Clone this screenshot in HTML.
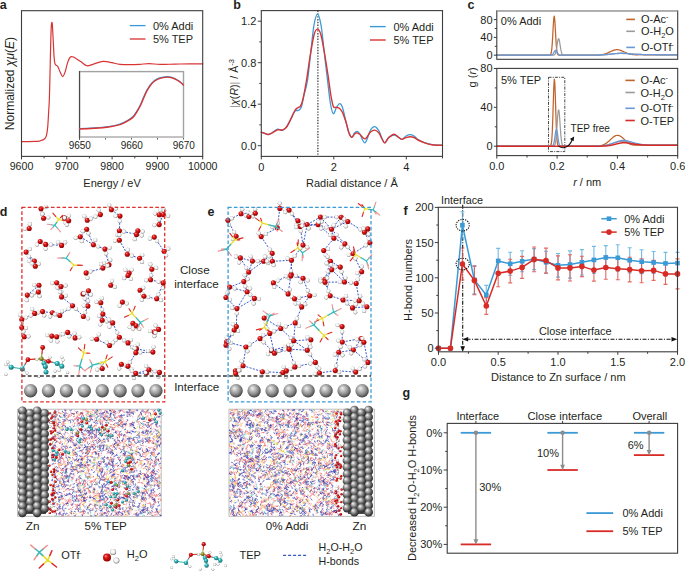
<!DOCTYPE html>
<html><head><meta charset="utf-8"><style>
html,body{margin:0;padding:0;background:#fff;width:685px;height:572px;overflow:hidden}
svg{display:block;font-family:"Liberation Sans",sans-serif}
.gO{fill:url(#gO)}.gH{fill:url(#gH)}.gZ{fill:url(#gZ)}.gC{fill:url(#gC)}.gP{fill:url(#gP)}.gS{fill:url(#gS)}
</style></head><body>
<svg width="685" height="572" viewBox="0 0 685 572">
<defs>
<radialGradient id="gO" cx="0.42" cy="0.38" r="0.62" fx="0.34" fy="0.3"><stop offset="0" stop-color="#ff9a9a"/><stop offset="0.35" stop-color="#e41a1a"/><stop offset="1" stop-color="#8a0000"/></radialGradient>
<radialGradient id="gH" cx="0.47" cy="0.45" r="0.55" fx="0.4" fy="0.36"><stop offset="0" stop-color="#ffffff"/><stop offset="0.55" stop-color="#f3f3f3"/><stop offset="0.8" stop-color="#bdbdbd"/><stop offset="1" stop-color="#6a6a6a"/></radialGradient>
<radialGradient id="gZ" cx="0.45" cy="0.42" r="0.6" fx="0.36" fy="0.3"><stop offset="0" stop-color="#f2f2f2"/><stop offset="0.28" stop-color="#c6c6c6"/><stop offset="0.65" stop-color="#8c8c8c"/><stop offset="0.88" stop-color="#565656"/><stop offset="1" stop-color="#383838"/></radialGradient>
<radialGradient id="gC" cx="0.42" cy="0.38" r="0.62" fx="0.34" fy="0.3"><stop offset="0" stop-color="#b8ffff"/><stop offset="0.4" stop-color="#35b5b8"/><stop offset="1" stop-color="#156a6c"/></radialGradient>
<radialGradient id="gP" cx="0.42" cy="0.38" r="0.62" fx="0.34" fy="0.3"><stop offset="0" stop-color="#e0e09a"/><stop offset="0.4" stop-color="#9a9a3a"/><stop offset="1" stop-color="#55551a"/></radialGradient>
<radialGradient id="gS" cx="0.45" cy="0.42" r="0.6" fx="0.33" fy="0.28"><stop offset="0" stop-color="#fafafa"/><stop offset="0.14" stop-color="#dadada"/><stop offset="0.45" stop-color="#8c8c8c"/><stop offset="0.75" stop-color="#4a4a4a"/><stop offset="1" stop-color="#202020"/></radialGradient>
</defs>
<g>
<path d="M119.4 337.3L109.6 345.5M154.3 237.1L164.1 251.3M83 293.9L87.9 306.1M21.8 319.6L24.3 336.7M150.6 279.8L163.2 282.9M102.2 320.2L112.7 322.9M39 285.3L38.4 292M42.6 311.6L34.7 313.4M87.9 306.1L83.4 316.5M34.4 261L35.3 266.2M39 285.3L27.3 295.1M109 264.8L102.9 268.1M40.2 241.5L45.7 244.4M119.4 230.7L119.4 240.3M100.8 302.8L102.2 320.2M121.4 364.2L135.8 373.4M159.2 214.8L159.2 224.6M127.3 254.2L139.6 258.3M135.8 373.4L149 369.8M104.9 249.1L109 264.8M56.7 336.7L67.7 332.4M67.7 332.4L75.1 337.9M86.7 229.2L93.4 244.8M83 293.9L88.5 290.8M21.8 319.6L21.8 327.5M163.2 282.9L156.7 298.8M86.1 272.9L102.9 268.1M120 216L119.4 230.7M21.8 327.5L24.3 336.7M61 286.5L61.6 296.9M52.4 312.8L59.8 315.5M135.8 352.7L152.9 352.1M41 208.7L43.6 218.2M45.7 244.4L61.6 245.4M102.9 314.1L112.7 322.9M100.8 302.8L102.9 314.1M96.7 339.2L109.6 345.5M93.4 244.8L104.9 249.1M135.8 373.4L146.4 373.1M38.4 292L27.3 295.1M26.1 252.1L35.3 266.2M56.7 282.8L61 286.5M128 342.9L135.8 352.7M86.7 229.2L80.3 236.8M59.8 315.5L72.6 305.7M111.4 209.7L120 216M88.5 290.8L87.9 306.1M119.4 337.3L128 342.9M119.4 240.3L127.3 254.2M128 366.3L135.8 373.4M163.2 214.6L159.2 224.6M42.6 311.6L52.4 312.8M140 290.2L143.9 296.3M136.5 348.8L152.9 352.1M135.8 352.7L128 366.3M119.4 230.7L136.5 234.4M72.6 305.7L83.4 316.5M151.8 269.3L150.6 279.8M87.3 220.3L100.4 214.6M121.4 364.2L128 366.3M64.3 217.8L68.7 220.7M26.1 252.1L34.4 261M61.6 296.9L72.6 305.7M102.9 314.1L102.2 320.2M149 369.8L159.5 372.4M56.7 282.8L61.6 296.9M112.7 322.9L119.4 337.3M143.9 296.3L156.7 298.8M34.7 313.4L21.8 319.6M80.3 236.8L93.4 244.8" stroke="#3858cc" stroke-width="1" stroke-dasharray="2,1.4" fill="none"/>
<path d="M41 208.7l2.4-.8M41 208.7l.7 2.5M43.6 218.2l-.6-2M43.6 218.2l2.4-.4M64.3 217.8l2.4-1M64.3 217.8l.4 2.4M68.7 220.7l-.9 2.1M68.7 220.7l-2.1-1.4M29.2 228.5l.3-2.1M29.2 228.5l-2.1 .2M87.3 220.3l-1.5-2M87.3 220.3l1.9-.8M86.7 229.2l.9 2M86.7 229.2l-2 1M80.3 236.8l-2.3 .6M80.3 236.8l.8 2.2M40.2 241.5l1.9 1M40.2 241.5l-1.6 1.6M45.7 244.4l2.6 .2M45.7 244.4l-.1 2.2M61.6 245.4l1.8-1.5M61.6 245.4l-1.8-1.5M26.1 252.1l1.4 2.2M26.1 252.1l1.9-1.5M34.4 261l-2.6-0M34.4 261l.4 2.4M35.3 266.2l1.7-1.1M35.3 266.2l-1.7-1.4M93.4 244.8l2.3 .9M93.4 244.8l.9-2.4M86.1 272.9l2.2-.6M86.1 272.9l.7 2.5M111.4 209.7l2.2-.6M111.4 209.7l-1-2.4M100.4 214.6l-2.5 1.1M100.4 214.6l-.8-2.1M120 216l-.1 2.5M120 216l-2.3-0M159.2 214.8l-2.1-.6M159.2 214.8l.5-2.4M163.2 214.6l.4-2.2M163.2 214.6l2.5 .6M159.2 224.6l-2.3 .3M159.2 224.6l0-2.5M119.4 230.7l2.3 .5M119.4 230.7l-1 2.1M137.8 230.7l2.4 .4M137.8 230.7l-.7 2.2M136.5 234.4l-.8 2.4M136.5 234.4l2.6 .6M154.3 237.1l-2.2 .8M154.3 237.1l1.4 2M119.4 240.3l0-2.7M119.4 240.3l-2.2 .3M104.9 249.1l.6 2.2M104.9 249.1l2.4-.6M127.3 254.2l.2-2.2M127.3 254.2l2.3 .8M164.1 251.3l2.1-1.3M164.1 251.3l1 2.1M139.6 258.3l1.4-1.6M139.6 258.3l1.2 1.8M109 264.8l-2.4-.9M109 264.8l.7-2.5M102.9 268.1l-.9-1.9M102.9 268.1l2.3-1.2M151.8 269.3l2.2-.7M151.8 269.3l-.7-2.5M129.2 273l-1.9-1.6M129.2 273l1.3-1.6M39 285.3l-2.3-.1M39 285.3l-.2 2.2M38.4 292l.5 2.1M38.4 292l-2.3 .6M56.7 282.8l-2.2 .1M56.7 282.8l.3 2.4M61 286.5l2.3-.4M61 286.5l.2 2.6M27.3 295.1l-.2 2.6M27.3 295.1l2.3 .1M61.6 296.9l2-.5M61.6 296.9l-.8-2.4M83 293.9l.9 2.3M83 293.9l1.9-.7M88.5 290.8l-2.3 1.3M88.5 290.8l1.2 2M87.9 306.1l.1-2.5M87.9 306.1l-2-.2M42.6 311.6l.9 1.9M42.6 311.6l-2.2 .5M34.7 313.4l-1.3-2.1M34.7 313.4l-1.9 1.1M52.4 312.8l2.2 .8M52.4 312.8l-1.1 1.9M59.8 315.5l-2.4-.6M59.8 315.5l1.2-2.1M72.6 305.7l-2 1.6M72.6 305.7l1.6 1.5M83.4 316.5l.9-2M83.4 316.5l2.3 1M21.8 319.6l-.9-2.4M21.8 319.6l2.2-1M21.8 327.5l0-2.2M21.8 327.5l2.1 .2M24.3 336.7l-.4-2.6M24.3 336.7l2.1-.1M51.8 336.1l-.4 2.2M51.8 336.1l-2.2-.5M56.7 336.7l2.2-1.2M56.7 336.7l.4 2.4M67.7 332.4l.7 2.1M67.7 332.4l-2.3 .9M75.1 337.9l-.3-2.1M75.1 337.9l2.1-.3M128 275.5l-1.9 1.4M128 275.5l1.5 1.8M150.6 279.8l-2.1 .2M150.6 279.8l.3-2.2M163.2 282.9l-2.3-.6M163.2 282.9l-.1 2.6M110.8 285.3l.7-2.2M110.8 285.3l2 .8M140 290.2l1.6-1.2M140 290.2l1.2 1.9M143.9 296.3l2.1 .4M143.9 296.3l-1.1 1.9M156.7 298.8l.9-2.1M156.7 298.8l2.1 .7M122.4 302.1l2.1 .7M122.4 302.1l-1.4 1.8M100.8 302.8l.6-2.3M100.8 302.8l-2.2-.4M102.9 314.1l-1.8 .9M102.9 314.1l-.4-2.2M102.2 320.2l-1 2.2M102.2 320.2l2.3 .6M112.7 322.9l-1.8-1.6M112.7 322.9l-1.6 1.9M132.9 323.3l1.9 1.7M132.9 323.3l-1.6 1.9M136.3 325.7l-1.7 1.5M136.3 325.7l1.5 1.6M154.3 331.8l.1 2.2M154.3 331.8l-2.1-.4M158.6 329.4l-1.6-1.9M158.6 329.4l-1.6 1.7M119.4 337.3l-1.1-2.3M119.4 337.3l-1.9 1.4M96.7 339.2l1-2.3M96.7 339.2l-2.4-.2M109.6 345.5l1.7-1.4M109.6 345.5l-1.4-1.5M128 342.9l1.4-1.4M128 342.9l-1.9-1.3M136.5 348.8l.6-2.1M136.5 348.8l-2.1-.8M135.8 352.7l2.3-.1M135.8 352.7l-.5-2.2M152.9 352.1l.3-2.5M152.9 352.1l-2.4-.5M121.4 364.2l2.1 .7M121.4 364.2l-1.1 2.2M128 366.3l1-1.9M128 366.3l1.6 1.5M102.3 368.5l-.4-2.5M102.3 368.5l-2.5 .6M135.8 373.4l-1.9-1.2M135.8 373.4l-1 2.3M146.4 373.1l.9-2.1M146.4 373.1l2.3 .8M149 369.8l-1.8 1.4M149 369.8l-1.4-1.9M159.5 372.4l-.5 2.1M159.5 372.4l-2.3-.6" stroke="#d83030" stroke-width="1.1" stroke-linecap="round" fill="none"/>
<path d="M43.4 207.9l2.4-.8M41.7 211.2l.7 2.5M43 216.2l-.6-2M46 217.8l2.4-.4M66.7 216.8l2.4-1M64.7 220.2l.4 2.4M67.8 222.8l-.9 2.1M66.6 219.3l-2.1-1.4M29.5 226.4l.3-2.1M27.1 228.7l-2.1 .2M85.8 218.3l-1.5-2M89.2 219.5l1.9-.8M87.6 231.2l.9 2M84.7 230.2l-2 1M78 237.4l-2.3 .6M81.1 239l.8 2.2M42.1 242.5l1.9 1M38.6 243.1l-1.6 1.6M48.3 244.6l2.6 .2M45.6 246.6l-.1 2.2M63.4 243.9l1.8-1.5M59.8 243.9l-1.8-1.5M27.5 254.3l1.4 2.2M28 250.6l1.9-1.5M31.8 261l-2.6-0M34.8 263.4l.4 2.4M37 265.1l1.7-1.1M33.6 264.8l-1.7-1.4M95.7 245.7l2.3 .9M94.3 242.4l.9-2.4M88.3 272.3l2.2-.6M86.8 275.4l.7 2.5M113.6 209.1l2.2-.6M110.4 207.3l-1-2.4M97.9 215.7l-2.5 1.1M99.6 212.5l-.8-2.1M119.9 218.5l-.1 2.5M117.7 216l-2.3-0M157.1 214.2l-2.1-.6M159.7 212.4l.5-2.4M163.6 212.4l.4-2.2M165.7 215.2l2.5 .6M156.9 224.9l-2.3 .3M159.2 222.1l0-2.5M121.7 231.2l2.3 .5M118.4 232.8l-1 2.1M140.2 231.1l2.4 .4M137.1 232.9l-.7 2.2M135.7 236.8l-.8 2.4M139.1 235l2.6 .6M152.1 237.9l-2.2 .8M155.7 239.1l1.4 2M119.4 237.6l0-2.7M117.2 240.6l-2.2 .3M105.5 251.3l.6 2.2M107.3 248.5l2.4-.6M127.5 252l.2-2.2M129.6 255l2.3 .8M166.2 250l2.1-1.3M165.1 253.4l1 2.1M141 256.7l1.4-1.6M140.8 260.1l1.2 1.8M106.6 263.9l-2.4-.9M109.7 262.3l.7-2.5M102 266.2l-.9-1.9M105.2 266.9l2.3-1.2M154 268.6l2.2-.7M151.1 266.8l-.7-2.5M127.3 271.4l-1.9-1.6M130.5 271.4l1.3-1.6M36.7 285.2l-2.3-.1M38.8 287.5l-.2 2.2M38.9 294.1l.5 2.1M36.1 292.6l-2.3 .6M54.5 282.9l-2.2 .1M57 285.2l.3 2.4M63.3 286.1l2.3-.4M61.2 289.1l.2 2.6M27.1 297.7l-.2 2.6M29.6 295.2l2.3 .1M63.6 296.4l2-.5M60.8 294.5l-.8-2.4M83.9 296.2l.9 2.3M84.9 293.2l1.9-.7M86.2 292.1l-2.3 1.3M89.7 292.8l1.2 2M88 303.6l.1-2.5M85.9 305.9l-2-.2M43.5 313.5l.9 1.9M40.4 312.1l-2.2 .5M33.4 311.3l-1.3-2.1M32.8 314.5l-1.9 1.1M54.6 313.6l2.2 .8M51.3 314.7l-1.1 1.9M57.4 314.9l-2.4-.6M61 313.4l1.2-2.1M70.6 307.3l-2 1.6M74.2 307.2l1.6 1.5M84.3 314.5l.9-2M85.7 317.5l2.3 1M20.9 317.2l-.9-2.4M24 318.6l2.2-1M21.8 325.3l0-2.2M23.9 327.7l2.1 .2M23.9 334.1l-.4-2.6M26.4 336.6l2.1-.1M51.4 338.3l-.4 2.2M49.6 335.6l-2.2-.5M58.9 335.5l2.2-1.2M57.1 339.1l.4 2.4M68.4 334.5l.7 2.1M65.4 333.3l-2.3 .9M74.8 335.8l-.3-2.1M77.2 337.6l2.1-.3M126.1 276.9l-1.9 1.4M129.5 277.3l1.5 1.8M148.5 280l-2.1 .2M150.9 277.6l.3-2.2M160.9 282.3l-2.3-.6M163.1 285.5l-.1 2.6M111.5 283.1l.7-2.2M112.8 286.1l2 .8M141.6 289l1.6-1.2M141.2 292.1l1.2 1.9M146 296.7l2.1 .4M142.8 298.2l-1.1 1.9M157.6 296.7l.9-2.1M158.8 299.5l2.1 .7M124.5 302.8l2.1 .7M121 303.9l-1.4 1.8M101.4 300.5l.6-2.3M98.6 302.4l-2.2-.4M101.1 315l-1.8 .9M102.5 311.9l-.4-2.2M101.2 322.4l-1 2.2M104.5 320.8l2.3 .6M110.9 321.3l-1.8-1.6M111.1 324.8l-1.6 1.9M134.8 325l1.9 1.7M131.3 325.2l-1.6 1.9M134.6 327.2l-1.7 1.5M137.8 327.3l1.5 1.6M154.4 334l.1 2.2M152.2 331.4l-2.1-.4M157 327.5l-1.6-1.9M157 331.1l-1.6 1.7M118.3 335l-1.1-2.3M117.5 338.7l-1.9 1.4M97.7 336.9l1-2.3M94.3 339l-2.4-.2M111.3 344.1l1.7-1.4M108.2 344l-1.4-1.5M129.4 341.5l1.4-1.4M126.1 341.6l-1.9-1.3M137.1 346.7l.6-2.1M134.4 348l-2.1-.8M138.1 352.6l2.3-.1M135.3 350.5l-.5-2.2M153.2 349.6l.3-2.5M150.5 351.6l-2.4-.5M123.5 364.9l2.1 .7M120.3 366.4l-1.1 2.2M129 364.4l1-1.9M129.6 367.8l1.6 1.5M101.9 366l-.4-2.5M99.8 369.1l-2.5 .6M133.9 372.2l-1.9-1.2M134.8 375.7l-1 2.3M147.3 371l.9-2.1M148.7 373.9l2.3 .8M147.2 371.2l-1.8 1.4M147.6 367.9l-1.4-1.9M159 374.5l-.5 2.1M157.2 371.8l-2.3-.6" stroke="#e8e8e8" stroke-width="1.1" stroke-linecap="round" fill="none"/>
<circle cx="45.8" cy="207.1" r="2.1" class="gH"/>
<circle cx="41" cy="208.7" r="2.55" class="gO"/>
<circle cx="42.4" cy="213.7" r="2.1" class="gH"/>
<circle cx="42.4" cy="214.2" r="2.1" class="gH"/>
<circle cx="43.6" cy="218.2" r="2.55" class="gO"/>
<circle cx="48.4" cy="217.5" r="2.1" class="gH"/>
<circle cx="69" cy="215.8" r="2.1" class="gH"/>
<circle cx="64.3" cy="217.8" r="2.55" class="gO"/>
<circle cx="65.2" cy="222.6" r="2.1" class="gH"/>
<circle cx="66.9" cy="224.8" r="2.1" class="gH"/>
<circle cx="68.7" cy="220.7" r="2.55" class="gO"/>
<circle cx="64.5" cy="217.9" r="2.1" class="gH"/>
<circle cx="29.9" cy="224.2" r="2.1" class="gH"/>
<circle cx="29.2" cy="228.5" r="2.55" class="gO"/>
<circle cx="25" cy="228.8" r="2.1" class="gH"/>
<circle cx="84.4" cy="216.3" r="2.1" class="gH"/>
<circle cx="87.3" cy="220.3" r="2.55" class="gO"/>
<circle cx="91" cy="218.7" r="2.1" class="gH"/>
<circle cx="88.5" cy="233.3" r="2.1" class="gH"/>
<circle cx="86.7" cy="229.2" r="2.55" class="gO"/>
<circle cx="82.8" cy="231.2" r="2.1" class="gH"/>
<circle cx="75.7" cy="237.9" r="2.1" class="gH"/>
<circle cx="80.3" cy="236.8" r="2.55" class="gO"/>
<circle cx="81.9" cy="241.2" r="2.1" class="gH"/>
<circle cx="44" cy="243.5" r="2.1" class="gH"/>
<circle cx="40.2" cy="241.5" r="2.55" class="gO"/>
<circle cx="37" cy="244.7" r="2.1" class="gH"/>
<circle cx="50.9" cy="244.7" r="2.1" class="gH"/>
<circle cx="45.7" cy="244.4" r="2.55" class="gO"/>
<circle cx="45.6" cy="248.8" r="2.1" class="gH"/>
<circle cx="65.2" cy="242.4" r="2.1" class="gH"/>
<circle cx="61.6" cy="245.4" r="2.55" class="gO"/>
<circle cx="58.1" cy="242.3" r="2.1" class="gH"/>
<circle cx="28.9" cy="256.5" r="2.1" class="gH"/>
<circle cx="26.1" cy="252.1" r="2.55" class="gO"/>
<circle cx="29.8" cy="249.1" r="2.1" class="gH"/>
<circle cx="29.3" cy="261" r="2.1" class="gH"/>
<circle cx="34.4" cy="261" r="2.55" class="gO"/>
<circle cx="35.2" cy="265.8" r="2.1" class="gH"/>
<circle cx="38.7" cy="263.9" r="2.1" class="gH"/>
<circle cx="35.3" cy="266.2" r="2.55" class="gO"/>
<circle cx="32" cy="263.5" r="2.1" class="gH"/>
<circle cx="98.1" cy="246.5" r="2.1" class="gH"/>
<circle cx="93.4" cy="244.8" r="2.55" class="gO"/>
<circle cx="95.3" cy="240.1" r="2.1" class="gH"/>
<circle cx="90.5" cy="271.6" r="2.1" class="gH"/>
<circle cx="86.1" cy="272.9" r="2.55" class="gO"/>
<circle cx="87.5" cy="277.9" r="2.1" class="gH"/>
<circle cx="115.8" cy="208.6" r="2.1" class="gH"/>
<circle cx="111.4" cy="209.7" r="2.55" class="gO"/>
<circle cx="109.3" cy="205" r="2.1" class="gH"/>
<circle cx="95.5" cy="216.7" r="2.1" class="gH"/>
<circle cx="100.4" cy="214.6" r="2.55" class="gO"/>
<circle cx="98.8" cy="210.3" r="2.1" class="gH"/>
<circle cx="119.8" cy="221" r="2.1" class="gH"/>
<circle cx="120" cy="216" r="2.55" class="gO"/>
<circle cx="115.5" cy="216" r="2.1" class="gH"/>
<circle cx="155" cy="213.6" r="2.1" class="gH"/>
<circle cx="159.2" cy="214.8" r="2.55" class="gO"/>
<circle cx="160.2" cy="210" r="2.1" class="gH"/>
<circle cx="164.1" cy="210.2" r="2.1" class="gH"/>
<circle cx="163.2" cy="214.6" r="2.55" class="gO"/>
<circle cx="168.2" cy="215.8" r="2.1" class="gH"/>
<circle cx="154.5" cy="225.2" r="2.1" class="gH"/>
<circle cx="159.2" cy="224.6" r="2.55" class="gO"/>
<circle cx="159.2" cy="219.6" r="2.1" class="gH"/>
<circle cx="123.9" cy="231.7" r="2.1" class="gH"/>
<circle cx="119.4" cy="230.7" r="2.55" class="gO"/>
<circle cx="117.3" cy="234.9" r="2.1" class="gH"/>
<circle cx="142.6" cy="231.6" r="2.1" class="gH"/>
<circle cx="137.8" cy="230.7" r="2.55" class="gO"/>
<circle cx="136.4" cy="235.2" r="2.1" class="gH"/>
<circle cx="134.8" cy="239.2" r="2.1" class="gH"/>
<circle cx="136.5" cy="234.4" r="2.55" class="gO"/>
<circle cx="141.7" cy="235.6" r="2.1" class="gH"/>
<circle cx="149.9" cy="238.7" r="2.1" class="gH"/>
<circle cx="154.3" cy="237.1" r="2.55" class="gO"/>
<circle cx="157" cy="241" r="2.1" class="gH"/>
<circle cx="119.4" cy="235" r="2.1" class="gH"/>
<circle cx="119.4" cy="240.3" r="2.55" class="gO"/>
<circle cx="115" cy="240.8" r="2.1" class="gH"/>
<circle cx="106.1" cy="253.6" r="2.1" class="gH"/>
<circle cx="104.9" cy="249.1" r="2.55" class="gO"/>
<circle cx="109.7" cy="247.8" r="2.1" class="gH"/>
<circle cx="127.8" cy="249.9" r="2.1" class="gH"/>
<circle cx="127.3" cy="254.2" r="2.55" class="gO"/>
<circle cx="131.8" cy="255.7" r="2.1" class="gH"/>
<circle cx="168.3" cy="248.7" r="2.1" class="gH"/>
<circle cx="164.1" cy="251.3" r="2.55" class="gO"/>
<circle cx="166.1" cy="255.5" r="2.1" class="gH"/>
<circle cx="142.3" cy="255" r="2.1" class="gH"/>
<circle cx="139.6" cy="258.3" r="2.55" class="gO"/>
<circle cx="142.1" cy="261.9" r="2.1" class="gH"/>
<circle cx="104.1" cy="263.1" r="2.1" class="gH"/>
<circle cx="109" cy="264.8" r="2.55" class="gO"/>
<circle cx="110.3" cy="259.9" r="2.1" class="gH"/>
<circle cx="101.1" cy="264.2" r="2.1" class="gH"/>
<circle cx="102.9" cy="268.1" r="2.55" class="gO"/>
<circle cx="107.5" cy="265.6" r="2.1" class="gH"/>
<circle cx="156.2" cy="267.9" r="2.1" class="gH"/>
<circle cx="151.8" cy="269.3" r="2.55" class="gO"/>
<circle cx="150.4" cy="264.4" r="2.1" class="gH"/>
<circle cx="125.4" cy="269.8" r="2.1" class="gH"/>
<circle cx="129.2" cy="273" r="2.55" class="gO"/>
<circle cx="131.7" cy="269.8" r="2.1" class="gH"/>
<circle cx="34.3" cy="285.1" r="2.1" class="gH"/>
<circle cx="39" cy="285.3" r="2.55" class="gO"/>
<circle cx="38.6" cy="289.6" r="2.1" class="gH"/>
<circle cx="39.5" cy="296.2" r="2.1" class="gH"/>
<circle cx="38.4" cy="292" r="2.55" class="gO"/>
<circle cx="33.8" cy="293.3" r="2.1" class="gH"/>
<circle cx="52.3" cy="283.1" r="2.1" class="gH"/>
<circle cx="56.7" cy="282.8" r="2.55" class="gO"/>
<circle cx="57.4" cy="287.6" r="2.1" class="gH"/>
<circle cx="65.6" cy="285.6" r="2.1" class="gH"/>
<circle cx="61" cy="286.5" r="2.55" class="gO"/>
<circle cx="61.3" cy="291.8" r="2.1" class="gH"/>
<circle cx="26.9" cy="300.2" r="2.1" class="gH"/>
<circle cx="27.3" cy="295.1" r="2.55" class="gO"/>
<circle cx="31.9" cy="295.4" r="2.1" class="gH"/>
<circle cx="65.7" cy="295.8" r="2.1" class="gH"/>
<circle cx="61.6" cy="296.9" r="2.55" class="gO"/>
<circle cx="59.9" cy="292.1" r="2.1" class="gH"/>
<circle cx="84.9" cy="298.6" r="2.1" class="gH"/>
<circle cx="83" cy="293.9" r="2.55" class="gO"/>
<circle cx="86.9" cy="292.6" r="2.1" class="gH"/>
<circle cx="83.9" cy="293.4" r="2.1" class="gH"/>
<circle cx="88.5" cy="290.8" r="2.55" class="gO"/>
<circle cx="90.8" cy="294.7" r="2.1" class="gH"/>
<circle cx="88.1" cy="301" r="2.1" class="gH"/>
<circle cx="87.9" cy="306.1" r="2.55" class="gO"/>
<circle cx="83.9" cy="305.6" r="2.1" class="gH"/>
<circle cx="44.3" cy="315.4" r="2.1" class="gH"/>
<circle cx="42.6" cy="311.6" r="2.55" class="gO"/>
<circle cx="38.2" cy="312.6" r="2.1" class="gH"/>
<circle cx="32.2" cy="309.1" r="2.1" class="gH"/>
<circle cx="34.7" cy="313.4" r="2.55" class="gO"/>
<circle cx="30.8" cy="315.6" r="2.1" class="gH"/>
<circle cx="56.8" cy="314.4" r="2.1" class="gH"/>
<circle cx="52.4" cy="312.8" r="2.55" class="gO"/>
<circle cx="50.1" cy="316.6" r="2.1" class="gH"/>
<circle cx="54.9" cy="314.3" r="2.1" class="gH"/>
<circle cx="59.8" cy="315.5" r="2.55" class="gO"/>
<circle cx="62.1" cy="311.3" r="2.1" class="gH"/>
<circle cx="68.5" cy="308.8" r="2.1" class="gH"/>
<circle cx="72.6" cy="305.7" r="2.55" class="gO"/>
<circle cx="75.9" cy="308.8" r="2.1" class="gH"/>
<circle cx="85.1" cy="312.5" r="2.1" class="gH"/>
<circle cx="83.4" cy="316.5" r="2.55" class="gO"/>
<circle cx="88" cy="318.5" r="2.1" class="gH"/>
<circle cx="20" cy="314.9" r="2.1" class="gH"/>
<circle cx="21.8" cy="319.6" r="2.55" class="gO"/>
<circle cx="26.1" cy="317.5" r="2.1" class="gH"/>
<circle cx="21.8" cy="323.1" r="2.1" class="gH"/>
<circle cx="21.8" cy="327.5" r="2.55" class="gO"/>
<circle cx="26" cy="328" r="2.1" class="gH"/>
<circle cx="23.5" cy="331.5" r="2.1" class="gH"/>
<circle cx="24.3" cy="336.7" r="2.55" class="gO"/>
<circle cx="28.5" cy="336.4" r="2.1" class="gH"/>
<circle cx="51" cy="340.6" r="2.1" class="gH"/>
<circle cx="51.8" cy="336.1" r="2.55" class="gO"/>
<circle cx="47.3" cy="335.1" r="2.1" class="gH"/>
<circle cx="61.2" cy="334.4" r="2.1" class="gH"/>
<circle cx="56.7" cy="336.7" r="2.55" class="gO"/>
<circle cx="57.4" cy="341.5" r="2.1" class="gH"/>
<circle cx="69.1" cy="336.5" r="2.1" class="gH"/>
<circle cx="67.7" cy="332.4" r="2.55" class="gO"/>
<circle cx="63" cy="334.2" r="2.1" class="gH"/>
<circle cx="74.5" cy="333.6" r="2.1" class="gH"/>
<circle cx="75.1" cy="337.9" r="2.55" class="gO"/>
<circle cx="79.3" cy="337.3" r="2.1" class="gH"/>
<circle cx="124.2" cy="278.2" r="2.1" class="gH"/>
<circle cx="128" cy="275.5" r="2.55" class="gO"/>
<circle cx="130.9" cy="279" r="2.1" class="gH"/>
<circle cx="146.3" cy="280.3" r="2.1" class="gH"/>
<circle cx="150.6" cy="279.8" r="2.55" class="gO"/>
<circle cx="151.1" cy="275.3" r="2.1" class="gH"/>
<circle cx="158.6" cy="281.8" r="2.1" class="gH"/>
<circle cx="163.2" cy="282.9" r="2.55" class="gO"/>
<circle cx="163" cy="288.1" r="2.1" class="gH"/>
<circle cx="112.1" cy="280.8" r="2.1" class="gH"/>
<circle cx="110.8" cy="285.3" r="2.55" class="gO"/>
<circle cx="114.8" cy="286.9" r="2.1" class="gH"/>
<circle cx="143.3" cy="287.8" r="2.1" class="gH"/>
<circle cx="140" cy="290.2" r="2.55" class="gO"/>
<circle cx="142.4" cy="293.9" r="2.1" class="gH"/>
<circle cx="148.2" cy="297.1" r="2.1" class="gH"/>
<circle cx="143.9" cy="296.3" r="2.55" class="gO"/>
<circle cx="141.8" cy="300" r="2.1" class="gH"/>
<circle cx="158.4" cy="294.6" r="2.1" class="gH"/>
<circle cx="156.7" cy="298.8" r="2.55" class="gO"/>
<circle cx="161" cy="300.2" r="2.1" class="gH"/>
<circle cx="126.7" cy="303.5" r="2.1" class="gH"/>
<circle cx="122.4" cy="302.1" r="2.55" class="gO"/>
<circle cx="119.6" cy="305.7" r="2.1" class="gH"/>
<circle cx="101.9" cy="298.3" r="2.1" class="gH"/>
<circle cx="100.8" cy="302.8" r="2.55" class="gO"/>
<circle cx="96.5" cy="301.9" r="2.1" class="gH"/>
<circle cx="99.3" cy="315.9" r="2.1" class="gH"/>
<circle cx="102.9" cy="314.1" r="2.55" class="gO"/>
<circle cx="102.1" cy="309.6" r="2.1" class="gH"/>
<circle cx="100.3" cy="324.5" r="2.1" class="gH"/>
<circle cx="102.2" cy="320.2" r="2.55" class="gO"/>
<circle cx="106.8" cy="321.4" r="2.1" class="gH"/>
<circle cx="109.1" cy="319.7" r="2.1" class="gH"/>
<circle cx="112.7" cy="322.9" r="2.55" class="gO"/>
<circle cx="109.5" cy="326.8" r="2.1" class="gH"/>
<circle cx="136.7" cy="326.7" r="2.1" class="gH"/>
<circle cx="132.9" cy="323.3" r="2.55" class="gO"/>
<circle cx="129.8" cy="327.2" r="2.1" class="gH"/>
<circle cx="133" cy="328.7" r="2.1" class="gH"/>
<circle cx="136.3" cy="325.7" r="2.55" class="gO"/>
<circle cx="139.3" cy="328.9" r="2.1" class="gH"/>
<circle cx="154.4" cy="336.2" r="2.1" class="gH"/>
<circle cx="154.3" cy="331.8" r="2.55" class="gO"/>
<circle cx="150.1" cy="331" r="2.1" class="gH"/>
<circle cx="155.5" cy="325.6" r="2.1" class="gH"/>
<circle cx="158.6" cy="329.4" r="2.55" class="gO"/>
<circle cx="155.3" cy="332.7" r="2.1" class="gH"/>
<circle cx="117.2" cy="332.6" r="2.1" class="gH"/>
<circle cx="119.4" cy="337.3" r="2.55" class="gO"/>
<circle cx="115.6" cy="340.1" r="2.1" class="gH"/>
<circle cx="98.8" cy="334.5" r="2.1" class="gH"/>
<circle cx="96.7" cy="339.2" r="2.55" class="gO"/>
<circle cx="91.9" cy="338.8" r="2.1" class="gH"/>
<circle cx="113" cy="342.6" r="2.1" class="gH"/>
<circle cx="109.6" cy="345.5" r="2.55" class="gO"/>
<circle cx="106.7" cy="342.6" r="2.1" class="gH"/>
<circle cx="130.9" cy="340" r="2.1" class="gH"/>
<circle cx="128" cy="342.9" r="2.55" class="gO"/>
<circle cx="124.1" cy="340.4" r="2.1" class="gH"/>
<circle cx="137.8" cy="344.6" r="2.1" class="gH"/>
<circle cx="136.5" cy="348.8" r="2.55" class="gO"/>
<circle cx="132.3" cy="347.2" r="2.1" class="gH"/>
<circle cx="140.4" cy="352.5" r="2.1" class="gH"/>
<circle cx="135.8" cy="352.7" r="2.55" class="gO"/>
<circle cx="134.8" cy="348.3" r="2.1" class="gH"/>
<circle cx="153.5" cy="347.1" r="2.1" class="gH"/>
<circle cx="152.9" cy="352.1" r="2.55" class="gO"/>
<circle cx="148.1" cy="351.1" r="2.1" class="gH"/>
<circle cx="125.7" cy="365.6" r="2.1" class="gH"/>
<circle cx="121.4" cy="364.2" r="2.55" class="gO"/>
<circle cx="119.3" cy="368.6" r="2.1" class="gH"/>
<circle cx="130" cy="362.4" r="2.1" class="gH"/>
<circle cx="128" cy="366.3" r="2.55" class="gO"/>
<circle cx="131.3" cy="369.3" r="2.1" class="gH"/>
<circle cx="101.6" cy="363.4" r="2.1" class="gH"/>
<circle cx="102.3" cy="368.5" r="2.55" class="gO"/>
<circle cx="97.3" cy="369.7" r="2.1" class="gH"/>
<circle cx="132.1" cy="371" r="2.1" class="gH"/>
<circle cx="135.8" cy="373.4" r="2.55" class="gO"/>
<circle cx="133.9" cy="378" r="2.1" class="gH"/>
<circle cx="148.2" cy="368.9" r="2.1" class="gH"/>
<circle cx="146.4" cy="373.1" r="2.55" class="gO"/>
<circle cx="151.1" cy="374.7" r="2.1" class="gH"/>
<circle cx="145.5" cy="372.6" r="2.1" class="gH"/>
<circle cx="149" cy="369.8" r="2.55" class="gO"/>
<circle cx="146.2" cy="366.1" r="2.1" class="gH"/>
<circle cx="158.5" cy="376.6" r="2.1" class="gH"/>
<circle cx="159.5" cy="372.4" r="2.55" class="gO"/>
<circle cx="155" cy="371.3" r="2.1" class="gH"/>
<path d="M58.5 219.7l-1.8 2.8" stroke="#e8dc28" stroke-width="1.3" stroke-linecap="round" fill="none"/>
<path d="M56.7 222.4l-1.8 2.8" stroke="#38b8b8" stroke-width="1.3" stroke-linecap="round" fill="none"/>
<path d="M58.5 219.7l3.8 .5M58.5 219.7l2-2.1M58.5 219.7l-2.8-3.3" stroke="#e8dc28" stroke-width="1.1" stroke-linecap="round" fill="none"/>
<path d="M62.3 220.2l3.8 .5M60.5 217.6l2-2.1M55.7 216.4l-2.8-3.3" stroke="#e02424" stroke-width="1.1" stroke-linecap="round" fill="none"/>
<path d="M54.9 225.2l-3.8-.5M54.9 225.2l-2 2.1M54.9 225.2l2.8 3.3" stroke="#38b8b8" stroke-width="1.1" stroke-linecap="round" fill="none"/>
<path d="M51.1 224.7l-3.8-.5M52.9 227.3l-2 2.1M57.7 228.5l2.8 3.3" stroke="#f09090" stroke-width="1.1" stroke-linecap="round" fill="none"/>
<path d="M73.8 265l-3.8-3.4" stroke="#e8dc28" stroke-width="1.3" stroke-linecap="round" fill="none"/>
<path d="M70 261.6l-3.8-3.4" stroke="#38b8b8" stroke-width="1.3" stroke-linecap="round" fill="none"/>
<path d="M73.8 265l3.5 .2M73.8 265l4.4 .1M73.8 265l-1.8 2.8" stroke="#e8dc28" stroke-width="1.1" stroke-linecap="round" fill="none"/>
<path d="M77.3 265.2l3.5 .2M78.2 265.1l4.4 .1M72 267.8l-1.8 2.8" stroke="#e02424" stroke-width="1.1" stroke-linecap="round" fill="none"/>
<path d="M66.2 258.2l-3.5-.2M66.2 258.2l-4.4-.1M66.2 258.2l1.8-2.8" stroke="#38b8b8" stroke-width="1.1" stroke-linecap="round" fill="none"/>
<path d="M62.7 258l-3.5-.2M61.8 258.1l-4.4-.1M68 255.4l1.8-2.8" stroke="#f09090" stroke-width="1.1" stroke-linecap="round" fill="none"/>
<path d="M132.2 313.5l4 4.4" stroke="#e8dc28" stroke-width="1.3" stroke-linecap="round" fill="none"/>
<path d="M136.2 317.9l4 4.4" stroke="#38b8b8" stroke-width="1.3" stroke-linecap="round" fill="none"/>
<path d="M132.2 313.5l1.5-3.6M132.2 313.5l-1.6-2.4M132.2 313.5l-3.9 1.9" stroke="#e8dc28" stroke-width="1.1" stroke-linecap="round" fill="none"/>
<path d="M133.7 309.9l1.5-3.6M130.6 311.1l-1.6-2.4M128.3 315.4l-3.9 1.9" stroke="#e02424" stroke-width="1.1" stroke-linecap="round" fill="none"/>
<path d="M140.2 322.4l-1.5 3.6M140.2 322.4l1.6 2.4M140.2 322.4l3.9-1.9" stroke="#38b8b8" stroke-width="1.1" stroke-linecap="round" fill="none"/>
<path d="M138.7 326l-1.5 3.6M141.8 324.8l1.6 2.4M144.1 320.5l3.9-1.9" stroke="#f09090" stroke-width="1.1" stroke-linecap="round" fill="none"/>
<path d="M83.8 353l-2 6.5" stroke="#e8dc28" stroke-width="1.3" stroke-linecap="round" fill="none"/>
<path d="M81.8 359.5l-2 6.5" stroke="#38b8b8" stroke-width="1.3" stroke-linecap="round" fill="none"/>
<path d="M83.8 353l.5-4.3M83.8 353l3 .1M83.8 353l-2.7-2.6" stroke="#e8dc28" stroke-width="1.1" stroke-linecap="round" fill="none"/>
<path d="M84.3 348.7l.5-4.3M86.8 353.1l3 .1M81.1 350.4l-2.7-2.6" stroke="#e02424" stroke-width="1.1" stroke-linecap="round" fill="none"/>
<path d="M79.8 366l-.5 4.3M79.8 366l-3-.1M79.8 366l2.7 2.6" stroke="#38b8b8" stroke-width="1.1" stroke-linecap="round" fill="none"/>
<path d="M79.3 370.3l-.5 4.3M76.8 365.9l-3-.1M82.5 368.6l2.7 2.6" stroke="#f09090" stroke-width="1.1" stroke-linecap="round" fill="none"/>
<path d="M105 361.9l-6.2 1.6" stroke="#e8dc28" stroke-width="1.3" stroke-linecap="round" fill="none"/>
<path d="M98.8 363.5l-6.2 1.7" stroke="#38b8b8" stroke-width="1.3" stroke-linecap="round" fill="none"/>
<path d="M105 361.9l3.6-2.5M105 361.9l1.4 2.7M105 361.9l1.1-3.5" stroke="#e8dc28" stroke-width="1.1" stroke-linecap="round" fill="none"/>
<path d="M108.6 359.4l3.6-2.5M106.4 364.6l1.4 2.7M106.1 358.4l1.1-3.5" stroke="#e02424" stroke-width="1.1" stroke-linecap="round" fill="none"/>
<path d="M92.5 365.2l-3.6 2.5M92.5 365.2l-1.4-2.7M92.5 365.2l-1.1 3.5" stroke="#38b8b8" stroke-width="1.1" stroke-linecap="round" fill="none"/>
<path d="M88.9 367.7l-3.6 2.5M91.1 362.5l-1.4-2.7M91.4 368.7l-1.1 3.5" stroke="#f09090" stroke-width="1.1" stroke-linecap="round" fill="none"/>
<path d="M291.5 260.3L303 245.1M294.5 298.8L301.7 306.9M288.1 293.9L294.5 298.8M335.3 370.6L338.8 352.3M344.9 243.9L353.1 253.7M236.9 308.6L236.4 326.6M277.3 227.7L261.2 236.6M297.9 220.7L307.2 224.6M294.9 366.9L315.4 362.4M310.9 339.7L307.3 350.2M271.5 350.4L289.2 349.2M300.1 226.4L307.2 224.6M260 338.6L245.9 347M274.4 353.2L289.2 345.8M272.4 261.3L291.5 260.3M261.2 236.6L272.2 253.4M240.4 257.9L248.7 272.1M289.2 349.2L294.9 366.9M325 282.2L330.2 295.7M353.4 350L368 362.4M300.1 226.4L303 245.1M279.8 208.4L277.3 227.7M318 224.6L331.5 229.2M229.6 287.1L247.1 291.8M323.7 250.5L330.5 261.3M247.1 291.8L236.9 308.6M262.4 371.7L282.9 372.6M289.2 349.2L293.7 340.7M315.4 362.4L319.5 373M264.2 318L269.8 333.4M333.9 238.3L344.9 243.9M252.4 261.1L263.6 261.3M341.2 217.2L347.8 221.5M243.1 365.7L235.4 370.9M241 213.8L255.3 213.3M323.7 250.5L331.7 269.8M289.1 210.1L300.1 226.4M295.2 322.9L293.7 340.7M263.6 261.3L272.4 261.3M330.5 261.3L331.7 269.8M269.8 333.4L280.8 328.5M342.3 342L353.4 350M333.9 238.3L323.7 250.5M286.3 370.9L294.9 366.9M280.8 328.5L295.2 322.9M243.1 365.7L262.4 371.7M247.1 291.8L254.4 298.4M347.8 221.5L331.5 229.2M297.9 220.7L300.1 226.4M361.1 338.5L342.3 342M307.2 224.6L318 224.6M234.2 330L226 345.2M263.6 261.3L248.7 272.1M369.9 242.7L353.1 253.7M359.2 300.8L352.5 307.9M331.5 229.2L333.9 238.3M271.5 350.4L289.2 345.8M340.3 267.1L344.5 282M325 282.2L344.5 282M318 224.6L320.4 217M291.5 260.3L290.8 275.9M347.8 221.5L364.5 232.2M344.5 282L356.2 283.5M331.7 269.8L325 279.2M361.1 338.5L353.4 350M335.3 370.6L355.7 372.1M338.8 352.3L353.4 350M325 279.2L330.2 295.7M294.5 298.8L309.7 295.7M274.4 353.2L289.2 349.2M260 338.6L271.5 350.4M353.4 350L363.9 342.2M254.4 298.4L236.9 308.6M356.2 283.5L359.2 300.8M320.4 217L341.2 217.2M226.6 341.8L245.9 347M319.5 373L335.3 370.6M331.7 269.8L344.5 282M367.8 228.9L369.9 242.7M243.8 281.6L247.1 291.8M236.4 326.6L226.6 341.8M361.7 271.7L356.2 283.5M291.2 274.2L303 278.3M353.1 253.7L361.7 271.7M318 224.6L333.9 238.3M330.2 295.7L343 300M320.4 217L331.5 229.2M229.6 287.1L225.9 297.5M290.8 275.9L303 278.3M248.7 272.1L243.8 281.6M248.9 216.6L255.3 213.3M272.2 253.4L272.4 261.3M264.2 318L280.8 328.5M342.3 342L338.8 352.3M269.8 333.4L260 338.6M307.3 350.2L315.4 362.4M309.7 295.7L301.7 306.9M343 300L359.2 300.8M243.1 365.7L235.7 373.7M330.5 261.3L325 279.2M241 213.8L227.9 220.3M359.2 300.8L366.9 306.7M303 278.3L309.7 295.7M310.9 339.7L293.7 340.7M342.1 326.5L342.3 342M279.8 208.4L289.1 210.1M300.1 226.4L318 224.6M252.4 261.1L248.7 272.1M343 300L352.5 307.9M269.8 333.4L274.4 353.2M307.2 224.6L320.4 217M289.2 345.8L293.7 340.7M363.9 342.2L368 362.4M307.2 224.6L303 245.1M289.2 349.2L307.3 350.2M366.9 306.7L352.5 307.9M291.2 274.2L273.4 282.9M245.9 347L243.1 365.7M291.5 260.3L291.2 274.2M331.5 229.2L344.9 243.9M273.4 282.9L288.1 293.9M289.1 210.1L297.9 220.7M331.7 269.8L325 282.2M241 213.8L248.9 216.6M225.9 297.5L236.9 308.6M280.8 328.5L293.7 340.7M243.8 281.6L229.6 287.1M368 362.4L355.7 372.1M293.7 340.7L307.3 350.2M227.9 220.3L236.1 236.2M330.5 261.3L340.3 267.1M364.5 232.2L369.9 242.7M290.8 275.9L288.1 293.9M282.9 372.6L294.9 366.9M295.2 322.9L301.7 306.9M341.2 217.2L331.5 229.2M340.3 267.1L331.7 269.8M272.2 253.4L263.6 261.3M240.4 257.9L252.4 261.1M234.2 330L226.6 341.8" stroke="#3858cc" stroke-width="1" stroke-dasharray="2,1.4" fill="none"/>
<path d="M241 213.8l2.5 .9M241 213.8l.7-2.2M248.9 216.6l2-.1M248.9 216.6l-.5-2.1M255.3 213.3l-.1-2.1M255.3 213.3l-2.2 .1M279.8 208.4l-0-2.5M279.8 208.4l2.3 .4M289.1 210.1l1.5 1.8M289.1 210.1l-1.9 1M297.9 220.7l-1 2.3M297.9 220.7l2.3 1M227.9 220.3l.6 2.2M227.9 220.3l1.9-1M236.1 236.2l-1-2.1M236.1 236.2l-1.6 1.3M277.3 227.7l.3-2.3M277.3 227.7l-2.4-.3M261.2 236.6l2.3-1.3M261.2 236.6l-1.2-1.6M272.2 253.4l-1.2-1.8M272.2 253.4l-1.5 1.5M240.4 257.9l-2.2-.6M240.4 257.9l-.6 2.3M252.4 261.1l2.7 0M252.4 261.1l-.8-2.3M263.6 261.3l.7-2.3M263.6 261.3l2.2 .9M272.4 261.3l-2.7 0M272.4 261.3l.6 2M291.5 260.3l-1.9-.8M291.5 260.3l1.6-2.1M248.7 272.1l-1.3-2.2M248.7 272.1l-2 1.6M291.2 274.2l-1.2 1.7M291.2 274.2l2.3 .8M300.1 226.4l.4 2.3M300.1 226.4l-2 .4M307.2 224.6l-2.6 .7M307.2 224.6l.7 1.9M318 224.6l1.8-1.4M318 224.6l1.6 2M320.4 217l-.8 2.5M320.4 217l2.1 .1M341.2 217.2l-2.3-0M341.2 217.2l.2 2.3M347.8 221.5l-1 2.4M347.8 221.5l-1.8-1.2M331.5 229.2l-2.5-.9M331.5 229.2l1.1-1.9M333.9 238.3l1.3-1.7M333.9 238.3l-1.8-1.6M364.5 232.2l-2-1.3M364.5 232.2l1-1.8M367.8 228.9l-2.2-.1M367.8 228.9l.4 2.6M369.9 242.7l-.5-1.9M369.9 242.7l-2.1 1.3M344.9 243.9l-1.8 1.7M344.9 243.9l1.4 1.7M303 245.1l2.2 1.1M303 245.1l-1.4 1.7M323.7 250.5l2.2-.8M323.7 250.5l.9 2.3M353.1 253.7l-2.1 .5M353.1 253.7l1.1 2.4M330.5 261.3l-1.4-2.3M330.5 261.3l-1.9 1M340.3 267.1l.7 2.4M340.3 267.1l-2.4 0M331.7 269.8l-.4-2.5M331.7 269.8l-2 .9M361.7 271.7l-2.3 .7M361.7 271.7l.1-2.6M243.8 281.6l.8 2.4M243.8 281.6l1.9-1.2M229.6 287.1l-.9 2.4M229.6 287.1l2.6 .7M247.1 291.8l1.6 1.5M247.1 291.8l1.5-1.6M225.9 297.5l.8-2.1M225.9 297.5l2.1 1.1M254.4 298.4l2.3 .4M254.4 298.4l-.4 2.6M273.4 282.9l2.4-1.2M273.4 282.9l.5 2.1M290.8 275.9l.1-2.6M290.8 275.9l-2.4 .2M288.1 293.9l.9-2.2M288.1 293.9l1.9 1.5M294.5 298.8l.6 2.4M294.5 298.8l2.3-.5M236.9 308.6l-.1 2.5M236.9 308.6l-2.3-.3M264.2 318l2.2-1.4M264.2 318l.8 2.3M236.4 326.6l-1.7-1.2M236.4 326.6l-1.4 2.1M234.2 330l1.9 .5M234.2 330l-1.1 2M269.8 333.4l2.2-1M269.8 333.4l-1.2-2.1M280.8 328.5l2.5-1M280.8 328.5l-.8-2.3M295.2 322.9l1.9 1.5M295.2 322.9l.9-2.2M260 338.6l1.7-1.7M260 338.6l1.8 1.9M303 278.3l2.4 1.1M303 278.3l-1.2 1.9M325 279.2l.8 2.5M325 279.2l-2.3 .1M325 282.2l1.1-2M325 282.2l-2.2-.5M344.5 282l.5-2M344.5 282l-2.2 0M356.2 283.5l-2.6-.3M356.2 283.5l.8-2M309.7 295.7l-1-2.5M309.7 295.7l2.4-.4M330.2 295.7l-.9-2.4M330.2 295.7l-1.9 1M343 300l2.1 1.7M343 300l1.5-1.9M359.2 300.8l.5-2.2M359.2 300.8l-2.2-.1M366.9 306.7l-1.9-1.5M366.9 306.7l-1.3 2.1M352.5 307.9l1.6-1.7M352.5 307.9l1.3 2.2M301.7 306.9l-1.6-1.8M301.7 306.9l1.8-1.4M342.1 326.5l0 2.7M342.1 326.5l-2.3-.7M361.1 338.5l-2.1 .4M361.1 338.5l.4 2.4M310.9 339.7l-.7 2.1M310.9 339.7l-1.8-1.2M226.6 341.8l.1-2M226.6 341.8l2.2 .6M226 345.2l1.7 1.8M226 345.2l1.3-1.9M245.9 347l1.9-1.1M245.9 347l.8 2.2M271.5 350.4l-1.7 1.9M271.5 350.4l2 1.3M274.4 353.2l-1.6-1.7M274.4 353.2l2.3-1.1M289.2 345.8l-2.2 .6M289.2 345.8l.6 2.1M289.2 349.2l-2.1 .1M289.2 349.2l-.3-2.2M293.7 340.7l-1.5-1.4M293.7 340.7l-1.2 2.2M243.1 365.7l-2.1 1.4M243.1 365.7l-.8-2.2M235.4 370.9l2.2-.3M235.4 370.9l-.4 2M235.7 373.7l1.5-1.7M235.7 373.7l1.2 2M262.4 371.7l-.6 2.1M262.4 371.7l2.4 .1M282.9 372.6l-2.2 1.1M282.9 372.6l1.6 2.1M286.3 370.9l2-.9M286.3 370.9l-1.3-1.9M294.9 366.9l2.1-.5M294.9 366.9l-.6-2M307.3 350.2l1.5-1.6M307.3 350.2l1.4 2M315.4 362.4l.8 2.1M315.4 362.4l-2.5 .6M319.5 373l-.2-2.2M319.5 373l-2.4 .4M335.3 370.6l1.9 .8M335.3 370.6l.5-2.5M342.3 342l-.8 2.5M342.3 342l-1.9-.7M338.8 352.3l1.8 1.5M338.8 352.3l-1.9 1.2M353.4 350l-1.8-1.3M353.4 350l-1.1 1.7M363.9 342.2l-.8-1.9M363.9 342.2l-2 1.5M368 362.4l-1.4 2.1M368 362.4l-1.8-1.5M355.7 372.1l2-1.6M355.7 372.1l-1.4-1.8" stroke="#d83030" stroke-width="1.1" stroke-linecap="round" fill="none"/>
<path d="M243.5 214.7l2.5 .9M241.7 211.6l.7-2.2M250.9 216.5l2-.1M248.4 214.5l-.5-2.1M255.2 211.2l-.1-2.1M253.1 213.4l-2.2 .1M279.8 205.9l-0-2.5M282.1 208.8l2.3 .4M290.6 211.9l1.5 1.8M287.2 211.1l-1.9 1M296.9 223l-1 2.3M300.2 221.7l2.3 1M228.5 222.5l.6 2.2M229.8 219.3l1.9-1M235.1 234.1l-1-2.1M234.5 237.5l-1.6 1.3M277.6 225.4l.3-2.3M274.9 227.4l-2.4-.3M263.5 235.3l2.3-1.3M260 235l-1.2-1.6M271 251.6l-1.2-1.8M270.7 254.9l-1.5 1.5M238.2 257.3l-2.2-.6M239.8 260.2l-.6 2.3M255.1 261.1l2.7 0M251.6 258.8l-.8-2.3M264.3 259l.7-2.3M265.8 262.2l2.2 .9M269.7 261.3l-2.7 0M273 263.3l.6 2M289.6 259.5l-1.9-.8M293.1 258.2l1.6-2.1M247.4 269.9l-1.3-2.2M246.7 273.7l-2 1.6M290 275.9l-1.2 1.7M293.5 275l2.3 .8M300.5 228.7l.4 2.3M298.1 226.8l-2 .4M304.6 225.3l-2.6 .7M307.9 226.5l.7 1.9M319.8 223.2l1.8-1.4M319.6 226.6l1.6 2M319.6 219.5l-.8 2.5M322.5 217.1l2.1 .1M338.9 217.2l-2.3-0M341.4 219.5l.2 2.3M346.8 223.9l-1 2.4M346 220.3l-1.8-1.2M329 228.3l-2.5-.9M332.6 227.3l1.1-1.9M335.2 236.6l1.3-1.7M332.1 236.7l-1.8-1.6M362.5 230.9l-2-1.3M365.5 230.4l1-1.8M365.6 228.8l-2.2-.1M368.2 231.5l.4 2.6M369.4 240.8l-.5-1.9M367.8 244l-2.1 1.3M343.1 245.6l-1.8 1.7M346.3 245.6l1.4 1.7M305.2 246.2l2.2 1.1M301.6 246.8l-1.4 1.7M325.9 249.7l2.2-.8M324.6 252.8l.9 2.3M351 254.2l-2.1 .5M354.2 256.1l1.1 2.4M329.1 259l-1.4-2.3M328.6 262.3l-1.9 1M341 269.5l.7 2.4M337.9 267.1l-2.4 0M331.3 267.3l-.4-2.5M329.7 270.7l-2 .9M359.4 272.4l-2.3 .7M361.8 269.1l.1-2.6M244.6 284l.8 2.4M245.7 280.4l1.9-1.2M228.7 289.5l-.9 2.4M232.2 287.8l2.6 .7M248.7 293.3l1.6 1.5M248.6 290.2l1.5-1.6M226.7 295.4l.8-2.1M228 298.6l2.1 1.1M256.7 298.8l2.3 .4M254 301l-.4 2.6M275.8 281.7l2.4-1.2M273.9 285l.5 2.1M290.9 273.3l.1-2.6M288.4 276.1l-2.4 .2M289 291.7l.9-2.2M290 295.4l1.9 1.5M295.1 301.2l.6 2.4M296.8 298.3l2.3-.5M236.8 311.1l-.1 2.5M234.6 308.3l-2.3-.3M266.4 316.6l2.2-1.4M265 320.3l.8 2.3M234.7 325.4l-1.7-1.2M235 328.7l-1.4 2.1M236.1 330.5l1.9 .5M233.1 332l-1.1 2M272 332.4l2.2-1M268.6 331.3l-1.2-2.1M283.3 327.5l2.5-1M280 326.2l-.8-2.3M297.1 324.4l1.9 1.5M296.1 320.7l.9-2.2M261.7 336.9l1.7-1.7M261.8 340.5l1.8 1.9M305.4 279.4l2.4 1.1M301.8 280.2l-1.2 1.9M325.8 281.7l.8 2.5M322.7 279.3l-2.3 .1M326.1 280.2l1.1-2M322.8 281.7l-2.2-.5M345 280l.5-2M342.3 282l-2.2 0M353.6 283.2l-2.6-.3M357 281.5l.8-2M308.7 293.2l-1-2.5M312.1 295.3l2.4-.4M329.3 293.3l-.9-2.4M328.3 296.7l-1.9 1M345.1 301.7l2.1 1.7M344.5 298.1l1.5-1.9M359.7 298.6l.5-2.2M357 300.7l-2.2-.1M365 305.2l-1.9-1.5M365.6 308.8l-1.3 2.1M354.1 306.2l1.6-1.7M353.8 310.1l1.3 2.2M300.1 305.1l-1.6-1.8M303.5 305.5l1.8-1.4M342.1 329.2l0 2.7M339.8 325.8l-2.3-.7M359 338.9l-2.1 .4M361.5 340.9l.4 2.4M310.2 341.8l-.7 2.1M309.1 338.5l-1.8-1.2M226.7 339.8l.1-2M228.8 342.4l2.2 .6M227.7 347l1.7 1.8M227.3 343.3l1.3-1.9M247.8 345.9l1.9-1.1M246.7 349.2l.8 2.2M269.8 352.3l-1.7 1.9M273.5 351.7l2 1.3M272.8 351.5l-1.6-1.7M276.7 352.1l2.3-1.1M287 346.4l-2.2 .6M289.8 347.9l.6 2.1M287.1 349.3l-2.1 .1M288.9 347l-.3-2.2M292.2 339.3l-1.5-1.4M292.5 342.9l-1.2 2.2M241 367.1l-2.1 1.4M242.3 363.5l-.8-2.2M237.6 370.6l2.2-.3M235 372.9l-.4 2M237.2 372l1.5-1.7M236.9 375.7l1.2 2M261.8 373.8l-.6 2.1M264.8 371.8l2.4 .1M280.7 373.7l-2.2 1.1M284.5 374.7l1.6 2.1M288.3 370l2-.9M285 369l-1.3-1.9M297 366.4l2.1-.5M294.3 364.9l-.6-2M308.8 348.6l1.5-1.6M308.7 352.2l1.4 2M316.2 364.5l.8 2.1M312.9 363l-2.5 .6M319.3 370.8l-.2-2.2M317.1 373.4l-2.4 .4M337.2 371.4l1.9 .8M335.8 368.1l.5-2.5M341.5 344.5l-.8 2.5M340.4 341.3l-1.9-.7M340.6 353.8l1.8 1.5M336.9 353.5l-1.9 1.2M351.6 348.7l-1.8-1.3M352.3 351.7l-1.1 1.7M363.1 340.3l-.8-1.9M361.9 343.7l-2 1.5M366.6 364.5l-1.4 2.1M366.2 360.9l-1.8-1.5M357.7 370.5l2-1.6M354.3 370.3l-1.4-1.8" stroke="#e8e8e8" stroke-width="1.1" stroke-linecap="round" fill="none"/>
<circle cx="245.9" cy="215.5" r="2.1" class="gH"/>
<circle cx="241" cy="213.8" r="2.55" class="gO"/>
<circle cx="242.3" cy="209.4" r="2.1" class="gH"/>
<circle cx="252.9" cy="216.3" r="2.1" class="gH"/>
<circle cx="248.9" cy="216.6" r="2.55" class="gO"/>
<circle cx="248" cy="212.3" r="2.1" class="gH"/>
<circle cx="255.1" cy="209.2" r="2.1" class="gH"/>
<circle cx="255.3" cy="213.3" r="2.55" class="gO"/>
<circle cx="250.8" cy="213.5" r="2.1" class="gH"/>
<circle cx="279.7" cy="203.3" r="2.1" class="gH"/>
<circle cx="279.8" cy="208.4" r="2.55" class="gO"/>
<circle cx="284.5" cy="209.3" r="2.1" class="gH"/>
<circle cx="292.1" cy="213.7" r="2.1" class="gH"/>
<circle cx="289.1" cy="210.1" r="2.55" class="gO"/>
<circle cx="285.3" cy="212.1" r="2.1" class="gH"/>
<circle cx="296" cy="225.4" r="2.1" class="gH"/>
<circle cx="297.9" cy="220.7" r="2.55" class="gO"/>
<circle cx="302.5" cy="222.6" r="2.1" class="gH"/>
<circle cx="229" cy="224.7" r="2.1" class="gH"/>
<circle cx="227.9" cy="220.3" r="2.55" class="gO"/>
<circle cx="231.8" cy="218.4" r="2.1" class="gH"/>
<circle cx="234.1" cy="232.1" r="2.1" class="gH"/>
<circle cx="236.1" cy="236.2" r="2.55" class="gO"/>
<circle cx="232.9" cy="238.9" r="2.1" class="gH"/>
<circle cx="277.9" cy="223.1" r="2.1" class="gH"/>
<circle cx="277.3" cy="227.7" r="2.55" class="gO"/>
<circle cx="272.4" cy="227.1" r="2.1" class="gH"/>
<circle cx="265.9" cy="234" r="2.1" class="gH"/>
<circle cx="261.2" cy="236.6" r="2.55" class="gO"/>
<circle cx="258.7" cy="233.4" r="2.1" class="gH"/>
<circle cx="269.8" cy="249.7" r="2.1" class="gH"/>
<circle cx="272.2" cy="253.4" r="2.55" class="gO"/>
<circle cx="269.3" cy="256.3" r="2.1" class="gH"/>
<circle cx="236" cy="256.7" r="2.1" class="gH"/>
<circle cx="240.4" cy="257.9" r="2.55" class="gO"/>
<circle cx="239.1" cy="262.6" r="2.1" class="gH"/>
<circle cx="257.7" cy="261.2" r="2.1" class="gH"/>
<circle cx="252.4" cy="261.1" r="2.55" class="gO"/>
<circle cx="250.8" cy="256.5" r="2.1" class="gH"/>
<circle cx="265" cy="256.7" r="2.1" class="gH"/>
<circle cx="263.6" cy="261.3" r="2.55" class="gO"/>
<circle cx="268.1" cy="263.1" r="2.1" class="gH"/>
<circle cx="267" cy="261.3" r="2.1" class="gH"/>
<circle cx="272.4" cy="261.3" r="2.55" class="gO"/>
<circle cx="273.7" cy="265.2" r="2.1" class="gH"/>
<circle cx="287.6" cy="258.7" r="2.1" class="gH"/>
<circle cx="291.5" cy="260.3" r="2.55" class="gO"/>
<circle cx="294.7" cy="256" r="2.1" class="gH"/>
<circle cx="246.2" cy="267.8" r="2.1" class="gH"/>
<circle cx="248.7" cy="272.1" r="2.55" class="gO"/>
<circle cx="244.7" cy="275.3" r="2.1" class="gH"/>
<circle cx="288.7" cy="277.7" r="2.1" class="gH"/>
<circle cx="291.2" cy="274.2" r="2.55" class="gO"/>
<circle cx="295.9" cy="275.8" r="2.1" class="gH"/>
<circle cx="300.8" cy="231" r="2.1" class="gH"/>
<circle cx="300.1" cy="226.4" r="2.55" class="gO"/>
<circle cx="296.1" cy="227.1" r="2.1" class="gH"/>
<circle cx="302" cy="225.9" r="2.1" class="gH"/>
<circle cx="307.2" cy="224.6" r="2.55" class="gO"/>
<circle cx="308.6" cy="228.4" r="2.1" class="gH"/>
<circle cx="321.6" cy="221.7" r="2.1" class="gH"/>
<circle cx="318" cy="224.6" r="2.55" class="gO"/>
<circle cx="321.1" cy="228.6" r="2.1" class="gH"/>
<circle cx="318.8" cy="222.1" r="2.1" class="gH"/>
<circle cx="320.4" cy="217" r="2.55" class="gO"/>
<circle cx="324.6" cy="217.2" r="2.1" class="gH"/>
<circle cx="336.6" cy="217.2" r="2.1" class="gH"/>
<circle cx="341.2" cy="217.2" r="2.55" class="gO"/>
<circle cx="341.5" cy="221.8" r="2.1" class="gH"/>
<circle cx="345.9" cy="226.3" r="2.1" class="gH"/>
<circle cx="347.8" cy="221.5" r="2.55" class="gO"/>
<circle cx="344.1" cy="219.1" r="2.1" class="gH"/>
<circle cx="326.4" cy="227.5" r="2.1" class="gH"/>
<circle cx="331.5" cy="229.2" r="2.55" class="gO"/>
<circle cx="333.6" cy="225.3" r="2.1" class="gH"/>
<circle cx="336.5" cy="234.8" r="2.1" class="gH"/>
<circle cx="333.9" cy="238.3" r="2.55" class="gO"/>
<circle cx="330.2" cy="235.1" r="2.1" class="gH"/>
<circle cx="360.4" cy="229.6" r="2.1" class="gH"/>
<circle cx="364.5" cy="232.2" r="2.55" class="gO"/>
<circle cx="366.4" cy="228.5" r="2.1" class="gH"/>
<circle cx="363.4" cy="228.7" r="2.1" class="gH"/>
<circle cx="367.8" cy="228.9" r="2.55" class="gO"/>
<circle cx="368.6" cy="234.2" r="2.1" class="gH"/>
<circle cx="368.8" cy="238.8" r="2.1" class="gH"/>
<circle cx="369.9" cy="242.7" r="2.55" class="gO"/>
<circle cx="365.8" cy="245.4" r="2.1" class="gH"/>
<circle cx="341.3" cy="247.4" r="2.1" class="gH"/>
<circle cx="344.9" cy="243.9" r="2.55" class="gO"/>
<circle cx="347.7" cy="247.2" r="2.1" class="gH"/>
<circle cx="307.3" cy="247.2" r="2.1" class="gH"/>
<circle cx="303" cy="245.1" r="2.55" class="gO"/>
<circle cx="300.2" cy="248.5" r="2.1" class="gH"/>
<circle cx="328.1" cy="249" r="2.1" class="gH"/>
<circle cx="323.7" cy="250.5" r="2.55" class="gO"/>
<circle cx="325.6" cy="255.1" r="2.1" class="gH"/>
<circle cx="348.8" cy="254.8" r="2.1" class="gH"/>
<circle cx="353.1" cy="253.7" r="2.55" class="gO"/>
<circle cx="355.4" cy="258.5" r="2.1" class="gH"/>
<circle cx="327.6" cy="256.8" r="2.1" class="gH"/>
<circle cx="330.5" cy="261.3" r="2.55" class="gO"/>
<circle cx="326.6" cy="263.4" r="2.1" class="gH"/>
<circle cx="341.6" cy="271.8" r="2.1" class="gH"/>
<circle cx="340.3" cy="267.1" r="2.55" class="gO"/>
<circle cx="335.4" cy="267.2" r="2.1" class="gH"/>
<circle cx="331" cy="264.8" r="2.1" class="gH"/>
<circle cx="331.7" cy="269.8" r="2.55" class="gO"/>
<circle cx="327.8" cy="271.5" r="2.1" class="gH"/>
<circle cx="357.2" cy="273.1" r="2.1" class="gH"/>
<circle cx="361.7" cy="271.7" r="2.55" class="gO"/>
<circle cx="361.8" cy="266.6" r="2.1" class="gH"/>
<circle cx="245.3" cy="286.4" r="2.1" class="gH"/>
<circle cx="243.8" cy="281.6" r="2.55" class="gO"/>
<circle cx="247.6" cy="279.2" r="2.1" class="gH"/>
<circle cx="227.9" cy="292" r="2.1" class="gH"/>
<circle cx="229.6" cy="287.1" r="2.55" class="gO"/>
<circle cx="234.8" cy="288.5" r="2.1" class="gH"/>
<circle cx="250.3" cy="294.7" r="2.1" class="gH"/>
<circle cx="247.1" cy="291.8" r="2.55" class="gO"/>
<circle cx="250.1" cy="288.6" r="2.1" class="gH"/>
<circle cx="227.4" cy="293.2" r="2.1" class="gH"/>
<circle cx="225.9" cy="297.5" r="2.55" class="gO"/>
<circle cx="230" cy="299.8" r="2.1" class="gH"/>
<circle cx="259" cy="299.1" r="2.1" class="gH"/>
<circle cx="254.4" cy="298.4" r="2.55" class="gO"/>
<circle cx="253.6" cy="303.6" r="2.1" class="gH"/>
<circle cx="278.1" cy="280.6" r="2.1" class="gH"/>
<circle cx="273.4" cy="282.9" r="2.55" class="gO"/>
<circle cx="274.3" cy="287" r="2.1" class="gH"/>
<circle cx="291" cy="270.8" r="2.1" class="gH"/>
<circle cx="290.8" cy="275.9" r="2.55" class="gO"/>
<circle cx="286" cy="276.3" r="2.1" class="gH"/>
<circle cx="289.9" cy="289.6" r="2.1" class="gH"/>
<circle cx="288.1" cy="293.9" r="2.55" class="gO"/>
<circle cx="291.9" cy="296.8" r="2.1" class="gH"/>
<circle cx="295.7" cy="303.6" r="2.1" class="gH"/>
<circle cx="294.5" cy="298.8" r="2.55" class="gO"/>
<circle cx="299.2" cy="297.9" r="2.1" class="gH"/>
<circle cx="236.8" cy="313.5" r="2.1" class="gH"/>
<circle cx="236.9" cy="308.6" r="2.55" class="gO"/>
<circle cx="232.3" cy="307.9" r="2.1" class="gH"/>
<circle cx="268.5" cy="315.3" r="2.1" class="gH"/>
<circle cx="264.2" cy="318" r="2.55" class="gO"/>
<circle cx="265.9" cy="322.6" r="2.1" class="gH"/>
<circle cx="233" cy="324.3" r="2.1" class="gH"/>
<circle cx="236.4" cy="326.6" r="2.55" class="gO"/>
<circle cx="233.7" cy="330.9" r="2.1" class="gH"/>
<circle cx="238.1" cy="331" r="2.1" class="gH"/>
<circle cx="234.2" cy="330" r="2.55" class="gO"/>
<circle cx="232.1" cy="333.9" r="2.1" class="gH"/>
<circle cx="274.2" cy="331.4" r="2.1" class="gH"/>
<circle cx="269.8" cy="333.4" r="2.55" class="gO"/>
<circle cx="267.3" cy="329.1" r="2.1" class="gH"/>
<circle cx="285.8" cy="326.6" r="2.1" class="gH"/>
<circle cx="280.8" cy="328.5" r="2.55" class="gO"/>
<circle cx="279.1" cy="324" r="2.1" class="gH"/>
<circle cx="299" cy="326" r="2.1" class="gH"/>
<circle cx="295.2" cy="322.9" r="2.55" class="gO"/>
<circle cx="297" cy="318.6" r="2.1" class="gH"/>
<circle cx="263.3" cy="335.2" r="2.1" class="gH"/>
<circle cx="260" cy="338.6" r="2.55" class="gO"/>
<circle cx="263.6" cy="342.3" r="2.1" class="gH"/>
<circle cx="307.7" cy="280.5" r="2.1" class="gH"/>
<circle cx="303" cy="278.3" r="2.55" class="gO"/>
<circle cx="300.6" cy="282.2" r="2.1" class="gH"/>
<circle cx="326.6" cy="284.2" r="2.1" class="gH"/>
<circle cx="325" cy="279.2" r="2.55" class="gO"/>
<circle cx="320.3" cy="279.3" r="2.1" class="gH"/>
<circle cx="327.2" cy="278.1" r="2.1" class="gH"/>
<circle cx="325" cy="282.2" r="2.55" class="gO"/>
<circle cx="320.5" cy="281.3" r="2.1" class="gH"/>
<circle cx="345.4" cy="278" r="2.1" class="gH"/>
<circle cx="344.5" cy="282" r="2.55" class="gO"/>
<circle cx="340" cy="282" r="2.1" class="gH"/>
<circle cx="351" cy="282.8" r="2.1" class="gH"/>
<circle cx="356.2" cy="283.5" r="2.55" class="gO"/>
<circle cx="357.8" cy="279.5" r="2.1" class="gH"/>
<circle cx="307.8" cy="290.7" r="2.1" class="gH"/>
<circle cx="309.7" cy="295.7" r="2.55" class="gO"/>
<circle cx="314.5" cy="295" r="2.1" class="gH"/>
<circle cx="328.4" cy="291" r="2.1" class="gH"/>
<circle cx="330.2" cy="295.7" r="2.55" class="gO"/>
<circle cx="326.3" cy="297.6" r="2.1" class="gH"/>
<circle cx="347.1" cy="303.4" r="2.1" class="gH"/>
<circle cx="343" cy="300" r="2.55" class="gO"/>
<circle cx="346" cy="296.2" r="2.1" class="gH"/>
<circle cx="360.2" cy="296.3" r="2.1" class="gH"/>
<circle cx="359.2" cy="300.8" r="2.55" class="gO"/>
<circle cx="354.8" cy="300.6" r="2.1" class="gH"/>
<circle cx="363" cy="303.7" r="2.1" class="gH"/>
<circle cx="366.9" cy="306.7" r="2.55" class="gO"/>
<circle cx="364.2" cy="310.9" r="2.1" class="gH"/>
<circle cx="355.7" cy="304.5" r="2.1" class="gH"/>
<circle cx="352.5" cy="307.9" r="2.55" class="gO"/>
<circle cx="355.2" cy="312.3" r="2.1" class="gH"/>
<circle cx="298.5" cy="303.3" r="2.1" class="gH"/>
<circle cx="301.7" cy="306.9" r="2.55" class="gO"/>
<circle cx="305.2" cy="304.2" r="2.1" class="gH"/>
<circle cx="342.2" cy="331.8" r="2.1" class="gH"/>
<circle cx="342.1" cy="326.5" r="2.55" class="gO"/>
<circle cx="337.5" cy="325.1" r="2.1" class="gH"/>
<circle cx="356.8" cy="339.3" r="2.1" class="gH"/>
<circle cx="361.1" cy="338.5" r="2.55" class="gO"/>
<circle cx="361.9" cy="343.4" r="2.1" class="gH"/>
<circle cx="309.5" cy="343.9" r="2.1" class="gH"/>
<circle cx="310.9" cy="339.7" r="2.55" class="gO"/>
<circle cx="307.4" cy="337.3" r="2.1" class="gH"/>
<circle cx="226.8" cy="337.7" r="2.1" class="gH"/>
<circle cx="226.6" cy="341.8" r="2.55" class="gO"/>
<circle cx="230.9" cy="343" r="2.1" class="gH"/>
<circle cx="229.4" cy="348.8" r="2.1" class="gH"/>
<circle cx="226" cy="345.2" r="2.55" class="gO"/>
<circle cx="228.6" cy="341.4" r="2.1" class="gH"/>
<circle cx="249.7" cy="344.7" r="2.1" class="gH"/>
<circle cx="245.9" cy="347" r="2.55" class="gO"/>
<circle cx="247.4" cy="351.3" r="2.1" class="gH"/>
<circle cx="268.1" cy="354.1" r="2.1" class="gH"/>
<circle cx="271.5" cy="350.4" r="2.55" class="gO"/>
<circle cx="275.5" cy="353" r="2.1" class="gH"/>
<circle cx="271.2" cy="349.8" r="2.1" class="gH"/>
<circle cx="274.4" cy="353.2" r="2.55" class="gO"/>
<circle cx="279" cy="350.9" r="2.1" class="gH"/>
<circle cx="284.9" cy="346.9" r="2.1" class="gH"/>
<circle cx="289.2" cy="345.8" r="2.55" class="gO"/>
<circle cx="290.5" cy="350" r="2.1" class="gH"/>
<circle cx="284.9" cy="349.5" r="2.1" class="gH"/>
<circle cx="289.2" cy="349.2" r="2.55" class="gO"/>
<circle cx="288.7" cy="344.8" r="2.1" class="gH"/>
<circle cx="290.8" cy="337.9" r="2.1" class="gH"/>
<circle cx="293.7" cy="340.7" r="2.55" class="gO"/>
<circle cx="291.3" cy="345.2" r="2.1" class="gH"/>
<circle cx="238.9" cy="368.5" r="2.1" class="gH"/>
<circle cx="243.1" cy="365.7" r="2.55" class="gO"/>
<circle cx="241.6" cy="361.3" r="2.1" class="gH"/>
<circle cx="239.9" cy="370.3" r="2.1" class="gH"/>
<circle cx="235.4" cy="370.9" r="2.55" class="gO"/>
<circle cx="234.7" cy="374.9" r="2.1" class="gH"/>
<circle cx="238.8" cy="370.4" r="2.1" class="gH"/>
<circle cx="235.7" cy="373.7" r="2.55" class="gO"/>
<circle cx="238.1" cy="377.7" r="2.1" class="gH"/>
<circle cx="261.1" cy="375.8" r="2.1" class="gH"/>
<circle cx="262.4" cy="371.7" r="2.55" class="gO"/>
<circle cx="267.3" cy="371.9" r="2.1" class="gH"/>
<circle cx="278.5" cy="374.8" r="2.1" class="gH"/>
<circle cx="282.9" cy="372.6" r="2.55" class="gO"/>
<circle cx="286.1" cy="376.7" r="2.1" class="gH"/>
<circle cx="290.4" cy="369" r="2.1" class="gH"/>
<circle cx="286.3" cy="370.9" r="2.55" class="gO"/>
<circle cx="283.7" cy="367" r="2.1" class="gH"/>
<circle cx="299.2" cy="366" r="2.1" class="gH"/>
<circle cx="294.9" cy="366.9" r="2.55" class="gO"/>
<circle cx="293.7" cy="362.8" r="2.1" class="gH"/>
<circle cx="310.4" cy="347.1" r="2.1" class="gH"/>
<circle cx="307.3" cy="350.2" r="2.55" class="gO"/>
<circle cx="310" cy="354.3" r="2.1" class="gH"/>
<circle cx="317" cy="366.6" r="2.1" class="gH"/>
<circle cx="315.4" cy="362.4" r="2.55" class="gO"/>
<circle cx="310.4" cy="363.6" r="2.1" class="gH"/>
<circle cx="319.2" cy="368.5" r="2.1" class="gH"/>
<circle cx="319.5" cy="373" r="2.55" class="gO"/>
<circle cx="314.8" cy="373.9" r="2.1" class="gH"/>
<circle cx="339.2" cy="372.1" r="2.1" class="gH"/>
<circle cx="335.3" cy="370.6" r="2.55" class="gO"/>
<circle cx="336.2" cy="365.7" r="2.1" class="gH"/>
<circle cx="340.6" cy="346.9" r="2.1" class="gH"/>
<circle cx="342.3" cy="342" r="2.55" class="gO"/>
<circle cx="338.4" cy="340.6" r="2.1" class="gH"/>
<circle cx="342.5" cy="355.3" r="2.1" class="gH"/>
<circle cx="338.8" cy="352.3" r="2.55" class="gO"/>
<circle cx="334.9" cy="354.7" r="2.1" class="gH"/>
<circle cx="349.8" cy="347.4" r="2.1" class="gH"/>
<circle cx="353.4" cy="350" r="2.55" class="gO"/>
<circle cx="351.2" cy="353.4" r="2.1" class="gH"/>
<circle cx="362.3" cy="338.5" r="2.1" class="gH"/>
<circle cx="363.9" cy="342.2" r="2.55" class="gO"/>
<circle cx="359.9" cy="345.2" r="2.1" class="gH"/>
<circle cx="365.1" cy="366.5" r="2.1" class="gH"/>
<circle cx="368" cy="362.4" r="2.55" class="gO"/>
<circle cx="364.4" cy="359.4" r="2.1" class="gH"/>
<circle cx="359.7" cy="368.9" r="2.1" class="gH"/>
<circle cx="355.7" cy="372.1" r="2.55" class="gO"/>
<circle cx="352.9" cy="368.5" r="2.1" class="gH"/>
<path d="M262.4 223.1l6.6 1.7" stroke="#e8dc28" stroke-width="1.3" stroke-linecap="round" fill="none"/>
<path d="M268.9 224.8l6.6 1.7" stroke="#38b8b8" stroke-width="1.3" stroke-linecap="round" fill="none"/>
<path d="M262.4 223.1l-3.4-2.5M262.4 223.1l-.9-2.4M262.4 223.1l-1.8 3.6" stroke="#e8dc28" stroke-width="1.1" stroke-linecap="round" fill="none"/>
<path d="M259 220.6l-3.4-2.5M261.5 220.7l-.9-2.4M260.6 226.7l-1.8 3.6" stroke="#e02424" stroke-width="1.1" stroke-linecap="round" fill="none"/>
<path d="M275.5 226.5l3.4 2.5M275.5 226.5l.9 2.4M275.5 226.5l1.8-3.6" stroke="#38b8b8" stroke-width="1.1" stroke-linecap="round" fill="none"/>
<path d="M278.9 229l3.4 2.5M276.4 228.9l.9 2.4M277.3 222.9l1.8-3.6" stroke="#f09090" stroke-width="1.1" stroke-linecap="round" fill="none"/>
<path d="M234.9 239.9l-4.3 4.6" stroke="#e8dc28" stroke-width="1.3" stroke-linecap="round" fill="none"/>
<path d="M230.6 244.5l-4.3 4.6" stroke="#38b8b8" stroke-width="1.3" stroke-linecap="round" fill="none"/>
<path d="M234.9 239.9l4-1M234.9 239.9l2.4 0M234.9 239.9l-2.5-3.3" stroke="#e8dc28" stroke-width="1.1" stroke-linecap="round" fill="none"/>
<path d="M238.9 238.9l4-1M237.3 239.9l2.4 0M232.4 236.6l-2.5-3.3" stroke="#e02424" stroke-width="1.1" stroke-linecap="round" fill="none"/>
<path d="M226.3 249.1l-4 1M226.3 249.1l-2.4-0M226.3 249.1l2.5 3.3" stroke="#38b8b8" stroke-width="1.1" stroke-linecap="round" fill="none"/>
<path d="M222.3 250.1l-4 1M223.9 249.1l-2.4-0M228.8 252.4l2.5 3.3" stroke="#f09090" stroke-width="1.1" stroke-linecap="round" fill="none"/>
<path d="M297.9 247.9l2.3 2.5" stroke="#e8dc28" stroke-width="1.3" stroke-linecap="round" fill="none"/>
<path d="M300.2 250.4l2.3 2.4" stroke="#38b8b8" stroke-width="1.3" stroke-linecap="round" fill="none"/>
<path d="M297.9 247.9l-3.5 2.3M297.9 247.9l.2-4M297.9 247.9l-.4-2.5" stroke="#e8dc28" stroke-width="1.1" stroke-linecap="round" fill="none"/>
<path d="M294.4 250.2l-3.5 2.3M298.1 243.9l.2-4M297.5 245.4l-.4-2.5" stroke="#e02424" stroke-width="1.1" stroke-linecap="round" fill="none"/>
<path d="M302.5 252.8l3.5-2.3M302.5 252.8l-.2 4M302.5 252.8l.4 2.5" stroke="#38b8b8" stroke-width="1.1" stroke-linecap="round" fill="none"/>
<path d="M306 250.5l3.5-2.3M302.3 256.8l-.2 4M302.9 255.3l.4 2.5" stroke="#f09090" stroke-width="1.1" stroke-linecap="round" fill="none"/>
<path d="M355.6 254.5l5.4 3.2" stroke="#e8dc28" stroke-width="1.3" stroke-linecap="round" fill="none"/>
<path d="M361.1 257.8l5.4 3.2" stroke="#38b8b8" stroke-width="1.3" stroke-linecap="round" fill="none"/>
<path d="M355.6 254.5l-1.1-3.9M355.6 254.5l-1-2.4M355.6 254.5l-2.7 3.2" stroke="#e8dc28" stroke-width="1.1" stroke-linecap="round" fill="none"/>
<path d="M354.5 250.6l-1.1-3.9M354.6 252.1l-1-2.4M352.9 257.7l-2.7 3.2" stroke="#e02424" stroke-width="1.1" stroke-linecap="round" fill="none"/>
<path d="M366.5 261l1.1 3.9M366.5 261l1 2.4M366.5 261l2.7-3.2" stroke="#38b8b8" stroke-width="1.1" stroke-linecap="round" fill="none"/>
<path d="M367.6 264.9l1.1 3.9M367.5 263.4l1 2.4M369.2 257.8l2.7-3.2" stroke="#f09090" stroke-width="1.1" stroke-linecap="round" fill="none"/>
<path d="M364.7 208.7l4.3 .6" stroke="#e8dc28" stroke-width="1.3" stroke-linecap="round" fill="none"/>
<path d="M369 209.3l4.3 .6" stroke="#38b8b8" stroke-width="1.3" stroke-linecap="round" fill="none"/>
<path d="M364.7 208.7l-1.4-2.1M364.7 208.7l-1.3 3.9M364.7 208.7l-3.2-2.6" stroke="#e8dc28" stroke-width="1.1" stroke-linecap="round" fill="none"/>
<path d="M363.3 206.6l-1.4-2.1M363.4 212.6l-1.3 3.9M361.5 206.1l-3.2-2.6" stroke="#e02424" stroke-width="1.1" stroke-linecap="round" fill="none"/>
<path d="M373.3 209.9l1.4 2.1M373.3 209.9l1.3-3.9M373.3 209.9l3.2 2.6" stroke="#38b8b8" stroke-width="1.1" stroke-linecap="round" fill="none"/>
<path d="M374.7 212l1.4 2.1M374.6 206l1.3-3.9M376.5 212.5l3.2 2.6" stroke="#f09090" stroke-width="1.1" stroke-linecap="round" fill="none"/>
<path d="M264.2 327.5l2.8-5.8" stroke="#e8dc28" stroke-width="1.3" stroke-linecap="round" fill="none"/>
<path d="M267 321.7l2.8-5.8" stroke="#38b8b8" stroke-width="1.3" stroke-linecap="round" fill="none"/>
<path d="M264.2 327.5l-2.2 1.4M264.2 327.5l3.4 2.5M264.2 327.5l-3.9 1.2" stroke="#e8dc28" stroke-width="1.1" stroke-linecap="round" fill="none"/>
<path d="M262 328.9l-2.2 1.4M267.6 330l3.4 2.5M260.3 328.7l-3.9 1.2" stroke="#e02424" stroke-width="1.1" stroke-linecap="round" fill="none"/>
<path d="M269.8 315.9l2.2-1.4M269.8 315.9l-3.4-2.5M269.8 315.9l3.9-1.2" stroke="#38b8b8" stroke-width="1.1" stroke-linecap="round" fill="none"/>
<path d="M272 314.5l2.2-1.4M266.4 313.4l-3.4-2.5M273.7 314.7l3.9-1.2" stroke="#f09090" stroke-width="1.1" stroke-linecap="round" fill="none"/>
<path d="M322.5 318.3l5.5-3.1" stroke="#e8dc28" stroke-width="1.3" stroke-linecap="round" fill="none"/>
<path d="M328 315.2l5.5-3.1" stroke="#38b8b8" stroke-width="1.3" stroke-linecap="round" fill="none"/>
<path d="M322.5 318.3l-3.9 1.8M322.5 318.3l-2.2-1.7M322.5 318.3l.7 3.8" stroke="#e8dc28" stroke-width="1.1" stroke-linecap="round" fill="none"/>
<path d="M318.6 320.1l-3.9 1.8M320.3 316.6l-2.2-1.7M323.2 322.1l.7 3.8" stroke="#e02424" stroke-width="1.1" stroke-linecap="round" fill="none"/>
<path d="M333.5 312.2l3.9-1.8M333.5 312.2l2.2 1.7M333.5 312.2l-.7-3.8" stroke="#38b8b8" stroke-width="1.1" stroke-linecap="round" fill="none"/>
<path d="M337.4 310.4l3.9-1.8M335.7 313.9l2.2 1.7M332.8 308.4l-.7-3.8" stroke="#f09090" stroke-width="1.1" stroke-linecap="round" fill="none"/>
<path d="M323.7 335.4l-4.8-5.2" stroke="#e8dc28" stroke-width="1.3" stroke-linecap="round" fill="none"/>
<path d="M318.9 330.2l-4.9-5.2" stroke="#38b8b8" stroke-width="1.3" stroke-linecap="round" fill="none"/>
<path d="M323.7 335.4l2.2 2.1M323.7 335.4l4.1-1.6M323.7 335.4l-1.8 3.3" stroke="#e8dc28" stroke-width="1.1" stroke-linecap="round" fill="none"/>
<path d="M325.9 337.5l2.2 2.1M327.8 333.8l4.1-1.6M321.9 338.7l-1.8 3.3" stroke="#e02424" stroke-width="1.1" stroke-linecap="round" fill="none"/>
<path d="M314 325l-2.2-2.1M314 325l-4.1 1.6M314 325l1.8-3.3" stroke="#38b8b8" stroke-width="1.1" stroke-linecap="round" fill="none"/>
<path d="M311.8 322.9l-2.2-2.1M309.9 326.6l-4.1 1.6M315.8 321.7l1.8-3.3" stroke="#f09090" stroke-width="1.1" stroke-linecap="round" fill="none"/>
</g>
<path d="M41.4 358.7l.6-5.6M41.4 358.7l-6.8 .5M41.4 358.7l3.5 1.3M41.4 358.7l1.3 2.2" stroke="#a0a040" stroke-width="1.2" stroke-linecap="round" fill="none"/>
<path d="M42 353.1l.6-5.6M34.6 359.2l-6.8 .5M44.9 360l3.5 1.3M27.9 359.7l-2.8 4.6M48.4 361.3l4.4 1.1" stroke="#e02424" stroke-width="1.2" stroke-linecap="round" fill="none"/>
<path d="M25.1 364.3l-2.8 4.6M22.3 368.9l-5.5-.9M16.8 368l-5.6-.8M42.7 360.9l1.3 2.2M44 363.2l.6 1.7M44.6 364.9l.6 1.6M45.3 366.5l.4 2.8M45.6 369.2l.4 2.8M52.8 362.4l4.4 1.1M57.2 363.6l2.3 1.4M59.5 364.9l2.3 1.4" stroke="#38b8b8" stroke-width="1.2" stroke-linecap="round" fill="none"/>
<path d="M11.2 367.2l-1.7-2.7M11.2 367.2l-2.7-1.3M22.3 368.9l2.3 2.1M61.8 366.3l.6-3.2M61.8 366.3l-1.4 2.1M45.3 366.5l.4 .4" stroke="#38b8b8" stroke-width="0.9" stroke-linecap="round" fill="none"/>
<path d="M9.5 364.5l-1.7-2.6M8.5 365.9l-2.7-1.3M24.6 371l2.3 2.1M62.4 363.1l.6-3.1M60.4 368.4l-1.4 2.1M45.6 366.9l.4 .3" stroke="#ccc" stroke-width="0.9" stroke-linecap="round" fill="none"/>
<circle cx="7.9" cy="361.9" r="1.55" class="gH"/>
<circle cx="5.9" cy="364.6" r="1.55" class="gH"/>
<circle cx="5.9" cy="374.4" r="1.55" class="gH"/>
<circle cx="26.9" cy="373.1" r="1.55" class="gH"/>
<circle cx="36.8" cy="359.3" r="1.55" class="gH"/>
<circle cx="49.9" cy="357.3" r="1.55" class="gH"/>
<circle cx="61.8" cy="357.3" r="1.55" class="gH"/>
<circle cx="63.1" cy="360" r="1.55" class="gH"/>
<circle cx="55.2" cy="371.1" r="1.55" class="gH"/>
<circle cx="59.1" cy="370.5" r="1.55" class="gH"/>
<circle cx="67.7" cy="372.4" r="1.55" class="gH"/>
<circle cx="46" cy="367.2" r="1.55" class="gH"/>
<circle cx="38.8" cy="376.4" r="1.55" class="gH"/>
<circle cx="53.2" cy="376.4" r="1.55" class="gH"/>
<circle cx="22.3" cy="368.9" r="2.5" class="gC"/>
<circle cx="11.2" cy="367.2" r="2.5" class="gC"/>
<circle cx="44" cy="363.2" r="2.5" class="gC"/>
<circle cx="45.3" cy="366.5" r="2.5" class="gC"/>
<circle cx="46" cy="372" r="2.5" class="gC"/>
<circle cx="57.2" cy="363.6" r="2.5" class="gC"/>
<circle cx="61.8" cy="366.3" r="2.5" class="gC"/>
<circle cx="42.7" cy="347.5" r="2.4" class="gO"/>
<circle cx="27.9" cy="359.7" r="2.4" class="gO"/>
<circle cx="48.4" cy="361.3" r="2.4" class="gO"/>
<circle cx="41.4" cy="358.7" r="2.3" class="gP"/>
<circle cx="30.6" cy="390.8" r="6.7" class="gZ"/>
<circle cx="48.5" cy="390.8" r="6.7" class="gZ"/>
<circle cx="66.4" cy="390.8" r="6.7" class="gZ"/>
<circle cx="84.3" cy="390.8" r="6.7" class="gZ"/>
<circle cx="102.2" cy="390.8" r="6.7" class="gZ"/>
<circle cx="120.1" cy="390.8" r="6.7" class="gZ"/>
<circle cx="138" cy="390.8" r="6.7" class="gZ"/>
<circle cx="155.9" cy="390.8" r="6.7" class="gZ"/>
<circle cx="236.1" cy="390.8" r="6.7" class="gZ"/>
<circle cx="254.1" cy="390.8" r="6.7" class="gZ"/>
<circle cx="272.1" cy="390.8" r="6.7" class="gZ"/>
<circle cx="290.1" cy="390.8" r="6.7" class="gZ"/>
<circle cx="308.1" cy="390.8" r="6.7" class="gZ"/>
<circle cx="326.1" cy="390.8" r="6.7" class="gZ"/>
<circle cx="344.1" cy="390.8" r="6.7" class="gZ"/>
<circle cx="362.1" cy="390.8" r="6.7" class="gZ"/>
<rect x="21.9" y="207.3" width="142.8" height="194.5" fill="none" stroke="#e0302c" stroke-width="1.3" stroke-dasharray="3.6,2.2"/>
<rect x="228.1" y="207.3" width="142.9" height="194.5" fill="none" stroke="#3a9ad6" stroke-width="1.3" stroke-dasharray="3.6,2.2"/>
<line x1="21.7" y1="376" x2="371" y2="376" stroke="#3b3431" stroke-width="1.5" stroke-dasharray="3.8,2.3"/>
<rect x="17.6" y="409.2" width="143.6" height="107.1" fill="#fff" stroke="#b5b5b5" stroke-width="0.9"/>
<path d="M127 477.1l-.1-1.1 .8-.2M140 411.9l.6 .5 .4 1-.5 .6M125.3 494.9l-1.1 .2-.6-.6M108.5 479.5l-1.2 .2-.5-1M93.1 485.1l-.9-.7-.1-.7M90.1 476.5l-.8-.8-.9 .7-.9 0M111.2 419.8l0 .7 1 .5-.2 1M59.4 464l-.8-.6-1.1 .5M124.3 471.4l-.8 .4-1.3-.3-.7-.2M66.1 489.5l.9 .2 .6-.6M53.5 438.5l-.7-.2-.6 .5-.1 .4M64.2 466.5l.7-.4 .9 .1 .2-1.3M113.8 435.7l-1.1 1-1.2-.3M105.8 442.1l-.7 .1-.8 .2M70 512l.5 1.4 .9 .4M74.9 449.8l-1.1 .5-1 .8M87.7 428.5l.1-.9 1.2-.8 .8-.4M96.5 493.7l.9-.3 1.3 .4 .6-.8M84.5 433.9l.7 .3-.5 1.3M98.8 454.3l-1.2-.5-.7-.1-.9 .5M125 515l1-.5 .5 .5 .9 .4M115.2 443.2l-.2 .7-1 .9M157.1 494.7l-1.1 .1-.2 1.3 .2 1.3M120.4 466l1.4-.3 .7 .4 0 1M88.3 451.9l-.2-1.4-.6-.5M102.1 462.1l-.9-.6-1.1-.4M147 464.6l.7-.9 .6-.8 .3-.7M129.4 456.1l-1.2-.4-.9 .7-.1 1.2M148.9 461.8l-.8-.6-.5-.7M82.9 499.3l.6 .8 .2 .9M68.3 441.5l.7-1.2 .3-.6M59.8 433.5l-.7-.5-.8-.6M117.6 425.5l1.3-0 .9-.1 .1-1.2M119.1 447.4l.3 1.4 1.1 0 0 1.5M159.4 440l.8-.2 .7-.4 0-1M126.6 422.3l-.3-.7 .9-.6 1.2-.7M81.1 413.1l1.3-.4 0-.8M130.3 473.1l.6-.9 .8-1.3M127.5 501.3l-1.2 .5-1.1-.5M61.3 458.3l1.3-.3 .5 .9 .2 .9M53.1 435.6l.3 .9 1.3 .2-.2 1.2M127.6 494.5l-1.3-.4-.7 .7-.9-.2M160.2 444.1l.6-.6 0-.9M101 429.6l.2 1.1-.9 1.1 .6 .8M64.1 453.6l-1.3-.1-.2-.9M102.5 413.2l1.1 .1 .2 1.1M105.7 428l.7 .6-.5 .9M125 472.5l.7-.8 1.2 .6M63 491.5l.7 .1 1-.3M85.6 439.5l.5 .6-.9 .8M89.3 450.5l-.3 .9 1.2 .4M59.5 460l.5-1.4 .5-.6 1.2-.3M66.4 481.1l1.2 .5 .8-1.1 .4-1M53.5 464.7l.8-.6 .8-.8 .8 .1M74.5 513.6l-.8 .2-.3-1.1M112.2 458.5l-.8-.4-1.4-.5M53.1 501.3l.1-1.2-1.1-.5-.1-.3M89.6 449.3l.6-1.1 0-1.3-1.2-.3M110.8 493.5l-.3 1.1 .3 1.3M73.1 460l.1-1.5-.6-.4-.2-1M114 459.5l-.3-1-.2-.7M83.5 513.4l.8 0 1.3-.6M129.4 444.9l.4 .7 1.1 .2M113.2 465.1l.7 .3 .3 .9-.7 .2M149 464.1l1.1-0 .5 .8M74.8 418.1l.6 1.3-1.2 .6M74.9 422.4l.3 .8-1.1 .7M104 421.2l.1-1.5-.4-.9M125.1 485.4l1.2 .2 .3-1.4-1.1-.4M111.6 506.6l-.9-.7-1-.9M121.2 478.3l.1-1.3-1.3-.5M94 476.5l-.9-0-0 1.3M64.9 421.4l.9-.9 .1-.8 .4-.8M130.8 410.1l-1 .1-.7-.4M121.1 421.1l-.4-1.3 .9-1M160.7 500.9l.1-1.3 0-.8M84.3 438.4l-1.2 .1-0 .8M73.5 417.2l.1-.8 1.4-.3M81.2 431l-.4-1.3 .3-1.3M96.9 428.3l.3 1.2-.6 .5-.9 .7M73.8 515.4l.4 .4 1.2 0M132.6 503.6l-.1-.9 .3-1.1M77.1 495.6l.2 1-1 .6M81 438.9l-.3 .7 .4 1.3 1.1 .8M124.1 424.2l-1.5 .2-1.2-0-.9-.5M78.9 465.7l-1-.9-.6 .5 .4 1.1M154.2 412.6l-.5-1-.5-.9M159.5 512.5l-1.3-.5-.9-0-.7-1M150 420.3l.8-.6 .2-1.5M73.6 468.4l-1-.1-.3-1.4-.8 .1M147.7 412.4l-1.3-.2-.6 1M142.5 453.3l.5 .6-.4 1M148 429.7l.1 1.1-.6 .5-1.1-.4M122.8 411.8l1.4 .2 1.2 .1M55.7 411.8l-0 1.3-.2 1M116.4 474l1.2 .5 .7 .5 .7-.9M131 423.7l-1.2 .1-.4-.7M125.5 477l0-1.1-1.5-.1M100.8 472.3l-.1-1.5-.5-1.1 .3-1.1M77 419.5l1.2-.4-.4-1.4-.6-.5M80.8 451.3l.6-.4 .6 1-.2 .8M74.8 432.8l1.2 0 1.4 .1M104.7 500.1l.4 1.2 .5 .8 .7 1.3M56.9 422.3l-.6-.6-.9-.6M88.2 488l-.4 .6-.9 .3M79.6 415.3l.5-1.3 .6-.5 .3-.9M116.8 500.2l1.3 .3 .2-.9M59.8 472.3l1.2 .6 .5 .8 1-.6M102.5 416.5l-1 .3-.5 .9M102.8 491.8l1-.4 1.1-.6-.1-1.4M142 426.3l1 .2 .7 .7 .8 1M62.1 484l-.9-.6-.6-.5-1.4-.4M64.2 485.7l1-.5 1.2 0M87.5 496.2l.1 1-1.3 .6M127.9 486.2l-.9-.9-.6-.6M115.2 509.7l.2 1.1 1 .6M120.4 491.6l-.6 1.2-.3 1.4 1.1 .3M76.3 482.8l-.2-1.4 .4-1 1-.7M67.4 468.8l-1.1 .6-.4 1.3M109.1 439.3l-.9 .7 .2 .9 .2 .7M73.2 466.9l.7-0 1-.2 .7-1M103.6 419.1l-.2-1-1.1-.3M55.9 437.7l-1.4 .5-.8 1.2-1.2 .6M105.3 474.3l-.8 1-1.4 .3M119.6 434.5l-.7 1.2 .8 1.2M87.5 449.2l1.1 .6 .1 1.3 1 .9M90.3 494.9l-.5 1.4 .8 .7 .1 1M122.9 421.5l-1.2 .1-.8 1.2M104.3 435.7l1.5-0 .1-1.1M115.2 469.5l1.1 .4 .7 .2 .6-.8M158.4 429.9l-.9 .2-.6 1.1M56 429.2l-1.3-.4-.1-1 .9-1.1M154.5 512.3l.9 .2 .5-1.1 .9-.9M119.7 479.4l.1 .7-.8 .2 .3 1M82.1 461l.4-1.1 .2-1.2-1.2-.2M120 507.8l-1 .7-.8 .3M64.1 498.9l-.9-.4-.8-.1M122.9 511.9l-.1-.9 .7-.3M148.8 476.1l-.7 .3-1-.3-1.3 0M83.6 459.2l-.9-.2-1.4-0-1.1 1M114.4 411.8l-.7-0-1.1 .4M68.2 509.4l1.2-.1 .6-.5 .7-.4M158.5 476.8l-.8 1.1 .7 1.2M91.5 508.8l1.2 .1 1.1-.1M84.5 484.6l-.5 1 .3 .9M153 455.2l-.3-.7-.4-.6-1.3-.1M140.8 499.3l.7 .9-.1 .8 .6 1.2M91.8 481.2l-.2 .9-.8 .6-1.1-.2M125.2 452.7l1.1-.8 .7-1M104.4 480.5l-.6-.4-.8-1.1-.8 .4M79.4 422.3l-0 1.4-1.2 .2M142.2 492l-.9 .6-1.3-.7-.5-1.1M91 431.3l-1-.7-.8 .9-.8 1.2M152.9 471.7l.1 .8 .7 .9M149 513.3l-1.1 .4-.5 1.3M144.5 484.8l-.2 1.5 .6 .6M139.2 490.1l-.7-.3-1.4 .1M145 509.1l-1.1 .5-.7 .7-.5 .8M154.9 496.3l-.6-.9 .4-1.1M117.2 504l.9-1 .3-.7 1.2 .3M127.4 446.7l.4-.6 .9 .6M80.5 499.4l.9 .9 .2 .7-.9 .9M86.8 482.5l.4-.6 .5-.5M83.3 514.1l.8-.6-.4-.8-.7-.6M95.7 465.3l1 .9 .9 .1 .6-.4M107 479.2l-1.4-.2-.7 .8-1.2 .6M155.8 476.9l-.5 .9 .8 .5M147 411l-1.3 .7-.2 1 .7 .7M129.9 456.7l.5 1.3 1.2 .9-.3 .9M60.7 424.7l1-.9 1.1 .5 .5-1.1M63 471.1l.6-.7 .2-1M97 447.5l1.1-.8-.4-1.2M67.1 417.1l.8 .1 1 0 .3-1.3M129.9 511l-1.2 .2-.8 .7-.8 1M117.4 434.5l1-.5 .6 .7-.4 .9M84.9 464.8l.5 1.1 .7 .4 0 1.4M86.1 418l.5 .5 1.4 .2M87.3 439.1l-1.3 .2-.8 .4M75.2 468.6l-.9 1-1.1-.2-0-1.2M121.6 433.8l-1.1 .7-1.2 .1M126.5 505.1l-.6-.6 .9-1.1M120.6 410.7l-.3 .8-.7 .4-.3 1M98.5 440.9l1.1 .8 1.1-.7 1 .1M59.4 433.3l.9 0 .7-.4M102 509.5l.7-1.3 .8-.3 1.3-.3M109.9 446.7l.7-1.2 1.3 0M112.7 429.7l1.4-.4 .9-.2M127.1 456.3l-1.2-.6-1.3-.6M61.5 416.2l-1 .4-1.1-.3M60.4 443.8l-.3-.9-1.1 .3M94.4 494.7l.6 1 1.3-.6 1.1 .6M113 450.9l-.7-1.3-.7 .2-.9-.5M76.4 492.7l.8-1.2 .6 .3 1.3 .3M145 495.6l-.1-.7 .7-.3M83.7 417.1l-0-1-.3-1.1-.9-.4M143.8 452.6l1.4-.2 .6-.7M77.6 424.3l.3-1.3 .9-.7 .8 .5M67.4 468.7l-.6 .7-1.4-.1-.8-.1M85.5 412l1.5-.3 1.4 .5-.1 .9M124 424.1l.8 1.1 1.1-.7 .8-1.2M77.8 507.6l-.8 .1-.1 1.5 .8 .8M78.1 446.4l.8 .9 .3 1M101 464.6l.2-1.1 .3-1.1M89.9 481.2l1.3-.1 1.2-.2M57.3 503.4l.4 .8 1.1 .4M102.2 500.1l-.8 .4-.7 1M53.1 458.9l-.9 .2-.2 .9 .5 .9M158.1 499.6l.8-.4-.1-.8M89.2 433l1.4 .3 .8 1.2-.2 .8M57.1 471l-0 1.3-.8-0M108.5 418.5l.5-1.1-.8-.5M140.1 479.7l-.9 .7-.8-.7M83.4 500.4l-.9 .8-.3 .9M95.6 437l-.4 .7-.5 .5-1 1M101.2 419.9l-.7 1-.4 1.3 .1 .7M114.6 410.3l-.2 .7-1.2 .8-.1 1.5M93.9 425.9l-.4 1.3-.9 .6-1.3 .6M54.2 447.7l.6 .4 1.1 .8M147.9 469.2l.7-1.1 1.1-.3 .1-1.1M84.1 439.3l-.6 .5-.6 .6M145 491.2l.4-.9-.1-.9-.8-.5M153.4 473.6l-.4-1.1-.9-.1-.5-.6M130.1 410.6l-.1 .9 .3 1M126.8 500.1l.6-.5-.5-1.1 .3-.8M142.6 451.2l-.2-1.5 .2-1.1M97.7 495.2l.9 .6 1.1-.2M107 511.3l.9 0 .2-.8 .7-.3M100.4 430.7l.9-.7 0-1.2M152.7 494.8l-1.1-.6-.4-1.2M117.7 446.3l.2-1-.4-1.4M112 411.7l-1.1-.1-.5-1.1-.2-.8M87.5 460.4l-.4-.7 .1-.8M89.5 456.6l1.2-.1 1.3 .6M156.3 459.4l1 .7 .9-.2 .1-1.4M118.3 427.4l-.6-1 .9-.7 1.5-.2M104.3 460.9l-.5 .9-1.3-.2M142.3 510.5l0 .7 .9 0M127.6 495.7l.6 .7-.7 1.2-.2 .7M99.9 495.8l-.2 .7-.6 1.2M63.4 497.8l-.8 1-.7 1.3M109.7 415.6l1-.7-.5-1.1 .6-.6M137.4 513.2l-1.3-.3-.4 .9 1 .9M124.5 494l-.8 .2 .1 1.2 1.2 .3M131.8 477.2l.8-.8 .7-.9M155.9 426.4l.7 .6 .7 0 1 .1M77.2 415.3l0 1.5 1.1 .3 .4 1.4M136.5 476.7l1.2-.8 .9 .4M95.5 493.4l-.7-.3-1.4-.3-.8-.6M140.2 492.4l-1 .9 .3 1.4M111.4 480.7l-.6 .4 .4 .7M97.4 439.1l-.8 1.2-0 1M106.3 448.4l.9 .7 1.4-.4M145.6 421.5l-1.4-.1-1.5-.2M142.2 498l.1 1.1 .7 .1 .1 .9M114 414.1l1.3-.4 .4-1M123.3 410.1l-.9 .6-1.1-.6-.6 .5M84.2 503.8l-1.3 .5-1.1 .3M108 480.4l.5-.9-.1-1.4M96 480.3l-.7-.2 .3-1.4 1-.1M108.3 508.1l-.9-.5-.8 .5 .4 .8M106.9 457.7l1 .2 .8 .4M113.4 507.5l-.8 .2-1.4 .1M153.6 470.2l.3 .9 1.1 .5M67.9 463.7l0-1.1 .6-1.1M113.4 508.2l-.9 .4-.5 1 .1 1.1M87.5 429.8l.8 .9 1-.9 .7 .3M131.8 423.2l.7-.5-.1-1.2M117.2 486.2l.8 1.1 .8 .5 .9-.1M86 494.6l-.4-1.1-.8-.1-.7-1M103.4 434.1l.7-.6 1-.1M86.8 450.4l.3 .7 0 .9-.9 .9M67.6 515.2l1.2 .1 .5 .5M152 500.2l.4-1.2 1.3 .3M120.4 445.2l-1.1 .4-.7-.2-.6 .7M62.9 461.5l.8 .7 .6 .5M153.1 505.5l-.7-.5-.9-0M56.6 417.1l-1.2-.2-1-.2M105.5 432.3l.9-.2 .2-.7M101.6 488.2l-.8-.4-.4-.7-1.2-.1M151.4 470.8l.8 1.1 .4 .7 .9 .1M122.8 437.1l.8-.8 .2-1.4 1.1-.5M104.5 513.4l-.8-.1-1.3-.2M146.3 453.2l-.4-.8 .4-1.1 .9-1M100 412.6l-.9 1.1 .4 .8M70.9 433.5l.7-.7-.6-1 .4-.6M115.6 477l-.5-.5-.8 .4-1.2-.8M65.1 454.9l.5 .5 1-.1M122.2 428.3l1.1-.2 .4-.8M93.7 450.8l.6 .8 1.5 .1 .5-.8M78.4 471.2l-1.2 .1-.5-1M145.6 456.9l-1.4-.1-1.2-.3M109.8 416.8l1.2 .1 .5 .6M66.7 477.5l-.2-1.4 .5-.7 .8 .4M126.3 432.9l-.1-1-.8-.2M131.6 458l-.7 .7-1.1 .4M151.1 495.9l.5 .6 .8 .5 .6 .9M79.9 466.4l.2 1.3-.2 .7-1.2-.2M58.1 423l-.4 1.1 .5 1M75.9 460.7l.6 .4 1-.4M53.2 447l-.4-.6 .4-1.1 1-.5M136.5 455.4l.5-1-1-.7-1.2 .1M89.5 461.3l1.1 .7 .9-.8M156.6 461.2l-1.4-.1-.1-1.4 .8-.9M145.2 413.3l.1 1.1 .7 .4M71 503.5l0 1.5 1.5 .1M154.4 449.4l1.3-.3 .9-.9 1.4-.5M84.8 456.3l1.1-.5 1.2 0 .9 .6M110.6 461.6l.6-1-.9-1 .4-.8M71.2 441.2l.2-1.2-0-1.3-1.2-.1M111.6 465.1l.7-1-.1-1 .6-.4M85.1 499.5l-.1-1.1-.9-1.1-1 .6M55.1 475.8l1.2 .6 .6-.5 .8-.4M66.1 504.7l.2-1.2-.8-.2M88.7 472.4l-.2-1.3-.1-1.3M64.2 486.6l-.2-1-.4-.7-.6-.4M74.9 413.1l-.5 1-1.3-.1-.7-.6M56.1 410.6l-1.5 0-.2 1M136.7 463l.6-.9-0-.9 .9-.7M78.5 499l-.2 .7-1.4 .4M151 494.4l.9 1 .6 .8M158.4 459.8l-.1 .8 .7 .6 .7 .9M90.8 444.6l.6 .4-.4 .9M97.8 454.5l.8-1 1.1 .3M120.2 420.8l-1.3 .4-.4-.7M150.1 514.7l-.3-1.1 1.1-.9 1.2 .7M118.5 420.2l.7-.6 .9 1 .8 .6M93.5 444.3l-.7 .4-1.4-.2M81.7 502.6l-1.1 .9-1.1 .9M140.9 432.8l1.3-.5 1 .4M150.9 505.7l-.1-1.3-.8-.3 .3-1.1M91.4 452.5l.5 .5 .9-.3 .9-.2M55.7 430.6l-.1 1.1 1.1 .4 .8-.2M156.9 424l.8-.4 .2-.8M131.8 456.6l.6-.4-.2-1.1M72 507.9l.7-.5 .4-.8M150.8 440.1l-1.2 .8-.7 .2 0 1.3M112.5 447.6l1.2-.6-0-1.3-1-.9M115.4 469.7l-.6 .8-1.3 .3-.3 1.3M121.4 418.5l-1-1.1-.8-1.2-.5-1M101.3 452.5l-.1 1.1 .6 .4M56.3 479.2l1 0 1.3-.3M127.3 433l.5-1.4-.4-.7 .4-.9M142.5 428.4l-1.3-.3-.9 .2-1 .9M159.3 494.7l-1-.5-.7 1.3-1.1 .4M85.7 455.5l-.2 .8-1.4 0-.6 1.1M144.8 467.5l-.5 .7-1.4 .4M123.6 493.1l-.3-1.2 1.1-.3 .7-.4M137.3 421.9l1.4 .2 .8-1.1M81.7 492l.6-.8 .1-.7M131.6 411l.8 .7 1.3-.3M99.5 433.1l.1-1-1-.4M71.2 439l.5-1.3 1.1 .1 1-.8M91.2 486.1l.3-.8 .1-.9 .8-.2M104.7 412.5l-.3-1 .1-.7 .8-.4M55 511.4l-1.1 .7-1.1 .3-.8-1.2M63.8 477.7l-.4-.7 .5-.7 1.1 .2M98 410.2l-.8 1-1.3-0-1-1M111.2 433l-1 .7 .2 1.3M127.7 455l1.1 .7 1.2-.3M150 497.6l.4-1.1-.7-1.2 .5-1M123.4 460.3l1.3-.6 1.3 .3M133.7 468.4l-.1 1.1-1.2 .8M61.5 485.7l.7-.8 .5-.5-.8-.9M160.3 477.5l-1.3-.8 .1-.8-.5-1M111.5 411.1l-.8-.4-.9 .1-.9 .1M89 490.9l-.4-1.4 0-1.2 .5-.4M154.5 462.2l.1 .7-.2 .8-1 .1M88.5 464.6l1.2-.2 .6 1.2M83 433.6l.9 .5 .7 .9 1 .5M149 422.6l-.6 1.3 .3 1.4 1.1 .8M157.5 455.3l-.2-.7-.1-.7M149.7 439.9l.1 .8 1.2 .3M124.9 504.4l-.9-.1-1-.1M64.8 477.3l1.3 .4 .3 .7M98.1 446l-.3 1.2 0 .7M61.1 477.3l-.1 1.2 .5 .7M116.1 416.6l-.4 1.1-.2 1.1 .7 .2M78.8 417.8l.9 .7 1.1 .4 .7 .2M60.8 469.9l.5 1.1 1.1-.6-.4-.9M110.2 468.5l.2 .8 .2 .8M85.5 429.9l.4 1 1.2 .7M149 440.9l-.5 1.2-.4 1.3M96.9 425.3l-1.1-.1-1.2-.1-.1 1.5M155.3 514l-.4 1.1 .2 .7M55.1 491.9l-.5-.6-.7 .4M106.7 491.5l-.4-1 .3-.8 .7-.1M76 469l-.1 .8-.9 .3-1.2 .5M92.6 440l.8 1.1 .7-.2M125.5 437.3l-.5-.7 .3-.9 .9 .3M93 497.9l.1-1 .9-.7 .8 .3M157.7 436.4l-.6-.9-1-.8M142.6 506.3l.7-1.3 .3-1.1M127.5 475.8l-.9 1.2-.8 1.2 0 1.2M57 470.5l-1.1-.1-.9 .5-.8-.6M64 423l-1-.1-.1-1.2 .1-.8M64.5 493.7l.4 1.3 .4 .7M152.7 453.6l.2-1-1.2-.7M99.2 494.2l.8 .2 .2-1.3M95 444l0 1.3-1.3 .2M85.2 485.2l-1-.8 .7-1 .8 .2M80.5 460.3l.7-1.1 .1-1.5-.5-1.4M61.6 452.7l-1.1-.2-.6 .7M143.3 446.6l-.6-.6 .7-1.1M130.8 455.3l.5-.5 1.1-.2M153.8 443.5l-.7-1.2-.4-1-1.3-.6M120.6 460.9l-.1-.7-1.1-.5-1.4-.3M134.1 498.8l-.4-1.4 1-.9M104.7 414.5l.4 1.2-.6 .7 .6 .4M146.7 474.2l1.4 .5 0 1.2M79.7 513.2l.6-1 1.4-.2 .6-.6M141 482.8l.9-.1 .2 .8 .9-.3M61.6 450.1l.6-.7-.5-.9M95.8 430.6l1.1-.9 1.1 .7 1-.6M99.1 410.4l.9-.6 .9 0 .3 0M118.8 504.2l-.9 .5-.7 .4M114.9 445l.5 .7 1.1 .1M56.3 436.3l-1.1-.6-1 .5 .3 1M148.5 482.6l.3-1.2 .8 .1M79.2 463l-.5-1.1-.8-.2-.7-.4M111.1 452.3l-.6-.3 .1-1-.9-.3M61 440.7l-.2 .8-.8 .7M109.9 457.7l.8 0 .1-1M119 439.9l.3 1 .8 1.2 .5 1.3M71.9 439.9l1.2-.1 .3 1.3M138.8 473.2l-.2 1.4 .8 1.2-.4 1.4M134.6 442.5l-.4-1.3-.6-1.3-1.4-.1M111.4 493.5l-.2-1-.4-.6M87.5 465.6l-1.2 .2-.9-.2-1-1.1M83.6 413l-1.1 .2 0 1.2-.8 .7M118.1 422.8l.8-.7 .8-.8M112.1 426.9l.9 1.2 1.4-.5 .5-.8M146.8 458.5l-.7 .1-.9 .3M75.8 447.4l1 .2 1 .7-.6 .8M110.6 435.9l-.2-1.2 .3-.8M82.3 413.6l-1.2 .3-1 .8-.8 .9M114.8 505.4l-.8 .3-1.5 0M86.2 480.1l-.9 1.1-1.2-.7M59.1 515.5l.2-1.1-1-.5M80.2 475l-.8 1.2-.8 .7 .6 1.2M70.1 493.1l.8 .9 .6 .9M71 500.3l-.5-.7-1.2-.7-.8 .7M59.6 444l0-.9 1.1-1M96.7 512.9l.5 .5 .8 .7-.9 1.2M89.4 469.9l-1.1 .7-.7-.4-.7-.9M67.6 448.8l-1.4-.1-1-1.1M107.8 494.5l.5 .7 .7 .5M145.3 495.5l-.2-1 .2-.8M59 499.2l.3 .9-.7 .5M77.4 424.7l.5-.9 1.1-.5M78.8 480.9l.7 .9 .8 1 1-.2M67.8 499.9l1.1 .4-.5 1.2-1.3 .6M143.1 496.7l.7 .3 .8 1.1 .8 .6M155.1 415.1l-.3-.7-.9-.5-.8 .5M92.1 433.2l-.1-1 .4-.9M84.7 507.3l-.5-.6-.6-.8 .3-1M73.9 453.8l.2-.9 .8-.1 .3-1.3M139.6 475.3l-.5 .6 .6 .7 .7 .1M92.4 445.5l-.7 .7-1 .3-.2 .7M147 489.3l-.1 1.4-.8 .2-1.1 .1M119.7 432.8l-.5 1.4-0 .8 .7 0M56.2 441.7l1.3 0 1.1 .5M83.4 512.9l-.6-.9 0-1M144.1 441.1l-.7-.2-1 .2-.7-.5M110.5 507.1l-.7-.8-.9-.2M132.5 445l-1.4-.6 .2-1.3-0-1.3M110 515.8l.4-.6 .9 .2M137.9 462.3l-1.3-.2-.3 .8 .3 .7M93.1 480.6l.7-.9 .8 .2M141.9 460.3l-.3 .8-1.4-.2-.7-.7M94.6 488.6l.3 .7 .7 .4M122.8 464.2l-.8 0 0 .7M152.8 419l-1.5-.3-.5 .8-.8 .6M84.5 410.2l.7-.3 1-0M119.8 457.9l-.5-1-1 .3M123.2 423.1l-.9-.2-1.4 .3-1.2 .4M159.4 486.3l-.8-.7-1-1-.7-1.3M76.6 454.3l-1.4 .2-1.3 .7-1-.3M95.8 500l.7 .5-.4 .6-1.4-0M62.1 463.5l.2 .9-.7 1.1-1.4-.3M97.3 420.3l-.9 0-.7 .7-.8 .3M65.9 503.7l.6 .8 .7 .9M104.3 503.2l-0-1.4 1.1-0M157.6 416.6l.9 .5 .8 .6 .7-.5M134.4 457.9l-.8 0-1.4 .4M55.7 424.5l1-.3 .4-1-1-.7M77.4 495.8l-1-.5 .1-1.1M53.8 421.8l.8-1 .8-1 .5-1.4M83 410.7l.1-.9 .1 0-.2 0M83.5 468.7l-.1-1-1.2-.7-.9 .1M159.5 470.9l-.9-.7-.6-1.2M79.4 466.4l.3-1.2 .4-.8-.5-.9M80.9 442.6l.9-.7 1.4 .5M132.2 440.5l1.4-.1 1.1-.5M126.3 439.9l-.4 1.1-.7 .8M125.2 426.2l1-.8 .8-1M88.2 491.8l1.3-.2-0-.9M99.1 464.5l.2 1.5 .3 1.3M124.1 446.8l.2 1.5-1.2 .3M104.6 481.8l.5-.7 .7 .1 .7 .6M81.4 414.1l-.3-1.1-.3-1M149.4 486.2l-.5-1.2-1.2-.3-1.4 .3M153.9 504.3l-.9-0-.2 .9M81.4 496.4l-.7-.4-1.2 .1-1 0M112.2 472.5l-.4-.8-.9 .3M80.6 483.1l-.7-.1-.8-.4M60.7 459.9l.2 .8-.5 1.3M137.7 439l-.3 .7 .7 1.1M101.9 434l.8 1.1-1 .7-.2 1.2M130.9 481.2l1 .9 1.5 0M84.7 474.2l.9-1 .7 .6M134.7 460.3l-1.3-.7-.7-1M79.6 482.9l1.2 .7-.1 .9M70.5 416.5l.6-.8 .4-.6-.7-.6M108.1 436.4l.7 .5 1.3-.5M120.1 436.4l-.9 .3 .5 1.3M116.7 512.8l-.9-.2-1-1.1M57.6 419.4l.5-.6-.3-1M56.5 481.5l-.7-0-.5 .8-.8-.5M68.8 501l-1 .5-.1 1.4-.7 1.1M117.2 513.6l-1.2 .3-.9 .8-.3 .7M133.4 514.3l.7-.1 1.3-.4M89.8 439.4l-.3-1.2-1.3-.5-.9 1.1M78 412.3l-.7-.8-.8 .4M127.7 469.7l.8-.1 .7 .7-.5 .8M85 422.6l1.4 .2 .3 .8M96 508.6l1.3 .1 .7 .1 .6 .5M54.5 483.5l-.4 1.2 1 .8-.5 .7M111.9 425.3l-.6-.6-1.1-.2M87.2 464.3l.7 .1 1.2 .5M141.4 465.3l-.7-1.3 .7-.9 1 .8M95.2 449.4l-.3-.7-1.3 .5-1.1 .6M151.2 448.1l-1.4 .1-1.1-.8-1 .8M125.5 444.7l.9-0 .4 1M138.7 446.7l-.7-.5-.8 .5-.9 1.1M148.6 510.6l-1.5-.1 0-.9 0-1.3M79.2 418.9l-.7 .5-.5 .9 .8 .6M134 476.4l.3 .8-1 .6 .5 1.4M100.9 498.7l.6 1.2-.8 .5-1-.6M126 510.1l-.7 .1-.7 .9M150.4 441.7l-.5-1.1-.6-1.2M87.4 413l.1 .7-.7 .6M94.9 433.9l.8 .4 1.1-.2M113.7 412.8l.2-1.2 .2-.7-.5-.8M105.5 512.6l-.5 1.3-1.4-.5-.7-.6M131.8 457.8l.6-.8-.9-.7-.3-1.1M83.4 512.3l-0-.9-.6-1.1M91.8 454.8l.7-.9-.5-.8M96.3 436.4l-.1-.9-.6-1.1M151.7 420.6l-.9 .9-.8 .1-.7-1.3M108.1 514.7l.5-1.2-.6-.9M58.4 454.4l-.1 1 1.3 .4 .3 1.5M108.3 498.5l-1 .6-.2 1-1.2 .6M70.3 435.6l.4 .7-.3 1.2-0 1M159.9 485.2l-.9 1.1-.8 .3M58.6 464.2l.5 1.4 .1 .8-.9 .7M61.4 468.6l-.9 .2-.5-1.1-.7-.4M127.1 465.7l-.8 .4-.5-.8M150.8 472.1l0 .9-1.3 .5M83.8 464.9l.8 .7-.7 1.3M82.7 513.6l-0 1.4-.4 .8-.4 0M152.5 418.1l-.5 1.4 .9 1M55.1 455l-.7 .4-.1 1.4M122 483.8l1 .7 .9 0 1-.3M124 477.4l.9-.2 .3 .9M122.9 466.4l.8-.5-.4-1.1 .9-.4M141.7 473.7l1.2-.2 1.4 .3 .7-.8M56.2 507.3l.7 .8 .8 .9-.6 .7M57.9 505.4l-.7-.3-.3-1.5M155.5 501.6l-.5-.7-.7-.4-.4-.6M154.9 444.4l.7-.2 1 0M101.9 514.3l1 .2 .2 .9M109.8 500.6l.7-.5 .2-1.3M103.1 490.3l-1.3-.4-.7 1.2 .8 1M83.5 482.3l-.3 1.1-.8 .1M117.8 466.9l-.8-1.1 .5-.7M140.1 456l-.3-.7 .3-1M101.9 468.3l-.9 .5-1.1-.1-.6 .7M83.2 426.4l.4 1.1-.9 .8-.8-.6M88 508.6l-.6-1.3 .4-1 .8-.9M148.4 491.4l-1.1 .8 .4 1.4M133 456.9l-.9-.9-.5-.9 .7-.4M151.9 466.4l.7-.4 .5-.5M150.9 423.9l-.5 1.4 .7 .3 .1 .8M115.1 425.3l-1-.2-.5-.6M108.4 492.6l-.9 .1-.9 1M52.6 414.3l-.6 .1 0 .2M86.4 497.7l-1.2 .6-.8-.2-.8 1.3M62.4 470.4l-0-1.1 .7-1.2M151.9 438l.8 .3 .9 .7M122.2 440.5l-.2 .8 .9 .3-.1 .8M102.9 445.2l-.6-.5-.9 .9M149.1 438.2l.1 1-.1 .9 .5 .9M104.1 506.4l.3-1.2 1.1-.7 .3-1.1M152.9 436.1l.8 .5 .7-.6 .6 .6M106.6 415.7l-1 .3-.6 1.4-.6 1.1M143.9 493.2l-.1-1.2 .8-.5M128.5 444l.2 .7 1.1 .3 0 1.1M73.8 454.3l-.3-.7-.6-1 0-1.3M74.3 442.9l-.4 1.4-.6 1.1 1.1 .8M155.3 475.5l-.2-.7 .9-.8-.6-1.1M114.3 482.1l.3-1.4 1.4-.4M58.6 410.5l-.4-.7-.2 0M112 410.9l-0-1 1-.1M61.1 426.9l.9-.8 1.3-.7 1 .1M53.8 513l1.1-.1 1.3-.2 .4 .8M52.4 447.3l1 .3 .6 .7 1.4 .6M139.6 415.5l.1-1.4 1.1-.4M78.7 504.7l-.7 .8-.9-.5 .4-1.1M93 445.7l.1 .7-.1 1M89.5 412.1l-.6-.8-.8-.1-.8 .5M150.1 413.1l-1.1-.7-.5 .7-.4 .6M80.6 420l.2-.9-.5-.9-.6-1.2M117.6 442.4l.1 .8 .8 .1 .6 .4M55.2 472.2l-.3-1.3 .8-.3 .7 .5M130.1 413l-1.3-.4-1.1-.2-.5 .5M56.5 416.1l.7-1.1-0-.9-1.4-.1M158 480.7l-1.4-.2-1.2 .2-.8-.7M115 472.4l-.9 1.2-.9-.2-.1-.7M106.6 415.8l.3 1 .2 .8M117.6 432.5l-.7-1.1-1.2 .6M108.5 464.7l.6-1.1 .3-1.3M127 480.1l.2-1 1-.8 .8 .2M67.7 481l.8-.1 .4-.8M83.3 490.3l1-.4-.3-1.2M143.9 474.5l1 .3 1.3-.1M80.1 478.8l-1 .2-1.2 .7M77.5 473.5l.7-1.2-.2-1-1.4-.4M134.3 468.3l-1.2 .7-.8 0M90.2 415.1l-.1 1.2 .4 1.2-.2 1.1M86.9 443.5l.8-.6-.1-1.1-.8-0M78.1 483l.2 1 1.3-.3 1.3-.1M122.8 422.4l-1.1 .1-1.2-.4M90 417.9l.8-.3 1.1 .8M151.4 442.8l.7 .5 1.3 .4 1.3-.5M88.9 503.8l1.2 .8-.5 .8-.9 .6M99 426.6l-.5 .9 .7 .4-.5 1.4M140.5 482.8l-.7-.7-.9 .2-1.4 .4M105.4 497.8l.9 .5 .5-.6 .7-.1M83.8 421.6l.2-1 .1-1 .6-.5M95 438l-.2-1.4 .5-.7M109.4 465.2l-.2-1.2-1.1-.6M127.4 481.3l.8-.8-.2-.8-.5-.9M159.9 468.4l.9-.3 0-1.1M59.7 456.8l.3 1.3-.7 .2-.3 .8M145.6 439l1-.9-.5-.8M146.6 489.9l-.7 .1-.8 1.2-1 .5M116.3 423.3l-.8-.3-1 .6M74.8 435l.9-.4 .3-.8 1.3 .1M102.5 421.2l.1 1-.5 1-1.3 .4M146.4 477.8l-.5-.5-.8 .3M81.7 432.8l-.6-.4 .3-1.4M69 490.7l.2-.9 1.2 .1 .4-1.1M153.9 467.9l.5-1.2 .4-.7-0-1.1M98.3 501.7l-.4-.9 1.2-.5 .7 .4M61 433.6l.5 .6-.3 .9M101.8 432.1l-.3 .6 .3 1.3 1.2 .7M92.8 493.2l.5-.8 .3-1.2-.9-.4M80.1 508.4l-.1-.8-.3-1M96.6 469.7l-.1-.7 .4-1.2 .7-1M70.6 413.9l-.6 .6-1.2 .8-.5 1.3M149.7 502.6l-.8 .6-.2 .9M125.7 476l.8-.4 .9-.1 .1-.7M149.4 425.9l-1 .8-.8 1.1M55.2 417.4l.2-1.1 .4-1M136.2 435.6l1.2-.5 .4-1.2M147.1 428.9l-.8 .7-.8 .5M85.5 439.1l.8 1-1.1 1-.1 1.2M133.1 425.2l-1-1-1.4-.2-1.2 .7M119.4 498.2l-.2-1.1-0-1.2M53.4 414l.6 1.2 1.3 .6-.1 .9M107 487.5l1.2 .2 .6 .6M154.8 503.6l0-1.1-1.1-.8 .6-1.1M58.1 411.5l.5 1.3 1.4 .2 .8 .7M63.4 515.5l-.4 .3-.1 0 1 0M85.6 489.5l.4-1.1 .8-.2 .8-.3M112.1 459.9l-.6 1.2 .2 .8-.1 .7M109.8 419.2l-1.4 .3-.5-.6 .4-.8M92.3 481.4l1 .9 1-.6-.1-1.3M119.3 418.2l.8-1.2-.8-1.1-1-.2M64.1 425l-.3-.7 .8-.6M131.5 480.1l-.7 .3-.5 .7 .9 .9M57.7 438.8l-.5-.5-1.2 .6M117.7 417.5l-1.1 .3-1.3-0M76.2 506.7l.1-1.3-.7-.4-.8-.9M102.7 469.7l-.1 .9-.8 1.2M98.9 501l.9 .1 .9 .8M89.8 476.3l-1 1-.8-.6-1.1 .3M84.7 464.9l.6-.7 .6-.3 .4-.8M78 427.4l.4 .7 .5 .9M90 437.7l-.2 .7-.8 .5M126.6 433.8l.6-.7 1.2-.8M87.2 466.9l.3 1.1 .7 .8 1 1.1M145.4 501.1l-.4-1.2-1.3-.3M134.6 450.5l1.3 .7 1.2 .9 .8 .3M111.7 427.7l.3 .7 .9 .8M157 436.7l1.2-.3 .2-.7M152.9 474.4l-1.2-.8 .1-1.2-.3-1.3M94.6 411.7l-.5-.7-1-1-1.3 .2M55.3 454.3l1.1 .6 .7 .6M85.7 453.1l1.1 .3 .9 1M62.5 459.2l.3-.7-.2-1M84.4 511.1l-1.2-.3-.7 .6-1.2 .3M71.2 484.9l-1 .6-.7 1M125.2 497.2l-1.1 .1-.2-1.2 .7-1.3M154.8 484.1l.8 .9 .6 .8M59 427.4l-.1-.8-1-.7-.7 .5M74.2 413l-.2 1 0 .9M116.9 502.7l-.8 .6-.3 1.4 .2 1M84.9 503.2l.3-.7-.2-1.2M154.9 452.5l-.8 .2-1.2-.2-1 .8M57.8 415.3l-1.2-.6-1.3-.3-.4-.9" stroke="#e65252" stroke-width="0.75" fill="none" stroke-linejoin="round"/>
<path d="M78.9 502.7l.7 .8-0 .7M144.8 479.6l.5-.6 .3-1.4M115.2 499.8l.9 .9 .7 .3 .4 .8M79.2 511.1l-1.3-.4-.5 .6-.3 .8M160.1 421.2l.7 1-.8 .7M130 504.2l-.8-1.2-1-.6 .1-1.5M79.7 499.4l1.2 .2 .6 .6M95.7 458.6l0-1.2-1.4-.4M125.9 481.5l.8 .4 .9 1.1M137.9 452.1l-0 1.1 .3 1.2M61 452.8l.3 1.5-1.3 .7-1.4-.5M141.9 462.8l-1.1 0-.6-.5-.8 .1M129.6 432.9l.9-.7-.8-1.1-.9-.2M77.3 500.1l1.4 .3 .5 .8M158.2 427.5l-.7-.5 .8-1-.2-.8M66.1 450.7l-.1 .8 1 .4M56.6 412.9l-1.4-0-.8-.3M127.4 493l-1.3 .6-.5-.6 0-1.1M113.5 477.6l0-1.4-.9-.5-.9 .1M110.5 422.1l-.1-1.2 1-.4M108.1 435.4l-.5-1.2-1-.7-.2-1.1M157.3 431.3l-1.1-.3 .3-1.3M98.5 415.9l.5-.6 1.3-.5M95.9 511.9l-1.2 .7 .3 1.4M119.2 415.8l-1 .9-.8 .4M114.5 469.1l.5 .9-1.1 .8 .1 1M127.5 492.7l-.1-1.1 .7-.3 .5 1.2M110 445.5l.9 .7 1.1 .4 .2-.7M94 431.8l1.4 .1 .2 .7M84.4 453.4l.4-.8 .7-.8M121.9 455.8l.8-.7 1.4-.2M130.2 466.6l-.7 .3-.3 .9M62.4 504.1l1.3-.7-.6-1.3M92.6 439.1l-.2-.9-.4-1.4M94.5 465.2l-.5 .6-.5 .6-.1 .7M102.8 440l.6 .4 0 .8M129.6 479.2l.8 .6 1.3 .6 1.1-.9M153.7 419.3l.4-.6 1.3-.3M105.4 484.9l-1.1-.5-.8-.8M139.8 496.3l.7-.7 1.1 .3 .2 1.4M149.1 477.2l-1.4-.5-.3 .7-.7 .1M146.8 503.3l1.3 .4 1.2-.7 .6 .4M141.3 511.6l0-1.4-.6-1.2M159.8 429.9l1 .1 0-.1 0-1M150.9 421.7l.3-1.3-0-.8 .7-.2M80.3 410.1l-.2-.3 .6 0M67.5 467.7l.7 .5 .6 .5 .7 .1M136.9 475.4l.9 .9-.9 1.1M124 514l0-1.3 1.1-.5 .3-1.2M77.1 444.6l1.2 .7 1.2 .2M155.1 447.2l-.3-.6-1.3 .5-.3 .7M75 467.4l1.1 .5 .9-.4M129 510.9l1.1-.7 1.3 .7 1-1M61.3 450.3l1.2 .9 1.1-.2 1.4 .3M64.8 420.3l-.3 .6-.4 1.4-0 .7M117.9 498.1l-.9 1.1 .5 1.3 .1 .8M143.9 435.9l1.2-.4 1 .5M68.9 420.5l1.2 .4 .8-1.1 1.4-.1M158.1 453.7l-.7 .2-.8-.3M66.4 468.9l-.6 .5-.7 .7 .6 .7M66.5 486.2l-1.4 .2-.6-1.3-1.1-0M114.1 495.1l-.5 .5-.8-.1 .1-1.2M157.3 441.9l-1.3-.4-.6-.7 .9-.7M152.6 410.1l.2-.3 .2 0 .9 0M57.4 486.5l.3-.7-.9-.7 .2-1.1M73.8 460.6l.8 .1 .1 1.2M160 433.4l-.6 1.4 .4 1 .9 0M72.9 453.5l.2 1-.7 .8M68 447.1l-1-.3-.5-1M127.9 498l.9-0 1.3-.6M89.6 435.6l-1.4-.2-.6 1.1M99.1 454.8l-.2 1 .1 1.5-.8 .4M159.9 411.1l-.9 .3-.2 1.1M73.5 420.8l.8-.7 0-1.1M136.8 487.5l.7-.8 1 1 .7 .6M115.7 487.8l-.8-.6-.1-1.2 .1-1.1M109 438.4l-.9 .7-.8-.3-.8 .1M85.7 481.1l-.5 .9 .8 .9 .9 .3M92.2 504.7l.9 .3 .3 1M131.9 508.2l-.8 .4 .1 .9M130.1 415l-.4-.7 .3-.9M147.8 452.4l.2-.7 .9 .1 .2 1.4M70.2 440.3l1.4 .3-.1 1.1M147 456.1l-.6-.7-.6-1.1-.8-1.1M134.2 503.8l-.2 .8-1.2 .4M123.3 447.7l-1.3-.8 .1-.8M106.7 411.9l-.3-1.3 1.4-.4M55.5 480.1l-.4 .6-1.1-.6M84.9 486l.6-1.4-1.2-.6-.6-.6M148.8 489.9l1 .4 .6-1-.5-1.3M146.2 418l-.6-1 .7-.5 1-.7M114.4 512.6l.8-.8-.2-.9-1-.4M114.1 465.9l1.3-.5-.5-1.4M110.9 475.4l-.7 .8 .5 .8M156.7 502.3l-1.1 0-.3 .6-.2 .8M104.9 446.7l-0-1.1 1.1-0 1.3-.2M101 512.2l-.3 .7-1.1 .8-.7 .4M118.6 512.1l-.5 1-.3 1.3-.1 .9M65.4 435.3l-.7-.8-.9-.7-1.2-.3M107.5 456.4l-.5 1 .3 .9 1.2 .7M83.2 466.1l.3-1.3 1-.2 .5 .5M156.8 514.8l.6-.4 .8-.6 .8 .8M132.6 410.2l-.4-.4 .7 0 .8 .9M101 469l1.2 .5 .7-1M155.6 454.8l-.9-.2-.6 1.3-.7 1.2M144.4 419.2l-.7-.8-1.3-.3 .1-1M111.2 475.5l.5 .9 1 .6M120.4 468.7l.8 .4 1-.3 .2-.7M152.4 476.2l.2-.8-.8-.3-.7 1.1M96.9 412.3l-.3 1 .6 .8M138.2 448.1l.1 .9-1.1 .8-.7 1.2M66 412.3l.8 .4 .7 1M130.1 507.3l-1-.5-1.4 .4-.2 1.2M61.5 489.7l.2-.8-.9-.8M64.4 449.5l.7 .2 .8 1.1M145.6 417.8l.2-.9 1-1 .5-.6M88.3 411.8l-.3 1.2 .5 1.2 .6 1.3M93.5 465.4l.5-.6-.6-.6-.5-.9M92.4 418.4l-.4 1.3 .9 1.2-.6 .6M148.1 433.3l-.6 .9-1.1-.3M82.1 426.1l-.8-1.1-.7-.4-1-.4M118.1 464.4l.3 1.5-.7 .6M70.9 513.4l-.5-1.4-1 .4M131.1 439.2l.8-.4 1.1 .2 .7-.7M59.9 510l-1.3 .2-1.2 .5M98.3 477.8l.7 .5-.1 1.3M92.6 452.7l-.1 1 1 .3M113.9 475.2l.2-1 1-.8-.5-.9M67.5 410.2l-.8-.4-.7 0-1.1 1M128.5 472.9l.3 .9 1.4-.2M106.2 473.8l.7 .4-.2 1.2-1-.1M91.3 482.5l.3 .7-.2 .9 .5 .8M145.3 501.7l.8 .2-0 1 .1 .8M97.7 435l1.3-.6 1.3-.4 .1-.8M117.6 475.8l.7 1.1-1 .8M58.6 425.6l-.4-.9-.9 .4M79.2 500.3l-.3-1.4 1.1-.8M134.4 412.3l1.2-.2 .6-.4M55.5 430.1l.5-.7 .5-.9 .8-.1M117.2 468.5l.8-.2 1.1 .8 .2 .7M63 497.6l-1.2 .2-.6-1.2M118.6 507.7l-.7-1.2-.1-.8M105.8 448.4l.1 1.3-.9 .6-1.1 .2M98.6 420.7l.2 .9 1.3-.1 .8 .2M79.8 471.6l1.4-.3 1.3-.2 .7-.3M65.6 501.3l.5-.8 1.3 .2M100 471.3l-1.2-.6-1.3-.1-.7-.4M99.6 469.4l1 .9 .9-.5-.3-.7M142.8 481.5l-.5 1 .3 .8 .6 .4M153.9 454.3l-.5 1.1-1 .2M89.7 479.8l-.4 .9-.9-.1M154.1 494.4l-.2 1.1-1.4 .3M117 425l-1 1.1-.1 1.3-.9-0M100.2 505.5l-.8 .1-.6-.8M68.8 485.6l.4 .7 1.3 .1 .7-.2M153.5 447.1l1.1-.7 1.2-.4 1 .7M111.8 475.5l-.2 .7-0 1.3M62.5 428.1l-.1 1.2-.7 0M67.1 464.6l.3 1-1 1.1M153.6 449.2l1.2 .9 .5 .7M56.4 424.6l.5 1.4 .3 1.1M62.4 476.9l.9 .2-.1 .8 .1 1.2M104.3 502l-.9 .2-.2 1.4 .7 .7M141.7 465.7l.4 1.3-1 .4-.4 1.4M123.4 444.9l.7-1.1-.7-.9-.1-.9M92.4 500.7l1-.6 .9 .5-.6 1.3M86.2 439.8l.7-.5 .9-1.1M93.2 498.4l-.6 1.3 .9 1.1M143.2 483.4l.6 .8 1.5 .2M97.1 504.3l-1.3-.2-.7 .2M153.5 409.8l-.9 .5-.8-.3M119.1 469.3l.4-.8-.7-.7-.8 .5M144.4 512.9l.5-1.4 .3-1.2 1.4-.1M68.7 465.1l.3-.9-.8-.3-.9 .4M96.5 507.2l-1-1-1.4 .4M136.9 490.6l-.4-.6 .7-1.2 1.5 .1M88.9 428.3l-1-1.1-.8 .6M70.5 413.5l.7 .7 1.5-.1M115.6 500.6l.4-1-.6-.7-1.2-.4M101 487.1l-.9 .8-.4 .8M120.3 512.1l-1.4 .3-1.4-.4 .2-.8M67 426.8l1 .8 .8 1.2M97.9 502.4l1.1-.4 .8-0M62.9 478l.6 1.3 .9-.4-.1-1.3M82.3 439.8l.1 .7-.3 1M78.2 504.1l0 1 .6 .8M57.9 423.2l-.6 1.2 .6 .5-.4 .7M102.6 508.4l-.9-.1-1.2 .1-1-1M76.8 507.8l-.6-.5-.3-1M110.3 426.4l.8 .4 .9-0M111 503.8l.5 .8 1 .8 1-.7M65.6 490.3l.9-.7 .2-1 .6-.7M124.6 488.4l-1-.9-.6-1.1M135.5 501.9l-.5-.6-0-.8-.1-1.4M73.7 477.3l-.4 1.3-1.4 0-.6-.4M72.2 444.2l.6-.5 .9-.4M64.3 410.1l.6-.3 .9 .5 1 .2M115.1 458.9l-1.4-0-.7 .5-.1 .8M66.6 476.3l-1.3 .5-.7-.7 .1-1M122.6 424.7l.5 1 .9 .9-.7 .7M58.2 486.1l.4 1.4 1 .1M114.3 454.4l-.6 .6-1.3-.7-.7 .4M160.2 444.9l-1.5-.2 .1-1.1M128.7 462.2l-.8-0-.2 1.5M152.6 494.2l.8-1 1.2 .1M67.4 456.2l-.9 1-.9 1.1M96.1 411.7l.8 .1 1 .9 .7 .3M117.3 416.5l1 .5 .8-1M88.8 414.9l-.4-.9-1.1-.6-1 .4M130.8 413.3l-0-.8 1.3-0 .6 1.2M66.2 443.3l.4 1.2 .4 1.4M83.9 500.3l-.8-1.2 .7-1.1M79.7 484l-.1 .8-.4 .5M109.3 485.1l-.9 .1-.7 .4M96.9 498l-1.2 .8-.8 .7M71.3 472.6l-.4 1.2 .8 .5 .8-1.1M97.7 485.3l-.4-.9 .3-1 1-1M147.7 477.6l-.4 1.1-1.3 .6M120.2 514.7l1.2 .5 .3 .5 1.5-.2M121.7 497l.7 1.2-1 1M77.8 480.3l-.9-.4-1.3 .7-.5-.8M126.4 492.5l1.2-.8 .9 .2M136.4 487.2l.3 1.4 1.5-.1 .7-1.1M112.1 454.3l-.2-.9 .9-.7M150.1 497l-.3 1-.2 .8-1.4-.1M83.2 508.8l.4 1-.4 1.4M130.5 497.8l.9-1 .4-.8M88.5 427.1l-.4-1.1 .7-.9-.4-1.1M84.7 468.7l.3-1.1 .7 0M123.1 417.5l-.2 .8 .7 .4M130.8 511.5l-.2 1 .6 1.2M57.3 440.6l-1.2-.4-.8-1.3-1-.3M102.9 494.9l.3 .7-.6 .5M65.8 498.9l-.8 .1-.6 1.1M130.7 502.2l-1.1-.4-.4 1M145.3 475.5l-.4-.7-.5-1.2-1.4-.4M69.6 501l-.9 .9-1.2 0-.9 .5M66.6 464l.3 1.2 .9 .2M106.3 419.4l-.1 1-1.3 .1M130.2 438.6l.1 1 .6 .9M141.2 494.4l0-1.3 .6-.6M142.1 507.5l-.8-.1-.3-1.1M106.6 445.1l.4 .7 .9-.2M94 505.2l1.4-.3 .3 1.1M122 498.6l.8 .2 .8 1M99.2 494.2l-.5 1 1.1 .8M112.9 485.2l.4 .6-.3 1M128.8 463.1l-.6-.5-.9 .3-.1 1M132.4 462.8l-.4 .9 1 .8-.1 .7M84.9 500.4l.5 1.1 .4 .8-1 .8M132.6 505.9l1.1 .4 .9-.2 .7 .9M59.4 459.1l-.5 1-1.1-.2-.2-1.4M157 463.5l-.7-.6-1.5 .1M145.2 467.6l.4-1.4 .2-.7M110.1 423.6l.8 .8 1.1 .3 .5-.7M143.5 502.2l.8-.2 1-1 .7 .3M61.1 478.8l-1 .7-.6 .6M137.9 466.8l.6-.8 .3-.8-0-1M143.1 425l1.2-.8 1.3 .2M107.6 489.1l.3-1.2 .9-.5 .8 .4M113.7 487.3l-.6 .8-.4 .7M54.9 449.2l-.5-1.2-.8 0M65.3 431.1l.6 .7 .7 1.2M95.1 413.6l-1.1 0-.4 1.1M108.6 493.3l1.5-.1 .6 .6M128 462.5l-.8 .1-.7 1-.8-.4M79.4 487.5l.9 .3 .5 .5M155.8 477.4l.4 1.3-.5 .9M141.5 454.2l1.5 .2 1 .6 .7-1.2M98.7 512.4l.8 .7 .9-.1 1.1 .4M117.8 432l.4-.7-.5-1.4M74 474.9l.6 1-.9 .7-1.1-0M87.6 416.6l-1-.8-.1-1.1-1.1 .1M118.3 484.7l.7-1 .7-.2M71.5 501.3l-.9 .5-1-.9 .2-1.1M53 429.2l1-.5 .9-.8M84.5 441l-.2-.8 1.2-.6M82.2 449.5l-0 .9-1.2 .2-1.2 .2M65.4 417.1l.2-.7-1.1-.9-.1-.9M77.4 423.2l.5 1.1 .2 .8M103 480.1l1-.5 1-1M78.9 432.5l.8-.3-.3-.8M105.1 412.5l.7 .9 .1 1.3-.8 .1M100.9 478.2l.8-1 1 .8 1.1-.2M156.5 513.5l.1 1.4 .7 .7 .4 .2M57.8 503.1l-1 .5-1-1M59.2 424.8l-.5-1.1 .6-.9M70.7 445.7l-.4 1-.9 .9M155.2 460.1l1 .2 .8-.2M98.5 417l-.4-.6-.6-1.2M88.2 453.2l.7-.2-0-1.3M112 452.8l-.2 .7-.3 .8M60.8 514.6l-.8-0-.8 .6M72.8 499.6l-.4-.9 .2-.7-.7-1M153.4 494.3l-.3-.9-1-.9-.5-1.2M106.4 430.1l.3-.6 1.3 .4 .2-.8M107.1 487.5l-.3 .7-1-.4 .2-1.3M152.8 515.8l-.2-.9-1.1-.4-.7-.7M144.7 465l.3-1.2-1.1-.6M153.8 427.5l0 1.2 1 .4 .3 1.2M75.6 442.8l.7-.5 .7-.4 .6 .5M104.1 471.3l.9 .8 .4 .9M117.3 504.5l.7 1-1 1.1M56 446l.4 1.2 .8 .2 .6-.7M107.5 421l.9-.3 1.1-.8 .4-.6M63.1 460.1l1.2 .8 1 1M65.6 458l.4-1.4 .7 .1M56.7 440.8l-1.4-.3-1.1-.4-.4 1.2M157.8 439.1l-.4 .9-1.1-.2M77.5 441.5l1.2-.5 .3-.7M119.5 491.6l-0 .7-.2 .7M107.6 423l1.2-.8 .7-.3M160.2 440.7l.6 .2-.2 1.2-0 1.2M77.2 504.6l-.7 .1 .2 1M151 462.1l.5 1.3 .9 .5M59.2 412.2l-0 .7-.7 .9M159.8 464.8l.5 1.1-1 .8-.4 .8M156.6 482.9l.6-.7-.1-1M112.7 477.5l-.6 .6-.9-.4M133.2 458.5l1.1-.1 .8 .4 .3 1.3M137 486.7l.4-.8-.3-.7M96.1 450.3l-.8-.6 .1-.9-.3-.9M84.9 440l-.8-.5-.4-.8 .5-.5M126.7 436.4l-.5-.8-1-.8M130.3 482.6l-.1 1.5 .7 .9 1.2-.5M60.9 429.2l.1 1.1-.6 .8-1.4-.3M108.2 449.6l.7-.7 .7 .5M147 446.8l-.9-.8-.9 .4M62.2 509.6l-.1 .8 1 1 .7 .4M63.9 453.4l1.4 .1 1.2 .6 .7 .6M155.2 483.2l-.5-1.2-.3-1.3M134.1 468.6l.7 .3 .9 0M135 468l1.4 .4 .6 .8M157.1 445l.3-1.1-.1-.8-.7-1M54.1 494.1l-.2-1.1 .2-1.2M82.5 447.3l-.7-.3-1.1 .4M97.7 452.3l-.7-.3 .4-1.4 .5-.5M144.1 412.5l.5-1 1-.7M87.4 438.3l1.3 .4 1.1 .2M154.1 467.2l-1.1-.2-.6-.4-.6 .9M66.5 504.6l.6 1 1.1 .1M143.2 507.6l.6-.8 .5-.6M95.3 481.2l1.4 .3 1.3-.6M77.7 441.3l.6 1.2-.8 .5M66.7 451.9l1.2 .6 .8-.7 1.2-0M110 453.4l-1.2-.6-1 .6-1.5 .1M118.5 509.9l.5-.9 .6-1.2 0-.9M66.6 502l-1.2-.6-.8 .5M149.7 510.5l-.8-0-.8-1-.7 .5M67.6 432.3l-.6 .7 .8 .6 1 0M86.5 463.9l1-.3-.1-.7 .2-1.2M144.2 493.3l-.4-.9-.6-.9M64.7 431.4l-.3-1 .6-.5 .7 .6M126.6 414.2l.6 .8 1.2-.4M67.1 500.2l-1.4 .2-.3-.8M119 434.6l-.5 1.3-1.3-.4-.4 1.1M130 509.6l-.3-1 .4-.6 .6 .3M67.6 472.5l-.6 1.3-.9 .6M135.7 443.7l-1.2 .7 .1 1-1 .4M140.6 414.7l1.2 .8 1-.1M158.4 465.5l1.1-.6 .6 .6M143 425.1l1.2 .2 .4-1-.6-.6M67.2 462l.7 .1 .9 .9M101.6 512.6l.8 .2 1.3 .3 .9 1.1M77.4 423.2l.4-1 .8-1M107.4 513.5l-.8-.6 .4-.7-.4-.8M121 458.4l1 0 .7-1.2 .3-.7M141.5 433.3l.8 .6 1.2-.8 .9-.6M115.1 498.6l.2 1.1-.5 .8 .7 .6M61 443.7l.5-1.3 .4-.6 .6-.5M153.3 455.8l.6-.9 1-.7M149 410.2l-1.3-.3-.7-.1M160.7 487.8l-.9-1.1-1.1-.8M153.3 511.8l-1.2 .3-.4 1.4M63.5 480.6l.9-.9-.3-.8 .8-1.2M63.2 446l-.4 .7-1.1 1-1-.8M123.9 420.6l-.7-1.2-.9 .2M78.2 485.7l.2 .8-.5 .7M102.9 424.6l0-1-1.3-.5-.6 1.2M91.2 503.5l-.7 0-.7 1.1M121.5 478.5l-.4 .6-1 .9-.2 1M106.6 417.9l.4-1.2 .2-1.1 1.2 .2M160.6 509.1l-.7 1-.1 1-.6 .5M155.6 499.7l-.3-.9-1.2-.3-.5-1.3M65.3 414l1.3-.2 1.3-.4 .7-.4M63.8 483.1l-1.2-.1-1.2 .4M59 457.1l.3 1.4-0 .7-1.2 .5M57 455.6l.1-.9-.8-.8M147.4 425.3l.1-1.4 .6-.6M129.8 444.3l1 .6 1.5 0 .1-1.4M126.8 445.7l-.3 1-.9 .3-.6-.9M52.3 450.8l.6-1 1.2 .7 .6-.4M144.6 500.5l-.7-.3-.8 1.1M107.7 473.2l-.8 .4-1.3 .1-0 .9M54.2 466l1 .8 .7-.1 .2 1M60.8 412.6l.7 1.2 .8 .6M72.9 445.8l.7-.3 .4 .8M150.5 447.7l-.8-0-.7-.3M118.1 508.6l.9 .2 .7-.3M59.4 509.3l.3-1.3 .2-1.1 .9-.2M69.9 514l.6-.7 .9 .2M152.2 449.5l1.1-.6 .4-.6 1.2 .8M121.1 442.1l.8 .2 .1 .9M126.6 463.7l.7 .7-.2 1.3M134.7 493.5l-1.1 .4-.5 1M88.8 427.3l.9-.5 1 0M122.7 455.4l-.2-1.2 .4-1.3M144.8 489.9l-1 .1-.3 .8 .6 .7M60.2 509.4l-.2-.8 .2-.7M103.6 432l-.5-.6-1 .3-1-.6M126.4 510.2l-1-.5-.5 .9-.8 .2M68 447.6l.7 .8 1-.9 .7 .4M142.6 454.4l1.1-.6 .8-1.2M62.4 503.3l.9-.3 .9 .9-.7 1.2M120.3 504.2l-.8 1-.8-.1-1.2 .2M54.8 484.4l.1 .9-1 .4M71.4 470.8l-.8-0-.5-.6M144.5 513.1l-.7-0-1-.4M130.5 483.6l-.9-.7-.9 0M153.9 465.6l.2 .7 .9-.1 1-.9M71.5 488l.3 1-.2 1.1M116.1 448l1-.8 .8 .8 .5 .7M73.2 452.7l.8-.9 .3-.8M61 420.2l-1 .9-1-.3-.8 .5M146.2 476.2l-.9 .7-.7 .4-.5 .7M104.2 418l1.2 .8-0 1.1M91.5 417.9l1-1 1.1-.8 1.1 .4M118.4 480.4l-.4 .7-1.3-.5-.9-1.1M63.9 454.9l-1.1-.5-.7-.6-1.2 .7M86 433l-0 1.1 1.1 .8M100.3 470l.7 .5 .7 .2-.4 1.3M132.4 502.1l.2-1.3 .7-.3M89.3 474l-.7-1.2-1.1 .3M155.2 452.4l-.7 .6-.4 1.2M68.2 495.6l-1-1.1-.5-1M79.6 470.2l.5 .8 .1 .8-.9 .2M85.5 498.3l-1.3-.3-.5-.5M140.8 502.5l.4-.8-.1-1.4 .7-.1M81.1 472.3l.4-.6-.1-.9 .4-.8M129.1 437.4l.3 .7 1-.4-.2-1M103.9 498.7l.9 .4 .4 .6M143.1 512.1l-.7-.1-0-.9-.9-1.2M99.8 440.1l.9 .9 1.2-.4 1.2-.3M64.1 463.1l.1-1 1.4-.4 1.1 .2M130.8 470.1l-1.2-.2-.3 .9 0 1M153.9 453.2l.1 1.3-1.2 .4M119.1 442.2l.3 .7-.3 .7M94.8 417.4l-.5-.7 .7-1.2 .8 .4M109.9 490.3l-.8 .9-.3 1.2M146.6 480.4l-.6-1.3 .9-1-.9-.9M130.6 493.5l.8-.3 .9 .4 .3 1.3M89.5 471.2l.4-.8-.5-.6-1 .4M152.6 480.5l1.4 .1 .8-.5M84 495.7l.7-.7 .6 .6 1.2-.9M151.2 503.4l-.6-.5-.9-.7M122.1 515.5l-.2-.9-1-.1-.6-.9M66.8 441.5l-.7-.9 .7-.8M77.5 422.5l-.5-.7 .3-.8M116.6 512.8l1.3-.1 .9 .8M128 514.6l1.1 .1 .2-1.4-.9-.2M150.4 431.1l.8 .4-.4 1.4-1.4 .6M107.9 458.5l.3-.8 .7-.4M108.2 413.7l-1.4-.5-.6 .9M96.6 471.1l-.7-1-.8-.3M102.1 448.7l0-.7-.6-.7M120 474.6l.1 1.2 1 .3M151.9 487l-1.3 .7-.3 .7M91.3 425.3l-.4-.9 1-.5M122.1 455.5l.5-1.2 .9 0 .2 1M113.6 515.6l.6-.9 1.2 .8 1.1-.3M61.3 499.4l.6-.9 .2-1.3M142.6 491.6l1.2 .3 1.2 .1M74.8 474.7l-.2-.8 .5-1.3M147.6 458.9l.3 1.4 .1 1M55.7 493l1.1 .8 1.4 0M82.7 447.9l.9 .1 1.2-.2M91.9 499.9l-.6 .5-.9 .7M82.7 481l1.4 .1 1-.7M120.5 415.7l.2 1 .3 1.1-.2 1M73.7 479.2l-.6 .3-1.2-.1-.2 .8M106.9 435.7l-1 .4-.8 .4M89.5 493.4l-0-1.4-.7-1.1 .3-1.5M64.3 488.6l.6 .4 .5 .7 .7 1.1M123.8 450.9l.7 .2 .5-1M102.1 475.1l.5 .9-.1 .8M119.2 509.7l1.2-.6 .6-.4 .1-.9M160.4 475.6l.4-1.2 0-.8M148.3 471.2l-.6 .3-.8-1.1M115.5 513.6l1.4-.4 1.3-.2 .3 .8M115.2 442.2l.4-.9-.4-1.1-1.1-.7M118.9 475.9l-.8 .7-1.4 .5-1.1 .4M152.8 449.3l.4 1-1.1 .9-.4 .9M86.9 473.1l-.8 .2-.7-.3M139.9 456.5l.2 .8-0 1.2-1 1M143.2 425.6l.9-.1-0-.9 1.1-1M59.9 435.7l-1 .5-1.3-.4M137.6 507.1l.4 .7 .7-.2 1-.7M52.5 439.5l.5-.6 .7 .4M83.2 453.6l-.7 .8 .4 .7M130.3 425.8l-.3-.8 .2-.7M65.3 453.2l.9 .4 .6-.4M118.4 486.6l.8-.4-.1-1.3-0-1.3M61.9 510.7l-.9 .9-0 1-.8 .5M123.6 429.8l1-.3 .9-1-.3-1M158.5 433.1l.5-1-.7-1.1-.4-1.3M100.1 495.3l-1.5-0-1.3-.2M120.3 515.3l.6 .4-.5 .1M120.3 494.2l.9-.4 1.4-0 .1 .8M156.2 480.1l-1-1-.7-.1M92.6 465.9l-.3 1.2 .8 1 1 .6M159.3 499.2l-.4-.6-1.2 .3M55.6 483.1l-.7-1.1 .8-.9M73.3 502.7l1-.6 0-1.1-1-.8M133.3 423.4l.6-.4 .6 .3M102 410.9l-1 0 0 1.4M82.8 451.8l-.7 0-.2-.9 .9-1.1M131.2 423.6l-.3 .9-0 .8 .4 1.1M119.2 421.1l.3-1-0-.8 1-.4M61.9 436.6l.8-.6 1 .7 .1 .7M129.3 446.7l-1.2 .6-.7 .7-.1 1.2M72.1 438.6l-1.1 .2-1.2 .4-.9 0M137.6 508.7l1.2 .6-.4 .7M74 492.8l.5-1.1-.6-1 .2-.8M160.7 438.1l-1.2-.2-.2-.9-.9-.6M115.2 495.1l1.1 .1 1.3-.2M116.1 494.5l.6-.5 1.1-.5M107.3 490l-.4 1.3-1.1 .6-.8-1M88.4 493.3l-1.1-.3-1-.6 .3-.7M86.7 473.1l.7 .2 1.1-.2M131.1 455.2l0 .8-.1 .8-.8 .3M64.7 462.2l-.2-1-1.2-.9-.2-.7M123 513.9l.6 .7 .5 .5M142 413.3l-.9 .4 .2 .8-.2 .8M157.1 415.1l1.1 .7 1.2 .8M115.8 414.7l-1.2 .4-.7 .1M71.8 426l.5-.8 .4-.8M54.2 422.9l.7-.4 1-1.1M141 448.7l-.7 .3-.5 .9M56.9 437.5l1-.2 1.5-.4M120 425.2l.9 1 .7-0 .9-1M93.2 412.8l-1.4-.3-.7-1M143.5 436l-.8-1-1.2-.6-.8 1M93.6 506.9l-.3 .6-.6 .3M53.7 444.8l-.3 1.4 .4 .6 .3 .8M76.9 460.1l-1.3 .2-.3-.7M83.9 435.8l-.2-.7 .8-.3 .3-1.3M54.9 481l-.5 .8-.9 1.1M103.7 507.8l.3 1 1.4 .5 .6 .8M139.8 435.8l-.7-1.1-1.2 .2-.2-.8M145.7 448.3l.3 1.4-.3 1-1.3-0M159.8 435.3l-1.3 0-.3-.8M114.9 503.7l1.3 .5 .5 .9M88.9 434.4l-.2 .8 .9 .5 .7-1.1M94.4 502.9l-0 1 .8 1.1 .3 1.3M147.7 419l.8-.4 .4-1.2M80.5 469.9l.9 .2 .3 .6-.1 1.4M86.4 429.9l-.2-1.1 .6-.7 .3-.9M151 463.2l-.4-1.1-.1-1.4M145.6 485.9l-0 .8 .6 .4M117.2 439.6l-.2 1 .5 1.1M116.2 452.5l.8 1 .8 .7M71.6 442.6l-.9 0-.9-1-.2-1M53.8 474l-.3-.9-.5-.8M153.1 460.2l-1 .2-.7-1.1M89.3 484.7l-1.1 .2-.2 1.3M132.9 483.9l.2-.9 .4-.6M88.4 415.5l-.7-.8-.8 .6-1.1-.2M96 460.4l-1.3 0-1.3 .1M138.6 423.3l-.1 .9-1.1 0M99.6 422l1.2-.6 1.3 .6-0 1.1M147.5 484.7l.4-1.2 .7-.2 .7 .7M148.9 432.7l.9 .7 .7 .6M76.9 445.6l.5-.9 .9 .5M146.9 472.9l.5-1.4-.5-1.2M71.6 502.5l-.8-.5-.7 .1-1 .5M144.4 441l-.5 .8-.8 1.2 .3 .8M131.3 415.8l.9 .2 .7 .9-.3 .7M83.7 491.3l.9-.5 1.2-.6M153 481.1l1.3 .5 .9-.2M125.4 441.3l-.4-.6-.6 .4 .4 .7M102.5 459.4l.1-1 1.4-.5M63.1 488l.4 1.1-.7 .7M69.6 438.5l-.3-.8-.4-1.4 .9-1M55.9 441.3l1.1-.4 .9 .4-0 1.3M124.8 441.7l-.8 .7 .3 1 .4 .8M151.5 507.3l.4 1.4 .6 1-.5 .6M147.3 415.6l1-.3 .1-.8M97 492.5l-.4-.7 1.2-.7-.1-.7M141.1 493.5l-.7-.2-.8-.2M82 498.5l-1 .9-.8-.2M73.2 477.3l-.8 .4-.7 1.1-.8 .8M52.7 452.5l.6 1.1 1.2 .1 .5-.5M58.8 491.1l-.8 .4-1 1M149.4 412.3l.8-.2 .5 .9M65.1 435.9l-.7-.2-.8 1M98.1 416.1l1.2 .4 .4-.9M147 462.8l.9-.5-.8-1.3 .3-1.3M156.1 512.1l.7 1.2 1.3 .6M58.1 452.2l-1.1-.6-.7-.3M77 423.7l.3 .7-.7 .5M111.2 476.7l1 .5 .7-.3M58.2 419.5l-1.2 0-.3 1.4-.1 .9M135.6 447.7l1 .9 .1 1.2-.7 1.3M150.6 461.8l-.7-.3-0-1.2 .3-1.1M139.4 424.9l.8 .2 1.2 .1M100.9 422l-1.4-0 0-.8-.6-.9M102.1 420.9l.2-.7 .8-.5 1-.9M88.3 467l.5-.9 .7-.3 .7-.6M94.1 419.8l.2-1 .8-.9M150.3 428.3l1.2 .8 .9-.1 .2 .7M133.7 453.1l-1.3-.1-.8-1M132.8 446l1.1 .2-.1 1.1M125.7 417.4l.7-.6 1.4-.4M140.7 424.5l-1-.5-1.1 .3M76.6 411.8l-1.1-.2-.9-.8-.8 .5M60.4 431.9l-1.3-.1-.8-.2-.3 1.1M92.2 442.9l-.9-.4-.2-1.3-1.2-.2M65.4 489.9l1-.4 .3 .8M92.5 495.7l1.2 .7 .3 .7M73.9 478.9l-.1-.9-.9-.2-1.1-.8M113.9 488.6l-.1-.7-.3-.7M112.3 429.6l-.4 .6-.2 1.2 .7 .6M149.9 442.5l-1 .6 .1 .9M92.8 438.5l-.6 .8 .7 .8M125.3 452.9l.4 1.1-.8 .3M146.9 419.6l-1.1-.3-1.2 .6M116.3 486.8l-.9 .2-1-.6 .5-1M89.2 476.1l1.4-0 .3-.8M112.7 444.8l.5-.8-.7-.8M109.9 436.7l.4 .8-0 .7M81.2 508.2l-1.1-.5-.1-1.4M131 482.2l.8-.1 .4 .8M78.7 456.1l.8-.1 .6 1.3M62.4 451.5l.9 .5-.5 .9M85.3 479.5l-.9-.1-.4 1.1M66.4 420.8l1.5-.2 .6 1.3M62.1 449.7l-.7-1.2-1 .3M159.4 501l-.5 1-1.2-.1-.3-.7M60.1 495.7l.4-.7 1.3-.1-0-1.1M76.3 431.6l.6-.6 .6 .5 .4 .7M155.2 419.7l1.1 1 1.3-.7 .9 .7M148.7 435l-1 .1-.2 1.3 .7 1.2M57.2 492.4l.4-.6 .9-.5 .2-.7M119.1 513.7l-1.2-.7-.3-.8M113.7 497.9l-1.2 .6 .2 .9M128.1 467.1l1.4-.1 1.1 1M82.1 459l1-.1 .9-1.2M72.2 496.9l-1-0-1 .1-.2 .7M82.8 479.1l.6 1.2 .4 1.2 .8 1M85 456.7l-.7 1.1-.7 .6-1.3-.5M78.7 487.8l.8 .2-0 .7 1.4 .1M146.6 510.6l.8 .3 .1 .8M77.5 414l.8 .8 1.4 .1 .3-.7M145.7 476.4l-.9-.3-1.2-.1M84.2 442.9l.4-1.3-.2-1 .5-1.3M93.3 437.2l.3 .6 .8-.3M59.6 409.8l.4-0-.9 0-1.1 .4M123.3 440.8l.1-.9-.2-1.5M82.7 422.9l1.3-.1 .7 .7 .9-.5M92.7 427.1l1.5-.3 1.2 .1 1-.5M82.4 501.3l-1.4 .2-.4-1.3 .1-1.4M107.2 508.8l.7-.3 .8 .9M53.4 448.6l-.8 .4-.7 .7M143.9 507.3l.8-1.1 1.3 .3 .1 1.1M58.1 463.7l.7 .5 1.3-.5 .8-.4M145.2 454.8l1 1.1-.6 1.2-.9 .5M157 478.4l.9-.7 1.1-.3M98.2 466.3l-1-.9-.5-.8-.2-1.3M79.5 413.7l-.8-.2-1.4-.3-1.1-.4M98.9 504.5l.2-1.1 .6-.4 .9-.8M99.5 515.4l1 .4 .8-.7 .4-1.1M152.6 418l.1 1.3-.9 1.2-1.2-.4M151.1 446.6l.4 .6 .8 .9 1.2-.2M122.2 420.9l-.7-.2 0-1M137.5 510.8l-1.1-.3-1.4 .4M148.6 416.9l-1.2-.3-.4 .9 .6 .6M70.7 508.1l.3 .7 .8-.2 .4 1.4M124.1 456.3l1.2 .8-.2 .8M159.2 497.1l-1-.6-1.1-.6 .4-1M70.9 476.7l-1.2-.8 .3-1-.1-.9M69.6 449.9l-.5 1.1-1.1 .7M147.9 484.2l-1.1-.1-.4-.7 .9-.6M62.2 480.9l-.8 .8-1.3 .2M64.8 442l.6-.3 .2-1.2M52.5 468.1l.6 .9-.7 1.2M123.6 501.1l-.5 1-.6 .9-.9-.2M113 465.4l.6 .7 1-.8 .6 .8M96.9 435.1l-.9-.6-1.2-.3-.7 1.3M82.1 493.7l.2 .9 .4 .8-.2 1.4M53.1 462l.2-.8-.1-.8M99.3 479.8l1.3 0 .8-.7-.6-1.3M54.9 473.2l-.8 .7 .4 1.2 .5 .7M133.2 461.3l.1-1.1 1-.4 .9-.6M153.4 439.7l-.1 1.1 .5 .6M54.3 459.4l-1.3 .3-.6 1 .1 .8M108.7 474.9l-1-1-.4-1.4-.9-1.1M93.3 437.7l-.5-1-1-.5-.2-.9M129 426.4l.9 .3 1.2 .3 1.2-.5M53.2 414.5l.6-.5 1-.5M98.2 445.5l-.4 1.4 .7 1.1 1.1-.2M98.4 456.9l.7-.9 1.4-.1 1.2-.8M67.5 415.9l.8-1.2-.9-1.2M74.7 486l-.4 .9-.7 .1M96.4 428.9l.1 .9 1 .2 1.2 .7M120.6 481.5l-.1-.9-.8-.4M152.9 414.9l0-.7 .9-.7-.2-.9M155.1 484.6l.7-.2 .9-.7-.6-1.1M130.3 447.9l-.2 .8 1.2 .6 .6 .6M134.4 412l.1-1-.1-.9M139.4 460.3l.9 .6 1 .6 1.1-.8M94.6 423l-0-1.2 .7-.3M99.1 440.4l-.5 .9-0 .9 .3 .8M54.4 445.1l.2 .9 .9 .1 .6 1M90.6 417.6l-.8 .1-.8 .7 .7 1.3M96.1 462.3l1.2 .3 .1 1.4 .9 .3M109.8 428.6l-.8 .7 .4 .6M101.1 475.8l.9 .8 .2 1.2 .6 1.3M68.1 476.1l1.1-.6 .8-.7M118.3 444.7l.8-1 .9-.3M146.5 498.9l-.2 1-.5 1M127.9 435.9l.1 1.3 .8 .2 1.1-.3M141.1 418.7l-.9-.2-.8-.4M104.8 456.8l.5 .6 1.2 .5M115 441.8l1.3-.3 .7 .3 1.3 .6M155.2 420.9l-.7 .6-1.1 .9M101.7 445.2l.2 1 1.2-.3M55.6 446.5l0-1.1-.8-.4-.6-.9M149.9 439.7l-1.3 0-.6-.8M124.9 484.9l.5 .6 1.2-.6M68.7 513.9l.3 .8-.5 1-1.2-.2M106.8 462.4l.8 .8 .9-.2M98.2 443.2l-1.3-.3-.5-1.4-.9-.7M105.2 477.3l.6 1.2-.7 .6-.8 .7M85.3 448l.5-1 .7 .3 .6-1.1M135.1 428.7l-1.2 0-.5 1.3-1.4 .2M155.4 511.8l-.7 .6-1.2-.1-.7-.7M160.6 510.8l.2 .7 0-1-1-.9M93.9 466.5l.1 1.2-.1 1.2M86.7 451.6l-.7-1.3 .8-.4M71.1 421.5l1 1 .5 .7M98 438.7l-.7-.1-.4 1.3-.7-0M134.6 464.3l.9-.2-.1-1.4M137 477.2l1.2 .3-.3 1.1M68.2 501.3l1.3 .1 1.1-.9-.1-1M134.7 471.7l-.9 .2-1-.8 .3-1.1M117.7 430.6l.7 1.1 1.2 .6 .4 .8M156.8 480.8l1.1-0 .1 .8M115.6 438.7l.9-1-1.1-.9M58.3 505.2l-.2-.7-.3-1.4M155.8 492.2l-1.2-.7-.5-.9M119.9 479.4l.4-1.3 1.3 .3 1.3-.1M74.2 424.9l.4-1.3-1-1M148.9 470.1l-.1-1.4-.9-1.1-1.1 .3M74.1 489l-1 .3-1 .4-.6-.6M79.9 478l-.9 .7 .2 1.3 .4 1.2M92.9 490.4l-.1 1.1 1.1 .1 .1-.7M144.4 431.5l-.2-1.2-1.3-.2M139.1 442.1l-1.1 .7-1-1.1M131.1 507.4l-1-.1-1.4-.2M82.8 428.3l0 1.4-1.1 .5-.7 .3M65.1 471.1l1.4 .5-.1 .9M100.6 468l.8-.9-0-.9M150.1 418.8l-1.1-.7-.7-1.2-.9-.3M148.3 472.1l-.2-1.1 .7-.9 .3-.7M93.3 461.7l.4 .9 1.3 .2 .6-.6M90.8 498.1l-.9 .2-.7-.8M94.6 510.5l-.9-1-.8 .6-.5-.6M95.7 488l-1.1-.1-.6-.5-1.2 .7M125.8 459.5l-.5 1.2 .1 1.1-1.5 .1M132.8 471.1l1 1 1.4 .1M88.1 450l.3 .8 1.5-0M115.5 444.2l.6 .4 .8 .5 1.2-0M153 460.7l-0 .9-.7 1.2-1.2 .7M88.5 447.9l.1 1.5 1.3-.1M79.5 492.3l1.1 .4 .8-.7M68.4 445.4l-.6 .4 .1 .8M125.8 456.2l-.7-.2-1.2-.2M101.1 461.6l1.1-.7 .5 .8M94.5 497l1.2 .3-.2 1.2M101 419.2l-1.3-.1-.4-1.1M159.5 441.7l-.8-.1-.7-.9M159.6 438.4l-.2-.9-.8-.8M78 499.7l-.3-.7-.4-1.2 .6-.5M131 416.2l.6-.7-.9-1M57.9 481.2l.8-1.1 .7-1.3 .1-.9M158.8 477l.4 .6 .3 1-.4 1M86.1 473.7l.9-1.2-.5-1M59.5 505.1l-.9-.9-1 .8-.8 1.1M94 459.4l.2-.7-.9-.6M52.5 480.7l.8 .8 .8-.1M76.5 418l0 1.4-1.3 .2-1.4 .2M119.2 513.5l.3 1.3 1 .3 .7 .7M145.7 482.9l.9-.7-.3-1M128.9 472.9l.9 .2 .9 .2M61.3 462.7l-.1 1.1-.1 1.2M115.9 413.9l.7-.8 1.2-.5 1.2 .9M83.4 499.1l.3-1.2 .8-0 .4 .7M78.3 504.2l-.2 .7-.3 1.1M86 410.2l.9 .6 1.2 .1M139.4 465l.9-.6 1-.4 .9 .7M53 511.8l-1-.3 0 1.3M124.3 421.9l-.8-1-.8 .6M158.2 478l-.8-.2-.5-.8M152 425.1l-.9-.4 .2-1 .8-.1M91.8 411.1l-.7 .5-1 .2M127.2 439.4l-1.1-.7-.8 .4-1.2 .3M146.5 499.7l-.8-1.2-1.1-.5-.5 .9M133.4 469.2l-.6 .4-.4-.6M79.1 477.8l-.5-.7 .5-.8M114.3 414.4l1-.2 .5-1.2 .2-.7M109.6 490.9l.3-1.1 1.3 .1 .6 1.3M62.9 463.6l1.3 .5 .9-.3 1.1-.2M140.4 513l-.6-.7-.2-1.2-1.2-.7" stroke="#f4a8a8" stroke-width="0.75" fill="none" stroke-linejoin="round"/>
<path d="M137.8 411.3l-.3-1.3-.8-.2-.8 1.2M147.2 475.1l1.2 .4 1 1.1 1-.8M158.9 410.1l.7 .6-.5 .6M120.2 498.2l.2 .8-.7 .4-.6 .6M137.5 417.4l1-.5 .6-.9-.3-.8M78.6 426.4l1-.9 .9-.8 .6-.4M87.2 464.6l1.2 .6-.4 .9M96 455.1l-.1-1.1 .5-1.4-.9-.6M159 514.8l1 .1 .9 .7 0-.3M85.6 454l-.1-1.3 1.3-.7M109.1 418.1l.6-1.1 .9-.8M54.3 448.9l-.9-1.1-.1-.9 1-1.1M150.8 512.6l-1-.9-.6 .7-1 .6M122.4 426.9l.3-1.5 .5-1.2 1.3-.6M132.7 432.3l-.1-1.1-.9-.2-1.2-0M133.8 478.8l-.8 .4-.6 .4-.7-.5M88.6 456.5l-1.3 .7-.6 .8M131.9 458.4l.4 .9-.8 1M58.6 490l.5-.7 1.1-.3M111.7 455.6l.5-.9 .5-1.1 1-.5M130.3 466l.9 .6 1.4-.2 .6-.6M105 496.8l1 .3 1.1-.6M72.7 484.1l1.1-0 1.2-.8M67.9 481.8l.9-.2 .2 .9M62.6 508.2l.2 1.3 .7 1.1 1.4 .5M120.5 416.4l-.1-1 1.4-.1 .7 .8M120.8 508.2l-1.1-0-.2-.8M80.9 489.3l-.3 .9-1.2 .1-.8-.2M71.8 511.6l-.5 .6 .3 .8 .1 1.2M134.3 439.8l-.3-.7-1.1 0M86.7 499.2l-.2 .9-.7 .4-1.4 .4M81.3 514.5l.9 1 .6 .3M142.4 431.2l-.2 1.4 .8 .5 1.4 .4M78.7 437.2l-1 .7-.5 1-.7 .3M60.6 428l-1.3-.1-.4-1.1M87.1 477.3l.8 .7-.1 1.4M130.7 413.1l1.2 .1 1.2-.2 0-.7M52.2 416l-.2-.2 0-1.3 .6-1.3M67.5 442.9l.9-.5 .2-1.3-1.3-.7M100.5 422.4l-.1 1.5 .4 1M73.2 475.2l-.2-1.3 .9-.1M119.3 509.8l.9-.4 1-.4M144.6 453.3l-.6-.6-1.1-.9-.8-1.1M105.4 422.5l.7-.1 .4 .7M158.7 440.5l-.6 1.2-1.2-.3-.4-1.1M113.7 466.3l-.6-.9-1.3-.2M66.2 467.7l.2 .8-.7 .4M74.1 445.3l1-.1 1.1-0 .3-1.1M83 428.9l-.5 .6-1.3 .5M113.4 430.4l-.5-1.4-.7 .2-.7 .2M150.4 463.3l-.3 1.2-.1 1.2M64 415.3l1-.7-.1-.7-0-1.5M90.6 510.9l-1.2-.6 .5-1.1 .6-.7M151.9 431l-1.2 .1-.1 1.4M101 426.1l.8 .5 .8-1.2-.3-1.2M123.9 453.3l.7 1.2-.2 .8M112.2 436.4l-.4-1.3-0-.8 1.2-.5M75.9 490.9l.2 .8 .7 .7M146.1 452.5l.8-1.3 .9-.2 .8 0M83 497.4l.7 .5 1.2-.8 .6 .5M91.5 438.8l.1-.9 .7-.8M120.6 471.4l.9 .3 .6-1M139.5 504.6l-.6 .5 .3 .7M54.4 483.4l-.2 1-.8 .1-.8-.8M72.4 462.3l-.1 1.4-.8 .1M112.1 449.6l-.1 1.2-.2 .7 .9 .6M139.7 474.8l.6-.4 .2-1.5M63.3 495.8l-.8 .8-1.1 .5-.4-.8M131.9 482.6l1-1-.6-.9M144.4 438.6l.7 .4 .7 .9M136.5 496.4l-.7 1-.7-.3M94.3 505.7l.7-.8-.3-.9M105.8 465.1l-.9-.6 .5-1.4M130.2 412.8l-.8-1.1-.9-.9M79.7 418.2l1.4-.1 .7-.5M103.7 497.5l-.6 1.2-.5 .9-1.2-.2M156.1 465.5l0-1.3-1.5-.1M56 510.5l.8 .4 .8-1 1.1-.9M157.3 474l-1.1-.1-.8 0-1.4-.2M117.1 457.7l1.2-.1 .5 .7 .2 .9M85.2 511.8l-.1-.9-1.1 0-.8 .7M76.8 468.3l-.1-1.4-1-.2M96 414.7l1.4-.3 .4-.7M79.4 476.4l.8 1-.2 1M88.7 487.8l1.3-.5-.1-1.3M108.3 504.9l-1-0-.4 .7M152.1 477.5l-.8-1.1 .5-.6 1.5-.3M55.7 461.2l-.9 .1-.4 .7M141.1 411.7l-.5 1.3 1 .7-.2 1.3M86.4 447.9l1.2 .1 .5-1.3M116.8 498.5l.9-.4 1.4 .3 .7-.9M99.8 462.5l.7 .5-.5 .9-1-.5M66.9 495.6l-1.3-.1-.9 .7M129.1 472.2l.7 .1 .8-.7M103.4 447.3l.4-1.3 .2-.9M137.9 507.9l-.3-.7-.6-1.2M137.3 489.7l1-.6 .1-.9M52.1 450.4l1.2 .8 1.3-.6 .8 0M83.1 444.9l-1.1 .4-1.4-.5-.8-.3M88 421l1.3 .4 .7 .1 .7-1.2M99 475.4l.4 1.1 .3 1.2-.6 .8M57.6 452.9l1.4 .2 .3 1.2 .3 .8M135.7 486.2l-.5-.9 .5-.8-.2-1.1M54.8 443.2l.9-.4 1-1.1-.8-1.1M80.7 495.8l-.5-.9-1.2 .3-.9 .3M158.2 460.8l.7-.8-.4-.8-1.1 .1M108.9 490l.1-1.4-1.2-.6-.7 .5M78.2 489.6l.8 .3-.2 .7-1.3-.3M78 482.7l.1 1-.4 1.3M65.2 474.9l-.4 .8 1.2 .8 .6-1M154.4 479.2l.8-.1 .6-.4 .9-.4M109.5 474l.6-.8 .6-.7 .9-.2M106.5 463.5l.2 1.3 .6 .8 .7 .6M95.7 452.4l.1 .8-.2 .7M82.5 436.4l1.3 .7 .9 .9M75.8 442.9l.5 1.3-.9 1M56.2 477.5l.3 1.5 1 .3M128.2 477.1l1.3-.1 .4 1.1 .7 .5M96.6 430.3l.1 1 0 1-.3 1.2M90.9 492.9l-.7-.7 .2-.9-.9-1.1M54.6 498.9l-1 .9-1.4-.4-.2-1M56.2 434.3l.9 .4 .8-.2 .5 .7M102.8 462.2l1.2 .4 .3-1-.5-1.2M129.1 492.6l.6 1.1 .4 1.4 .7 .1M59 482.8l1.3 .5 .9 1.1 1.1 .1M143.6 478.1l.1 .8 .7 .6 .6 .6M135.1 467.5l-.2-.8-1.2-.6M83.2 481.4l1.4-.6 .9 .5M56.1 486.1l.6 .8 1.3-.1 .9-.4M103.2 497.6l-.1-1.2-1.4-.2-.4-.9M62.9 505.8l-.1 1.2-.1 1.4M133.3 497l.6-.4 1 .9M101.7 499.4l.8 .5 1.1-.1M63 428.5l.2 1.5-.7 .2-1.2-.4M58.2 423.1l.9-1 1 .4 1-.2M57 509.1l1.1-.8 .1-.8M57.2 492.2l-.3 .7-.9-.4M118.6 486l-1.3 .2-0 .8M137.7 475.8l-.3 1-1.1 .1-.8 .2M53.6 437.3l-.5-.7-1 .7 0 .6M74.1 512.1l.3-.7 1.3 .5M136.7 494.5l.2 1.2 1.4 .4 1-1M66.2 482.3l-1.3-.7-1.2 .3M103.3 484.4l.8 .2 .7 1 1.1-.5M130.2 450.3l1.4-.2 1.4 .3-.2 1M84.1 470.3l-.5 1.4-.7 .5M74.4 499.5l1.1 .2 .8-.7 .6-1M140.9 478.9l-.5-1-.2-.8M53.7 454.3l0 .9 .7 .4 1 .4M121.1 497.1l1.1 .5 1.3 .1 .9 .1M75.4 449.7l.5-1.1 .8-1M110.5 412.6l.1 1.4 .1 1-0 1.5M102.8 433.9l.7-.8 1.1 .2 1.2-.8M128.7 511.9l.2 .7-.3 1.3 1 .5M136.7 498.2l.4-.6 .1-1.2M149.7 428.9l1.4-.4 .3-.9M62.4 437.8l.4-1.3-.3-1M119.3 441.7l-.1-1.2-1.3-.4-.8 0M123.1 470.1l-.2 1.2 1.1 .3M70.7 510.9l1.1 .2-.1 .9M139.6 486.9l-.5 .5-.6-.4-1.3 .5M146.5 448.1l.4 1.3 1.3 .4M128.2 509.9l-.2 1.4-1.5 0M82.5 456.8l-1.1-.7-1.4 .2-.6-1M144.4 474l.2 .8 0 1.2M91.2 436.5l-.5 .6-1.1-0M108.1 511.4l1.4 .4 .8-.6M136.7 471.4l.3-1-.7-.3M53.7 490l1.2-.9 .7-1.3-.7-.9M119.8 464.3l.9-.9-.4-.9 .6-.4M154.6 420.6l.7 .9 .1 .8-1.3 .3M109.4 414.9l.8-.6 1.2-.4 .3-1.1M109.3 451.4l-.8-.4-.1-1.1M58 484.6l.8 .4 .5 1.3M54.2 501.1l-.7 .2-1.3-.1-.2-.6M88.8 477.5l1.2 .2 .7 .3M154.2 499.4l-.7-.1-1.2-.3M95.6 423.7l-.4-.9-1.1-.7-.8 .1M88.7 474l1.4-.3 .8 .9M122.7 446.6l1.3 .4 .3-.7-.7-.5M73.1 503.3l-.3 1.4-1.2 .6M142.5 430.9l.9 .6 .4 1.1 .3 .7M143.2 411.6l.5 .6 1-.7M89.8 427.6l.4-.8 1.2 .3 1 .3M55.8 476.2l-.7-.6-.3-.8 .6-1M82.8 488.3l1.2-.6 .7-.7 .7-.8M113.7 457.2l.7-1.2 .8 .2 .4-.9M94.1 443.1l-.8-.7-.8-.9M97.3 510.8l-.8-0-.9 .4 0 .8M134.4 421.8l-.6 1.2-1.3-.1-1.3 .6M142.4 508.9l0 1.3-.7 .3M123.8 488.7l1.1-.6-.4-.7M101.7 449.5l1-.9 1-1M73.6 497.4l-.8 .4-.5 .7M127.2 497.3l1.4-.2 .7-.2 .9-.6M69.3 439.8l-.8-1-1.2 .8M90.6 416.5l1-.8 .1-.9 1.1-.5M135.4 470.7l-1 0-.1 1M114.8 486.1l-.8-.1-.7 .4-1.2 0M100.7 474l.5 1 .9 .7M104.9 418.3l-.2 .8 .2 .9M106.2 430.3l.2 .7 .5 .5M88.8 498.1l.9-.5 .2-.8M159 493.3l.8 .1 .5 .8 .6 .3M77.9 507.8l.8 1 .7 .2 1 .8M126 411.8l1.2 0 .7 .4M158.2 431.6l.1 .9 1.3 .2M150.3 450.1l-.5 .5-.6-.3M116.5 506l-.1 1.1-1.2 .1-.9-.4M151.8 460.8l.5-.7-.8-.8-.8-.5M134.2 471.6l-.6 .7-1.2-.2-1.4 .1M150.9 433.6l.8 .7 1.2-.5M140.4 454.8l-.4-1.4-.8-.6-.9-.2M145.6 512.5l-1-.5-1.1 .3-.2 .7M74.1 414.5l-1-.9-1.4-.2-1-.8M96.6 502.4l.5-1.1 0-.7M58.4 480.2l-.7-.1-.4 .5M95.9 447.5l-.7-.5 .4-.9M85.7 508.8l.8 .8 1-.8 .9 1.1M132.4 479.3l-.6 .8-.8-.1M65.7 471.7l.9 0 .2 1.1M60 499.9l.5-.8 1-.3M132.2 500.8l.5-.5 1.3 .3M72.3 495l.2 1.5 .3 1M115.5 463.9l1.3-.4 1-.9M112.8 503.4l-.8-.9-.1-.9M144.2 485.4l.9 .1 .2 1.1 .6 .9M128.1 477.2l1 .6 1.2-.6 .1-.8M140.2 470.4l-0 1.3 1.1 .6M138.8 442.1l-1.3-.1-.8 1.2-.5 .7M91.9 469l-.6 .8 .6 .5 .8-.2M124.7 478.6l-.5-.8-1.1 .6M155.7 458.1l.4-1.4 1.1-.6M152.3 472l0-1.5 .9-.8-.6-.8M102.6 471.7l-.3-1.1-.1-.9M61.4 444.8l1.1-.2 .1-1.3M65.5 503.7l1.5-.3 1-.1M83.9 449l-1 .3-.3 1M101 479.5l1.2 .6 1.1-.1 .8 .3M75.7 446l-1.3-.6-.9-.6M113.8 475.3l.2-1.2 1.4 .2M117.4 455.5l-.9-.7-0-.8M119.2 422l-.1-.7-.8-1.2M113.8 462l-.4-1.1-.6-1.2M74.1 429.4l-.4 .7-.5 .5-.7-.7M62.6 474.4l-.2 1.1-1-.1M130.9 507.5l-.1-.7-.6-.8M114.6 488.9l1 .1 .8-.2 .9-1.1M159.6 436.6l-.9 .7-1 .7 .6 1M149.4 484.3l1 .8 1.4 .1 .9 .2M61.5 508.4l-1.1 .2-1.3 .2M83.7 499.6l.5 1.1 .9-.3 .5 1M128.2 479.7l.9-1.1-.3-.9-1.4-.5M79.1 431.9l-1.2-.6-.5-1.1-.7-.1M97.4 457.3l-.4 .6 .5 .5M96.7 443l.6 .6 .9-.9-.4-1.2M136.9 486.2l.6 1.2 .7 1.1M93.2 457.7l-.4-.9-1.4 .1M117.3 509.3l-.6-.6-.8-1.3M133 459.6l.5-1-.5-.9-.8-.5M95.2 459.6l-.9 .2-1.2 .2M151.6 508.3l1.1-.3 .3-.9 .4-1.3M58.9 497l.1 .9-.3 1.2 .3 1.5M90.9 497.6l-.7-.3-.8-.5M156.3 459.4l-.5-1-.4-1.1-.7-1M66.7 415.3l-1.3 .7-1.3-.3-.6-1.2M96.4 509l-1-.9-.6-.4M126.8 438.6l1.1 .5 1-.7 1.1-.4M57.8 438.4l1.2 .2 1.2 .8 .8-1.2M159.3 414.8l.9 .2 .6-.7M100.5 495.6l.2 .8-.3 .9-0 .7M132.6 453.1l-.5 1.2-1 .7-.6-.4M97.9 432.6l1.1-.9 .7-.8M116.3 448.5l-1.1-.4-1-1.1 .1-1M89.3 430.8l-.4 1-.7 .1-.6-1.3M135.9 487.4l.2 .8 .4 1-.5 .7M158.6 513.4l-.6-.5-.2-1M140.3 422.4l.7 1 .9 .2 .4-.9M94.8 435l-.8-1.1-1.3-.1-.5-1.3M84 502l-.3-.7 1.1-.5M91.1 419.1l.8 .2 1.1 .4M55.6 492.4l-.5-1.4-.6-1.1M148.2 467.4l-.7-.7-1.3-.4-1.1 .3M100 449.1l.7-.2-.4-1.2-1-.6M111.3 438.1l-1-1.1 .2-.9-.9-.8M119.3 460.5l.7-.2 .7-1.2M81.5 497.5l.5-.7-.4-1.1-.5-1.4M91.5 431.4l.8 .4 .9-0 .7 .1M98.1 423.2l-.5 .5-1 0M69.1 479.9l-.9-0-.8 .2M160.1 444.1l.7-.2 0 0 0-1.3M52.5 456.4l.8 .1 .5-.9 .2-1.1M110.5 438.6l-.7-1.2 .6-.5 .7-1.1M72.3 451.4l.8-.6-.2-1.2 .5-.8M108.5 446.8l1.1 1 .7 .6-0 .9M96.3 441.2l-.9-1-1 .7M155 486.4l-.9-.4 .1-.9 .2-.8M129.5 439.1l-.5 1.4-.4 1.2M133.6 439.4l-.6-1.3 .6-.8 1.3 0M61.5 477.8l1.1 .7 0 1.5 .6 .7M106.1 488.4l.2-.7-.9-.6-.7 .9M106.2 514.7l-.1 1.1 .8 0 1.2 0M129.6 487.5l1-.8 .4-.9-1-.5M121.3 513.2l1.2-.1 .1 1.3M70.6 466.3l.9-.6 .4-.9M66.8 502.9l1.3 .1-0 .9M145.4 489.6l-.6-1.1-1.2 .3M119.8 424.9l-.7-.3-1-.5-.6 1.1M134.8 464.7l.7-.7-.2-1-1.1-.2M66.8 488.8l1.3-.4 .8 .2-.1 .8M156.8 434.9l.1 1.5-.1 1.3M58.5 449.2l0 1.2-.6 .4M144.9 507.3l.5 1.4-.1 .9M148.7 424.8l.3 1.2 .6 1 .7 .7M126.6 467.1l-.7 .1-.4 1.1-.7 1.3M87.5 451.5l.1 1.1-.2 1.1-.4 1M124.3 471.2l1.3-.2 .9-.2 1.3 .6M114.5 432.5l1.4-.3 .4 1.4M139.8 460l-1.2-.3-.5-.6-1.1 .7M64.1 468.7l-1.2-.7-.5 .7-.6 .6M118.1 505.1l-.1 1.1-.3 .8M88.4 476.9l.8-.1 .5 .5M68.9 453.4l-1.1-.4-1.2-.3-1-.9M130.6 416.1l-1.1-.3-.7-.2M160.8 436.1l-.6-.4 .5-1.2 .2-.6M69.9 469l.7 .4 .8 .1M137.4 418.9l1.2 .4 1.1-.8-.3-.8M62.8 487.7l-.1-1.1 .8-.2 .8 1M134.9 461.8l-1.2 .8-.9 1.1M99.7 509.8l.3 .8 .8-.2M107.5 480.9l-.7 .2-0 1.4M68.6 481.7l-1.1-.5-.7-.1M97.8 484l-1.2 .3-.4-1.3-1-.4M118.8 485.4l.5-1 .8-.9-.5-1M147.7 437.3l.3 .7-.3 .7M70.7 467.4l1-.6 1.3-0 .9 0M76.9 456.6l.3-.8 .6-.5M85.2 474.5l.5 1 .5 1.2 .8 .8M139.7 513.9l.8-.2 1 .1M92.8 436.8l-1-.3-.7 .4M128.3 466.4l-1.1 .7-.3 .8M67.3 419.9l-.2-.9-.4-.6-1-0M83.9 447.2l1.1 .5 .5-.9 .1-1.1M116.8 500.8l-.9-.9-1.5-0-.9-0M85.7 494.4l-.8-.5-1 .1-.7 .8M157.2 454.5l1.2 0 .3-.8M152.5 511.9l-.5-.7-.4-1.1M139.4 427.8l.1-1.2-.2-1.1M93.8 515l.8 .1 .8 .7 .3 0M98.7 501.8l.8-.6 .6-1.3-.4-1.4M101.5 459.3l.6-.6 1.3 .6 1.3 .2M60.2 459.6l.9-1-.8-1.2M65.7 515.3l-0-1.2 .5-1 1.4 .3M87.4 443.7l1.2 .7 1-.7 .5-.9M153.9 479l-.3-.9 .3-1.2 .9-1M76.8 458.1l0 .9-.6 .9-.8 .4M148.2 481.2l.2 1.2 .8 .2 .4 .8M114.1 444l1.2-.5 .5-.9-.6-1.3M53.5 506.3l.6 .6 1.2-.8M132.2 461.7l-.8 .1-1.1 .4 0 .9M76.2 514.5l-1.1 .8-.1 .5-.3 0M144.1 492.8l-1.5 .1 0 1.3-.5 1.4M82.5 485.2l.3-1.3 .7-1.2M90.6 459.9l-.8 .6 .6 1M143.9 498.1l-.1 1 1 .2M52.6 461l-.4-.9 .2-.7M60 414.9l-.6 .9 .6 1 .4 1M58.3 497.6l.9-.5 1.2-.7M147 485.5l.9-.9 .1-.8 0-1.2M137 422.4l-.3-1.3 .3-.9 1.1-.9M68.3 465.1l-.4-.7-0-1.1-.4-1.3M79.7 505.9l-.2-1.1 .8-.3M98.5 482.8l.6-.6 .8 .7-.6 1.1M86.4 447.6l.6 1-.9 1.2-.8 .1M80.4 493l.2-1.2-.5-.5-1.2 .5M96.1 434.9l.2 1.1-.4 .7M71.5 494.5l1-.9 .3-1.4 .7-.7M62.1 486.5l-.7-.4-.4-.7M159.1 495.7l1.3 .2 .4-.7M155.3 444.8l1.3 .3 .6 .3M118.4 513.6l-.4-.8 .7-.5 .8-1.1M90.3 498.4l.2-1.3 .8-.3 .6 .7M77.1 495.9l-1.3 .2-1 .4-.6 .4M128.3 478.2l.6-1.2-.5-.6M116 423.5l1-.7 1.4 .3M94 451.7l.6 .6 1.4 .4 .6 .9M96.3 428.8l.1 1.2 1.2-0M141.6 475l-.6-1.1-1.4-.3-.7-.3M96.5 412.7l.6-1.2 .7-1.1M59.2 492l.9 .5 1.2 .1M158.9 411.1l.7-1.3 1.2-0 0 .2M110.9 410.3l-1.4 .3-.3-.9M131.7 454.1l-.7-.8-1.3 .5-1.2-.9M150.6 476.1l.8-0 .9-.2 1.1-1M141.1 457l1-1 .9-0M157.9 454.1l.4-.6 1-.5 .8 .7M56.4 457.8l-.1-1.4 .7-1.1M82.5 413.3l-1.2-.3-1-0M74.4 487.3l-1.4-0-.7 .2M81.4 463.5l.1-1.3-.7-.4M57.1 426.6l.5-1.3 .4-.8 .9-.3M101.1 446.8l.7-.8 .2-.8M64.1 422.1l-.3-1.1 .6-.4 1.1 .3M95.6 434.9l-.8 .8-.3 .8M145 437.9l.9 1 .7 .4 .9 .9M156.4 461.5l-1 1.1-1-.9 .7-1.1M105.1 486l-1.1 .7-.8 .7-1.4-.4M157.4 489.6l1-1.1 1.4-.2M109.1 464.1l1.2-.4 .3 .8 .5 1.4M81 429.2l-.7-.2-.9 1.2-.8-.6M102.8 505.8l.1-1.1-.4-1.4M81.6 434.5l.9 .2 .6 .6M99 471.7l1.1-.5-.6-1.3 .3-.7M112.4 512.8l-.7 .3-.2 .9-.4 .9M89 436.1l-.3-.7 1.1-.5-.5-1.2M95.3 499.9l-.4-.7-.4-.6-.9 .6M106.6 509.2l.1 1.5 .6 .4M157.1 479.4l-.5 1.4 .8 .9 .8 1.2M80.7 471.2l1.1-.2 .8-.1 .6 .9M80.4 461.8l.4 1 0 1.3 1.1 .1M100.6 417.5l.4-.7-.1-1 .1-1.3M112.8 444.8l.8-0 1.2-.6 .1-.9M147.2 470.3l-.8-1.2-.6-.7M73.5 501.6l-.2-.8-.9-.4-.5-.7M129.6 502.6l1-.4 1 0M101.6 484.4l.6 1.1 .3 1.4M133.4 487.8l.4-.6 1-.7M65.2 417.9l-.9-1.2-.3-1-.7-.2M135.5 515.2l1.1 .6 1.4 0 1.1 0M144.8 486.7l1.3 .1 1.3-.1M133.3 465.6l.6 1.3 .6 1.1 1-.1M133.8 507l-.5-.6-.2-1M143.4 477.1l1.1 1-.3 1.1-1.1 .7M82.5 492.1l-1.1 .7-.6 .9M130.8 500.5l.4-.8-.2-1.1-1.1-.7M55.2 446.4l-.1 .7-.5 .9M111.2 419.3l-1.2 .7-1-.1M113 425l.7-.3 .7-1M131.8 460.2l1 .3 .7-.3-0-.7M106.8 435.8l.9-1 .8 .4M86.2 493.5l.1-1.1-.4-.6M119 431.8l.8 .3 .7-.2 .8-1.1M97.7 475.3l.3 .8 .3 .9M67.3 494.4l-.8 .5-.5 .9M118.9 460.4l.6 .5 .9 .7M134.9 441.5l.2 .9 .5 1.1M131.1 442.3l-1-.6-1-.5 0-.7M82.1 460.4l-.9-.5 .3-1.1 1.4-.6M158.6 483.3l.8-.6 1.3 .3M118.2 438.7l-.7-.4 0-1.4M140.2 503.3l-.2 .8-.8-.2-.4-1M101.4 433.4l-1.4-.4-1 .9-.7 .9M59.9 511.7l-.3 1.2 .7 1.3M130.2 475.5l1.1-.2 .7 .9 1.2-0M52.4 478.7l-.2 1.4-.2 .6M147.5 441.5l.4-1.3 .3-1M53.1 459.4l-.9-.8 .2-1.2-.3-1.1M77.2 453.4l-1.3-.4-.9-1.2M101.3 444.5l-1.1 .8-.3 1.3 .3 1.3M82.6 453.9l.4-.9 .4-.7M52.3 480l-.3-0 0 1.2M124 424.3l1.4 .5 .7-.9-0-.7M55.6 473.8l-.7 .2-.9 .3-.8 .6M55.9 436.9l-.5-1-.3-1.1-1.2-.3M113.8 412.5l1.2-.2 0-.8 1.2-.3M134.4 495.7l-.5 .7-1.2 .7M57.3 470.3l1.1 .3 .2 1.2M111.6 482.7l-.9 1.1-1.2-0-1 .8M105.8 513.1l.6 .4 1-1M105.6 478.9l-.9-0-.2 1M123.9 510.9l.3 .8 1.2 .9M80.6 447.7l-.7 .3-.3 .6-.7-.3M149.8 431.8l-.7 .5-.9-.9 .1-1.1M156.9 432.9l.4 .9-.9 .4-.7-.6M123.4 437.7l-.3 1.3-.5 .7M112.9 515.6l.7-.2 .3 .4M88.2 514.2l-.2-1.3 .1-1M64.4 473.1l.8-.6 .3-.7M141.1 419l1.2 0 1 .2 .8-.5M103.8 495.8l-.7-.6-1.3 .1M66.4 471.6l-.9 1-0 .9 .9 .8M118.8 443.9l-.4 1.3-1 .6M104.5 478.2l-.5-.6-.6-1.1M63.7 412.6l-1.2-.5-.2-1.3M96.6 423.2l.5-1.2 .2-.7M77.4 469.6l-1.2-.3-1 .1-1.1 0M69.2 447.6l.5-.6 1.3 .1 .8 .9M91 418.4l-.3 1.4-1.2 .1M147.2 458l.1 1 .9 .3M84.3 497.9l-.1 1.4-.3 1 .3 .9M147 431.5l-1-.3-.3 .8-.4 1M103.9 500.6l.1-1.2-.2-.7 1-.7M72 441.2l.5 1.2 .6 .6 1.1 .1M148.5 476.7l0 1-1.1 .6M63.6 514.6l-.9 .2-.5 .8-.7 .3M100.2 439l-1.1 .4-.5-1 .3-.9M102.7 417.3l.9 .2 .6-.5M144.6 507.8l-1-.7-1 .4M94.9 498.6l-.8 .2-1.3-.8 .1-.9M84.9 446.8l-.5 .6 .1 .7M91.2 430.6l-1.1-.5 0-1-.6-1M103.8 492.7l-.8 .7-1 .6-1-.8M156.1 450.4l-1-.5-1-.9 0-.8M140.2 449.7l.5-1.3 .5-1M112.8 438l-.3 .7 .7 .6M156.7 447.6l.2-1.1 1.2-.7-.4-1M81.3 423.2l.3-1.1-.5-.5M126.9 445.8l-.2-.7-.1-.9M123 513.9l-.6 1-.8 .7M130.7 423.8l1.4 .2 .7 1 1.3 .4M84.1 491.2l1.1-.6-.5-1M135.3 451.5l1.3 .2 1.3 .5 1.3 .1M143.5 509.3l-.2 1.5-.4 .7-0 1M144.1 493l-.5 .5-1.1-.4-0-.9M129.3 505.6l-.1-.9 .8-.4M54.7 421.6l-1.3 .3-.7-1.3 .9-.5M130.7 444.9l-1.1 .4-1.3-.2M99.8 506.4l.5-.8 1.2 .6M78.8 420.1l-.7-.6-1.1 .7 .4 1.3M89.9 415.9l-.5 1-.9-.3M93.1 449.1l.9-.8 .9-.1M99.4 427.3l.1 1.4-1.2 .7 .4 .7M126.1 413.3l.7-1 .8-.1 .9 .5M60.1 492.9l-.9-.5-.7 .8M126.4 475.9l-.1 1.2 1.1 .4M74.5 461.1l.5-1.3-.1-.9M155.7 424.7l1.1-.2 .3-.8M148.4 412l-.9-.7 .3-1.3 .8-.2M65.4 451.1l.2 .8-.4 1.4 .3 1M129.4 507l-.7 .7 .7 .7 .7 1.3M101.3 451.2l1.2-.4 1-.5-.3-.9M72.1 409.9l-.9 .4-.8 .5-1-.7M74.8 501l.6-.7 1.2 .7M105.7 449.8l1.2-.6-.1-1.5 .8-1.2M150.4 490.6l1.1 .5 .6-.9-.6-.6M82.8 430l-1.2 .5-1.2-.6-.7-.8M101.8 486.6l.7-.2 .5-1.4M76.2 439.6l.6 1.3 .8 .9M147.3 484.4l-.3-1.2 .9-1M63.3 425.2l-.7 1.2 .3 1.1M116.2 495.8l.7-.5 .3-1.5-.3-1.5M159.1 480.5l.3 1.3 .6 .9-0 1.2M132.6 454l-1.1-.1-.7 .3 .2 .9M70.5 421.1l0 .7 .1 1.4M133.8 426.4l-.1-.9-.8-1.2M160.5 462.8l0 .7-1.5 .3-.4 .6M157.1 509.7l-.6 .7 .6 1.2 .9 .3M144.1 493.1l.8 0 .5 .6M128.3 416.5l-.8 .1-.7-.7 .5-.7M78.9 505.5l-.9 .1-.8 1-.2 .8M125.5 476.6l-.5-.8-.7-.8M150.6 505.5l.6 .7-.2 .7-1 .4M150.7 458.3l-.6 .4-1.3 .7-.9-.3M125.2 422.6l-.1 .8-.5 1.2M102.7 513.8l-.7 .8 .2 .7 .5 .5M84.4 493.4l.8 .6 1 .2 .4-1.2M77.8 454.4l-.9 0-1.2-.4-1.1 .2M71.6 439.2l-.3-.7-.7-.2-.8-.1M124.4 449.1l-1.1 .1-1.2 .8-.8-.2M68.3 420.3l.8 .1 .9-.3 .9 .2M120.8 482.4l.3-1.2-.8-.9M53.8 459.6l.1-1 .9 .1 0 1M61.3 437.2l1.3 .2 .9-.3M56 445.5l-.9-.4-1.3 .6M108.6 424.1l.1-.9-.4-.7M98.2 415.7l-.3 1.4-.6 .4M116.6 478.3l-1.3-.2-.1 .9-1.3-0M109.3 452.4l1.3 .2-.1 1.4M75.9 500l-.8 1.2 .1 .7M139.6 513.4l-.7 .9-.7-.4M153.3 422.8l-.6 1.2-1.4 .1M104.2 511.9l.6 1.2 1.2-.3M118.8 514.9l-1.2 .3-.6-.8-.5-.8M62.7 446.1l1.5 .3 .8 1.2-.1 1.4M59.7 433.5l-.9-.6-1.3-.4-.5 .6M79 490.5l1.3 .2-.1 1M84.9 444.1l-.1 1.1 .6 1.3M138.3 440.9l.9 1.2 1.3 .5M152 452l-.9 .7-.9 .3M90.2 433.7l.8-.3 .7-1M129.1 484.4l-1.2-.9-.7 .7 .2 1.2M65.4 471.6l.3-1.1 .5-1.3M107 501.7l.7 .7 1.4 .1 .4-1.2M79.2 458.6l-.1 1-.9 .1-.3 1.3M113.4 485.2l-.7 1.2-.9-.2-.4 1.1M154.2 488.1l-.3 .7-.5 1.1 .2 1.3M135.3 506.9l-.6-1.2-1.1 .3-.7 .4M160.7 457.4l.1 1.4-.8 .3M153.6 493.2l.3-.8 .6-1M84.6 466.4l.7-1.1-.4-.8M111 451.1l.6 1.3 1.2 .2 1 .9M83.1 498.2l.6-.5 .4-1M153.3 471.1l.4-1.4 .9-.9-.7-.7M54.6 418.1l-.9-.8 .5-1.2M132.5 458.2l.8 0 .4 1.3M121.8 482l.7 .3 0 1.1M155.5 429.2l.1 1 1.1 .7M119.4 488l.3-1.2 .2-1.4M55.2 504l-1.4 0-1.3-.2M60 512.5l-.5 1.3-1.2-.2M93.1 472.6l.8-.2 .3-.7 .9 .3M77.2 460.7l1 .1 .3-1.1 .6-.9M121.9 466.9l-.8-.5-.6 .6M147.7 440.5l-.3 1 .4 .7M65 425.2l-.3 1 1.3 .6-0 1.3M78.2 465l.8 .6 .8 1.1 1.1 .7M87.4 483.4l.1 .8 .2 1.1M142.8 411.8l.5-.9-.7-.9 .6-.2M105.5 485.1l1.2-.3 .6-.8M79.2 471.7l-.8 1-1 .3M160.4 416.7l-1.5-.2-.8 .1-.1 1.2M95.4 428.2l-.4 .9 .1 .7-.3 .6M148.1 507.3l-.4 1.2-.4 .8 .3 .8M131.1 412.6l.8-.7 .7 .6M120.9 414.3l.6 .4 .9 .8 1.2-.3M150.3 413l.4 1.4-.4 .7 .9 .7M132.7 426.6l.9 1 .8 .1 .6-.4M96 504.3l-.6 .7-.5 .6M97.8 456.5l.8-.7 0-1.2-.1-1.3M97.2 418.2l-1.1 .1-.8-.8M80.9 416.9l.8-.2 .4-1.4M126 457.8l.2 1.4 1 1M126.2 493.2l-1 1-.9 .5-.8-.7M160.2 447.3l-.7-.5 .4-1-1-.9M53.5 495.7l-0-.9 0-1.1M133.5 477.8l.6 1.2 .9-0 .3 1.3M98.3 485.8l.9 .7-.2 .9 .8 .7M123.2 453.6l.9 .2 .7 .5-.3 .7M78.9 499.9l-.1 1.2 0 .9M85.7 428.6l-.4 1.2-.5 1.2-1.3-.1M63.4 479.7l.3 .9 .2 1.5-.8 .5M90.7 429.8l.7-.4 .7 .4 .2 1.1M81 424.7l.7-.6 .7 0 .2 1.1M107.3 441l1.2 .1 .6 .5M139.1 435.6l.3 1.2 .5 1-.6 .7M147.1 430.2l.6 1.1-.1 1.2 .2 1.1M101 443.6l.6-1 1.1-.3 .4 .9M148.5 428l-.7-.7-1.1-.6-.4-.6M154.2 470.6l0 1.3-.3 1.1-1-.1M146.9 479.9l.9-.3 1.3 .4M136.4 475.5l.5-.7 .6-.5M131.3 437.6l-1.3 .4-.8 .5-.6-.5M152.3 488.7l-.2 .8-.4 1.4-.6 .9M139.4 435.7l-1 .4-.7-.9M57.3 471.8l.3-.8-.8-.4M146.4 449.4l.6 1 1.1 .4-.3 1.1M53 456.6l-1 .9-0 0 0 1.3M59.1 420.6l-.3-1.2-1-.3M145 442l1.1-0 .4-1.2-.1-.9M108.2 468.9l-.8 .2-.5 .6 .2 .7M102.3 487.3l.3 1.4-.3 .8-1.4 .5M87 463l.2-.7-.8-.4-.3 .8M65.2 505.3l-1-.5-1.1 .8M153.8 500.3l1.4 .2 0 1.2 .4 .8M58.1 461.9l-.5-.9 .6-.8 1.2-0M135.7 513.5l.9 .1 .4-1.1M101.9 492.9l.6-.6-.5-1-.5-1M65.1 437.9l.9 1.2 .9-.7 .6-1M70 457.4l-1.1-.1-.9-.5M72.1 460.8l-.3 .7-1.4 .4M117.8 512.6l.6-.5 1.3 0M112.6 471.1l1.1 .3 .7-.5 .5-1.1M123.6 482l.9-.2 .7-.4M64.2 434.5l.5-.8 .8-.8-.4-.7M138.9 476.4l-.7-.5-1.4 .1-.6-.5M94.7 490.1l-.8-1.1-1.1 .1M52.3 428.9l1.1-.9 1.2 .7 1 .3M59.9 437.8l.8-1.3 .7 .2M104 460.3l.4 .7-.9 1M64.7 485.2l-.5-1.4 .1-1.2-1.2-.8M89.9 413.4l1.1 .9-.5 1.2 .4 .8M125.7 507.3l1 .7-.3 1.3M103.1 470.1l-.4-1.4 .1-1.1M87.3 462.7l-.1-1.4 .4-.9M154 498.4l.7 .4-.6 1 0 1.1M96.3 484.9l-1 .1-.5-.7-.7 .4M53.9 489.8l-1.2 .3-.7 .6 0-.7M75.5 445.7l-.4-.8-1 .2M134.7 503.9l-.2-.8-.8-1.3-1 .5M121.9 480.4l.4 1 1.2 .1 .4-1M88.9 460.1l1.1 .6 .7-.4M130.9 489.9l-1.2 .6-1.2-0-.8 .9M143.8 497.3l-1 .5-.9 .4-.7 1.1M76.9 457.4l-.7-1-.4-.8M63.9 437.2l-.8 1.1 .9 1M131.8 425.6l-.6-.8-.8 .7-.6-.7M145.2 496.9l.8 1.1 .2 1.4M159.2 426.3l.8-.6 .6 .8M106.7 467.2l-.7-.3 .4-1.2 .1-.7M105 483.9l-.6-.4-1.2 .7M144 509.4l-.8 1.1-.9 .1-1-.1M92.5 466.2l1.2-.4 .6-.4 .6-.7M145.2 507.2l-.2-1.3 .6-.8-.5-1.2M76.7 436.3l-.8-.4-.7-.4-.3-1.2M54.5 430.9l.2-.9 1.4 .2M65.5 411.5l.2-1.3-.7-.4-1 .6M81.8 441.3l-.9 .5-.5 .7-1.1-.1M137.9 434.1l1.3-.5 .1-1.2-.4-.9M133.2 485.4l.5-1-.5-1 .1-.9M125.1 498.4l-1.3 .2-.4-1.3-1 0M79.2 446.5l.5 .7-.7 .5 .1 1.1M130.6 438.7l.7-.2 .8 .1M125.6 487.4l1.2-.2 .6-1.1M66.3 465.2l-.4 1-1 .2 0 1.4M144.1 510.6l-.4-1.2 .1-1.5M141 442l.2-.9-.5-.6 .9-.7M117.7 465.7l.9-.2 .6 .8M132.3 475.6l1.2-.5 1-.2M74.4 496.8l-.1-1.2-.6-.5M155.8 508.3l.4 1 .8-.3 0-.8M109.7 506l-.1 .9 1 .3M97.3 410.6l0-.8-1 0M102.2 413.3l.9 .4-.2 .8 .1 1.2M160.8 438.7l-.6-.4-1-1 0-1.5M70.3 473l-.1 1.3-.4 1.2 0 .7M60.8 462.8l-1 0-.9-.7-.9 .3M99.6 508.6l.1-.9 .5-1.4 1.3 .4M78.2 485.7l-.9-0-.7 .5M71.2 464.3l-.9-.4-.9-1.1 .2-.8M158.6 503.4l-.2-1.2 .1-.7M128.6 439.6l-.9-.5 0-.8M60.4 480.1l-.6 .6-.1 1 1.4 .4M66.8 468.5l-.1 .7-0 1.1-.2 1M155.9 508.9l.4 .8 1.2-0 .2 .8M58 468.5l-.4-.9-.8-.8-.7-.5M152.3 478.8l-.8 .8 .4 .8 1-.4M131.5 448.6l-.4 .5-.1 1M95.1 504.8l1.4 .2 .9 0 .7 1.2M100.9 491.1l.3 1.3-.9 .2M77.1 478.2l-.6 1.2-.2 .7-.1 .8M97.6 464.4l.8 1.2 1.1-.3 .7 .9M141.6 445.5l-1-.3-.6-.8M94.4 488l-.5 .9 .6 1.3M126.3 451.8l-1.3 .3-.6 1.2-1.2 .4M75.8 508.3l.4 .6-.5 .7-.9-.5M80.8 465.5l1.3-.4 .5-1 .8-.4M140.5 512.9l1 .1 .7 0M54.6 469.4l1.1 .8 1.3-.3M65.4 420l-1.1-.5-.9 .4-1-.6M120.5 426l.6 .8 1.4 .1M68.1 457.2l1.1 .2 .7 .5 1.1 .2M106.5 507.7l1 .1 .8 .6M134.1 431.8l.8 .7 1-.8 .2-.8M113.4 459.7l-.8-.8-1.2 .7-.3 .7M68.1 429.8l.3-1.4-.5-.7M113.4 413.9l-.2 1.1 1.1 1 1-.7M146.4 422.7l1.5-.1 1.4-.3M125.1 480l.1-1.3-1.4-.5-.6-.8M127.2 413.9l1.5 .1 .5 .5 1.2-.5M141.7 499.5l-.4 1.1 .7 .8M58.2 506.8l1.2 .8 .8-.8 .4-.8M95 431l-.9-.7-1.2 0M129.8 410.5l.5-.7-.5 0-1.4 0M101.4 414.6l0-1.4-1.1-.1-.9 .4M64.4 508.9l1.1-.6 .9 .3M70.4 472.9l1.1 .5 .3 .8M104.9 439.8l-.7-.9-1.1 .5M139.8 455.9l.5-.7 .9 .7-.2 1.2M86.5 448.3l.5 1.4 .1 .8 .7 .4M82.8 432.8l-1.4-.2-.5 .5M150.2 421.1l1.3-.1 .6-.9M123.2 474.5l-.4 .9-.3 .8M54.5 410.3l.5 .6 .8 1 1.4 0M102.6 471.2l-.3 1.3-1.3 .4-.1 1M153 442.2l.5 .7 .1 .8M93.2 448.1l-.2-1.4-.8-.2M154.8 505.2l-.5-.6-1-.7M99.1 448.1l.7 .5-.2 1.3M60 504.1l0 1.2-.8 .7 .3 .8M150.3 493.6l-.5 .8-.1 1.3 .6 .9M106.8 437.9l.6-.7 1.3-.7 .2-.9M68.1 475.7l-.4 1.4 .3 .8 1.3 .5M57.1 481.3l-.9 .8-1-1.1-.7-.7M100.9 497.1l-.6-.7-.8 .4M52.4 494.3l.4 .8 .9 .3M152.1 492.8l-.4-.7-1 .6-.7 1.1M92.3 487l-1.2-.3-1.3 .5M109.9 470.3l1.1-.7 1-.4M67.7 447.5l-1.1-.8-.8 .1-.4-1.2M62.5 513.7l.8 .3 .3-.7 1.4-.3M121.5 498l1.1-.4 1.3 .6M72.3 434.4l.2-1.3-.7-.9M73.6 489.3l-1.2 .6-.8-.3M143.5 500.3l-1-.6-.6-1.2M113.2 470.8l-.2-1.3 .5-1 .7-1.1M83.3 495.1l-.5 1.1-.5 1.3-1.1 .4M126.5 489.3l.9-.8 .6-1.1M123.1 439.3l-.6 1.4-1.4-.2M100.1 433.9l.4 .9-.8 .7M130.6 488.1l-1.4 .5-.8 .1M145.2 474.5l.4-.6 1.1-.9M79.1 451.6l.5-.8 1.4-.2 .7-.2M87.1 437.3l-1 .8-1 .2-1.2 .2M116 455.8l.8-.8 .7 .4M98.2 411.4l-.8-.9 .4-.7M139.5 449.7l-0-.8-.9-.5-.4-.6M113.9 475.1l-1 .2-.5-.9-.9 .5M148.2 469.9l1.4-.5 1-.7M71.8 470.1l.9 .1 .9-.7M95.3 507.3l-.4-1.1-.3-.9M73.1 491.7l.6-.8 .7 .2M124.9 434.1l-.2 1-.9 .1-.9 0M146.3 491.3l0 1.2 1 .7-.1 .8M108.8 452.1l-.8 .2-1.1-.7M61.4 473.2l1.2-.6 .9-.8M109.8 472.9l.4-.7-.6-.8 .6-1.2M89.6 511.4l1-.7 1.2-.5 1.1 0M116.2 442.1l-0 1.3 .9 1.1 1.4-.4M92.6 446.1l-.3 1-.9-.1-.9 .3M55.3 418l.2-.9 1-1M149.4 439l.7-1-.3-.8-1.2 .5M94.8 420.4l.7 .5 1.3-.7-.2-.7M131.9 434.1l-.7-.4-.9-1.2-1.4 .3M80.1 424.4l-.7-.3-.8-.7M103 441.5l1.3 .1 1-.6M77.8 487.5l.1 .7 .4 1.4M113.1 468.2l-.5-.6 .3-.6-.1-.9M76.2 484.9l1.2-.1 .3 .7 .3 1.1M53.8 458.1l-.9 .6-.9-1.2M136 428.9l-1-.5-.9-.4 .5-1M152 466.1l.9-0 .8 .2M151.7 479.1l.4-1.3 .9-.2M65.7 478.6l1.1-.4-.2-1.1 .3-.8M145.4 431l.9-.5 .7 1M79 464.1l.4 .6 1 .3 .1 1.4M127.9 420.5l-.7-.3-0-1M82.5 460.4l-.3-.7-1.2-.3M159.3 484.5l-1.1 .5-1.1 .1M153.9 411l1-.9 .4-.3M83.1 467.8l-.7-.5-1-.1-.6-.7M149.7 479.1l1.1-.5 0-.9 .7-.2M113.7 487.6l-.2 1.4-.5 .7-.8 .9M89 431.6l.7 .4 .8 .3 .9 .9M105.1 419.7l-.5-.8-1.1-.4-.1-1.1M101.8 515.7l-.7-.8 .3-1.4M104.4 438.8l-.7 .4-.9 .7M81.4 438.6l.7 .4 1 .9 .6 1.1M135.3 437l.8 .6 1.5 .2 1 .3M111.9 452.4l.8 1 1.3 .5M145.1 475l.2 1.3 .8 1 .7 .4M138.2 492.9l1.2-.4 .9-.3M58.1 496.6l.5 .6 1.1 .3M125.1 454.5l.2-.7 .8-.9M106.5 484.3l.8-1.2 .8-.2M108.5 457.7l-1.1-.3-.7 1.1 1 .7M86.1 446.4l.6 .4 1.4-.1 .2-.8M60.3 500.5l-1.2 .3-.3 1.2 .7 .4M120.1 498.6l-.2-1.1 .8-.8M125.5 470.5l-.7-.5 .4-.8M153 499.5l.3-.6 1.3 .4 .5 .7M98.9 433.8l1.1-.8 1.2 .5M109.3 462.5l-.7-.1-.3 1.4-1 1M87.9 454.6l-.1-.9 1.2-.6 .6-.6M123.9 476.2l.8-.3 1.2-.1M99.8 441.3l.7-1 .3-.7M126.6 432.8l.9-.7 1.2 .5 1.3-.1M107.4 417.3l-.8-.5 .4-1.1M91.7 425l-1.1 .8-1.1 .3-.6 .8M100.8 510.3l1.2 .1 .2 1.1M122.8 467.2l.7 1.1 1.2-.6 .5 .6M105.8 439.5l.8-.6 1.2 .4 .9-.9M100.9 511.6l.1-1 .7-1 .9-.4M140.7 511l-.4 1.1 1 1.1 .7-.3M120.1 453.3l.5-.9 .9-.2 .2-1.3M142.3 420l-.8-.9-.2-.8-.7-.7M143.8 464l.8 .1 .2-1.1M151.7 479.7l-1 1 .8 1.1 1-.5M95.9 411.5l.2 .8 0 .9-.5 .6M117.8 491l-1-.9-1.2-.7-.5-.6M157.2 425.1l-.8 .2-.9-.8 .5-.8M98.8 481.5l1.2-.3 .4-1.4M111.3 461.4l1.1 .4 .4 1.1 .2 1M151.2 453.1l0 .7 .4 .6 .7 .8M103.7 476.2l-.9 .5-1.4 .3M56.5 492.9l1 .9 .5 .8M99.5 439.4l-.9 1.2 1 1.1M129.9 508.1l1.2 .4 .7 1 1.4-.4M100.7 464.5l-1.2-.7-1.1-.9-.8 .3M134.2 489.9l-1.5 0-.7-1.2M95.2 515.3l1 .5 .9-1.1M101.3 471.2l-.4 .9 1.3 .7M62.7 448.6l.8 1.2 .9-.7M143.1 499.4l-.4-.8 .2-1.3M53.4 455.6l-.1-1 1.4-.2 .1 1M104.4 495.7l-.3-1.1 .9-.3 .5-1.2M62.2 494.9l-.5 .6-1-.2M126.1 429.6l-1-.3-.8 .7M88.2 428l.2-.7 1.2-.5M81.8 431.4l.3 1 .8 1.2 .6 .9M78 411.2l-.7 .9-.9 .1 .2 1.4M141.8 498l.1-1-.8-.8M76.8 435.9l0-1.2-.8-.9 .1-.8M109.2 461.6l.2-1-.5-1.3M142.6 444.1l-.1-.9 .8-.7-.8-1M98.4 451.7l1-.1 1-.7 .4-1M123.6 450.4l.8 .1 .1 1.2M67.7 459.6l.1 1.2 .8 .1M103.5 445.3l.5-.7 .6 .4M67.6 427l.7 .9 .4 .7M63.6 455l-.7 .1-.2-.8M60.6 457.5l1.1-.6-.3-1.1-.8 .2M131.9 504l.6 .6-.1 .8 .5 .5M122.2 512.6l-1 .7-.7-.8-1-.5M119.4 410.8l1.3-.1 0-.9M143.7 459.9l1.2-.5 1.2 .5 .8 .2M111.9 462.7l.8-.1 .1-1.1-.8-.7M75 425.8l-1.4 .4-.6 1.1M73.5 436.9l-.6-.8-.9 .4-.9-0M112.8 466.6l-.9-1.1 .7-.7 1-.6M148.3 434.2l-.6-.4-1 .5-1.3-.4M123.3 507.1l-.7 .8 .3 1-.2 1.1M88.9 507.2l-1.5-0-.5 1.1M78.8 512.2l-.1-.7-.3-1.4-.7-1.2M53.3 436.6l-.7 1 .7 .6M111.2 476.6l1.1-.1 .4-1M66.7 493.3l.4 .8 .3 .9 .8 .6M68.5 485.1l-1.5-0-.9 0-.6-.4M78.8 464.9l-1.1 0-1.1 .4-.8-.4M114.4 418.4l0-.8 .3-1M75.8 497.5l1.3 .7-.7 1.2M96.2 411.8l-1 .9-.8 .1M103.7 446.7l-.3 1.4 .3 1M156.7 485.5l1.2 .3 .2 1.2 1.4 .4M107.7 411.4l-.8 .4-1-.5 0-.9M134 481.3l-.8 .2-.7-.1M71.3 494.6l-1 .4-.9-.9-.5-1M116.3 495.3l-.5-.9-.5-1.3-.9-0M68.2 494.5l1.1-.5 .5-1.4M105.5 495.9l.2 .8 .9 .6 .9 .7M64.7 487.5l.7-.6 .2-1M126.5 478l.8 .8 1.2 .8M60.4 497.6l.6-.5 1.3-.7-.1-1.1M134.1 478.5l-.4-1.2-.1-1.3M69.3 440.6l.3-.7 1 .4-.1 1.4M115.2 420.6l-1.4 0-.8-1.2M119.7 419.4l.6 .7 1.2 .7M149 476.6l-.7 .6-1.1-.1-1-.2M116.4 433.4l-.8-1.2-.1-.8 .5-1.1M57.8 434l1.3-.4 1.1-.5 1.1 .8M100 478.1l.7 .5 .3 .6-.8 .9M129.5 497.6l-.5-.8 .3-1.3 1.4-.3M52.2 465.1l-0-.9 .6-.7 1-.3M73.5 421.6l-0-.8-1-.5 .3-.8M94 492.4l.1-1.1-.1-.8 .7-.5M118.1 483.5l.6-1.1 .5-1M120.3 435l1.3 .4 .4-1.2-.7-.8M116.7 500l-.7 .7-.1 1.1 .6 .4M54 470.6l-0-1.5 1.2-.8 .7-.1M136 492.8l.5 .8-.4 1.4-.6 .9M80 478.2l1.1 .5 .8 .2M146.7 508.5l.5-.6 .6-.5M94.1 443.6l-.5 .6 .2 .8M121.6 470.4l-.6 1.3-.6 .9 .5 .9M112.1 475.3l.7 .1 .9-.9 .8 .5M117.6 446l-.4-1.3 .7-.2M136.8 492.4l.8-.3 1 .4 .7 .3M148.5 480.1l.7 1.2-.9 1.1-1 1M113.6 440.9l1-.3 .4-1.4M105 472.5l-.4 .9-.5 1-.3 .8M100.1 496.1l0 1.3 .7 1.2M102.2 412.6l.6 .3 1.4-.6 1 .5M92.8 415.9l-1.3 .6-1.2-.9-1.3 .3M132.5 431.4l.5 .6 .7-.1-0-.8M137.9 507.5l.9-.5 .3-1.3-.7-.1M109 429.5l.3 1.4-.1 .9-.9 .8M96.9 476.2l.6-.5 .2-.7-.9-.9M97.3 437.2l-.8-.5-.5 .6-.7 .9M70.5 469l.9 .5 1 .6M90 432.8l-.9 .3-1.5-.2-.7-.6M104 444.8l-1 .8-.6-.6M142.9 466.2l.1-.8 .9-1.1 .9-.1M102.5 457.4l1.3 .8 .9-1.1-.3-.9M125 415.3l-1-.4-.7 .2M132.1 424.9l.9 .2 .1-.7 .5-.7M85.6 420.6l.8 .1 .8-.6 .7 .3M55.1 496.5l-.7-.7-.7 .5M117 514l-.9-.5 .1-1M91 450.1l-.7 0-.4-1.2-1.2-.4M158.5 445.2l1-0 .5-.9M151 475.8l.4-.8 .2-1.1M65.3 437.7l-.3 .7-.1 .9M91.7 425.9l.1-.9-.8-.2M147.3 476.5l-0 1.1-1.1-0M159.7 454.2l-.9-.9-0-.9M70.8 477.9l.6-.6 .8 .2 .2 .9M67.5 459.3l-.3-.9-.9-.8-.9-1M87.1 459l1.4 .1 .9 .9M160 505.2l-.9-.2-.7 1.2-1.1 .1M56.4 515.1l.4-1.3-1-.8M66.6 476l1.4-.1 .8 .6 1.4 .4M147.6 425.1l-.8 .5-.8-1-1 .4M69.3 426.6l1.4 .4 .6 .4M63.5 449.4l-.9-0-.7 1M116.6 449.8l-1-1-1.2 .6M106.1 412.1l1 .5 1 .2 1 .9M103.8 430.9l-.2-.9 .9-.3 .5-.9M121.8 418l.4-1.1-.9-.4-.5-1.1M151.1 497.9l1.2 .1 .1-.9M81.3 425.1l-.9-1-.5-.6M147.8 510.3l-1.1 .1-1.1 1M108 497.9l-.4 1.2 .4 .7M100.2 446.6l-.7-.7-.2-1.3M99.2 461l-.4 1-.8-.1M83.2 466.1l-.3-.6-.2-.8-1.1-.1M124.6 456l-.5-.6-.2-.7M86.2 431.4l.9-1 1.2 .5 1.1-.6M160.6 514.9l.2 .9 0-.3 0-.7M157.9 442.9l-.2-1.3 .6-.9-.4-.6M73.6 471.1l-.7 .4-.7-.1-1.2-.2M99.1 428l-0 1.1-.8 .6-.5-.7M133.7 414.8l-.7-1.2 1.1-.6M90.2 515.7l.8 .1 1 0M54 437.6l-1.3 .4-.7 0 0-.2M91.6 504.3l-.8-.1-1.2 .7-.7 1.2M138.8 514.2l-1 .5-1.3-0-1.1 0M125.5 498.5l-1 .2-.7 .3M108.1 419.1l-.6 .8-.4 .8-1.4-.4M89.3 426.1l.8-.4 .7 .2" stroke="#3440b0" stroke-width="0.75" fill="none" stroke-linejoin="round"/>
<path d="M148.6 453.2l-.6 .7-.6 .7-.8-.1M94.2 501.4l-.8-.4 .5-1.1M53.9 471.5l.9-.6 1-.6M97.4 471l.5 1.1 1.4 .2 .5-1.4M57.3 488.8l.8-.7 .9-.5M90.3 476.8l.8-.2 .2 .7-.8 1M70.2 468l.1 .7 .5 .6M80.5 442.1l-.8-.6-.2-1M72.3 513.3l-.9-1-.9-.6-.1-.9M136 492.5l-.7 .7 .6 .7 .5 .7M78.7 485.3l.8 1 .6 1.3M108.5 448l-1-.9 .2-.9M132.8 507.6l.5-.6-.9-.9M118.6 484.9l.7-1.3 .5-.8M153.6 438.1l.6-.9 1.1 .4-.1 .8M147.2 453.4l1.1-.4 .9 1M97.4 421.2l.1-.7 1.3-.6 .4 .8M61.9 414.8l.6-.6-.5-1.3 .7-.6M156.7 445.1l-.9-.4-.4-.8-1.4 .1M134.8 467.6l-.4-.9-1-.2M148 466.8l1.1-.7 .2-.7-.3-1.4M77.6 415.6l.6-.8-.3-1.1 .6-.7M124.4 472.6l-.6 .3-1-.7-1.2-.3M75.6 512.7l.9 .6-.4 .7 .6 .6M96.1 412l.4 .6 .9-.2 .6-1.3M140.7 498.9l.3 .9 .6 .5-.1 1.2M146.6 437.6l-.8 .3-.9-1.1M65.2 465.1l-.1-.7-1.2-.3M142.4 460.5l-.5 1.2-1.3 .3M113.6 451.8l.6-.3-.3-1-.8 0M68.7 458l1.1 .4-.1 1-.6 .7M127.2 460.5l1-.1 1.1-.7 .7 .3M82 490.2l-.6 1.2-.8 .1M106.9 420l.8 .1 .4-1 1.4-.2M118.6 444.2l-.9 .7-1-.1-.9-.2M156.7 449l.8 .6 .9 .3M158.3 436.1l-.6 1.3-.3 1.4-1 1M145.8 481l-1 .1-1.1-.2M92.1 492.3l-1 .7-.7 .2M85.1 468.7l.7 .7 .1 .9M84.1 419.7l1.4-.3 .2 .7 .9 1M82.4 467.5l1.2 .6-.2 .9-.4 .7M143.7 506.8l1-1 1.4-.4M136.6 498.9l1-.3-.2-1.1M53.1 484.8l-1.1-.1 0 .8M90.9 430.4l.6-.5 .7 .1 .3-.7M145.4 491l.7-1 .5-1.1-.1-1.1M56.1 435.6l.2-1.1-.9-.5-1.2-0M60.1 463.4l-1.1 .5 .2 1-.9 .2M54.1 442.5l-1.3 .1-.6-.4 .1-.8M97.8 483l-1.3-.2-.7 .5-.1 .9M158.2 433.6l1.1 .1-.1 1.3 .6 1.3M81 444.1l.1 1.5-.1 1M101.4 514.5l.5-.6 .7-.2M157.7 510.8l.9 .6 .5 .8M71.5 430l.6 1.2 .4 1.2M133.1 459.4l.1-1.2 0-1.1 .3-1M140.1 444.8l.3-.8 .8-.2M58.3 498.7l.7-.6 1.1 .8 .8-1M92.2 462.2l1 .4 1-.5 1.3-0M134.8 467.9l-.3-.9 .8-1.2-.2-1M127.5 489.3l.5-1-.7-.9M71.4 452l1.3-.3 .4 .8M59.9 426.2l.2 1-.1 1 .2 .9M92 416.1l-0-1 .4-.8-.6-.8M112.7 476.2l.6 1.1-.4 1.3-1.3 .2M87 447.7l-.6 .8-1 .5M144.2 496.9l.8 .6 .4-.6M64.9 438.4l.1 1.2-.3 .8M99.7 498.3l-1.4 .2-1.5-.2-.3-1.2M62.2 502.2l-.7 .7-1.1 .8M107.3 437.2l-.2-1.5 .2-1.3M147.1 410.8l-.8-.4 .4-.6-.8 0M112.6 426.7l-1.3-.3-.9-.5-.7 1.3M128.1 473.9l-1-.7-1.5 .1M111.2 445.4l-1 1-1-.3M130.4 450.8l.8-.9 .9-.3 .3-.8M115.7 470.9l1.4 .6 1 .8M119.5 487.4l1-.6 .9-.1 .8-.8M106.3 479.8l-.5-1 .6-.5 1.4-.4M136.8 433.3l.7-.5 .3-1.2-1-1M101.3 430.9l.1 1.4 .2 1.2 1.2 .1M139.9 434.9l-.6-1.2-.8 .1M104.8 490.7l1.1 .1 .4 1 1.1 .9M151.4 484.4l.4 1.1-.2 1M80.5 506.7l.3-.9-.8-.7M54.8 510.4l.8 .4 .6-.4 .6-1.3M103.7 439.9l.5 .7-.7 1.1-.9 .6M126 508.2l.9 .2 .8-.7M117.1 499.8l-1.1 .7-1.2-.1M142.1 463.4l-1.1 .5-1.3-.4-.6-1.2M144 475l-.4 .7-1-.2-.8-1M125.6 442.8l.1 1-.9 .5M84.3 471.8l.2 .9 .8 .4 1.1 .3M139.8 426.3l-.3 .7 1 .4M141.9 504.4l.1 .9 .8 .1 1.1-.7M86.6 418.5l.6-1.2 .9-.1M125.8 444.3l.2 .9-.1 1-.6 .9M76.1 466.6l-.4 .9-.7 .8M65.6 416.9l.4 .6 .7 .5 .5 .7M83.3 502.8l.9 .5 .6-1M93 466.8l-1.1 .9-1.5 .2-.8 .5M95.3 506.5l-.2-1.1-.3-.8M72.1 456.3l.2-1.4 0-.8-.1-1.3M150.9 414.7l.1 .9 .1 1.5 1.4-.1M74.5 428.8l-.6 .7-.8-.6M100.6 468.4l-1.3-.3-1.4-.4M54.2 506.9l-.4-.8-.9 .4 0 .9M96.5 505.6l-.2-1.1-.2-1 .3-1M136.1 428.8l.8-1 .7-.5-.2-1.1M95.7 459l-.9 .2-1.1 .6-.1 1M65.2 436.8l0 .7 .5 .7-.2 1M77.2 464.6l-1.2-.6-.6 .4-1.1-.9M82.1 442.4l-1.5-0-.8-1-.4-1.3M108 444.6l-1.5 .1-1 .4M158.7 474.9l1.3 .1 .3-.8M56.9 422.4l-.9-1.1 .3-1.2M91.4 413.5l.1 1.1-1.4 .2-1-1.1M106.8 471.5l.9-.3 1.2-.3 .9 .8M122.2 482l.2 .7 .3 1 .8 .1M131.6 448.8l.5 1.1-.2 1M98.1 479.2l-.8-1.2-.1-1.4 .9-.3M158.1 483.9l.7-1.3 1.1-.1 .3 .8M89.4 508l.1-.9-.5-1.3M109.3 476.4l-.1 1.1 .7 .2M71.1 455.5l-.8-.1-.4-.8-1.2-0M144.8 435.9l-1-.4-1-.5M62.9 446.1l1-.8 1-.8M76.1 447.2l-1.1 .8-.9 .6M128.8 485.8l-.7 .1-.2-.7-.5-1.1M78.3 489.7l-1 .9-.7 .2M130.5 435.4l.5 .8-.3 1.2-.7 .6M61.8 437.6l-.7 .5-.8 .7M96 502.6l-.5-.7 .1-1.5 .7-.3M99.2 457.4l-.3 .7-.6 1.1-1.2-.4M153 413.4l0 .7-.7 .9-1.4 0M154.1 484.5l-.1-1.2-.7-.9M104.9 507.3l-1.2-.5 .1-1.2M160.6 498.3l-.8 .9-0 .9M83.7 457.4l.6 .6 .7 1-.4 .8M151.8 433l-.6 .5-.2 1.2-1 1.1M106.8 476.3l-.4 1 .7 .7-.2 .9M124.2 515.3l.5 .5 1.2 0M91.9 455.6l-1.2-.2-1-.3M66.3 423.2l-1.2 .3-.7 .1M117.8 425.1l-.8 .3-1-.2-1 .2M54.8 434.2l1-.1 1.1 .8 .8 .1M141.6 477.1l-.4 .6-1 .2 0 .7M109.9 459.9l-.5-.7-1-0M86.9 450.8l-.4 .7 .7 .9 .3 1.2M122.1 465.2l1.3 .1 1.1 .5 1.4 .5M135.2 451.8l.8-1 1.4 .1-0 1.3M70.5 437.6l1.2-.2 .6 .6 .9-.1M86.1 461.7l-1.4 0-.5 1.2M70.5 460.3l-1-.8-.9 .9 .4 .6M80.1 497.4l.8-.6 1.2-.7M96.7 500.4l-.7 .2-.1 .8-.9 .9M82 472.1l-.7 .7 .5 .6 .6 .9M59.5 474.5l-.7-1.2 .4-1.2M64.5 444l.1-1.3-.9-.6M83.2 488.3l-.3-1.2 .8-.6 .3-1.4M58.5 452l-.5-1-.1-1-.3-1M98.9 493.8l-.7 .8 .1 .9 .1 1.1M89.8 477.5l-1-.4-1.1-.1-1.1 .8M160.1 484.7l.6-1 .1 .2 0 .6M146.3 432.8l.9-.8 .8-.1M97.9 496.4l-1.1 0-.8 .4-.8-.4M155.6 455.3l-.6 .6-.8-.3-.5-.7M137.7 421.4l-1 .3-.4-.8-1.1-.1M121.6 481.4l-.7-.9 .1-.8M118.2 478.5l-.6 .5-.8 .1-1-.7M56.1 427.7l.6-.8 1.2-.3M158.6 432.6l.8-.9 .8 .2M134.8 495.1l-.5 1.3 1.1 .8M77.2 466.1l-.7 .7-1.2-.1M60.4 477.3l.7-.3 .5-1M60.6 481.4l-.4 1.4 .3 .7 1.1-.1M92.4 490.2l.7 1 1.1-.2 .7 .6M90 410.9l.3 .9-.3 .8-.2 .7M136.9 415.5l.8 1.2 .9-.1M129.3 461.7l.4 1 1.3-.2 1 0M126.8 511.8l.6 1.3-.1 .8 .8 .6M89.9 514.9l.7-.9-.3-1M132.5 510.8l-.9-.6-.3-1.2-.6-.8M63 428.9l-.7-.6-.7-.1-1.2 .2M129.6 480.3l.7 .2 .7 .8-.2 .8M83.9 497l-.1-1.3-1.2-.7-.2-1.5M133.3 445.1l.9-1.1-.4-.6M142.9 469.6l.5-1.2 1.4 .4M96 515.2l.4 .6 .9 0M156.9 435.3l-.9 .2-.9 .4-.7 .6M82.9 463.4l.3-1-.9-.5 .1-1.2M143.8 480.9l-.5-.7-.4-.6M131 455.4l-1.1-.7 .4-1.1 .6-1.1" stroke="#f0dc50" stroke-width="0.75" fill="none" stroke-linejoin="round"/>
<path d="M133.1 460.6l.9 .1 .5 1.2-.9 .8M126 484.6l-.4-.6-1.1 .6 .4 .8M52.7 442.9l-.7 .4-0 1.1 0 .9M109 436.3l.8 1.1 .7 .7 .9 .6M156.8 462.1l-.2 1.3 1.2 .2M132.8 438.7l.2-1.1 1 .1M102.5 489.9l.1 1.2 .7 .7 .7-.2M149.5 470.1l.1-1.1 1.3-.7M154.3 417.4l1.4-0 1.1 .2M100.4 448.7l-.9-.1-.8 .9 .5 .7M99.5 515.1l.8 .4 .1 .3-.8 0M83.8 468.1l1.2 .1 .1-.8 .2-1.3M156.3 443.9l-.8-1.1-1 .6M96.1 467.6l1 .2 .5 1.2M69.1 477.9l0-1-1-0-.1 1.2M114.3 483.1l-.6-1 .1-1.5M112.2 413.3l-.3-.7-.5-.7 .2-1M118.1 485.1l-.2-1 .6-.5 .9-1.1M141.5 424l1.3 .4 .7 .2 .4 1.1M111.4 477.9l-.4 1-.5 .8M128.9 443.9l-.3-1.2 .9-.9M88 414l-.5-.8 .3-.8M91.9 413.8l.5 1.1 1.4 .2 1.2-.3M147.7 510.4l0 1.1 .4 1.4-.5 1M52.5 459l-.1-.9 1.1-.5M103.6 499.7l-1.2-.9-.8 .1M110.4 417.6l1 .2 1 1 .3 1.2M131.7 410.8l.7 .7 .6 .9-.5 .9M102.1 461.8l.8-.2 .9-.6M160.1 428.7l.7-.8-.9-1.1 0-1.2M126.5 457.7l.1-1.3 .8-.9 1.1 .5M77.9 450.7l-.3 .9-.9 .9M148.3 488.3l-.1 1 .5 1.4M110.5 427.1l-.6 1.2-1.1 .4-1.3-.2M89.4 461.9l-1 .2-.5-.6M81.4 474.6l-.4 .6-.2 1.3M160.7 451.9l.1-1.3 0-.5M98.5 501.7l-.7 .4-.6 1.1M107.7 439.1l-.7-1.2 .3-.7M153.2 503.1l.6 .5-.1 1.2M103.7 466l.5 .6 .4 .6 .8-.6M77.9 476.5l.7 .5 .1 .8M138.9 487.7l.2 .8 .6 .4M78.6 426l-.6-.6-1.3 .6-1.2 .2M80.1 508.7l1.2 .8-.4 .6M88.4 478.7l-.7-1.3-1.2 0-1.4 .3M91.4 513l-.9 0-.1-1.1M130.7 492.4l-.6 1.1-1.1 .4M68.5 504.3l-.1 .8-.1 .7M115.9 481.2l.3 .9-1.1 .7-.7-1M54.8 417.3l-.2 1.1-.2 1-0 1.1M127.1 451.4l1.2 .9-.1 1.4M55.2 510.9l-.5-.5-.8 .8M84 507.1l1.1-.3 .9-.8 .7-.5M100 458.9l.8-.3 .9-.5-.1-1M75.6 466.3l-0 1.4 1.1 .2 1.1-.1M136.8 475l-.5 .8-1 .1-1-.1M130.8 471.2l1 .9 .7 .5M120.5 424.8l.1 .9 0 .7-.6 .9M75.3 428.4l1.1 .5-.3 .7-.3 .7M145 515.4l-1.1 .4-.8-.5-.7 .5M97.1 409.9l-.6 .6 .1 1.3 .4 1M139.5 508l.6 1.4-1.2 .8-1 .6M149.9 479.1l1.3 .4-.3 1.1M159.8 438.5l.5-.6 .5 .3M67.9 429.1l.8-0 .3-.7M127.8 452.6l1.3 .3 .6-1-1.3-.8M119.6 457.7l.9-1-.4-.9 .6-.8M89.8 500.8l-.2 .9-1-.3M127.3 496.4l-.3-1.4-.7-0-.8-1.2M116.9 501.4l.3-1.3 .7-.6 1.3 0M96.5 419.6l-.3-.7 .3-.8-.3-1.5M150.5 455.3l.1 1.4 .4 .8-.1 .9M99.1 508l1.2-.2 .3 1.2M151 487.7l-.8-.9 .5-.7 1.1-.6M81.5 511.8l-.5-.6-1.1 .2M132.2 503.2l.9-.4 .6-.6 .7-.7M69.9 485l.9-.4 .8 .4M109.4 467l-.8-.5-.6 .7 .2 1.2M103.9 425.7l.6-.7 .7-.2 .5-.7M136.4 453.1l-.8-.1-1.4 0-1-.4M104.5 433.2l-.2-1.1-.1-.8M142.1 424.5l.8-.6 1.1-.4M71.1 480.2l.2 .7 1 .3 .6-.4M58.2 434.1l.1-1.2 .9-.4 .2-.8M85.7 417.6l.4 1.2 .5 1-.1 .9M105.6 422.5l1.2 .5 .8-1.1-.9-.7M78.1 501.7l-1-.3-.8-.1M74.2 492.7l.7 .3 .6-.6 .8 .6M98.2 446.9l-.8 .6-.6-.5 .1-1.5M109.4 492.4l.6-.7 .1-1.1M89.3 485.3l-.1 1.5-.4 .9M53.1 498.7l.8 .9-1 1M83.7 424l-.5-.5 .2-1.1M74.5 497.9l-1.4 .2-.1 .8-.8 .2M137.4 441.2l.5-.8 1 .2 1.4-.1M128.2 488.1l-.9 .4-.8 1M56.7 515.5l-.8-.1-1.4 .3M142.5 496.7l.1-1.1 .9-.2M66.4 473.5l-1.4 .3-.4-.8M94.2 457.4l.9 .5-.4 1.4M71.9 429.9l.8 .6 1.4-.5M71.1 419.5l-.5 1.1-.3 1.4M80.8 481.3l1.3-.1 .6-.8 .8-.3M106.4 491.3l-.7-.2-.9-.1M141.6 487l.5 .5 .4 .8 1.1 .3M149.8 512.4l-.4 1 .6 .8M96.1 417.8l1.2-.5 .4-1.1M91.7 485.8l.3-1 .2-1.4M92.8 510.6l1-.9 .6 .4M88.7 426.2l-.9 .8-.2 1.4-0 1.1M142.2 514.4l.2-1.2-.8-.1-.8 .3M99.5 487.4l.7-.5 .7 0 .5-1.1M94.2 463.7l-1.1-.7-1.3-0-1.2 0M146.5 425.8l-.6-.5-.8 .1M101.5 435.6l-.8-.8 .2-.7M118.3 420.5l.9 .3 .5-1 .9 0M85.5 424.9l-.1-.9-.3-1.1-.1-1.4M64.2 479.2l1.1-.8 1.2-.4 1 .9M101.6 506.7l-.8-.1-.5-1.4-.6-.6M158.7 431.3l-.7 .5-.7-.3-.1-1.3M97.2 482l-.3 .7 1.2 .7M63.3 417.5l-1.2-.2-1.1 .5-.9-.3M98.2 419.2l1 .3 1 .6 .8-1.2M94.1 462.4l.3 .8 .4 1.3-.7 1.3M82.5 485.5l-1.4 .1-1.3 .7-.7-.5M158.8 476.8l.4 1.1 1.3-.2M129.7 469.1l-1.1 .4-.7 1.1M125 450.4l-1.2 .4-.4 1M79.1 471l-.1 .8 .7 .4 1.1 .6M64.1 470.7l-.4 .9 .3 1.2M56.2 413.7l-.2 1.2 .3 1 1.5-.2M108.1 416.1l-.6 .5-.8 .3-.9 .2M107.4 447.6l-.4-1.4-1.2-.5M87.5 416.3l-.7 .8-1.1 .4" stroke="#66caca" stroke-width="0.75" fill="none" stroke-linejoin="round"/>
<path d="M103.5 513.8l1.2-.1 .4-.6 0-.9M143.2 441.6l-.4-1.2 .1-1.4-.1-1.4M62.6 515l-.9-.5-.9-.1-.3-.8M99.9 495.2l-.7 1.2 1.1 .8 1.1-.6M62.4 494l-.8-.8-.6-.4M149.4 456.3l.5-.6 1-.2 .7 .7M98.4 472.1l-1 .9 .3 .8-.1 .8M111.7 510l-.7-.5-.8-1.2M131.5 446.3l.1 1.1-1 .5-1.4-.5M62.1 447.5l-1-.1-0-.9M117.9 411.5l.7-1 .7-.1 .7 1.3M73.3 503.1l-.9 .7-.7 1.1M155.1 410.6l-.3 .8 .7 .5 0 1M111.5 419.6l-.9-.1-.5-.6M76.2 416.9l.1 1.3-.5 1.3M111.7 427.5l-.9-.5-1.1 .1-.5-.7M150.1 497.5l-.6-1-1.3-.7 .2-1.5M99.6 501l1-.7 .6-.7-.4-.9M155.8 470.9l1.3 .2 .7 1.1 .7 .4M155.7 422.7l.7 .5 .5-.7M98.5 492.6l.6 .5 .4 1.2M154.2 452.2l-.1-.7-.5-.9-.1-1.4M156.8 427l-.9-1.1 .3-.9 1-.4M152.9 432.1l.9-.1 .8-.5M120.4 475.1l.8 1 1.4-.3M151.7 515.2l.1 .6 1.2 0 .8 0M142.5 410.6l-.9-.1-.2 .9-.2 .9M154.3 440.4l-.4-1.4-.3-.7M66.8 413.4l-.6-.6-1.1 .3-.3 1.3" stroke="#9a60c0" stroke-width="0.75" fill="none" stroke-linejoin="round"/>
<circle cx="52.9" cy="476.8" r="1.2" class="gH"/>
<circle cx="54.4" cy="439.8" r="1.2" class="gO"/>
<circle cx="53.4" cy="503.6" r="1.2" class="gO"/>
<circle cx="55" cy="430.4" r="1.2" class="gO"/>
<circle cx="53.4" cy="475.2" r="1.2" class="gH"/>
<circle cx="52.5" cy="511.5" r="1.2" class="gO"/>
<circle cx="52.7" cy="457.3" r="1.2" class="gO"/>
<circle cx="55.2" cy="477.1" r="1.2" class="gO"/>
<circle cx="51.3" cy="443.2" r="1.2" class="gH"/>
<circle cx="52.5" cy="416.5" r="1.2" class="gO"/>
<circle cx="53.1" cy="487.5" r="1.2" class="gO"/>
<circle cx="52.1" cy="499" r="1.2" class="gO"/>
<circle cx="55.1" cy="468.8" r="1.2" class="gH"/>
<circle cx="53.6" cy="423.2" r="1.2" class="gO"/>
<circle cx="49.8" cy="512.9" r="1.2" class="gO"/>
<circle cx="51.2" cy="433.2" r="1.2" class="gO"/>
<circle cx="54.9" cy="489" r="1.2" class="gH"/>
<circle cx="50.2" cy="444.5" r="1.2" class="gO"/>
<circle cx="51" cy="439.4" r="1.2" class="gO"/>
<circle cx="49.5" cy="465.6" r="1.2" class="gO"/>
<circle cx="51.3" cy="452" r="1.2" class="gH"/>
<circle cx="50.6" cy="422.4" r="1.2" class="gO"/>
<circle cx="49.7" cy="501.8" r="1.2" class="gO"/>
<circle cx="54" cy="469.2" r="1.2" class="gO"/>
<circle cx="50.2" cy="426.5" r="1.2" class="gH"/>
<circle cx="50.2" cy="443.9" r="1.2" class="gO"/>
<circle cx="49.8" cy="439.6" r="1.2" class="gO"/>
<circle cx="50.7" cy="431.1" r="1.2" class="gO"/>
<circle cx="53.4" cy="458.6" r="1.2" class="gH"/>
<circle cx="52.3" cy="448.2" r="1.2" class="gO"/>
<circle cx="52.7" cy="492.7" r="1.2" class="gO"/>
<circle cx="51.3" cy="418.3" r="1.2" class="gO"/>
<circle cx="52.4" cy="450.4" r="1.2" class="gH"/>
<circle cx="54.2" cy="422.5" r="1.2" class="gO"/>
<circle cx="54.7" cy="412.5" r="1.2" class="gO"/>
<circle cx="52.8" cy="457.1" r="1.2" class="gO"/>
<circle cx="51.4" cy="503.4" r="1.2" class="gH"/>
<circle cx="53.7" cy="428" r="1.2" class="gO"/>
<circle cx="52.5" cy="474.7" r="1.2" class="gO"/>
<circle cx="49.7" cy="420.1" r="1.2" class="gO"/>
<circle cx="53.1" cy="486.9" r="1.2" class="gH"/>
<circle cx="52.3" cy="454.9" r="1.2" class="gO"/>
<circle cx="52.5" cy="438.1" r="1.2" class="gO"/>
<circle cx="54.8" cy="511" r="1.2" class="gO"/>
<circle cx="52.4" cy="413.1" r="1.2" class="gH"/>
<circle cx="51.9" cy="494.5" r="1.2" class="gO"/>
<circle cx="51.4" cy="422" r="1.2" class="gO"/>
<circle cx="50.6" cy="485" r="1.2" class="gO"/>
<circle cx="53.2" cy="440.8" r="1.2" class="gH"/>
<circle cx="53.2" cy="490.1" r="1.2" class="gO"/>
<circle cx="55.3" cy="497.5" r="1.2" class="gO"/>
<circle cx="52.1" cy="495.2" r="1.2" class="gO"/>
<circle cx="55.1" cy="501.4" r="1.2" class="gH"/>
<circle cx="54" cy="472" r="1.2" class="gO"/>
<circle cx="52.6" cy="499.4" r="1.2" class="gO"/>
<circle cx="53.3" cy="486" r="1.2" class="gO"/>
<circle cx="50.9" cy="420.6" r="1.2" class="gH"/>
<circle cx="51.1" cy="471.7" r="1.2" class="gO"/>
<circle cx="52.9" cy="431.7" r="1.2" class="gO"/>
<circle cx="50.6" cy="509.8" r="1.2" class="gO"/>
<circle cx="49.9" cy="507.3" r="1.2" class="gH"/>
<circle cx="54.1" cy="470.7" r="1.2" class="gO"/>
<circle cx="55.5" cy="481.7" r="1.2" class="gO"/>
<circle cx="49.5" cy="508.7" r="1.2" class="gO"/>
<circle cx="52" cy="506.3" r="1.2" class="gH"/>
<circle cx="54.4" cy="425.4" r="1.2" class="gO"/>
<circle cx="49.7" cy="413.2" r="1.2" class="gO"/>
<circle cx="54.2" cy="493.3" r="1.2" class="gO"/>
<circle cx="50.9" cy="422.7" r="1.2" class="gH"/>
<circle cx="51.7" cy="494.1" r="1.2" class="gO"/>
<circle cx="82.4" cy="420.5" r="1.15" class="gH"/>
<circle cx="83.2" cy="428.2" r="1.15" class="gH"/>
<circle cx="89.1" cy="429.3" r="1.15" class="gH"/>
<circle cx="100.4" cy="431.3" r="1.15" class="gH"/>
<circle cx="110.4" cy="435.5" r="1.15" class="gH"/>
<circle cx="113" cy="437.6" r="1.15" class="gH"/>
<circle cx="112.8" cy="433.3" r="1.15" class="gH"/>
<circle cx="81.1" cy="441.3" r="1.15" class="gH"/>
<circle cx="79.1" cy="441.3" r="1.15" class="gH"/>
<circle cx="64.7" cy="428.9" r="1.15" class="gH"/>
<circle cx="71.4" cy="431.8" r="1.15" class="gH"/>
<circle cx="64.5" cy="449.1" r="1.15" class="gH"/>
<circle cx="66.8" cy="451.3" r="1.15" class="gH"/>
<circle cx="66.5" cy="452.1" r="1.15" class="gH"/>
<circle cx="56.2" cy="452.6" r="1.15" class="gH"/>
<circle cx="126.9" cy="459.3" r="1.15" class="gH"/>
<circle cx="127.9" cy="460.2" r="1.15" class="gH"/>
<circle cx="126.1" cy="466.1" r="1.15" class="gH"/>
<circle cx="117.5" cy="483.4" r="1.15" class="gH"/>
<circle cx="127.8" cy="483.9" r="1.15" class="gH"/>
<circle cx="130.1" cy="485.5" r="1.15" class="gH"/>
<circle cx="114.5" cy="495.9" r="1.15" class="gH"/>
<circle cx="115.3" cy="494.9" r="1.15" class="gH"/>
<circle cx="118.8" cy="495.3" r="1.15" class="gH"/>
<circle cx="113.1" cy="497" r="1.15" class="gH"/>
<circle cx="113.1" cy="496.6" r="1.15" class="gH"/>
<circle cx="132.7" cy="491.7" r="1.15" class="gH"/>
<circle cx="134.2" cy="491.1" r="1.15" class="gH"/>
<circle cx="140" cy="493.1" r="1.15" class="gH"/>
<circle cx="140.6" cy="491.3" r="1.15" class="gH"/>
<circle cx="128.8" cy="500.8" r="1.15" class="gH"/>
<circle cx="124.1" cy="500.4" r="1.15" class="gH"/>
<circle cx="105.4" cy="506.9" r="1.15" class="gH"/>
<circle cx="116.8" cy="504.8" r="1.15" class="gH"/>
<circle cx="116.8" cy="504.9" r="1.15" class="gH"/>
<circle cx="141.4" cy="417" r="1.15" class="gH"/>
<circle cx="145.7" cy="419" r="1.15" class="gH"/>
<circle cx="156" cy="421" r="1.15" class="gH"/>
<circle cx="155.6" cy="417" r="1.15" class="gH"/>
<circle cx="162.2" cy="414.3" r="1.15" class="gH"/>
<circle cx="83.5" cy="418.4" r="1.55" class="gC"/>
<circle cx="82.4" cy="426" r="1.55" class="gC"/>
<circle cx="89.8" cy="426.6" r="1.55" class="gC"/>
<circle cx="91.5" cy="428.9" r="1.55" class="gC"/>
<circle cx="98.9" cy="429.4" r="1.55" class="gC"/>
<circle cx="101.7" cy="434.8" r="1.55" class="gC"/>
<circle cx="108" cy="435.1" r="1.55" class="gC"/>
<circle cx="111.9" cy="435.5" r="1.55" class="gC"/>
<circle cx="80.1" cy="439.1" r="1.55" class="gC"/>
<circle cx="79.3" cy="441.9" r="1.55" class="gC"/>
<circle cx="67" cy="429.4" r="1.55" class="gC"/>
<circle cx="71" cy="429.4" r="1.55" class="gC"/>
<circle cx="53.4" cy="450.5" r="1.55" class="gC"/>
<circle cx="56.8" cy="452.2" r="1.55" class="gC"/>
<circle cx="65.3" cy="451.4" r="1.55" class="gC"/>
<circle cx="68.8" cy="452.7" r="1.55" class="gC"/>
<circle cx="54.5" cy="459.5" r="1.55" class="gC"/>
<circle cx="56.3" cy="455" r="1.55" class="gC"/>
<circle cx="127.1" cy="458.8" r="1.55" class="gC"/>
<circle cx="129.7" cy="457.5" r="1.55" class="gC"/>
<circle cx="125.8" cy="461.4" r="1.55" class="gC"/>
<circle cx="122.5" cy="470.6" r="1.55" class="gC"/>
<circle cx="128.4" cy="465.3" r="1.55" class="gC"/>
<circle cx="108.8" cy="481.7" r="1.55" class="gC"/>
<circle cx="115.3" cy="484.3" r="1.55" class="gC"/>
<circle cx="125.1" cy="482.4" r="1.55" class="gC"/>
<circle cx="127.8" cy="486.3" r="1.55" class="gC"/>
<circle cx="114" cy="493.5" r="1.55" class="gC"/>
<circle cx="117.3" cy="493.5" r="1.55" class="gC"/>
<circle cx="110.7" cy="496.8" r="1.55" class="gC"/>
<circle cx="115.3" cy="496.8" r="1.55" class="gC"/>
<circle cx="134.3" cy="493.5" r="1.55" class="gC"/>
<circle cx="138.2" cy="491.5" r="1.55" class="gC"/>
<circle cx="126.5" cy="500" r="1.55" class="gC"/>
<circle cx="122.5" cy="502" r="1.55" class="gC"/>
<circle cx="106.1" cy="504.6" r="1.55" class="gC"/>
<circle cx="110.1" cy="506.6" r="1.55" class="gC"/>
<circle cx="112.7" cy="509.9" r="1.55" class="gC"/>
<circle cx="114.7" cy="506" r="1.55" class="gC"/>
<circle cx="143.5" cy="418.1" r="1.55" class="gC"/>
<circle cx="154.5" cy="419.1" r="1.55" class="gC"/>
<circle cx="156.6" cy="422.1" r="1.55" class="gC"/>
<circle cx="158.6" cy="410" r="1.55" class="gC"/>
<circle cx="160.2" cy="413" r="1.55" class="gC"/>
<circle cx="81.8" cy="421.8" r="1.45" class="gO"/>
<circle cx="86.9" cy="423" r="1.45" class="gO"/>
<circle cx="80.7" cy="429.4" r="1.45" class="gO"/>
<circle cx="77.8" cy="435.7" r="1.45" class="gO"/>
<circle cx="102.3" cy="427.2" r="1.45" class="gO"/>
<circle cx="106.3" cy="425.2" r="1.45" class="gO"/>
<circle cx="108" cy="431.1" r="1.45" class="gO"/>
<circle cx="59.1" cy="449.9" r="1.45" class="gO"/>
<circle cx="62.5" cy="454.4" r="1.45" class="gO"/>
<circle cx="56.3" cy="457.5" r="1.45" class="gO"/>
<circle cx="130.4" cy="462" r="1.45" class="gO"/>
<circle cx="131.4" cy="469.2" r="1.45" class="gO"/>
<circle cx="128.4" cy="463.3" r="1.45" class="gO"/>
<circle cx="111.4" cy="482.4" r="1.45" class="gO"/>
<circle cx="112.7" cy="489.6" r="1.45" class="gO"/>
<circle cx="126.5" cy="488.9" r="1.45" class="gO"/>
<circle cx="126.5" cy="496.1" r="1.45" class="gO"/>
<circle cx="117.9" cy="500" r="1.45" class="gO"/>
<circle cx="111.4" cy="503.3" r="1.45" class="gO"/>
<circle cx="116" cy="507.3" r="1.45" class="gO"/>
<circle cx="119.2" cy="505.6" r="1.45" class="gO"/>
<circle cx="149.5" cy="420.1" r="1.45" class="gO"/>
<circle cx="155.6" cy="414" r="1.45" class="gO"/>
<circle cx="77.8" cy="432.8" r="1.55" class="gP"/>
<circle cx="86.4" cy="419.8" r="1.55" class="gP"/>
<circle cx="104.5" cy="428.9" r="1.55" class="gP"/>
<circle cx="128.8" cy="465.3" r="1.55" class="gP"/>
<circle cx="116.6" cy="485" r="1.55" class="gP"/>
<circle cx="128.4" cy="493.5" r="1.55" class="gP"/>
<circle cx="116" cy="504.6" r="1.55" class="gP"/>
<rect x="21" y="410" width="25" height="104" fill="#474747"/>
<circle cx="29.9" cy="413.4" r="4.4" class="gS"/>
<circle cx="29.9" cy="420.2" r="4.4" class="gS"/>
<circle cx="29.9" cy="427" r="4.4" class="gS"/>
<circle cx="29.9" cy="433.8" r="4.4" class="gS"/>
<circle cx="29.9" cy="440.6" r="4.4" class="gS"/>
<circle cx="29.9" cy="447.4" r="4.4" class="gS"/>
<circle cx="29.9" cy="454.2" r="4.4" class="gS"/>
<circle cx="29.9" cy="461" r="4.4" class="gS"/>
<circle cx="29.9" cy="467.8" r="4.4" class="gS"/>
<circle cx="29.9" cy="474.6" r="4.4" class="gS"/>
<circle cx="29.9" cy="481.4" r="4.4" class="gS"/>
<circle cx="29.9" cy="488.2" r="4.4" class="gS"/>
<circle cx="29.9" cy="495" r="4.4" class="gS"/>
<circle cx="29.9" cy="501.8" r="4.4" class="gS"/>
<circle cx="29.9" cy="508.6" r="4.4" class="gS"/>
<circle cx="44.6" cy="413.4" r="4.4" class="gS"/>
<circle cx="44.6" cy="420.2" r="4.4" class="gS"/>
<circle cx="44.6" cy="427" r="4.4" class="gS"/>
<circle cx="44.6" cy="433.8" r="4.4" class="gS"/>
<circle cx="44.6" cy="440.6" r="4.4" class="gS"/>
<circle cx="44.6" cy="447.4" r="4.4" class="gS"/>
<circle cx="44.6" cy="454.2" r="4.4" class="gS"/>
<circle cx="44.6" cy="461" r="4.4" class="gS"/>
<circle cx="44.6" cy="467.8" r="4.4" class="gS"/>
<circle cx="44.6" cy="474.6" r="4.4" class="gS"/>
<circle cx="44.6" cy="481.4" r="4.4" class="gS"/>
<circle cx="44.6" cy="488.2" r="4.4" class="gS"/>
<circle cx="44.6" cy="495" r="4.4" class="gS"/>
<circle cx="44.6" cy="501.8" r="4.4" class="gS"/>
<circle cx="44.6" cy="508.6" r="4.4" class="gS"/>
<circle cx="22.4" cy="410.8" r="4.4" class="gS"/>
<circle cx="22.4" cy="417.6" r="4.4" class="gS"/>
<circle cx="22.4" cy="424.4" r="4.4" class="gS"/>
<circle cx="22.4" cy="431.2" r="4.4" class="gS"/>
<circle cx="22.4" cy="438" r="4.4" class="gS"/>
<circle cx="22.4" cy="444.8" r="4.4" class="gS"/>
<circle cx="22.4" cy="451.6" r="4.4" class="gS"/>
<circle cx="22.4" cy="458.4" r="4.4" class="gS"/>
<circle cx="22.4" cy="465.2" r="4.4" class="gS"/>
<circle cx="22.4" cy="472" r="4.4" class="gS"/>
<circle cx="22.4" cy="478.8" r="4.4" class="gS"/>
<circle cx="22.4" cy="485.6" r="4.4" class="gS"/>
<circle cx="22.4" cy="492.4" r="4.4" class="gS"/>
<circle cx="22.4" cy="499.2" r="4.4" class="gS"/>
<circle cx="22.4" cy="506" r="4.4" class="gS"/>
<circle cx="22.4" cy="512.8" r="4.4" class="gS"/>
<circle cx="37.1" cy="410.8" r="4.4" class="gS"/>
<circle cx="37.1" cy="417.6" r="4.4" class="gS"/>
<circle cx="37.1" cy="424.4" r="4.4" class="gS"/>
<circle cx="37.1" cy="431.2" r="4.4" class="gS"/>
<circle cx="37.1" cy="438" r="4.4" class="gS"/>
<circle cx="37.1" cy="444.8" r="4.4" class="gS"/>
<circle cx="37.1" cy="451.6" r="4.4" class="gS"/>
<circle cx="37.1" cy="458.4" r="4.4" class="gS"/>
<circle cx="37.1" cy="465.2" r="4.4" class="gS"/>
<circle cx="37.1" cy="472" r="4.4" class="gS"/>
<circle cx="37.1" cy="478.8" r="4.4" class="gS"/>
<circle cx="37.1" cy="485.6" r="4.4" class="gS"/>
<circle cx="37.1" cy="492.4" r="4.4" class="gS"/>
<circle cx="37.1" cy="499.2" r="4.4" class="gS"/>
<circle cx="37.1" cy="506" r="4.4" class="gS"/>
<circle cx="37.1" cy="512.8" r="4.4" class="gS"/>
<rect x="229" y="409.2" width="145.3" height="107.1" fill="none" stroke="#b5b5b5" stroke-width="0.9"/>
<path d="M259 415.1l.4 1.2-1.1 .7M326 472.3l.5 .6 .7 1.1M319.9 480.6l1.1 .9 .8 .4M293.8 414.4l.8 1.3-.2 1M321.6 476l-.1 .7-.7 .8 0 1.4M330.5 508.5l.1-1.2-1.1-.3M271.1 434.8l-.6 .7-.6-.4M284.8 509.3l1.1-.4 .9-.2 1.2 .5M255.2 464.1l-.3-.8-1-0-.4-1.4M328.8 497.2l.9-.6 .7-1.2M304.8 509l0 .8-.2 1.3 .4 .7M273.9 507.1l-1.3 .6-.8-.4-1-.7M284.8 488.4l1.3-.1 .5-1.4M236.5 515l-.6 .8-.7 0-1.3 0M285.5 501.2l.2 1.5-.8 1.1-1.1-.8M286 467.5l-.8-.1-.8 .5M312 438.8l.2 .8-1 .6M308 450.9l1 1-.1 1.5M286.3 482.1l.4-1.4 .6-1.1M307 474.8l-1.1 .6-1.2-.5 .1-.7M331.7 414.4l.7 .4 .9 .2M235.5 431.1l1.2-.4 .3 .9M306.1 418.4l1 .5 1.2 .5M300.2 470.6l.9 .1 1-.2 .3 .7M300.1 479.4l-.6 .6-.4 1.1M305.2 460.8l.8 .1 .6-.5 .5-1M259.6 510.2l.9-.8 .5-1.1M273.7 482.2l.8 .9 .4 .7 1.4 .4M293.8 473.6l-.3 .9 .6 .8-.6 .8M255.9 461.3l-1.1-.8-.7-.3-.7-1.3M296.7 450.8l.9 .2 .2 1.4M332.4 501.3l-.7-.6-.7-1.3M317.6 508.6l.5-.8-.7-.5M291 456l.4 1-0 1.5M231.3 445.8l.6 1.2-.7 1.2M241.3 505.3l.8 .6-.4 .8 .3 1.3M246.5 455.7l1.3 .1 .9-.2M280.5 444.5l.1 1.1 1 .7M300.7 498.7l-.1 .9-.8 .9-.7-.4M229.8 443.5l-.3 1 .3 1.3M286.5 456.8l1 .2 .7-1.2-.8-1M282.9 441.4l.5 .7-.1 .9M309.6 423.4l.7 .7-.3 1 .2 .8M318.2 461.2l.4 1.3 .6 .3M323.5 512l.2 .8 .5 .9M260.9 449.8l-.7 0-1.2-.1-.5 .7M240.4 503.8l-.5 .6-.6 1.1-1.3 .4M247.8 413.5l1.1 .5-.3 .9-1.2 .7M330.4 513l.5 1 .5 1.3M326.6 423.3l.3 1.1-.8 .9-1.4 .2M280.2 413.8l-1.2-.7-1 .7M255.4 505.9l-.9-.5-1.5 .1 0 .8M273.5 508.8l.7-.5 1.3 0M326.6 499.7l.3-1.3 .1-.8-.7-.5M240.4 496.5l-.9 .2-.9-.3M231.1 470.9l-0 1 1 .8 .6 .6M263.8 507.3l.5 .5 1 .8 .8-.5M289 423l-.4-.8 .4-1.4-0-.7M270.9 509.6l-1 .1-.9 .3M334.4 500.7l-.1-.8-.9-.6-1.5 .1M316.7 418.1l-.9-.1-.8-.7 .5-.7M264.1 418.1l-.2 1.3-.6 .9M243.4 506.4l-.8 .1-.2 1 1 .2M281.6 460.1l.8 .9-.5 1.3M317.7 472l-.8-0-1.1 .9M279.1 459.9l.8-1.2-.3-.8M252.5 512.6l.1 1.3 .3 1.4 1.5 .2M307.8 456.3l.4 1-.2 1.3M252.4 480.4l-.9-.9-1.3 .5M258.8 412.6l1.3 .2 .6-.5-.3-1M256 414.9l.5 .9 .9-.4 1 .1M230.4 452.2l1.2 .1 1.3-.6 .8-.5M307.4 473.5l.7-.5 1.1 .5M260.9 494.7l.9-.9-.7-1M326 512l.2 1.5-.9 .6 .3 1M284.9 507.2l.8 .3 .8 1.2M302.3 427.2l-.9-1-.7-1.3-.6-.7M251.1 492.5l-.8-1.1 .9-.9M326.6 493.8l1.2 .8 1.3 .1 .9-.1M320.8 492.6l.3-.9 .9-.9M309.7 487.3l.4-.8 .2-1M281.5 487.4l-1-.2-.7-.2-.3 .8M286.2 458l.3-.9 .1-.7 .3-.9M285.9 473.7l1.2 .2 1.3-.1 1-.2M282.8 460.3l1.4 .3 .6 .9-.4 .8M297.1 421l.3-.7-1.2-.6-.5-.5M307.3 467.5l1.1 .3 .2 1.2M273.6 481l.6-.5 1.2 .4 1.2 .5M235 488.8l-1-.9-.8-.9-.9 .7M317.6 489.3l-1.1-.6-1.1-.7-.7-.3M338.2 479l-.7-.8-0-1.1M240 466.1l-.2 .8 .8 .7M326.3 491.9l-.5-1-1.4-0M233.4 483.7l-1 .3-.7 .5M276 429.9l.4-.9 1.2-.8M325.7 484.6l1 .9 .8 .4 .3 .7M329.1 503l-.2-1.3 .5-.8M291.8 470l1-.3 .5 1.2 .9 .1M255.8 410.5l-.8 .4-.4 .8M332.5 502.6l.6-.8-.6-.9-1.3 .1M325.4 466.5l-.7 1-.9 .7 .8 1M319.1 480.5l.5-1.3 1.2 .2 .8 1M327.2 464.7l-.1-1.3-.1-1-.5-.8M309.2 436.2l1.3 0 .3-.8-.8-.4M246.1 459.8l-1.3-.5-1.3 .2-.7 1M254.6 506l.1 .8 .9 .2M327 418.5l1 .9 1 .3M266.8 440l.7 .7 1.1-.1 .8 .1M297.9 452.1l-.6-.6-.6-1.2 .2-1.1M245.3 490.6l1.1 .3 .7 .3M334.8 413l.5-1.3-.9-.5M333.2 416.6l.4-1-0-1.2-.5-.6M259.1 411l1.4 .2 .8-.9M330.6 491.5l-.2 .7-.7 .8-.6 1.2M297.4 481.6l1.4-.3 .5-1.2-.8-.7M271.3 476l.8-.1 .5-1.2M306.8 471.1l.5-1-.4-1.4 .1-.7M235.2 482.2l.1 1 1.2 .7 1-1.1M234.4 481.6l1.1-.3 .9-.5 1.3 .4M233.2 511.1l-.4-.8-.7-.3 .2-1.1M269.1 474.1l.3-1.3-0-1.4 1-.5M298.7 507.4l-1.2-.7-1.4-0-1.2 .8M333.1 512l.8 .1 .6-.7-1.1-.9M253.2 459.2l-1.3-.2-.1-.7-1.2 .1M268.8 487.3l1 .8-.8 1.2-1.2 .8M268.5 505.6l.2 1.1-1 .8-.1 1.3M254.1 515l-.8-.3-.7 .1-.5 .5M273.5 460.5l-.1 .8-1 .1-.8 .4M259.7 419l.9-.3 .2-1 .2-1.5M295.3 492.4l1.1-.4 .7-1.1M327.7 454.8l-.5 1.1 .3 .8-.2 1.3M293.4 425.5l1-.9 .5-.8M273.8 485.9l-.2 1.3 .9 .5 .9 .6M330.5 503.2l1-.1-.1-1.1-1.1-.4M286.2 482.2l1.4 .3 1.3 .7M311.4 457.5l-.8 .2-.3 1.1M265.4 413.4l.8 .6 .5 1M241.4 457.8l-1.1 .5-.9 .5-.1 .8M318.4 465.6l.4-1.4-.1-.8 .4-.9M307 485.4l.1 1.2 .3 1 .5 1.2M240.7 430.7l.6-.8 1.2 .1M249.6 514.9l.9-.3 .6 .5M281.9 478.9l.7-.5-.4-.8M282.2 418.9l-.2 1.1-.8 1.3-1-.5M303.1 463.1l.4 1.1 .3 1.4M308.3 508.2l1.2-.5 .4 .9M234.4 472.3l-.1 1.1 .4 1.4 .4 .7M259.6 410.8l.9-.5-.3-.5M254.5 500.7l.8-.2 .9 .7 .7 1M277.7 498.4l-0 1.1-1.2 .4M304.6 417.3l.4 .8 .7 .7M230 421.6l.3-.8 1.2 .2M290 468.8l.3 .7 .5 .5M243.7 486.1l.5-.7-.6-1.3-.4-1.4M338.9 426.4l-.7 .4-.5-.6-.2-.9M310 469.3l-.8 1.2-0 1.1M255.5 510.3l.6-.5 1 .4M313.5 494l-.1 .9 1 .3 .8 .5M308.4 424.3l-0 .8-1.1 .5 .2 1.2M309.1 515.5l-.6-.9 .1-1.1M231.9 483.9l.6 .8 .8 1.2M290.5 474.1l-.4 .9-1 1-1 .8M250.9 459.8l1.2 .4 1 1.1M313.9 493.1l-.8 .4-.7 1-.8-.3M314.8 467.6l.5-1 .8-1.3 1.1-.6M274.2 508.4l.1 1.2 1-0 .9-.2M245.9 449.3l.7-1.1 .5-.8 .5-.9M298.6 450.6l-1.2 .1-.2-.8-.6-.8M237.6 458.9l-1 .8 .1 .8 .9-0M318.5 499.4l.8 .4 .9-1.1 1-.9M278 422l.6 1 1.1-.3M289.8 481.4l.9-.2 .7 1.3M269 424.2l-.9 .6 .4 1-.2 1.3M307.4 496.7l.5-1.1-.1-1M292.7 512.3l-.7-.7 .4-1-.6-1M252.1 429.4l.7 .6 .2 .8M262.9 505.6l-.3-.6-.9 .2M298.5 438.7l.3 1.3 1 .2 .8 .6M234.3 487.1l.6-.6 .6-.8-.2-1.2M322 484.9l-1-.4 0-1.1 .4-.7M297.3 467.6l-.7-.7-.8-.3M313.2 480.2l-.7-.5-.9 .2M234.7 476.8l.7 1-.3 .8 .8 1M330.8 412.1l.2-.7 1.4-.2 1.1-.2M245.9 477.9l.6-1.2 .6-.6 1-.6M324.1 441.1l-.7-.3 .1-.8M275.4 459.5l-1.3 .3-.8-.5-.7-.7M234.7 432.2l.8 .7-.5 1.4-1.1 1M281.9 442.7l.9-0 .8 .1 1-.2M332.9 513.6l-1 .6-.2 .8M250.5 466.8l-1-.5-1.2-0-.2-1M281 414.4l.9-.6 .8 .4M323.6 423.9l.5 .8 .9-.3M332.2 451.1l-.4 1.3 .1 .9 1.2 .2M301.4 450.9l.1 .8 .8-.1 .5 1.4M233 411.2l-.7-.9-1.2 .6M306.7 500.8l-0-1.3 .7-.4M326.7 466l-.1-1.3-.2-.8-1.4-.2M270.6 483.9l.4 1.3-.2 1.3-.4 .7M268.2 505.3l-.4-.6-1.1 .4M285.9 436l-.9 .5-1.1 .4-.5-1.1M272.6 515l-.9 0-.2-1.3-1.2-.2M289 477.8l.5 .5 1-.2M338.4 491.6l-.7 .1-.9 1.1 .2 .8M244.5 453.6l.9-.3 .5 .9M279.9 492.5l.4-.6-.3-.7-.5-.7M261.5 432.9l1.2-.4 1.4 .2 .3-1.1M273.4 464.4l-.9 1.1-.8 .1-1.1-.7M315.3 468.4l.3-1.2-1-.4M302.8 417l-.4-.9 1.3-.6M238.4 452.8l-.7-.2-1.1 0M287.1 437l.5-.7 .9-.6M230.1 437.2l-.3-.7-.3-1.2 .9-1M327 513.3l1.2 .3 1.1 .8 0 .9M283.5 505.2l.8 .9 1.3 0 1.2-.7M284.4 471.3l.8 .9 1 .8 .5 .7M275.5 509.6l.5 .7 .3 1.1 .9 1M309.5 479.2l-1.3-.5-.9 .4-1-1M239.3 427.7l-.1 1.1 .1 1.2 1.2 .2M265.8 445.4l-1.1 .1-.7 .4-.4-.9M312.5 452.3l.1 .9-.3 1.2M303 481.4l1.2 .5 .8-.9 .2-1.4M252.9 421.9l.8 1.2 .3 1.2-.1 1.1M237.5 436.8l.7-.7-.6-1.1M325.2 434.4l.2 .7 .9 .6 1.5-0M263.6 421.1l.6-1 .6-.4M297.7 430.9l-1.3 .4-.8 .2M294.3 477.3l1.3-.4 .6 .9M318.3 452.1l.6 1.3 1.4-0M281.6 496.3l.2 .7-.7 1.2 .2 1.1M247.6 415.4l-1.1 .5-1.1 .9-1-.4M310.8 436.4l-.6-.4 .4-.6M326.7 485.1l1.3 .1 1.3-.4M235.4 438.4l1.3 .3 .6-.7M334.8 510.9l1.5-0 0-1 .5-.8M295.7 471.8l.9-1.1-.1-1.1M233 425l.8-0 .2 1M246.7 442.2l1.3 .2 .8-.9 .3-1.3M288.2 424.2l-.9-0 0-.9M303.2 440.9l.3-1-.8-.5M318.3 420l-1.1 .9-.7 .6-1-.4M315.9 473.9l1.3 .4 .7-.9M327.6 504.2l-.9-.1-.2-.8 .7-.2M280.2 418.9l-.8-.3-.8 0-1.2-.6M318.1 422.2l1.3-.2 .2 .9M261.3 465.9l-.9 1-1.3 .5-.6 .5M258.1 423.8l.2 .8 .1 1.2M299.6 473.5l.9-.8 0-1.3M328.8 494.2l-.7-.8-.9 .7M321.6 442.8l-.8 .6-1.2 .1-1 .4M232.2 412.4l.9 .1 .8 .1 .1 .7M234.6 410l1.2-.2 1.1 0 1.1 .6M281 505.5l-.3-1.3 0-.9-1.3-.3M301.5 477.6l.8 .4 .3 1.3 .9-.2M258.3 457.5l-.8 .1 .2 1.2 .7 .3M306.2 424.9l-1-1.1 .2-1.2-.2-1M319.2 443.7l-.6 1.2-.8-.2-.4 .6M310.8 442.8l.2-.9-.9-.3M304.1 454.3l-.5 .5 .5 .5M258.6 501.3l-.6 1.1-.8 .4-1-.5M237.9 479.8l.9-1.1 1.2 .3M249 468.2l-.4 .9 .5 1.2 1.3-.6M263.6 443.1l.5-1.2-.7-.3-1.4 .2M294.6 477.7l.7 .6 .6 1M334 432.5l.1-1.3-1.1-.9M296.5 469.8l-.5 .8-1.1-.6-.9-.8M242.2 414.8l.3-1.1 .2-1.1 .1-1.1M295.8 418.4l1.4 .3-.1 1.4 .4 1.1M295.6 426.9l.4-1.1 1.4-.4 1.1 .4M230.2 433.3l1.3 .4 1.1-.4M282.5 417.8l.6 .8 .9 .9M312.9 491.9l-.4-.7-.9-.3-.5-1.4M274 489.2l.2 .8 .8-.2M317 504.9l-1 .4-.2 .7-1.1 .1M330.7 482l-.1 1.5 1 .5-.3 .9M255.7 506.6l-.9-.5-0-.8M335.3 413.7l.4-1.2 1-1 1.1-.3M249.8 458.5l-1.1 .3-.4 1.2M299.3 489.3l.3 1.3 1.4 .1 .3-1.2M296.5 425.4l.2-1.3 .8-.7 1.4 .2M279.3 430.1l-1-.1-1-.7M301.5 474.8l-.8 .1-.3-1M244.6 412.2l.4 .9 1.2-0 0 1.3M237 486.5l.7-.6 .2-1.2 1-.2M272.8 485.1l-.3-.8 .7-.4 .7-.8M318.1 417.4l-1.2-.6-.7 .4M283.1 500.3l1.2-.9-.1-1-.8-.4M307.9 468.5l1 .3-.3 .8 .2 1.2M259 468.7l0 .9-.5 1.1M337.5 414.9l-1.1-.2-1.3 .4-.4 1.2M298 499.2l-.7-1.1 .6-.7 .8-.1M245.7 460.8l.8 .5-.1 1.3-.9 .9M269.9 442.9l-.5-.8-.7-.5M275.9 473.7l-.7-.7 .8-1M327.3 424.6l-.7-.6 .2-1.2M326.8 448.1l.9-.1 .6 1M324.3 458.3l.7 .8 1 .9M272.3 429.1l.8-.4 1 .7M268.9 440.2l1 .3 1.1-.2-0-.9M299.5 484.9l.8-.6-.3-1.1M290 441.1l-.6 .4-.2 1.4M261.7 472.8l.1 .9 .5 .5M232 513.5l.9-.8-.5-1M321.2 493.5l-.5-1.2-1.2 .1-.8-.6M280.3 434.4l-.5 .7-1.1 .6M293.5 461.2l-1-.2-.3-.7-.5-.5M326.4 487.2l.8-1.1 1 .4M245.4 466.5l.4-1.4-.8-.5M250.5 432.9l-1.5-0-.9-.1M297.9 475.3l-.7-.1-.8-0M290.1 444.7l.6-.7 .8 .4 .4 .6M274.8 489.8l-.1 1.2-.7 .2-.4-.6M328.8 464.6l-0-1 .9-.4M301.7 508.2l-1.2-.3-.5 1M231 513l.1 1-1 .5M305.4 442.8l.8 .9 1 0 .9-.5M263 512.2l-.7 .4 .1 .8 1.3 .5M238.9 419.3l-1-.7-.5-1.1M296.5 449l-1-.7-.7-.4-.2-.9M335.6 478.2l-.2-.8-1-.2-.1-1M289.3 424.5l-0-.7 .9-.6M292.5 444.8l-0-1.5-1.1-.7M284.2 474.2l-.5 .8-.5 .8-1.5 0M285.1 510.6l.6 .6 .8-.3 .3 .7M310.2 497.1l-.2-.7 .4-.6 1.2-.4M263 502.1l.4-.9 .5-1M285.6 496.2l-.4-.6-.7-.5 .1-1M262 502.2l-.4 .7-1 1.1 .1 1M244.4 456.3l-.7 0-.4 1M319.1 439.9l.3 1.4 .5 .7M295 497.2l-1.1 1-.2 .7M248 460.1l-.5 1.3-.7 1.2-1-.5M275.5 422l-1.1-.9-.7-.1-1.2 .1M323.1 498.7l1-.3 .8 .2 .3 1M272.1 506.3l-.6-.6-.7-.6M337.5 494.1l-.7 .1-.3-1M251.1 459.9l-1.2-.2-.1-1.1 1-.9M242.6 441.5l.6-.7-0-.8M295 427.1l-.7 .3-.2 1.4 1.1 .8M283.7 414.9l-.6 1.3-.7 1-1.1-.2M338.3 423.5l-.7 1.3 1.1 .8 .3 .9M320.2 474.3l.9-1 .7 .4M302.8 444.2l1.2 .2 .9-.2 .2 1M241.8 448.9l.6 .5 .5 .5M261.6 427.9l.4 .8 .7 .7M254 425.9l-.7-.6-.8-.8-.1-.9M235.9 430.4l-.1 .9-0 .8-1 .3M293.2 429.6l-.2 1.3-.2 1.1M288.1 497l1 .3-.1 1.3M333.9 480.2l0-.8-.5-.8M330.9 439.1l.4 1.2 .5 .6 .6 1M306.1 436.4l-1.1 .9-.8 1.3 .4 .8M276.4 416.1l-0 1.4 .5 .5M276.4 416.8l.8 1.2 .1 .7-.6 .4M231.1 491.2l.9-.3 1.3 .3 1.1-.2M275.3 451.1l-.6-.4 .4-.8-.9-1M307.8 457.2l.4-.9-.4-.7 .6-.5M231.7 412.7l-1 .5 .5 1.1-.2 .9M300.1 412.9l-.7 .7-.9 .4-.7 .5M252.2 465.9l-1-.3-.5-1M238.8 430.7l-1.4-.1 .1-1.4M265.3 487.2l-1-.6-.5 .7M303.7 502.2l-0 1.1 .4 .6M276 432.9l.7 .6-.4 .9 .1 1.4M315 437.1l-.1 .9 .3 .7M247.9 483.6l-1-.5 .1-1.2 1-.8M285.2 415.2l-.4-.9-.9-1.2-.8 .5M235.7 447.7l1.1 .5-.4 1.1-1.3 .8M337.9 460.6l.3 1-1.2 .4 .1 1.3M297.3 414.6l.4 1-.6 1 0 1.4M287 474.4l-.5-1.1-.8 .2M247.4 451.9l-.7 .5 .8 1 1.1-0M285.8 413.8l.7 .1 1 .8M286.6 511.4l.8 0 .8 1.2M258.3 455.6l-.8 .5-1.2-.3M244.7 462.2l-1.4 .5-.8-.6-.8-1.3M313.3 428.6l-.7 1.1-.8-.3 .2-.9M248.8 500.8l.2-1 1.2 .1 1.1 1M305.8 472.4l-.5 .6 .2 1.4M287.4 492.2l.7 1 .7-.5M332.9 494.1l.8-.4 1.1-.9M258.6 463.1l-0-.8-1.3-.2-.3 1.1M306.7 443.5l1.2-.7 1.2 .7M314 446.4l-.3 1.3-1.2 .8-1.3 .1M237 488.9l1.1 0 1 .7 .7-.7M295.8 494.2l.9-1.1 1.2 .2M243.8 470.5l.3-1.2 1.1 .2 .7-.9M274 463.3l.4-1.1-.2-1.5M289.5 421.7l.7-.8-.2-.8 .5-.8M238.2 510.2l1.1 .8 .7 .4 .3 .8M277.3 437.6l1.3-.6 1.1-.5-.6-1.4M259.6 442.4l1.2 .1 1-.5 1.1 .8M274 487.9l.8 .2 1.4-0M261.4 490l.8 .1 1-.3M229.6 446.7l1.5-0 .8-.6M336.3 473.3l-.5 .8-.8 1M287.3 456.9l.7-.1 1.2 .7M274.1 462.8l-.1 .9 1.2 .1M230.2 508.6l-.5 .8-.2 .5 0 .7M299 464.6l-1-.3-.8 1-.3 1.1M301.6 447.8l.8-.8-.5-1.2M241.8 440.7l-1.1 0-.1 1.4M287.4 469.7l.9-.8 1.1-.2 .7 .6M330.1 422.7l-1.4 .1-1.3-.5M308.5 430.7l-.7-1.1-1-0-1 .8M279.7 480.4l.7 .7-.3 .7M319.3 425.2l.8 .3 1.1-0M245.1 433.2l-.2-1.1 .7-.5M293.7 491.3l-.5 .8 .1 1.2M311.7 476.1l-.4-.7 .2-1M255.9 495.8l.7-1-.8-1M295.1 473.6l-.9 .3-1.1 .2-.6-1.1M245.3 439.8l-.5-1 .9-1.2M267.8 415.1l1.2-.4 .1-1.3M316.7 417.7l.3-.7 .7 .1-.1 .9M325.9 495.5l-.8-.3-.7 .4-.7-.1M256.8 440.8l-.3 1.2-1.1-.1-.3 .9M331 510.2l1.1 1-.2 1.4-1.4-0M330.1 445.9l.3-.9 1 .2M253.2 431l-.8 .7-1.1 .8 .5 .7M298.4 505.9l-.9-.4-1.2-.8 .3-1.1M301.4 461.3l-.5 1-.9 .3-.7 .2M316.8 506.6l-.7 .8-1.1 .9M328.4 503.8l-.6-1.3-1.1 .1-.9 .5M250.5 437.8l-.4-1.4-.8 .1M301.3 417.9l-.9-.6-1.3 .1M270.2 504l.9 .3 1-0 1.1-.1M326.2 483.5l-1.3-.3-1-1.1-.3-1.2M310.5 458.9l-.5 1.4 .5 .7 1.1-.1M283.1 433.9l.6 1.3-.6 .7-.6 .4M266.2 460.5l.1-1.1-.5-.6M249.6 423.1l-0 .9 .2 .8 .4 1.4M252 458.8l-1.2-.3-.6 .4M242.9 433.6l-1.3-.6-.9-.9-1.2-.7M325 429.6l-.5 .7-.5 .9M305.4 499.4l1.5-.2 .1 .8M295.5 450.1l-.7-.4-.9-.3 .3-.8M279.5 442l.3-1-.7-.6-.4-1M324.5 496.2l-.6-.9 .1-.8-.2-1.3M258.6 450.6l-.4 1.4-.7 .6-.8-.3M336.5 501.2l1.4 .5 .7 .5 0 .7M338.8 420.3l-1.3-.3-.4 1.2 .7 .3M247.7 446.2l-.4-.9 .9-.8 1.3 .4M249.7 425.2l.1-.7-.2-1.1M289.8 462.6l-.4-.9 .8-1.1 .9-.1M230.2 434.1l-.5-.6-.2-.5 .5-1.2M333.2 502.3l.3 1.1 .8 .9 .9 .8M331.1 492l1.2-.2 .9 .2M298.4 472.3l-0-.7 .6-1.1M250 478.9l-0-1 1-.1M239.1 514.3l-.7-1.2-.1-1M261.9 462.1l.1-.8 .4-1.4-.7-1.2M309.9 504.1l-.8-.6-.4-1M335.6 499.7l.8 .4 .9 .6M285.4 495.2l.6 .4 1.2 .5 .6-1.3M248.8 476.1l-.5 .6-.5 .6-1.2 .9M305.2 513.7l.7-.7 1.3-.1M250.5 468.2l-.2-.7-.7-.5M328.8 512.9l.8 .5-.6 1.3 .9 .5M278.1 456.6l.7-.5-.2-1.2 1.1-.2M247.3 507.6l-.7 .3-1.2-.9M290.2 415.9l.2 .8-.7 .8-1.4-.3M282.6 499l-.3 1.1 .3 .8M283.7 417.8l-.6 .6-.9-.4-.7 .7M330.7 475.7l-.4-1.3-1.5 .2-1-.3M275.7 453l-1.1-.2-.5 1.2-.9 .8M298.9 448.5l1.1 .2 .5 1.2-1.1 .9M276.2 508.8l.7 .7 1.2 .5M251.1 465.5l.9 1.1 .7 1-.5 1.1M317.2 491.1l-.6 .7 .1 1.2-1.1 1M294.9 436.6l-.3-.8 .8-.3 .4-.8M279.9 433.5l-1-.1-1.2 .2 .1 1.3M333.9 424.3l.4-1.4 1.2-.3M258 478.3l1.1-.5 1.2-.3 1 1.1M330.4 467.9l-1.2 .7-1.3-.7M296.2 414l1.5-.1 1.2-.2M292.8 470.9l-1 .9 .2 1.3M337.6 410.3l.6-.5 .8 .3 0 .2M282.5 410.3l1.3 .4 .1 .9M265.8 461.7l-.9 .1-1.2 .4 .4 1.4M301.4 459.2l.6 .7-.7 .7M326.9 443.1l1.3 .6 .8 .3M274 480.8l-.3 .8-1.1 .3M280.1 415l-.9-1-1.4-.5M338.8 487.6l-.5-.6 .4-1.4M308.8 422.9l.6 1.1 .2 1.1 .4 1.4M337.6 510.6l-.2 .7 .5 .7M337 422.9l1-1-.8-.7M297.4 431l1.2 .5 .4-.7M283.3 422.4l.4 1-1 .6-1.5-.2M231.3 432.9l1.3-.4 1 .2M323.4 477.4l-.3 .9 .3 1 1.3 .8M260.7 437.3l1.3 .6 .5 1.2M276.2 458.9l1-1.1 .4-1.3M278.1 501.1l1.1-.6 1.4 .4 .9-.2M246 487.2l-.1-1.4 .6-1.3M307.8 413.9l.4 .8-.7 .5M287.3 422.3l1.2-.8 .7-.1M232.2 414.7l.2-.7 1.3 .3 .7 .6M326.9 490l.3-1.2-1.2-.6M240 506.4l-.9 .7-1.1-.1M235.7 496l.3-.9-.5-1M327 446.9l.3-1.2 1.4 .2 1.3-.1M263.4 475.6l1.2 .6 1.2 .1M316 446.3l-1 .3-.7-.7M321.8 468.8l.6-.7 .7 .4M305.1 424.5l-.4-1.3 .4-1.2M330.2 476.6l-.5-1-.8-0-.8-.6M266.6 488.1l.5-.6 .7-.9M319.2 501.7l.1 1-1 .3-1.2-.9M322.4 444.4l.8 .8-.9 .8M240.5 452.5l.2-.7-.1-1.1M239.6 420.6l-.2 1.4 1 .8M300.9 453.4l0-.8 .5-.7M266.9 452.4l.8 .3 .2-.8M234.3 494.8l-.1-1.1-.4-1.2-.8 .1M281.2 456.1l-.8-.3-.5-.9M279.4 499.1l-.7-.2-.9-.5-.4-1.4M234.7 426.8l-.5 .6-1.1 .1M257 409.8l.9-0 1.1 .4M232.6 432.6l-1.3-.8-.9-.7-.8-1.1M277.2 456.4l-.9 .4-.8 .1-.6-.6M238.9 430.1l.7 .3 .5-1.3 .7-.2M262 500.2l-.5 .5-.5 1.3 1.1 .4M245.6 442.1l-.2 1.3-1.2 .6-.9-.3M245.2 515.7l1-1 1.1 .7M304.4 484.3l-1-.8-1-1M258.9 437.4l-1.1-.9 0-1.3-1.2-.9M329.9 426.4l.7-.6 .7 .2M260 484.5l.5-.8 .5-.5M291.2 514.8l-.6 .9-1.2 .1M338.2 498.4l.8-.1 0 1.3 0 .6M245.6 421.6l.9-0 .7 1.2M252.3 466.7l-1-1 .6-1 .8-.9M258.9 417.6l-1.1 .4-.3-.8-1 .4M310.4 492.5l-.1-1.2 .4-1 1-.8M246.5 484.6l0 1.4-.1 1M315.8 455.2l.7 .4 .8 .1 .9-.1M303.8 497.6l.3-1.1 1-.6-.7-1.2M310.1 484.5l-.4 .6-.3 1.2-1 .2M240.4 513.1l-.3-.9-1.1-.9-.9 .6M288.3 430.4l-.4-.6-1.2 .4M245.3 411.2l-1.2 .9 .3 1 .5 1.1M260.1 413.1l0 1.4 .9 0-0 1.5M288 480.6l.2-.8-1.1-1M276.7 485.8l.8 .6-.8 1.1-.8 0M263.4 506.1l1.3 .2 .7 .3 0 1M285.2 472.9l1.3-.1 .9-.4 .8-.8M251 507.1l-1.3-.4-1.1-.8M281.1 490.7l1.2-.3 .8 1.2M267.4 511l.8-.4 1-1M275.5 474.5l.8 .7 .9-.5M315.4 505.9l-.3 1.1-.8 .2-.6 .9M301.7 501.7l-1-1-1.4-.3-.2-.7M326.7 471.4l-.2 .7-.4 1.4M305.7 481.9l-.3-.7 .6-.8M241.7 497.5l-1.3-.5-.2-.8M320 501.4l.9 .2 .9 1.1M279.2 466.5l.8 .8-.1 1.3 .2 1.1M252.3 414.5l1.2 .7 .9 .5 1 .3M321.1 460.9l-1-.9-.9-.6-.6-1.2M241 512.2l.7 .4 .8-.7M269.5 420.6l.8-.6-.5-.7M261.7 421.8l-.8 .1-1.3 .1-1 .4M304.5 494.8l-1.3 .2-.3-1.2M250 451.5l-1.2 .2-1.2 .1M290.3 494.4l.8 .4 1 .2M292.7 500.9l.9 .1 .6-.5M292 483.8l-.9-.2-.5 .5M242.3 491.2l-1-.1-.6-.7-.1-1.2M257.6 511.5l-1.1-.3-.9 .7M283.3 481.4l-.3 1-1 .6M298.6 449.5l-1-1-1.3-0M244.9 414.3l-.7 .9-1 .7M241.8 446.1l-.7-.8-1.1 .7-.1 .7M238.3 418.3l.4 1 1.4 .5 1.1 .2M310.2 458.8l.7-.4 1.1-.2 .8-.3M237 482.8l1.1 .9 .3 1.1-1 .6M278.2 448.6l.7 .4 1-1M318.2 424.2l-1.2-.8 .2-.9M268.2 498.3l.2 1.3 .2 .9M294.8 446.2l.9-1 1.5-.2M288.5 447.1l.6-1.2-.4-1.3M299.9 477.8l-0 1.3 1.2 .1 .1-1M271.2 428.1l-.4-1-.4-1.3 .5-.5M292.3 505.3l.2-.9 1.3-.3 .3-.9M301.6 427.3l.1-.9-.6-.7-.5-1.3M320 409.8l1.4-0 1.3 .3-0 1.5M247.3 496.5l1.3-.2 1.4-0M288.8 410l.6-.2-.1 0M291.8 451l-.7-.4-.3-.9-.5-.7M245.7 460.5l-.7 .3-1.2-.7-.6 .5M328.5 481.6l-1.4 .2-1.4-.5M303.3 515.7l.6 .1 1.1-.7M257.4 512.1l1.3 .6 .7 .3 .8 .4M267.5 499.3l-1 .9-.9 .4-1 1.1M279.5 449.6l1.1 .4 1.4 .5M305.4 430.6l-1.1-0-1.1-.7M264.9 446.4l.1-1.4-.3-1.3 .6-1.1M322.1 465.5l.2 1.3-.2 .9M234.1 452.5l.2 1.1 .7 1M323.8 493.2l.2-.9 .3-1.5M337.3 461.2l-1.1-.3-.4-.9-.7-.1M327.1 454.1l1.3-.5 1.5-.1 1 .1M313.3 417.4l-.9-.4-1.2-.6M241.9 504.6l.5-1.2 .6-.9 1-.9M281.7 457l-.8 .7-.8-.3-.5 1.3M249.7 483.8l.4 .8-1.1 .9M315.3 421.6l-.1 1.3-.2 .8M249.6 415.4l1.1 .2 .9-.2 .3-1.3M262.3 502.1l.7-.3 .4 .7M305.3 417.5l.3-.7-1.2-.5M291.8 463.5l1.1 .6 .4 1.3M276.9 459.4l-1 .6-1.1-.4-.4 .8M266.4 459.5l-.8-.6-1 .9-1.1-.5M285.5 492.9l1.2-.9-.1-.7-1-1.1M238.2 505.6l.8 1 1.4-.3 .2-1.2M325 469.7l1.1-.6 1-.2M308.8 426.2l.2-.8-.3-.6-1.2 .6M258.4 476.7l.8 1 .9-.3 .7-.3M259.3 416.5l-.7-1.3 .7-.6M338.1 464l-.3 .7-.7 .6 .4 1.4M268 503.6l.2 1-.7 .6M314.4 455.3l-1-.1-.8-.2-1-.3M329.6 478.5l-.7-.8-1.3-.5-.8-.4M265.8 475.3l-1-.2-.5-1M292.3 512.2l1.3-.5-.3-.7M248.6 461.6l.6-.6 1.2-.2M272.7 467l.1 1-.7 1M300.9 444.8l-1.2-.6-.4-1.1 .5-.6M259.6 468.4l-1.1 .6-1-.7M337 419.5l.7 .3 1.3-.1M305.4 454.6l1.3 .2 .3-1.1M271.3 507.7l.6-1 .5-.8M259.7 490.5l-.3 .8 .8 .6-.3 1.1M306.9 479.6l-1-.2-.8 1.2-.8 .6M296.3 498.6l1-.6-.3-.9-.6-1M294.6 483.2l.5 .9 .4 1.4-.6 1.1M266.6 471.1l.3-.8 .7-.6M237.7 471.4l-.4 .8-1.2 .4M281.9 431.2l.6 .8-.7 1M268.7 414.7l-.7 .2-.8 .7-.8 .5M305.2 492.2l-1.2-.4-.9-.9-1.1-.2M328.7 462.3l.4-1.4 .8-.7M235.2 433.3l.8-.3 .5-.8 .9-.8M300.6 457.3l.4-.8-.4-1.3 .1-1.2M254.5 514.6l.4-.7-.8-1-.5-1M314.8 487.3l-.4 .7 .2 1.1-1 .3M305.5 414.6l.6-.6 .4-1.4 0-1.2M299 507l-1.2 0-1.3-.4-.1-.8M255.7 459.7l1-.9-.4-.7-1.2-.1M246.8 483l.6 .9 .4 .9M270.6 471.5l.6 .8 1.1 .7M259.8 485.1l.7-1.2 .9-.6M254.8 472.3l.3 .8 1.2-.2M277.7 418.5l-1.1-.2-.8 .2-1.1 .9M275.6 483.1l-1.1-.2-1.1-.1M331.3 505.1l.4-.7 .4-.6 1.2-.3M232.3 514.3l.8 .9 .7-.5M283.4 437.2l-.9 0-.1 1.2M271.6 513.6l.4-.9-.6-.5M298.6 462l-.1 .7-.6 1.2M254.3 487.5l-.5-1-0-.9M288 484.6l.2-1.1 1.2-.5 .9 .1M258.4 451.4l.3 1.2-.9 .7-.6 .7M320.1 511.6l.8-0 .1 1.3M319.6 460.7l-.3 .7-.4 1-.9 .8M335.7 477.7l-.3-.9-.8-1.1M262.1 416.5l.1-1.1-.4-1.1M249.8 434.3l.9 .3 .5-1.2M237.1 469.2l-.7-.8 .5-1.2 .5-.7M308.8 418.2l-.6 .5-1.4-.1-1-.5M293.4 481.4l-.1 1.2 .4 1.3M293.5 425l1.2 .4 .5-.6M266.7 468l1-.5 1.4 .1 .9 0M230.3 473.7l-.2-1.1-.5 0 0 1.3M278.9 493.8l-.3 .9-.7 .3-1.1 .3M245.4 431.8l1.4-.1 1.2 .2M296.4 422.6l1.1 .6 .1 1.1 1.5 .2M313.6 444.8l.1-1-.3-.7M255.2 464.8l-1.1-.2-.2 1.1-.2 1.4M289 469l-.9-.5-1.2-.5M236.3 466.8l.6-1.1 .8-.4M273.8 462.2l-.3 1.2 .6 1 1-0M326.7 507.4l1.2-.5-0-1M255.4 513l.9-1.2 .9 .5M250.2 420.1l-1.1 .1-1 .7-.6 .8M259.4 424.5l.8 .2 .7 .9M260.1 431.2l-1.3-.3-1-.7-.1-.9M235.5 475.1l-.6-.4-.7-.5M322.9 435.3l-.8 .2-.2 1.3M311 466.9l.6 .6 .2 .9 .4 1.3M291.5 472.4l-.4-1.2 .1-.8M335.4 459.7l-.9 .6-1-.1M273.9 424.3l-.9-.2-.4 .6 .6 1.1M320.1 421.8l1.1 .6-.2 .7M308.9 453.7l-.5 .6-.2 .7M314.1 410.9l.2-.9 0-.1M332.5 507.7l1.1 .3 .5 .7M324.1 482.2l-1.2-.3-.3 .8M273.8 500.3l.8 .5 .8-.3 .4 1.1M246 463l.5 .5-.4 1M278.3 469.5l-.4 .7-.4 .6M295.8 438.4l-.2 .7-1 .4M335.4 504.4l1 .1 1 .7 1.1 .1M291.3 421.8l-1.3 .5-1 .6-.9 .4M247.9 476.9l.9-.4-.2-1.4 1.3-.6M294.5 480.7l.7 .8 .8 .2M323.5 420.8l-.8 0-.3 1M307.6 470.1l-.7-.6-1.3-.5M281.8 432.4l1.4-.1 1.4-.3 1.1 .1M290.4 459.8l-.2 1.1 .2 1.2-.8 .9M275.9 505.9l1.1 .6 .9 0 .1-1.3M283.1 417.5l.8-.5 .9-.9-.2-1.4M255.6 414.3l.5 .7 .8 .7-.3 1M305 482.7l-1.4-.2-.7 .2M322.5 466.1l-1-.9-1.2 .1M291.7 414.8l1-.3 .9-1 .3-1M331.6 422.7l.2-.7 1.1-.3" stroke="#e65252" stroke-width="0.75" fill="none" stroke-linejoin="round"/>
<path d="M326.1 451.9l.5-.9 .6-.7M250.4 413.7l-.6-.5-.8 .2M276.6 447.4l-.8 .9 .7 1.2M313.4 421.8l-.7-1.2-.7 .2M288.8 502.9l.5 .9 1.1 .4 .8-1.1M237.1 445.8l-.6 .9-.3 1-1 .2M335.2 424.4l-.5-.6 .2-1.1 1-0M247.1 420.4l.4 1.2-.4 1.2-.9 .7M315.4 443.9l.8-.6-.6-.9M290.9 425.3l1.2-.8 1.1 .1 .7-1.3M238.4 459.5l.3 .7-.7 1.1M329.3 492.6l-1.2 .7 .1 .8-1 1.1M324.6 452.7l-1.2 .8-.4 .6M269.1 412.6l1.3-0 .8 0 .5 .6M234.9 453.1l-.4 .9 .3 .9 .9 .3M295 423.1l.4 .8 1.4 0 0-1.2M273.3 420.5l-.3-.7 .7-1.1 .8-.5M316.9 413.1l-.6-1-1.2-.2-.9 .7M287.5 419.4l.4 1 .1 .9 .4 1M234.7 508.1l-.7 .6-.4 .9M242.4 476.4l1 .7 .7 .2 .2 .9M281.7 435.9l1.3 .2 .8-.2 .6 .4M301.2 411.5l.9-.3 1.1 1M237.9 446l.5-.7 .3-1M245.7 485.6l-.8-.7-.8-.8M276 484.4l1.3-.5 .8 .6M287.5 476.9l.1-1.2 0-.7M331.2 482.4l-.7-0-.2-.7-.9 .3M290.5 470.3l.2 .8-.1 .9M299.2 444.4l-0-.7-.4-.8M236.6 469.1l-1-.1 .1-1.5 .6-.6M283.2 427l1-.3 .5-.8M314.1 416.4l-.1-1.4 .9-.2 .8-1M281.1 452.5l1-1 1.3 .3 .4 .6M331.8 454l.9-.7 .9-.5M234.4 414.2l.8-.6 .7-.3 1.1-.3M271.6 427.3l.9-.2 1.5 .1M298.9 431.3l-1.4 .3-.5 .8-.8 .6M230.1 494.3l1.2-.4 .6 1 0 1M325.6 482l.6 1.1-1 .7M300.7 487.2l.6 1.1 .1 .8M277.9 489.6l.1 1.4-1.1 .7M285.6 422.4l-1.1 .8-.7 0-1.4 0M244.4 434.4l-.7 0-.7-.3-.7 .9M235.8 456.4l.8 .1 .8-.9 .1-1.3M252.2 451.3l1.2 .5-.2 1.1M244.8 425.9l.6 .3-.1 .7 .6 .5M267.9 508.5l1.3 .3 .6-.9-.4-.7M295 457.8l-1.2-.6-.5 .7M249.1 472.4l-1-.4-.6-.9M279 491.4l-.1 .9-1.1 .9 .6 .7M306.9 462.6l1.4-0-0-1.3 1-.8M323.3 475.3l1.4 .1 .4-1.2-.4-.9M292.4 441.1l.1 1-.4 .8-.3 .8M323.9 506.8l-.7-.5-1.4 .3M272 416.7l.4 1.4 1 .3 .2 1.2M278.3 442.9l-1-0-.6-1M262.7 473.6l.3 1.2-.7 1.3 .2 1.2M324.8 416.6l-1.5 .3-1.3 .7M328.7 447.8l.8-1 1.4-.1 .7 1M291.7 448.8l-.3-1.1 .7-.6M251.6 461.5l-.4-.6-.9 .4 .3 1.3M331.4 454.7l-0-.9-.6-.9M304.1 467l-.4 .8-.2 .7M233 427.1l.6-.6 .1-1.5M313.1 457.8l.4 .7-.2 .9-.2 1M282.6 512.1l-1.1 .4-1.1-.1-1.2 .4M264.8 501.2l-.4-1.4-.8-1.1M296.3 418.4l1.3-.4 1.3 0M291.2 480.5l1 .9 .6 1.1 .1 .8M278.4 483.1l-1.3 .1-.9 .7M279.5 489l.8 .3 .1 1.2 .9 .6M238.2 460.8l1.1 .2 .6 .8M302.8 476.8l-.6 1.3-.7 .7 0 .7M327.5 445.2l.2 .8 1.1 .4 .3 1.1M317.2 433.8l-.8-1 .6-1-.1-1.1M320.3 488.3l.7 .6 1.4 .3 .2 1.3M312.8 411.6l1.3 .7-.2 1.4M262.7 502.1l.4-.6 .7-.7 1.3-.6M325.6 430.3l.2-1.1-1.4-.3M270.2 439.6l-.6 .4-1 .4-.5-.8M320.8 443.9l-.7-.3-1.2-.3-.9-.2M236.9 411.5l.7 .6 1-1.1M321.5 462.7l.5 1.3-1 .9 .2 1.2M283 417.6l1.1 .4-.1 .9 1 .2M310.8 435l-.3-1.4-1-.3-1 .8M288.6 452.6l1-.5 .3-1.1-.1-1.2M271.6 425.8l.1-1.3-1.4-.4M330.6 460.7l-.7-.2 .1-1.4M304.9 494.5l-0 1.1-1.3 .1-1.4-0M309.7 512.3l-.4 .6-.9 0M259.6 471.6l-1.4 .4-.7-.6M254.3 507l.9 0 .9 1M283.8 432.4l-.4-1.2-1.4-.3-.2-1.1M323.2 469.4l.6 .8-1.1 .8M231.5 512.6l.3 .9 .4 1.4 .7-.2M247 429.9l-1.2 .1-.4 1.1M327.3 479.4l1 .7-.1 .9-.4 1.2M252.4 437.2l-.6 1-.7 1.3M282.6 488.4l-1.3 .5-1 .9M333.7 415.2l-.9 .9-.8-.9M288.3 487.1l.9-.8 .7-1.2M326 435.2l-1.1-.2-.2-.7-1.3-.3M246.5 451.6l.7-.3-.1-1.4-.3-.8M240.6 415l.3 .9 .3 .9M337 415.4l-.8 1.1 .5 1.1M298.1 511.8l-.7 .3-.5-.8M295.2 409.9l-.6-.1-1.2 .5 .2 1.2M301.9 483.4l-.1 1-.6 .4-.5 .9M305 514.5l-.2 1.2-.7 .1M312 480.1l-.6-.5 .4-1.1M249.4 493.6l-.4-.6-.5-.9M278.2 423.8l-1.1-.3-.5 .8M272.6 468.9l-.9 .5-1.3-.1-.8-.6M245.8 419.8l-.2-1 .6-.6M320 432.6l-.7 .7-.9 .9M271.6 418.8l.5 .9 .6 1.3-.5 .5M292.4 413.9l-.4 .6-.6-.4 .6-1.3M257.9 426.8l-.6 1.4-.7 .1-.7-1.2M337.8 475.7l.8-.7 .4 .4M253.3 514.1l.4 .6-.5 .6-.8-.2M304.5 493.9l-.7 .3-1.1 .7-.8-.7M320.1 462.5l-.9-1.2-.3-1.4-.9-1M273.3 494.6l-.8-1 .4-1.4M235.8 471.5l-.4 .6 .8 .6 .4 1.3M333.5 444.8l-.7 .2-.4-.8M329.7 462.3l1.1 .5 .5 .9 1.3 .3M289.7 434.7l-.4 1 .9 .4 .8-1.2M322.5 459.5l1 1.1 .5 .7 .8-.4M270.7 413.5l-.7 .3 .2 1.5M229.8 491.6l1.2-0 .1-1.1M312.9 479.9l.1 1.4-.2 1.2M244.8 413.8l-.5 1.1-0 .9-.4 .9M308.4 426.6l1.1 .2 .1 1.1-1.5 .2M276.3 455.5l.8-1.2-.9-.6-.7-.8M306.6 444.6l.9-.5 .5-1.4 1.1-1M289 445.2l-1.3 .7-.9 .5-.8 .4M274.9 461l-1-.4-1-.9 .2-1.4M260.3 490.5l-.3-.8 .9-.6 1.5-.1M249.2 460.4l-.8 .4 .6 1.2 1.2-.3M279.1 435.5l-.2-1.2-1.1 .2-1-.5M303 510.3l1-.5 .8-.6 1.2-.1M248.8 430.1l.7 .3 .8 .7M335.1 467.5l1 .9 .2 .8-1.2 .5M335.3 428.7l-.4-1-0-.9-.2-1.3M330.6 487.6l1-.2 1.1 .9-.7 1.2M323.5 450.9l.4 .6 1.1-.6 .8-.3M328.9 515.1l-.1-.8 .7-.7M333.5 477.1l1-.7 .3-.7M296.5 441l.8-.7 1.2-.1M286.8 485.6l-1.3-.7-1.3-.4M270.6 476.4l-.7 .9-1-.1-1.4 .3M302.3 477.1l-1 .7 .2 .8 .7-.1M329.7 442.6l.1 1.3-.1 1.3 .6 .8M263.1 438.1l.4 1 .8-.1M255.1 487.1l.5-.6 1-.7M317.1 498.3l.4-1 1-.9M296.1 503.2l.3-1.2 1.1-.3 1.1 .5M336.4 422.1l-.6 1.2 .9 .8M286 421.4l0 1.4-.6 .8M291.3 487l-.4-1.2-.3-.9-.3-1.3M311.6 504.5l-.2-1-.8 0M311.6 494.9l0-1.4 .9-.2M313.1 493.4l.9-1.1 1.2-.8M276.2 476.4l1-.5 .7-1.2M234.4 448.8l-.3-.7-.2-.9-1.4-.4M275.5 458.6l.1-.8-1.2-.6-1 1M242.5 492.8l-.1 1-.1 1.2M287 420.7l-.1-.8-1-.4-1.2-.8M323.8 514.7l.8-0 .9-.3 .5-.6M296.1 509.6l-.8-.2-1.1-.4-.3-.7M305.2 483l-.8-.9-.1-.8 .6-.8M249.3 431.3l.9-.4 .8 .5M255.4 513.4l-.8 1-.7 1M338.4 486.9l.5 .8-.4 .8M292.6 455.3l-.2-1-.9-.5M287.2 439.1l.4 1-.7 1-1 0M253 462.6l.5-.6 .6-1M317.3 513.9l.5-.8-.6-.5M276.1 506l-1 .3-.7 .6-.7 1.2M333.8 466.6l-.8 .8-.8 .6M279.5 506.5l.4 1-.8 1.1M288.3 435.8l.1-1.1-.9-.6 .4-1M233.2 444.3l-.2-1.2 .8-.5 .6 .5M273.2 441.1l.8-.4 .9-.2 .5 .8M302.5 480.7l-1.3-.5-.8 .2-.7 .9M309.9 451.6l1.1 .2 .8 .5M293.7 494.1l1.4-.2 .7-.2 .7-1M242.3 411.4l1.3-.6 .7 .4 .6 1.1M297.1 494.1l-1-.3-.4 .8-.6 1.1M240.1 441.3l.1-.8 .7-.2 .6 .4M274 488.4l-0-1.4 .9-.9M270.6 497.4l-1.3-.4-.6-.7 .2-.7M303.7 459.8l-.1-.8-.5-.5-1.5-.3M235 433.8l0 1.2-1 .6M238.3 492.8l-1.2 .5-.8-.1M283.2 425.8l-.3 1.1 .7 .5 .9-.2M315.1 447.6l.1 1.3 .9 1.1M302.5 451l-.8-.9 .2-.7M242.6 492.1l.9 0 .4 1.1 .3 .9M268.2 487.8l1.1 .4 1.4-.4 0-.9M295.2 436.1l1.3-.3 .9 1 1 .4M271 452l-1.2 .4 0 .9-1 1M338.7 446.7l-.4 1.2-.3 1.1-.7 1.3M277.8 497.2l-.7 .7-1.2-.7M273.8 499.6l-0 1.3 0 1-0 1.3M246.8 501.4l1.1 .3 .1 .9 .9 .9M290.7 439.3l-.1-.7-.2-.8M256.4 410.8l1.2 .3 1.1-.1M255.1 413.4l.3-.7-.7-.8M286.1 448.4l.3 .8 1.1-.2M294.5 468.5l-.3 1-1.3 .1M333.3 437.2l.8-1 1.4 .2M334.1 505.7l.7 .1 .8-.2 .8 .7M259.5 442.4l-.3 1.4-1 .9-.1 .8M254.4 510l0-.7-1-.1-.1-.8M259.3 432.8l-1.4-0-.6-.7M311.5 485.6l-.2 1.4-.4 .9M296.2 480.7l-1.1-.2 0-1.3-0-.7M334.4 458.1l.5-.7 .2-.7M247.3 474.2l-1.3-.5-.8-.5-1.1-0M254.3 503.8l-1.1 .4-.5-1.3M267.3 492.1l-.9-.5-.6 .6M301.4 488.7l.1 1.5 .1 1.3-1.2 .7M335.3 445.6l-0 1.4 1.1 .4M319.1 429.8l-1 .4-.7-.6-.9 .8M290.6 491.5l-1.2-0 0-1.2M260.2 455.3l-1.4-.1-.3 1.2M268.1 440l.6-.6 .9 .4M277.9 419.4l.9-.1 .1 1.1M249 492.1l-1.1 1 .5 .7M336.5 461.2l1.3 0 .1-1 .5-1.3M250.8 445.7l-.8 1 .8 .8M297.3 460.4l-.6 .8-0 .9M261.6 428.2l.8-.1 .3 1.3M313.9 509.3l-1-1.1-1.1-.2M252.2 468.2l-.4 .9-.7 .4M243.6 495.3l-.8 .4 .2 1.1-.5 .8M236 485.7l-.8-.9-.3-1.1M259.1 446.1l1.2-.7 .9 .4 1 .3M294.7 422.5l-.7 1.1-1-0M279.9 463.2l-.8 .7 .5 1.4M316.8 512.5l-.8 .4 .1 1.4M253 470.4l-.7 .7 .5 .7M322 504.3l1.5 .1 .6 .4M326.3 515.5l-.2-.8-.6-.3M254.9 464.2l.3 .8-.8 .9-1.2 .6M287.4 483.6l1.2 .1 1-.1M256.5 441.5l-1.3-.4-1.2-.5M297.3 417.1l.5 .7-.1 .8-1.3 .1M305.6 472.4l1 .8 .7 .1 .3 .7M273.1 470l-.9 .4-1.2-.1M292.3 421.2l-.4 1.1-0 1M312.6 451.8l-.3 1 .9 .6M287.4 435.4l.9-.4 1 0 .1 .9M261 486.9l-.1-1.1-.3-.6M286.3 497l.8 .5-.1 1.3M275.6 429.9l-.3 1 .8 .4M327.2 488.2l-.2 1.2-.8 1.1M293.7 468.2l-1.1 .9-1.2 .4M287.4 493.1l-1-.3-1.2-.8-.5-1.2M331 487.1l.5 .9-.9 .6M246.1 453.2l.4 1-1.2 .6-.9 .8M235.1 487.2l-1.1-.4-.7-.2M333.1 432.3l1.2-.1 .6 .7M243.1 422.6l-.7 .4-.5 1-.8 .5M299.8 429.3l-.9-.7-0-1-.9-.5M309.9 510l-.7-.4 .5-1.1M300.7 468.8l.9 .4 1.3 .3 .3 .6M264.5 505l1.3 .1 .8 .6M267.8 436.4l-.1-.7-1-1.1M259.9 510.4l-.2 .8-1.3-.1M242.4 418.1l.8 .2 1.2-.6 .7 .3M236.1 469.7l1-.7 .9 0M306.6 457.7l-1-.5-1 .8-.3 .9M255.4 444.7l.5 .6-.7 1.2M274.8 498.5l-1.2 .1-1.1 1-1.3-.3M251.7 449l-.3 1.1 .7 .3 .8 .6M292.1 508.8l.2-.8 .1-.8 .5-.6M265.6 501.8l.7-.5 .1-1.5 .4-1.4M319.9 471.9l.4 1.1-.6 1M312.2 486.9l-.3 .7-.2 1.2M264.4 499l.7 1.1 .9 0M250.4 439.7l0 .8-1.1 .5-1.2 .7M334.2 480.6l-1.1-.5 .3-.7-.9-.7M249.2 450l.5 1-.3 .7M283 436.9l-1.1 .6 .1 1.4 .7 .3M237.1 463.7l.2-.9 .1-.7M272.3 478.8l-.9-1-.2-1.1 .7-.6M328 446.6l.1 1.4 .8 .4 1.3 .5M276.1 486.5l.1-.8-.6-1M250.8 503.6l-.2 .7 .3 1.2M250.1 461l1.1-.9 1.4-.3M336 444.2l-.5 .5 .1 .8M295 466.9l.2 .9-.7 .7-1.4-0M254.3 500.3l.7-.8 .9-.4M313 464.1l.6-.8 .8-.3M323.7 501.2l.7-1.1 1 .2 1.1-.1M320.7 476.4l.6 1.1-.7 .7M230.1 484l1.1 .9 1.2-.9M331.2 475.7l-1.2-.6-.8-.8 .6-.9M245.7 473.7l-.3-.8 1.3-.6 0-1.4M318.7 501.1l.8 .7 .4 .9 .8-.1M313.2 434.8l-1.2 .8-1 .5-.9 1.1M236.8 433.3l-.3 1.4-.4 .6 .2 1.4M323.2 456l1.2-.2 .4-.9M325.4 460.9l-.4 1.2-.8 .5M249.1 481.2l1-.4 .8-1-.9-1.2M256.1 430.2l-.8-.8 .5-1.1 .4-.6M317.4 504.7l-.5-.9-.5-.5 .2-1M274.6 477.9l.9-1.2 1 .2 .6-1.1M309.5 496.1l.3 1.3 .6 .7M309.7 506.1l.8-.3 .2-1.4M249 461.5l.4 .9 .8 .8 1.3-.4M234.1 451.4l-.4-1.2 .7-1.1M286.3 435.2l-1-1-.7-.4M285.4 438.4l-.4-1.1-.8-.1M287.5 501l1.2 .3 1.4-.3 .3-1.1M272 420.9l-.8-1-1.3-.8M288.3 415.3l-1.1-.5 .1-.7M249.4 500.3l-.4-.9-.7-.3M285.7 430.7l.7-.9 1.2-.1M310.5 476.6l-.1-1.3 .2-.9M316.4 501.2l.7-0 1.1-.4 1.4-.6M322.7 499.3l.3-1.3 .9-.5M265.9 476.8l-1 .4 0 .7-1.1 .7M276.8 422.2l-.1-1.1-1.1 .1-1 1M284.4 501.8l-.6-1.1-.9 .2M257 443.6l-.8-.9-.8-.8M247 503.4l-0-.8-1.2-.4M320.2 452.6l.4 .8 .9-.3 .9 .9M293.4 508.6l.8-.1 .7 0 1 .9M264 478.1l1.1-.4 .3-1M324 511.4l-.4-1.1-1.1-.7M236.4 448.7l.9 .2 .7-.9-.8-.8M306.1 507.1l.7-.8 .7-.4M261.4 439.1l.6 1 1.4-.5 .5 1.1M301.8 457.9l1.4-.2 1 .7M279 425.4l-1.3-.5-1.5 .1M234.7 464.3l.8 .4-0 .8M307.4 459.1l.7 .4 .9 .1M330.3 449.6l-.3 1.3-.2 1.1M309.6 444.5l.9 1 .9 .7M238.8 511.2l.7 .8 1.1 .5 .7 .6M261.7 466.6l-.7-1-1-.9 .5-1.3M230.9 465.7l.8-.4 1.3 .7 .6-.8M251.9 423.6l-.2-1.2-.4-.9 .4-.7M246.3 412.6l-1.2 .4 .2 .9M243.1 511.7l.1-1.3-.7-.5M270.3 427l1.5 .1 .9-.8 .8 .7M308.8 500.2l.1-.8-.3-.6M244.4 468.9l.2 1.2-1.1 .3M275.8 421.4l.7-.5 .6-.8 1.3 .6M277.6 431.3l1.1 .2 .2 .9 .9 .2M276.3 431.1l1.2 .7 1.1-0 .6 .6M248.7 434.3l-.4-.7 .1-.8 .9 .1M314.1 477.8l-1-1-.5 .6-.3 .7M298.5 460.7l1.3 .3 .6 .8M337.6 437.9l.6 .8-0 1M283.3 442.6l1.3-.4 .2-.9M281.5 441.2l.8 .9 1.2-.7M330.7 482.9l-.8 .3-1.1 .6-.8 1.2M326.7 466.7l-.6 .5-.7 .5-.7-.6M235.8 423.6l.6-.4 .1-.8 .5-.9M293.9 456.8l-.3-1.4-1.2-0-1.2-.6M320.2 464l.4-1.1-.1-1M284.6 433.4l.4 .8 1.2-.3M234 418.1l-.2-.8-1.1-.2-.7 .2M272.3 466.4l-.1 1 .8 .3M329.9 458.2l1.1 .2 1-.2M313.9 486.9l-1.1-1-.9 1 .2 .7M303.4 503.6l.5-.8-0-1.2 .5-.5M231.7 513.4l.1-.8 .2-1.3M275.8 509.5l-.6-.7 .4-1.1M246.5 483.9l-.5-.9-1.4-.6M319.2 459.9l-1.5-.2-.8 .5-.9 .5M245.4 418.9l1.5-.1 .8 0 1.2-.6M266.7 437.5l-.3 .8-.7 .6-.8 .7M281.5 478.2l-0-.8 .7-.5M239.7 412.8l-.5-.5-.4-.6M308.4 504.4l.7-.5 .6-.9M241.4 457.1l-.3 .7-.2 .9 .4 .6M264.1 455.8l-.4 1.3 .5 .5-.1 .7M247.8 456.1l-.5 .5 .4 1.2 .6 .4M287.6 487.3l-.5-.5 .2-1-1.1-.4M267.7 417.2l1.3-.1 .3 1.3-1.4 .4M317 466.8l.6 .6 1.2 .6M304 454.4l-1.2 .6-.9-.8M242.9 457.3l.7-1.2 0-.9M308.8 474.9l.7-.3 .6-.8M270.4 490.8l.1 .9-.4 1.2-.6 .7M284.6 416.4l-.3 1-1 .8M236.7 481.9l-.5 .8-1-.6-1.1 .5M266.4 475.4l.7-.3 1.1 1-.3 1.2M291.8 496.5l.8-.8-.2-1M237.9 432.1l.4 1.4 1.3 .6M295.2 450.9l.9 .6 1-.6M238.3 434.5l.9 1 .2 .7-1.3 .4M253 491.7l-.7 1.1 .6 1M236.9 424.9l-.6-.7-1-.3M264.6 470l1 .4 1-.2 .9 1.2M273.8 456.1l-.5-.5-.6-.8M294.8 410l.4 1.4-.6 .4 .1 1.1M314.7 449.4l-.8 .1-.6 .5-.8-.3M300.3 485.1l1.1-.5 .8-1.3M302.6 509.7l.7 .9 .2 1.2M325.1 479.2l-1.2-0-.9 1M322 452.1l-.8 .8 .4 1.1M285.4 459l.6-.4 0-.7M282.5 512.2l1.2 .7 .9 .3 .7-.9M301.4 464.6l-.8-.9-.1-.7 1-.7M239.7 460.7l1 0 .2-1.2-1.3-.7M310.6 474.1l-.2-1.3-1.4 .3M267.8 433.9l-.5-1-1.1 .2-.6 .5M261.3 512.6l1.2 .9 .4 1.2M267.1 500.8l-1-1.1-.9-1.1-.4-1.4M289.6 482.5l.7-.2 1.3-.1M256.4 448.2l.7 .5 .7 1.2M304.8 463.4l.9-.1 1.3 .2 .4 .6M330 414.7l.1-1.1 .4-.8 1.1-.4M235.9 513.9l-.7-1.2-1.1-.7M258.2 429.9l-1.5-.1-.8 0M279.3 486.4l-1.3-.7 0-1.1M312 486.9l-1.2 .1-1-.9-1.1 .3M234 411.3l-.3 .9 .9 1.1-.5 1.1M278.2 457.4l.7 .6 .9 .5M321.1 464.5l1.1 .5-.6 1.4-.6 1M297.3 488.9l-.7-.4-.8-0-.5-1.1M276.4 419.9l-.3 1.3-.9-.1-.4 1.4M298.4 448.8l-1.3 .1-1-.2M272.6 449.9l-.7 1.1-.2 .9M230 505.6l1.1 .6 .8 .4M330.4 462.2l1.1-.7 1 .3 .5 1.2M280.6 430.9l-1 .3-.4 .6M259.2 445.2l1.3 .1 .2-.8M259.2 477.6l-.1-1.2-.7-1.1-.4-.6M260.7 423.4l-1-.5-.5-.8M261.7 502.5l1.1-.7 1.1 .5M321.8 438.9l.2-1.2 .2-1.3M297.1 457.8l-.5-1 1.1-.8M253.6 463.6l.9-0 1.1-.3M276.2 475.7l-.8-1.1-0-.7 1.2-.4M298.2 429.2l-1.2 .1-1.3-.1M276 429.1l-1 .8-1 .2-1.3-.6M261.2 428.8l-1 1.1-.9 .2M318.1 427.2l.7 .7 .7-.7M260.5 444l.5-1.2 .4-1.3 .7 .2M322.3 511.3l.9-.6 .2-.7M326.4 424.7l.4-1.4-.4-.9-1.4-.1M287 496.5l-.9-1.1-1.3-.3-.7 .7M280 420.1l.5-.6 1-.1 .9-1M278.5 459l-1.1-.6 .2-.8M330.5 437.6l-.1 1 .5 .5M304.8 492.7l-.6-.6-1.3-.7M311.2 493.6l-.8-.7-1.2-.8M283.8 459l1 .1 1.3-.3 .3-1M271.5 512.1l.9-1.1-.7-1.2 .3-.9M294.7 440.6l-.2 1.1-.6 .6M263 446.8l.1 1-.5 .8 .1 1.5M243.4 411.5l-.6-.4-1.3-.3M264.9 421.1l-.4 .6-.9 1.1M298.4 432.9l.8-1.2 .2-1.3M292 464.5l.1 1 .8 .8M236 465l-.2-.7-.8-.1-1.2 0M323.3 419.7l0 1.3-.6 .7M327.9 421.6l-1.2 .3-.4-1M328 509.8l-.2-.8-.7-.7M241.7 509.3l-0-.8-0-.8-.1-1.1M261.2 509.4l.5-1.3 .2-.9 1.4-.5M257.1 490.9l.6 1 .7-.3 1.1-.4M324 493.5l.6 .5-.8 1-.5 .5M242.6 515.3l1.2-.4-.4-1-1.4 .3M331.5 444.2l1.3-.1 .2-1.3-.2-1M306.8 430.4l-.7 .6-.6-.3-.5 .5M257.7 479.9l.8-.3 .7-.8 1.2 .1M246 468.7l-1-.2-.8-.6-.5-1.1M234.2 472.9l-.9-.4 .4-1.3M233.1 437.6l-.2-1.1 1.1-.2M289.5 450.4l-1 1-.9-.7M316.5 450.3l1-1 .8-1 1 .5M301.2 417.7l-.1 1.3-.9 .8M245.9 451.5l-.5 .9-1.2-.5-.9-0M298.6 410.2l.1-.4 .5 0 .8 0M245.6 487.5l.7-.2 .7-.5 .6-.7M302.3 478.5l.3-.7 .8-.2M272.3 505.7l1 .2 .8 .2M283.5 429.3l-.1 1.4-1.1 .5M309.5 430.8l1-.3 .8 1.1M230.5 450.2l.6-.8 1.1-0M268.7 497l1-.4 .8 .3 .7 .2M304.6 482.1l.8 .8 1.1-.2M287.2 509.6l.6-.4 1.1-.6 1.4 .5M239.8 497.1l-.3-.9-.8-.8M286.1 448.7l1 .6-.5 .9M304.8 431.8l.1-.9-.8-1.2M327.6 503.1l.7 .7 1.2 .5 .7-.2M278.2 487.5l.5 .6 1.2 .2 1 .6M329.1 511.3l-.8 .7-1.3-.1M300 472.2l1.2-0 .8 1.2 .2 1.2M339 491.8l0 1.4 0 .3 0 .5M278.5 509.9l-.2 .8 .3 1.4M336 432.3l1.3 .2 .5 .7-1.1 .9M291.6 479.3l-.5 1 .6 .5 .4 .6M302.2 493.1l-.3 1.2-.7 .2-.6-1.3M330.4 415.8l1.2 .4 .8-.3M317.8 476.5l-.7-1-.9 .4-1 .7M308.4 441.4l.4 1.3 .1 1 .8 .7M288.4 507.7l-1 .7-.5 .8M286.2 486.9l-.9 1.1-1.3 .1-.5-1.2M265.2 457.4l.3-1 0-1M322.3 451.6l-.8 1.1-1-.8M320.7 492.1l.5-.8 1.3-.7 1.2-.7M269.3 489.5l-.6-.8-1-.4 .3-1.5M244.5 506.9l.6-1.3-.1-1.2 1.1-.5M240.3 427l1-.6 0-1.5M312.6 433.9l.9 .2 .7-.2 .7 .4M292.5 448l-.8 .5-1-1.1M267.6 412.7l-1-.4-.3 .8-.8 .6M247 491.4l-.3-.9-1.2 .3M306.2 501.7l.8 .7 .4 .9 .6 .5M230.9 495.9l-.9 .4 .2 1 1.2 .9M330.8 508.2l.7 .2 .6 .5M246.9 500.2l-.4 .7-.4 .8M329.2 438.3l.1-1 1-.4M239.7 496.8l-.6-.9 .5-.7M291.5 500.7l-.2 1 .4 .8-.2 .8M329.6 448.9l1-0 .6-.5M336.3 417.9l-.6 1.1-.6-.4-.8-.4M335.1 457.1l-.4-.9-.5-1 1.2-.9M261.7 489.6l-.3-1.3-.8-.6M326.3 486.2l-.7-.8-.9 .1-.4-.6M260.3 507.7l-.8 .8 .3 1.2M260.3 496.3l.4 .6 .7 .2M244.5 446l-.8 1-.2 1.2-.2 .9M313.5 449.4l-.7 .3-.5 .8 .9 .5M266 453.1l-.6-.5-.4-.7-.7-.6M336.3 456.9l-.4-.7 .4-.6 .4-1.2M289.4 455.6l1.4 .4 .1 .7M297.2 500.5l.1-.9-1.4-.2-1-.6M326.4 500.3l-0-1.2-.5-.8M269.7 501.2l.6 .7-.8 .8M264.4 418.7l-.1-1.2 .8-.5-.3-1M270.4 430.3l-1.1 0-1.4 .3-1.1-.5M234.6 491l-1.2 0-.4-1.3 .7-.4M318.4 450.6l-.5-1.4-.4-1 .5-1.3M294 453.4l1.2 .7 1.1-.1M261 505.7l.3 1.2-.4 1M308.6 479.1l-.7 .2-1.1-.3-.8 1.2M326.5 490.3l.5-.8 1.3-0M293.5 491.9l.7-.5 .7-.4 1.4 .5M316.3 477.8l.9-1.1 1.3 .8 .3 1.3M330.9 514.4l-1-.4-0-1.2-.1-1M274.2 491.1l-.9-1-1.4-.1M306.7 481.7l-.8 .9-.7 .5M279.4 489.6l-1-.7-.4-.7M327 480.5l1.3 .6 .7-1.1 .3-1M326.6 417.4l-.7 1 .4 1.4M272.8 450l1.2-.5 .6 .4-.5 1.3M313.8 494l-1-.5-.7-1.3M246.6 498.8l.2 .8 .7 .5 1.1 .7M239.4 432.7l-.2-1.4-1.4-.3-1-.6M332.6 441.4l.8 .3 1.4-.4M338.8 425.4l-1.3 .2-.8-.5-1.2 .8M307.1 510.8l-.7 .8 .8 1.1M293.2 447.8l-.4-.6 0-.8 .7-.1M246.7 414.5l-.1-1.1 .6-.9 1.2 .5M240 415.3l.1-.9 .1-1.2 .4-.9M309.5 454.4l-1.4 0-.3-.8-.6-1.4M255.3 433.3l-.3-.8 .9-1.1M280.5 471.1l.8 1.2 .6 .6M280.7 512.9l1 .5 .4 1.3M290.4 410.5l1-.2 .4 .7 .4 .8M288.5 425.3l-1.2-.1-1.3 .7M321.9 511l1 .8-.6 1.3-.8 .4M245.3 410.7l-.1-.9-.8 0-1.1 .1M261.4 510.4l-.4-.8-1.2-.4M333.3 467.4l.5 1.4-1 .8-1.2 .5M298.8 504l-.9-.2-.8 .3M238.1 452.8l-.3 .9-.2 .8-.7 .3M255.3 481.2l.5 1.1-.7 1.2 .2 .7M323.1 419.3l-.1-1.3 .7-.2M267.2 451.8l1-.5 1.1-.3 .1-1.1M268.3 504.3l.6 .5 .9 .9M319.4 488.6l-.9 .3-.9 1.1-0 .8M246.1 441.6l-1.1-.9 .4-1.4M239.7 453.1l.8 .5 1.1-.4 .6 .6M243.2 465.9l1.1 .2 .8-.1 .6-1.3M327.2 444.3l.9 .4 .7-.9M274 491.3l-1.2 .1-1-.3M304.1 487.2l.9-.1 1.2-.7M254.4 490.8l-0-1-.8-.8-.9 .7M337.3 470l0 1.4-1.4 .6-1.3-.1M270.5 448.5l-.3 .8-.2 .9M284.1 438.2l-1.1-.6 .1-.9M245.8 450.4l.5-1.1-.8-.4-.4-1.1M292.2 504.7l.2-.9 .8-.1M296.6 464.3l-.3-1.1 .4-.6M248.8 513.2l-.2-.7-.7-.7 .7-1.1M242.8 485.4l-.8 .1-1.3 .8M231.6 472.9l-.3 .9-.6 .4-.2 .7M279.7 440l-.9-.5 .3-.7M329.5 511.1l-.7 .8-1 .4M274.2 474.3l-.8 .6-.2 .8-.2 .9M314.9 508.9l-.4 1.4 .3 .9M278.9 502.4l.6 .5 .9-.3 .3-1.3M284.7 498.8l-.3 .8 .7 .6M267.8 444.6l.1 1.1-.4 1M319.7 495.6l-.6-.6 .1-.8M258.7 413.4l1 .8 .9 .5 .5-.6M316.3 476.6l-1.1 .7 .3 1.3M303.9 463.8l-.4-1.3-.3-1.1-1.1-.6M334 420.4l.4 .9 .1 1.1M282.8 514.5l-1 .1-1.1-.2-.7-.8M243.3 418.8l-1.1-.2-.3-.8 .3-1.3M319.4 450.9l-.6 1.3 .5 1 .4 1M236.9 424.2l.9 .1 .6 .4 1.3-.3M328.3 447.5l-.6 .3-1.1 .1-.8 .4M239.3 413.2l.3 1.4-.7 1.3-1.2-.6M307.8 434.9l-.5-.7-.6-.7M301.1 440.4l.2-.7 .6-.5 1.1-.6M254.8 503.7l1.1 .5 .2 1 1.1 .3M268.3 506.2l.9-.3 .8 .2M329.4 495.4l-.7 .4-.7-.4-.8 .1M291.6 443.2l.1 .8 1.3 .4 1.1-.2M325.4 504.4l.9 .4 .8-1 .7-1.1M308.6 467.5l-.2 1 .7 .3 .9-.9M334.6 438.2l.7-.3 1.3 .1M270.7 474.2l-1.1 .6-1.2 .3M334.7 430.7l.8-.2 .7 1.2M313.8 471.3l-1.3-.3-.8 .6M249.5 505.6l1 .6 1.1 .2M271.8 498.9l.9-.6 .8 .6M274.4 417.9l1.4 0 1.3 .5-.3 1.1M296 422.3l-.2-.8 1.1-.6 1.2 .4M319.7 431.8l-.7-.6-.7-.3-.3 .7M293 505.2l-.8 .1-1.1-.6-.5-1M301.4 467.5l-1 .7-.8-.1M229.7 499.5l.8 0 1 .6 .5 .6M316.5 469.9l0 .8 .3 1.1M289.6 418.4l.7 1 1.1-.7M246.2 496.2l.8-.6 .7 .9 1.2-.6M274.7 454.5l-.1-.9-1.3-.6-1.1 .7M259.2 472.7l.6-1.3 .8 0 .2-1.1M269.4 447.5l1.3-.7 .9 .1 .9-.2M310.7 439.3l1.1 .2 .7 .4M290.4 503l-.3 .9 .9 .6M261.3 512.8l.6-1.2 .3-1.4M305.1 478.6l.1-1.2-1-.3M243.7 503.8l1.1-.7 1 .5M232.6 472.1l-1.2 .2-.7-.4-.7-.8M251.8 422.5l.9 1 .9 .7 1.1 .8M248.7 414.5l-1.3-.3 .2-1.3M311.4 445.1l-0 1.2 1.3 .2M321.9 466.3l1.1-.1 .3-1.1 .3-.8M303.2 510.1l.7-.4 .9 .5M307.1 446.3l-.3-1.3-.7-.4M285.3 486.1l-.7-.5-.9 .7M229.6 467.5l.9-.2 .6-1.2M298.1 419.8l1.5-.1 .4-1.2M329.6 464.3l-1 .7-.9 1.1-1-.4M254.8 430.7l.3 1-1.1 .6M291.3 478.6l-.6 1-.5 1M241.2 449.2l1.2 .3 .4 .8-.9 .8M324.6 493.4l.8 .2 .1 1-.9 .8M322.4 445.5l0-.8-1.3-.1-.9 .5M305.3 472.6l1.1-.7 .6 .6 .8-.2M272.7 417.9l-1 1 .1 1M234.3 495.3l.8-1.1 1.1-.5M268.1 424.3l-1.2-.4 .1-1.3-.7-.3M275.9 418.6l-1-.8-1-.5-1.2 .7M333.5 513.1l-.5-1-.1-.9M299.5 460.9l.7 .4 .5 1 1.3-.4M275.9 465.9l-1.1 .1-.4 .8M277.1 419.1l-.2 .9-.8 1M322.8 432.2l.9-.9 .7-.7M274.1 451.9l.1 1 0 1.3 .6 .8M236.6 513.7l.4 1 0 1.1M300.8 422.4l-.3 1.1 .5 1.1-.3 .7M247.1 425.5l-.7-.8-1.3 .6M336.1 431.2l-.5 1.1-1.1 .9 .3 1M300.4 512.6l.3 .8 1.1-.3 .4-.7M276.5 512.9l-.7-1.2-1.1-0M274.7 478.4l1.1 .5 .1 1.5-1.3 .4M288.5 446.4l-1-.9 .7-1.1M281.5 446.2l.8 1.1-.6 .6-.9-1M248.6 417.1l-0 .9-1-0M318.3 487.1l1.2 .6 .7-.1 .1-.9M274.8 429.9l1.1 .6-.6 1.3M321 468.5l-.5-1.1-.5-.9M302 497.6l-1 .8-1.4-.3-.8-.7M246.9 434.2l.6-.7 1.3 .8 .2 1M333.4 483.1l-1-.2 0-.7M320.1 415.8l.7-1.2-.9-.7 .3-1.4M235.1 418.1l-1 .5-.1 1.2M324.9 481.2l-1.2-.8-.9 .2-.5 .5M338.9 489.8l.1-1.2 0-1.2-.4-.8M255.7 418.4l-.2 .9 .4 .9 .6 .5M240.7 474.3l-.2-.7-1.3 .1M287.6 456.4l.6 .4-.2 1.4M230 409.8l1.4 .4 1.3 .5M231.7 500.4l-.8 1 .7 .6 0 1.4M288.1 440.3l.3-.7-1.2-.5 .6-1.3M261 514.8l-.7-.6-.8-.3-1 .9M294 452.2l-.1 .7-.6 1.2M302.8 475.8l-.5 .6-.3 1M333.8 415.8l.6 .7 .8-.1 .3 1M234.7 489.3l-.6-1-.5-1.3M249.7 476l1-1-.5-.7-.1-1.3M231 490.8l-.8 .7-.7-.4-.1-0M263.8 457.1l-1.4 .2-1.3 .4M291.2 462.8l-1.2 0-.7-.6M271.3 496.4l-.8 .2-.9-.7-1.4-0M301.6 490.1l-.7 .7-.2 .9 1.3 .6M296.1 440.2l-1.1-.9-.8-.1M323.6 445.7l-1.5 .2-.9 .9M246 515.6l.8 .2 1.4 0M305.6 428.5l-.7-.4-1.1 .2M253.9 476l.6 .4 .2 1.3 1.2 .9M238.1 455.7l.5 .7 .2 .7M336.6 492.2l.9-.4 1.4-.1M296.9 426.6l-.8 .3-.5 .7-.8 .3M284.4 489.6l.4-.9-.2-1.1-.9-.1M284.6 411.5l-.9-.6-.9-.3-.4-.8M317.4 448.9l.9-1.2 .8 .4 1.1 .2M303.8 431.1l-.8-.4-1.4-0M328.4 412.8l.7 1.1 .3 .7M280.8 410.4l-1.1 .7-.8-.3M252 470.7l.9-.5-.1-.8M315.6 457.5l.9 1.2 1.2 .4 .2 1.1M306.1 421.1l-.2 1.5 .8 .2 .2 .7M243.4 440.7l.8 .2 .5 .5M281.2 422.4l-.6-.5-.6 .5M248.6 413.3l-1.2-.6-1.4-.3M297.1 506l.7-.4 .5 .5M296.2 470.9l-.5 1.2-.2 .7-.8 .5M291.4 442l-.5-.6-.5-1.1-.7-.1M336.2 419l-.3 1 .8 .7 .7-.4M317.3 444.3l.8 .3 .1 .8 .9 .2M322.2 432l-.7 1 .4 1-.7 .9M253.5 448l-1.4-.4-.4 1.4M229.9 473l.8-1 .6-.8M297.8 502.2l.7-.2 1 1 .6 .7M242.8 514.6l-.9-.8-.8-1.2-.9-.2M280.8 480.2l.7-.3-.4-1.1M230.8 440.1l.7-1.1-0-1M244.8 437.6l-.7 1-1 .2M288.6 455l1.3 .6 1.3-.1M317.9 459.2l1-.1 .6-1.2M279.3 500l-.3-.9 0-1.3-.3-.7M279.3 512l-1.3-.4-.6-.4M242.1 442.9l.8-.2 .6-.8-.4-.6M238.1 510l1.2 .3 .7 1 1 .1M300.7 503.8l-.2 .8 .3 .7M327.5 429.2l-.6-.5 .4-.9M314.9 511.4l.9-.7 .7-.1 .9 .2M287.2 449.6l-.6-.3-1-.7M299.9 418.4l1.1 .2 .2-1.1-.8-.8M338.7 470.9l-.5 .8-1-.3 .4-1.4M268 464.7l.7 .4 1.3 .7M264.8 425.8l-1.1-.2-.9 .8M289.9 416.7l.1 .8 0 .9M237.1 412.7l.4 1.4 1.1 .2M279.3 448l-1.3 .4-1 .5M334.8 482.2l.4-1.1-.5-1-.9-.1M299.6 510.6l-.6-.4-1 .2M233.5 410.7l1-.9-0 0-1 0M236.6 506l.7 .6-.7 .9M302.5 501l-.1-1.1 .9-.5 .6 1.1M232.3 431.6l-.1 1.2-.7 .5-.9-1.1M269.9 430.4l.3-.6 .3-1.1 1.1 .2M246.6 472.7l1-.7-.2-1.4-1.2-.2M258.5 451.4l.5 .8 .8-.4M328.7 432.9l-1.1 .2-1.1 .6-.9-.9M325.9 412.7l-.4 1.4 .8 .7M296.1 445.3l1.2-.6 .8 .1M251.2 439.4l.5-.7 .8-1-.7-.5M240 462l.6-1.1-1.3-.7-.2-.7M277.2 468.7l-.7 1.3-.3 1M280.9 429.7l-.3-1.2-.9-.3M284.3 411.3l.1 .8-.5 1.3-1 .5M241.1 504l.6 .8-.9 1.2M261.2 413.4l-.9-.9-.1-1M252.6 485.7l.8 .7 1-.6-.5-1M311.3 410.4l.9-.6-.3-.1-.3 0M314.2 414.1l.7-.1 1.2 .8 .8-.2M263.2 422.2l-0-1.1 .6-.5M315.9 438.1l-1.2-.1-.1-1.3 .6-.8M265.1 476.2l-1.3-.7-.7-.3M274.1 479l1 1.1 .4 .9M235.5 418.5l-.7 1.1-.5 1M328.6 477.5l-.6-.5-.9 .7M233.8 444.3l.7-.1-.1-.9-1.2-.5M249.4 514.5l.3 1.3 .2 0 1.5-.1M276.7 495.8l.8 1.2 .1 1.2-.7 .3M271.6 455.7l1 .1 1-.4M241.7 440l-1.3-.4-1.2-.8-.9-.7M308 452l-.8-.5-.5-.8 .7-.6M288.2 410.4l-.2 .9-1.4 .3M303.9 425.4l-.2-.9 1-.2M258.5 456.2l-0 1.1 .7 .8M290.8 419.4l.2-1.3-.5-1.2M269.3 409.9l-1 .7-.9-0M232 428.2l.2 1.3 .9 .8 .8-.4M313.3 423l.1-.8-.8-.1-.3 1.2M278.6 434l-.7 1.1 .2 .7M276.4 420.8l-.4 .6-1.1 .1-1.2 .3M339 498.5l-1.3 .8-.7-.8-.9 .5M304 426.2l.7 .2 .6-.5-.5-1.3M325.8 464.5l.7-1.1 1.1-.7 .7-0M303.7 429.1l.7-1 1-1.1 1.1 .6M246.4 446.1l.1 1.2-.9 .1M320 410.4l-.1 .8-1.4 .6-.9 .1M321.8 505l-.9 .3-1-0M233.4 414.8l.1 1.2-1.2 .8M229.8 491.4l-.3-.8 0-1.1 0-.9M257.6 465.3l-.9-.6-.2-1.1M291.4 417.8l1.2 .3 .3-1-.4-.9M321.6 507.6l-.6-1.4-.6-.6M277.5 464.5l-.9-.9-1.3-.5M281 424.2l-1 1.1-.7-.3 .5-1.1M232.5 453.7l.5-.6 .3-1.1 .9-.8M315.2 468.8l-.6 .5-.6-.7-1.2-.7M260.1 460.9l-1.3-.6-1.1 .8M262.9 459.6l.9 .2 .3 1M246.5 439.4l-.8-.3-.9 .4M294.9 476.2l.5 1-.5 .6M300.3 477.1l-.7-1 .5-.7M326.7 479.4l-1 .5-.5-.6M281.7 488.1l-.7 1.1-.7-.2-1-.8M230.3 431.2l.7 .5-.7 1.1M308.1 446.2l-.6-.6 .5-.8 .7-1.2M298.3 428l-.4 1.1-.8 .3M289.3 445.5l-.5-.7 .2-1.3-.2-.9" stroke="#f4a8a8" stroke-width="0.75" fill="none" stroke-linejoin="round"/>
<path d="M289 455.7l-1.5 .3-.8 .7-.8 1.2M299.9 447.3l.7 0 1.2 .1 .8-.4M277.1 438.3l.8-.2 .4-.8M249.3 439.1l.6 .9 1.4-.3 .8-.1M234.1 461.4l1-.9 .8-.9M336.1 430l-.7 1 .3 .8M290.4 456.9l-.7 .4-1.1 .7M247.2 493.3l0-1-.3-1.1M295.4 435.2l-1.3-.3 .1-.8 .8-.5M248.1 439.7l-.6-.6-.8-.4M269.2 507l.6-1.3 .3-.7-.6-.7M320.3 422.3l-1.3 .7-.5-.7M244.1 443.7l-.5 .7 .8 .8M241.7 454.1l.6-.5 1.2-.3M274.7 481.6l-.8-.5-.8 0M277.9 494.8l-.5 .6-1.1 .6-1.1-.1M232.2 442.3l-0-1 0-1.1-.6-1.3M268.6 432.3l-.7 .6-1.3 .5M265.2 438l-.8-.6 .3-1M260.3 446.5l-.2 1.3-1.1 .8-1.2 .9M255.2 455.5l1.1 .5 1.4 .4 1.3 .2M298 476.2l.4 .9 0 .9M298.6 424.1l-1.2 .7-.9 .6M323 483.9l.7-.5 1-.8 .3-1M287.7 494.7l-.2-1.1-1.2-.2-1.4 .2M245.8 500l-.8-.7-1.1-0M321.7 428.6l-1.1-.5-.8-1.2 1.2-.9M330 514.2l-.1-1-.1-.8M239.7 470.3l.8 .1 .7-1.2M267.6 509.8l1.1 .5 1 .5 .9-0M278.7 511.6l-1.3-.7-.2-.9M316.7 509.4l-.5 .6 .6 1M265.5 475.3l.6-.4 .7-1.2M279.5 481.8l.6 .8-.7 .9M278.3 458.2l-0 .8 1.2 .1 .4 1M322.3 509.8l-.1-1 1.1-.1M274.5 490.8l-1.1 .8-.6-.7M242.1 447.5l.4 1.4 1 .1M317.6 437.7l.9-1 .7 .3 1.1 .7M299.2 420.5l.9 0 1.2-.1 .6-.3M280.1 414.6l1-.3 1-.8M239 476l.7-1.3 .9 .2M302.5 410.1l1-0 .3-.3-.9 0M233.5 513.5l.7 1 0 1.2M268.6 510.8l.8 .8 .9-.8M332.3 453.4l.2 1.1 .6 .6M250.6 445l1.4-.1 .7 1.2M275 490.1l-1.2-.7 .4-1M323.6 411.5l-.2-.8-.7-.9M303.2 513l.8 .1 1-1M285.2 435.3l1.1-.1 .4-.8M307.7 438.9l.6-1.2-1-1.1-.6-.7M267.1 420.4l.1-.7 1.3-.5M257.2 432.6l.2 .8-.3 .8M260.2 440.9l.4-1 .9-1 1.2-.2M268.6 468.2l-1.2-.2-1.1-.8-.3-.7M252.8 474.5l.3 1.4 .1 1.4M258.7 446.1l-.9-0-.2-.9M233.1 451.9l.3-1.3 .7-.7M313.7 422.3l-.4 .9-.7-.3-.6-.6M300.8 463.8l-1.1-.4 .3-1M284 414.5l-.9-.1-.8 1.1 .6 1.1M311.6 451.2l.2 .8 0 1.3M280.3 472.3l-.6 .5-1.1-.5-.7 1.1M262.2 430.8l-.5-1 .9-.7M270.8 475.7l.1 .7 .8 .4 .9-.7M266.1 427.9l-.3 1-1.2 .4-1.2 .2M258.7 447.4l.1-1.1 .2-.8-.8-.8M239.9 441.1l-.2-1.4 .7-.4 1.4 .4M254.7 494.2l0-1.2-.9-.3 .1-1.5M285.2 473l1.4-0 1 .8 .5 .7M258 511.3l-.8 .7-1.4-.1-.4 .9M293.6 436.9l.5-.9-.4-.8M252.3 467.5l-.6 .5-.8-.4-1.3 .2M236 430.6l-.2 .9 .1 1.1 0 .7M282.2 507.4l.6-.7 1.4-0 .5 1.3M284.1 466.8l-.3 .8-.5 .9-.9 1M235.3 437.9l-.7-.9 .4-.6 .8 .4M256.7 436.8l-.7-1-.4-1.1M295 417.6l.9 1.1 1.2-.2-.1-1.2M293.6 510.4l.1 .7 .3 1.4M317.7 422.7l-1.3 .6-.7-1.2M264.7 494.6l.9 .5 1.4-0M338.4 429.8l-.4-1 .6-.9M270.3 458l.1-1.1-.7-.1M271.6 426.4l.1-1.1-1.3-.2M321.1 462.6l-0 1-1.5 .2-1.4-.1M305.7 484.6l.2-1.2 .7-.4 .5-1.4M307.4 450.4l-1-.7-.5 .8-.7-.1M306.1 480.6l.6 1.1 .3 .9 .1 1.3M317.8 429.2l-.3 1.3 .6 .8 .8-.5M295.1 497.5l-.7-.2-1 .8-1.1-.2M253.8 411.2l.5-1.2 .2-.2M295.5 414.1l1.3-.5 1.2-0 .6 1.1M318.9 508.6l-.6-.9 .3-.7M284.2 480.8l.6-1.1 .7-.7M275.7 418.4l1.3-.6-.2-1.4 1.4-.4M310.1 424.6l.8-.7 .4-.6-0-1.1M338 510.6l-1.1 .4-1.2-.5-.7 .8M239.7 510.9l-1.3-.5 .2-1.3-.7-1M282.7 462.7l1.1-.3 .7 .1 .6-1.2M304.9 472.4l.9-.5 1 .5M287.4 425l-1-.7-.8 .3-.1 1.3M242.5 474.1l-1.2-.5-1 .2-.9-.4M240.7 507.2l-.5-.8-.7 .1-.8 .4M281.3 467.9l-.1-.7-.2-.9M257.4 425.8l.2-.7-.9-1.2M307.4 459.3l1.1 .4-0 1.2M325 411.2l1 .4 1 0M307.1 412.8l-.6 1 0 .7 1.1 .3M240.8 500.5l.8 .8 .6 .9 1 .5M318.1 471.1l-1.3 .6-.8 .9-.7 0M235.8 424.9l-.4 1-1.4 0-1.2-.5M289.6 435.2l.8-.6 1.2 .5M284.8 465.3l.4-1.4-.4-1.2-.7-.9M313 461.6l.7 .2 1 .5 1.1 .7M253.1 427.4l-.2-1.3-.8-1.1M261 475.9l0 1.4 .5 .6M242 450.6l.4-.9-.7-.8M285.4 441.4l-1.3 .1-1 .1M240.6 515.6l-.8-1.1-1-.3M255.3 428.8l.8 .3 .6 1 1.3 0M247.7 463l.5-.7 1.2-.4M303.4 488.1l-.5-.5-.9-.1M298 468.2l-.3 .7-.5 .8-.9 1M297.6 482.5l-.8-.7-.5-1-1.1-.5M251.7 427.2l1-.1 1-.3M263.2 437.4l-.7 0-.9 .1M278.1 471.1l1.3-.5 1.3-.6 1.1 .3M284.7 503.3l.7-1.2-1.2-.7 .6-1.1M313.3 492.2l1.3 .3 .3-1.3-.5-.7M327.5 448.4l1 .9 1-.9 .3-1.4M338 490.2l-.1-.9 .6-.9M249.1 412.1l.3 1.3 1.1 .8 1.2-.7M296.3 412.6l-.3 1.4 1 .5M322.1 456.5l.5 .6 1.5 .1 .8-.6M296.9 453.6l1-.5 .6 .6M271.9 438.9l-1.1-.6 .7-1.2M324.5 412.2l-1.1-.8-.6 .5M270.2 468.9l.1-.8 1.4 .1 .9-.5M282.1 448.8l-1.3-.5-.5-1.4 .2-1.2M307.4 463.4l1.2-.4 .3-1.4 .2-1M231 508.8l-.3-1.1 .8-.7M324.1 468.4l.8-1.2-.4-1.4 .7-.3M257.3 458.4l-.7-.9-.6-.9-.6-.4M300.8 507.3l0 1.1-1.2 .1-.1 .9M241.6 487.4l.9-.9 .2-1.2M246.1 451.7l1.1 .9-.4 1.2 .9 .8M259.5 428.7l-1.2-.8-.7 .2M310.4 477l.2-1.1 .7-.7 .1-.8M229.7 468.3l1 .1 .6-1-.6-.8M260.3 413.9l-1.4-.4-1.2 .8-.6 .6M254.8 505l.5-1.1-.2-1.1 1.1-.2M331.7 471.1l-1 .6-.8 .6 .2 .8M236.4 492.8l.7 .4 .9-.2M231.5 473l.8-.3 .3 .7M231.3 441.1l-.7 .9-1.1-.2 0 .1M282.1 425.8l.9-.4 .7-.7-.2-.7M337.2 507.7l-.8-1.1-.8-.8M299.4 414.7l.7 .2 .9-.2 1 .3M247.5 417.6l.6 .6 .2 1.1M305.3 434.9l.9 .7 .3 1.3 .3 1.2M260 433.6l-1.4 .1-.8-0M279.7 484.5l.7-.4 1.1 .3 1.1 .4M292.5 433.7l-.9 0-.1-.8-.1-.9M320.3 513.9l.6 .4 .9-.3M324.5 464.8l-.5 .7-1.4-.3M280.4 486.9l-1-0-1.2 .5M292 467.8l-.6 .9 1.1 .8M307.5 515.5l1.1 .3 .1 0M261 441.9l-.9-.7-.8 0M240.8 438l-.2 .9-.2 1.2 .2 .9M235 465.8l.2-1.2 .6-1.2 1.4-.2M230.6 430.7l.2 .7 1 .1 .9 .5M287.8 496.8l.4-1.1 .1-1.1-.7-.6M298 418.9l-.8-.7-1-.2M300.9 435.5l.2-1 1.1-.3 .6 .9M305.7 487.1l1 .4 .2 .9-1.1 .5M280.8 493.4l.4 1.4 1.2-.1M262.3 487.8l-.1 .8-.2 1.4M252.1 454.4l-.1-1.5 .5-1.2M306.3 420.6l-.6-.7-.5-.8M321.7 494.6l-.5-1.1-1.2-.2M280 502.3l-1.2-.8-.9-1.1M284.8 449.2l1.1-.9 .8-.6 1.3-.2M232.5 481.2l-.2-.9 .2-1 .1-1.3M334.7 470l.2 1 .1 1.5-1.4 .2M239.7 464.8l-.6-1.1 .2-1.4 .7-1.2M270.4 487.1l-1.3 .4 0 .9-.6 1.2M256.3 471l1.1-.6 1 .3M329.1 425.9l-.8-1-.9-.1-1-1M295.1 480.6l-1.1 .5-.7-.7-.4-.8M284.1 489.5l.3-1.1 .8-.2 .6 .9M310.1 509.5l.8-.6 1.1 1M250.8 512.3l-.1-.9 1.1-.8 .1-.8M282 432.9l-1 .1-.6-.5M268.4 504.6l.4-.8-.7-.7M259.8 489.7l.5-.5-.3-1.1M270.7 424.9l-.7 1.1-.6 1.3M278.9 452.9l-1.5 .1 .1 1 .6 .3M239.7 487.5l-.6-.9-1.1-.2M237.3 412.1l1.4 0 1.3-.7M332.6 479.2l.7 .8 .8-.4 .5-.7M250 410.5l.9-.2 1 .4M265.5 448.4l.5 .7 .9 .6 .8-.3M246.2 454.9l-.3 1.4 .2 1.4 1.2 .5M248.6 495.7l.2 1.2 1.4 .3 .7 1M334.9 510.9l1.1 .1-0 1.3 .5 .7M337.7 441.5l.4-1.3 .8-.2M295.8 489.6l-.8 .1-.2-1M247.5 415.1l-1.1 .1-1.1 0-1.3-.7M277 494.4l-.2 1.4-1 .3-.7 .2M331.9 487.6l1.1-1-.3-1.4-1.4 0M324.5 441.7l1.2-.8 .8-.1M304.3 440.8l-.8-1.1 .1-1.2 .7-.3M253.8 512.9l-1.3-.6-.4-.8M276.3 509.9l-.4-1.1-.7-.2-.5 .6M240.4 416.8l-.9 .6-1 .2-.4-1M310.8 422.7l-.7 .2-.8-.5-1.3 .3M294.4 426.4l0 .9 .2 1.1M306.9 459.3l1.4-.3 0-.9M247.5 465.4l1.2 .1 .4-1.1M266.6 456.9l-.3 1.1-1 .4M244.7 511.6l1 .6-.7 1.1M302.9 489.2l.2 .8-.3 .8-.2 .8M269.5 416.4l.4 .7 .7 .6M284.3 494.1l.4-1.2 .2-1.3M240.6 439.1l-.1 .8 1 1.1M269.5 495.9l.8-.9 .4-1 .1-.8M334.2 469.1l.7 1.2 1 .9M274.5 495.2l-.3-1.4-.7 0M245.4 483.3l-.8-0-1.1-0-.3 .6M283.8 498.4l1.4-.4 .4 .9M296.9 439.1l.6-1.3 .4-.6M310.4 453l-.3 .8-1 .6M277.8 442.3l1-.2 .7-.2M230.4 437.9l.5-1.2-1-1.1-.4 .2M338.8 462.6l.2 1.1-.2 1 .2 .8M257 514.9l-1.2-.1-.7 .3M294.2 492.2l-.9 .7-1 1.1-.7 .4M283.3 437.6l-.7-1.1-.7 .3-.6-.9M280.2 473.8l-.8-.8-.8 .2M277.1 480.9l.9 .5 .5 .8-.6 .6M272.3 452.9l-.1 1.2-.8 .2-.4 .8M245.7 499.7l-.7-.3-.6 1.1-.9 0M230.7 509.7l1 1 .4 1.2-.8 .3M297.2 492l-.9-1 0-.9-1.2-.2M300.3 468.3l-1.1 .5-1.1 .2-.6-.6M235.8 491.4l1.2-.2 1-.3M306 473l-.1-1-.5-.8M294.3 417.8l-.8-1.3-.8-.3M254.7 412l1.3-.1 .3-1.1M290.8 458.4l.8-1.2-.4-.9-.7-.6M253.4 459.8l-1 .9-.7-.3-.3-.9M260 415.1l-.5-1.1-.8 .2-.7-.5M257.3 447.1l-.4 .9-1.2-.1M302.1 448.4l1.1-0 .9-.6M308 454.3l-1 .1-.7-.7M245.7 425.2l1.2-.5 1.3-.2M229.8 498.8l-0-.8-.2-.4 0 .2M256 495.6l.7 .9 1.2-.2M304.6 505.5l-1.3-.1-.5 .5M269.3 478.3l-.9-.1-.5 .5M301.1 508.6l-.7-.6-.7-.3-.3-1.1M273.8 472.2l1.2-.1 .6-.6M309.3 410.1l.6-.3 .1 0 .3 0M280.9 456.8l-.7 .7-.2 1.1M229.7 472.9l-0 1.2 1.2 .6 .8-.1M282.8 480.6l-.9-.5-0-1.4-.5-.7M291.4 453.8l-.2-.9-.8-.3-.9 .5M247.2 421.6l.7 .4-.5 1.4-.5 .7M283.6 480.4l0 1.5 .2 .8 .8 .3M251.6 500.3l1-.2-.1-1.3 .7-.3M291.3 486.6l.8 1 .2 1.4M286.4 485.8l.4-1.4-.7-.4M312.9 454.7l-.5-.7-.6-.7 .5-.8M312.8 513.8l.6 1.3-.3 .7M237 421.9l-.9-1.1-.3-.8M262.7 451.4l.6 .6-.4 1.1M237.9 469.5l.1-.7-0-.7 .5-1.2M283.2 472.8l-.5-.6-1.1-.4-.9-.7M283.5 437.6l-1.1 .4-.8 .3-1.3-.4M233.9 491.5l.9 .1 .2 1.5 .7 .5M251.4 421.2l-.8-.7-1 .2-1.2-0M261.4 412l-.5 1.3-.4 1.4-1 .5M302.7 498.9l-.5 .8 .2 1.2M301.9 422.3l.8-1.1 .8 .5 .5 1.3M283.1 495.2l-1.1 1-.4 1.1M251.5 476.4l.3-1.3 0-.9M286.8 455l-1.1-.4-.7-.7M306.8 454.1l-.6-1.3 .5-.7M232.1 514.1l.6 .7 .9 1 1-.5M246.2 509.7l-1 .2-.9 .6M257.1 500.5l0-1.4-.8-.8M245.4 475.8l-.5 1.3-.6 .5-.4 .8M235.8 497.8l.9-.5 1.1-0 0-.9M289.1 447.9l-.8 .1-1.1 .6-.9-.6M330.5 470.7l1.1 .8 1.1-0M292 495.4l-1.3 .2-1.3-.4M289.1 416.4l-.4-1.2 .7-.6M276.6 445.2l.9-1-.4-1M299 488.8l.6-.6 .3-.9M231.2 479.3l-.6 .6-.6 1.2M320.1 503l1.2 .5 1.4-.2M264.8 429.2l-.1 1.5 1.3 .4 .8-.6M252.3 431.5l1.2-.8 1.1 .5 1.2 .6M280.1 497.8l1.1 .6 1-.1M301.8 440.1l1.2 .1 .3 1.1-.6 1.1M273.2 412l1-.3 1.3 .1 .2-.7M234.4 502.9l1.4-.3 .7-.5M312.5 483.9l-1-.7-.9-.9 .4-.9M271.9 512.6l1.1 .3 .8-.1M301.2 471.8l-.3-.8-1.2-.7M267.3 489.7l-.3 1.3-1.1 .1M303.1 462l-.7-.7-.4-.6M313.7 483.4l.8-0 .6-.7M264.3 412.5l.9-1.1 .6-1.3 .4-.3M323.6 443.2l-.4 .7-1.2-.5-.4 .8M337.6 473.8l-.9 .7-.6 .7M327.3 436.3l1.1 .2 1 .3 1.2-.7M326.4 497.3l.6-1.1 .8-.7M293.3 445l-.1 .7 .5 .8M258.6 508.2l-.1-1.5-1.1-.3M236 432.1l-1.3-.2-.9 1.1-.8 .3M282.1 480.7l.9-0 .4-.9 1.3-.3M325 417.7l.4 1.4 1.3-.2M278.4 486.4l0 1.1 .8 .8 1.4-.4M338.1 411.7l.9-.3 0 .2M304.6 420.3l-.6-1 .1-1M263.3 471.2l.9 .2 .4-1.1M327.4 436.5l.4 .7 .1 .9-1 .4M289.5 509.1l-.9 .2-1.2-.1-.7 .3M260.8 482.8l-.3 .6 .7 1.3M241.5 417.4l.4 .6 .9 .4M267.8 515.7l.4-.9-.4-1.4 .3-1.4M317.8 442.3l-.6-1 .1-.8 1 0M254.5 503.8l-.7-.9-1.1 .4M244.5 437.9l-1.1 .4-.8-.4-.5 .6M330.9 463.7l-1.1 .3-1.4 .5M321.9 498.1l1.5-0 .5 .7-.6 1.1M338.1 439.2l-1.2 .9-1.2-0M247.2 498.4l-.7-.5-.8 .3M249.8 425.6l.5-1.2 1-.1 .1-1M235.2 419.9l-.9 1.2-.8 1.1M321.8 489.6l.7-.4 .6-.6 .2-.9M338.4 412.4l-1.1-.5-.3-1.3M238.4 416.6l.7 .9 .9 1.1 1.2-.1M305 453.2l.9-.4 .1-.8M241.3 493.3l-.9 .9-.9 .8M238.1 485.5l-.5-1-.4-.6 .5-.5M296.8 424.9l-.5 .6-1 .3M327.8 508.1l-1.1 1-.1 1M249.1 460.2l1.1-.7 .9 .5M249.2 424.5l-1.2 .7-.9-.2-1-.6M302.7 438.7l.7-.3 1-1-.1-1.2M239.3 485.2l.4 .7 1.1 .2 .8 1.1M258 478.7l1 .3 .6 .8-.7 .6M229.7 501.4l1.2 .3 .8-.9-.4-.8M321.2 478.5l.5-.7 .7-.7 1.1 .7M286.8 424.4l-.1 1.3 1.2 .5 .9-.2M333.7 469.8l-.2 1.5 .6 .4 .7-.9M280.5 503.7l-.4-1.4 .4-.9-.4-1.3M329.9 443.5l-.7 1 .5 1.1M273.3 447l-1 .7-1 .3M253.8 482.6l-.8-.7-.5-.7-1-.8M275.2 448.7l-.8 1-1.2-.9M297.7 429.9l.2-.7 .5-.7-.9-.8M288.6 415.8l-1-.1-.9-.5 .5-.9M268.8 411.3l.7 .4 1-.3 1.3 .1M255.9 510.6l.9 0 0-1.4 1.2 0M267.9 453l.5-1.3 1.3-.3-.1-.9M231.8 486.3l1.4 .1 1.2-.2 .7-.2M231.2 483.2l.7 1 1.1 .9 .8 .3M300.4 463.2l.8 1.2-.6 .9-.7 1.2M330.1 481.2l.8-1 .8-.4M294.9 447.2l-0 1 1.3 .7M321.5 453.8l.8 .7 .7 .3M318.8 468.5l0 1.1 .6 .4 .4 .6M331.1 507.1l.5-.6 1.3-.6 1.1 .1M293.8 470.4l1.3 .3 1.3 .1 .4-1.4M299.7 459.5l-1.3 0-.5-.7 .1-1.3M317.3 489.5l.8-.4 1.2-.2M247 416l-.8 .8-.7 .9-.2 1.1M323.5 513l-0 1.3-.6 .5-1.2 .6M329.9 501.1l-.7-.3-1.3 .3M238.8 420.7l1.3-.6 .6-1.1 .6-1.3M279.8 506.4l.6-.8 .6-.7 0-1.2M276 429.2l-.9 1 .5 .5M248.6 476.4l-1.2-.4-1.1-.1-1.2-.6M280.3 495.4l-.4 .6-1.3-0M328.6 439.6l-1.1 .9 .5 .7 1.3 .5M326.2 478.1l-1 .6-.8 1.2 .7 .5M266.7 410.8l.8-.8 0-.2M248.4 451.8l1.2 .5 .3 1.3M335 436.4l-.1-.8-.1-1.2M325 431.6l.9 .8-.2 1 .4 .7M282.2 410.5l1.2-.3 .4 1.4M267.4 431l-1.3-.6-1.1 .3-.8-1.3M246 485.8l.8-.8 .4-.8-.7-.3M328.1 482.9l-1.2 0-1.1 .9-.8-.4M280.2 424.8l-1.1 .1-.1-1.1M317 414.3l1.1 .8 1.1-.1-0-.8M251.5 460.8l-.4 1-1.4-.3-1 .1M270.2 424.2l.5 .7-.2 .7-1.1 0M275.2 447.6l-1-.3-.8 1.1M283.6 437.2l-.1-1.4 .7-1-.3-1.3M242.4 479.2l.8 .4 1.4 .5 .7 .5M291.7 513.1l-.6 .7-1.2-.4M315 459.1l.6-.5 .2-1.4M236.5 497l-1-1-1.3-.1-.6-.5M335.4 437.5l.2-1.2 .6-1.2M285.5 460.4l-.9 .2-1 .9M334.9 436.3l-.3 .7 .9 .5 .7-.7M329 433.4l.7-.6 .7 .8M276 429.5l.8-.4 .7 .2M327.7 429.2l-.9 .9-.1 .7-.2 1M310.6 410.5l1-.2 .6 1.2 .3 .6M288.1 464.9l-.5-.6-.8 .3M289.7 503.9l1.1 .2 0 .8 0 .9M330.8 454.5l-1.1 .4 .2 1.1M281.2 515.1l1.4 .1 .8-.2M301.3 501.6l-.7 .3-1.2-.1M335.7 498.5l-1.1-.3-.7 .4-.5 .6M298.4 410.3l1-.2 1-.3 .7 0M321.3 512.8l-.7-.4 .4-1.2 .9-.8M297.9 448.9l-.7-.2-1-.1-.9-1.1M338.3 468.9l.6-.6 .1 .4M318.7 479l-.6 1.3 1.1 .8M329.5 482.1l.5 1.1-.7 .8M266.9 472.4l-1.3-.2-.3 .6M316.1 474.3l-.6-1.1 .5-.6 .9 .5M282 512.7l-1.4-0-.8 .7-.2 1M294.1 452.8l-1.4-.2-.3-1.4-.7-1M278.8 515.2l.7 .3 1.1 .3M300.7 475.6l-.2 1.4-1 .4M327.4 467.5l-.8-1-1.4-.2-.9-.6M246.4 509.9l-.6-.6-1.1 .8M253 443.9l-.1-1.2-.9-.5M314.1 441l.9 .1-.1 1 .3 .6M276.5 474l-.6 1-.2 .7M327.8 501.8l-1.2-.1-.7 .3-.9-.1M308.1 421.3l0-1-1.4-.2M230 430.9l-.5-.9 0-.3 0 .8M244.1 462.9l1.1 1 .5 .7M326.5 424.9l.9 0 1 .1M231.2 462.4l1.2 .1 .7 .7M260.4 451l-.5 1.1-.2 1.1M303.2 510.5l.2 .7-.4 .7M334.8 423.7l.8 1-.1 .7M267.6 474.6l-1.3-.7-1.2 .6M303.8 420.8l-.6-.8 .2-.9M269.2 441.6l.1-.8 .7-.6M308.4 458.2l0-1.2-.6-.6M230.4 442.2l.8 0 .8-1.2M244.7 454.4l.7 1.1 .8 0M283.8 500.7l.9 .2-.3 1.5 1.2 .5M291.1 444.6l-1.4 .1-.2-.7 .8-.7M300.4 463.4l.3 1.2-.7 .4M233.6 446.7l.9 .9-0 .8 1.4 .1M300.6 436.3l.3-1.4-.1-.9 .5-1.2M263.6 513.2l-.6 1.2 .7 .5M305.2 438.3l-0-1 1.3-.3 1-.3M338.2 463.1l-.1 1-.8-0M259.1 414.3l-.8 .1-.8 1 .5 .5M317.9 463.2l.7 .2 1.2-.2M302.1 425.9l.8-.3 .8-1.3M266.1 504.9l.7 1.3 .6 1.2-.5 .5M337.5 470.1l1.3 .1 .2 .2M289.6 412.4l-.2 1.2 .8 .2 .4-1.2M312.1 500.4l-.7-1.3-1-.8M251 502.4l-1.2-.3-.2-.9 .9-.8M238.2 437.8l-.9-1 .6-1.2M272.6 437.7l-.9-.9-1.2-.6M286.1 488.6l.5 1.2 .9 .5M272.4 493.5l-.8 .2 .1 1M288.1 490.2l-.3-.8-1-.5M248.8 414.2l.6-1.2-.4-1.1M312.6 444.1l-.4-1-.9 0M260.5 484.1l.6 .4 .7-.8M323.9 481.3l-1.4 .3-.4-.7-.6-1M248.8 457.4l-1.2 .9-.8-.7 .7-1.2M234.5 419.9l.4-.7-.1-.7M322.6 429.1l-.6-.6-.7-.1M270 504.6l-1 .7 .3 1.2M317.1 455.6l-.2-1.4-1.2-.8-.8-0M321 430.7l.9-.8-.1-1.2M240.8 452.6l-.9 .5-1.3 .5-.4-.6M324.4 495.5l1.3 .1 .8 .7M272.2 446l-.5 .6-1-.4M318.6 487.8l.7 .6-0 .9 .3 1M254.8 457.4l1.1-.1 .7 1.2 .8-0M325.2 484.4l-.6 .4-1.3 .2-.7 .4M311 447.7l-0-.8 .6-.6M253.5 473.6l1.1-.4 .3-.6M316.6 433.6l.7-.4 .8 .1-.1 1.1M264.5 423.6l.2-1.3 1-.5 .8-.3M303.2 477.6l.7 .4 .6-.7-.6-.5M336.7 431.6l-.3 .9-.8 .4M328.7 469.4l-.4-.6-1.1-.9M252.9 446.3l-1.1-.9-.7 .4-.9 1M333.5 465.2l-1.1-.5-.9 0-.2 .9M259.7 462.2l-.8-.3-.5-.4 .4-.8M280.8 421.6l-1 0-1.2 0-.6-.9M254.2 412.2l-1.4-.3-1-.7M323.1 418.3l.9-.2 1-.5 .6-1.1M279.1 496.1l-.8-.9-.7-1-.9 .6M260.4 497l.7 .9 .8 .2M232.2 487.1l1.1 .1 .6 .5-.3 .8M261.4 458.5l.8 .6 1.2 .5 .9-.2M232.1 437.8l-.6 .9 .7 .8 .3 .9M245.8 423.9l1.1 .7 1.1 .8M313.3 435.7l.6-.4 1.2-.9M240.8 455.5l-.3-1.3 .9-.3M312.3 462.1l.6 1.1-.7 1.2 .6 .8M270.8 448.8l-.2 1 1 .6M306.2 445.3l-.6-1-.6-.8M275.1 474.9l.3 1.3 .9 .1M275 443.8l-1 .8-.8-.2M254.1 415.7l-.8 .3-.8 .4-.5-.8M337.8 464.1l.8 .2 .4-.5M237.6 480.8l.9-.7 1-.7-.5-1.2M290.6 504.4l1 .1 .7 .1M263.5 439.9l-1.3 .6-1.3 .2-1-.1M242.6 502.1l-.6 .8-.8 .5M241.1 483.3l-.5-.8-1-.8M297.2 432.5l-.9 .3-.8 .4-.5 .8M295.7 427l.6 .8 1.3 0 .7-.9M327.1 510.2l-.1 1-.7 1.2M261.5 468.8l-.5 1-.2 .7M326.4 484.5l1.2 .2 .6-.8M251.5 438.8l.7-1.1-.4-1-.9 .2M240.4 442.3l-.1-.9 1.2-.1M288.1 450.6l-.2 1.3 .3 .8M252.5 491.6l-.8 .7-.8 .9 .9 1.1M301.8 515.6l.1 .2-1.2 0-.8 0M253.8 487.9l1.2 .7 1.1-.2M300.1 439l.6 .5-.5 .9 .1 .9M274.3 468.2l-.4-.7 .1-1.4M304.2 492.2l-.5 1.3-1.2 .2 .1 .9M232.3 483.6l.6 .7 .2 1.3M243 472.9l1.1-.8-.3-1.5-.7-1.2M317.8 427.1l-.4-1.1-.7-.2M231.2 451.5l-.8 1.1 .7 .8 0 1.3M302.6 420.2l-.3 1.4-.9 .3M291.4 455.8l.4 1.2 .2 .8M244.6 466.4l-1.2 .3-.1 1.2M243.7 476.5l-.3-.7-.9-.1-.9 .3M252.6 446.3l-.9 .4-.5 .6-1-.2M246.9 450.9l.5 .5 .2 .9M267.6 507.8l-.3 1-.2 1.1-1 .2M300.7 502.8l-.5-.7-1 .9M297.4 425.2l-1 0-.7 1.1M263.4 479.8l.5 .6-.6 1.2-.9 .6M245.3 454.3l-.2-.9-1.2 .1M277.8 461.7l-1.2 .2 .1 .8-.9 .5M303.3 468.5l.6 .4-.4 1.2M274.5 413.6l-1.2 .1-.8-.3-1.1-.4M239.6 482.4l-.8 1.1-.7-.2M250.7 480.3l-.8-.5-.9 .2-.7-1M234.4 509.7l-.8-1.1-.7-0M319 467.2l.9-.4 .7-.6-.6-1.2M277.9 488.1l-.6 .7 .6 .8 .8-.3M255.3 498.6l-.5 1.3-.6 .8M308.3 478.4l1.1-.2 0-.9M276.8 411.5l-1-.8-1.4 .3-.7-1.2M251.3 484.9l-1.2 .1-1.3-.3 0-.9M264.6 427.3l1 .4 .8-.1M322.8 493.1l-.9-0-1.2 .3-.8 .1M324.2 488.5l-.3 .9-1.2-.3M236.6 421l.6 .5 1 1-.3 1M307.6 480.6l.3 1.3 1.4-.2M251.3 509.9l.4 1 .5 .5M271.2 443.3l.2 1-0 1.4M284.9 428.9l-.5 1.2-.7 .4M291.2 441.3l-.9 .6-1.4 .2-1.2 .7M293.3 426.7l-.9 .2-1.1 1M246.7 498l1.4-.5 1.1 1M287.9 485.7l-.5 .8 .5 .7 1.3 .7M328.4 465.5l-1.3 .3-.7 .1-.5 .8M309.7 441.1l-.1 .8-.1 .9 .9 1.1M271.4 451.5l-1.4 .3 .2 .9M337.4 513.7l1.1 .9 .4 1.2-.8 0M329 475.4l-.8-.9-.9 .8-.7 0M273.2 418.3l-.5-.7-1.2-.3M311.4 423.6l.6 .8 1.1 .6M287.4 427.7l1.4-.5 .8 .1M268.5 471.7l.1-.9 1-.7-.1-1.2M270.9 511.2l1.2-.3 .8 .3 1-.8M312.1 468.4l-.4 1.1 .1 .7-.3 .9M252.6 457.5l.1 1.2 .9 .1M276.6 432l.7 .8-.3 .8-1.4-.6M291.3 482.4l-1.1-.1-.4 1.1 .5 .8M295.7 419.2l.9-.2 1.2-.1 1-.2M314.4 509.8l.8-.8 .5-.6M251.7 511.6l-.7-.6-1.4 .1M334.9 433.2l.4 .7-.8 .9 .2 .9M283.9 500.8l-.3 .9 .3 1M310.9 483l.3-.9-.3-.7M277.2 480.1l1.3-.6 .1-1M277.5 510.8l1.1-.8 1.3-.5 .8 .3M254.7 497.9l.7 .6 .1 1.1 .1 1.4M307.5 476.5l0 .8 .7 .3 .5 1.2M244.1 457.1l.2-1.1 .9-.1 .9 .5M275.2 420.8l1.3 .1 .3 1.1 .1 1.5M232.3 428.9l.9 .5 .7-.1M302.6 416.6l1-.3 1.3 .1M285.2 494.8l1.1-.3 .2-1M250 429.5l.1-1-.8-1.3-.9 .4M257.9 461.9l-.9-.8-1.1 .1M288.9 423.9l-.2 1-.6 1 .8 1.1M280.4 415.2l-.6 1.3 .9 .9-1 .9M279.4 453.6l1.3 .6 1.3 .4M239.8 489.6l-1.2-.4-1.2 .2-.8 .5M250.1 483.1l-.9 .5-.5-.8M305.4 477.3l-.9-.4-.7-.8 .3-.9M250.9 504.6l.4-1.4 .7-.2M257.1 509.5l1.1-.4 .5-1.1M318.5 468.6l.6-.4 1.2-0 .5 .7M329.4 422.1l-1.1 .3-1.5-0M307.9 475.2l-.9-.3 .3-1 1.1-0M308.7 422.9l-1.1 .7 .1 1.2M335.9 473.5l-1.2-.5-.8-1.1-.9-.5M299.2 447.4l-.5-.6-.9-.7M292.2 410.9l.6-.8 1.1-0 .8 .2M239.1 469.5l.7-.2 1.4 .3 .6 .7M299 422.6l-1 .7-1.1 .6 .4 .7M241.9 484.8l-1 .1-1.2-.2M273.7 448.4l.3-.8 .4-1M254.9 503.3l-.6-.4-.5-1 .8-1.2M324.2 479.5l-.9 .5 .1 1.1 .9 .2M301.7 508.3l1.1-.5-.2-1.1M300.3 479.3l1.2 0 1-.5M289.1 439.9l-.4 1-.6 1.1-.5 .6M305.3 451.6l1.4 .2 .8 .5-.4 .8M258.1 430.9l-1.1 .8-.8-1.1-1.1 .4M330.7 453.6l.5 .9 0 1M265.3 452.1l.2 1.3-.9 .2M292.8 450.3l.9 .7 .8-1 .3-1.2M336.7 418.2l0-1.4 .7-1.1 .5-.5M305.6 468.9l-.8-.6-.9 1.2M326.5 514.7l-.6-.7-1.2-.4-.6-.9M302.7 512.1l.6-.7-.3-1.3-.7-.5M281.8 466.4l-0-.7-1-.5 0-.9M278.1 482.1l-1-.3-1.2 .4 .1 1.2M337.1 494.6l-.6-.8-.7-.4 .4-1.4M322.1 438.2l-.9-1.1 .1-1.2 1.1-.1M307.7 436.4l-.5-.7-1 .1-.4-1.1M258.8 448.5l1.3 0 .6 1.3-0 1.3M303.2 456.3l.8 1.1-.1 1.2M249.4 424.4l.9-.3 .5-1.4 1.1-.3M320.2 505l.3-1.5 .8-.1 .2-.7M254.7 444.4l-1.1 .8-.8-.2M288.4 470.9l-.2 1.1-.9 .4M251.2 425.8l-1.3-.5-1.1 .2M246.4 496.1l.8-0 .3 .9-.3 .8M309.9 512.1l-.6-.7 .5-.7M304.4 453.5l1-.3 .5-.7 1.2 .2M299.4 482l.7 .9 1.3 .1M277.3 426.4l-.8-.6-1.1 .7-.8 1.2M333.2 476.2l-.4 1.1 .8 1.2M326.5 413.9l.9-.2 1 .2 .8-.2M267 423.4l.9-.9-.1-1.2 .9-1.1M291.3 483.8l-1-1 .4-1.1 1.4 .1M326.3 505.9l.8-1.2 .7 .4 1.2-.6M337.1 445.8l-.4 1.1-.4 1.2 1 .5M267.1 442l.9-0-0-1.2-.2-.9M241.5 458.6l-.6 .6-.3 1M246.5 493.5l1-.6 .4-.7 .9-0M305.1 483.2l-0-1.1 .7-.9M263.2 421l-.6-.8-.6-.5 .3-1.3M305.5 496.2l1.4 .3 .6 .8M238.8 491.6l1-.6 1.4 .5-0 .7M320.7 481.7l-.6 .5-.6 1M237.7 470.1l-.2 .7 .1 .9M273.4 507.8l-.1 1 .4 1 .5 .7M253.7 468.8l.1-1.3 .9-.6 .7-.3M316.9 507.7l-.8 .8-.8-.4-.6 .6M252.7 498.4l-.1-.9-.8-.9-1-.1M329.2 474.5l-.1 1-1.2 .2M256.1 426l.7-.9 .7-.6-.4-.8M256.9 414.4l.7 1.2-.4 .8M233.8 511.3l-.5 1.4 .4 1.4M329.6 509.3l.6-.5 1.4-.5-.3-1.3M240.7 495.2l-.4-.6 .7-.8M308.6 434.7l1.1 .4 1-.9M293.3 484.8l.7 .8 .7 1.1M330.8 454.8l.8 0 .9 .8-.5 .7M334 510.8l1.3 .6 .8-.2M232.9 416.5l-.2-1.4 1.1-.2 .2-1.4M240.6 439.1l.1 .8-.2 .8-.1 1.2M266.9 505.9l.2 1 .3 1.3 .6 .6M318.9 457.7l1 .7 .9 .4 1.1-.2M309.4 448l-.7-.2-.7 0-.1 .8M239.5 433.7l-.1 .8 .6 1.2M290.6 424.9l.7 1.3-.7 .5M303.7 417.5l-1 .3 0 .9M283.4 472.8l-.3-1.4-1.3-.4M304.5 513.3l0-1.2 1.3-.4M338.8 430.2l-1.2 .4-.5 1 .3 .9M258.6 464.5l-1.1-.2-.5-1.2M309.7 491.9l.7-1 1.1-1M229.8 489l.4 1.3 .1 .8M324.5 494.2l-.4-.7-1.3-.7-.8-.8M319.5 452.2l1.3 .5 1-.2M303.9 514.2l.9 .1 .8-1.1M327.9 473.8l.3-.9 .9-.8 .9-.2M298.1 507.9l-.8 .4-.6-1M313 462.7l.9 .3 .8-.9 1 .4M294 509.2l.8 .2 .9 .2M264.9 500.3l-.4 1.3 1.1 .3M271.8 508l-.2 .8-1.2 .1M326.6 418.4l.7 .6 .9-.1 .5-.7M270.7 413.1l.6-.6 1.1-.4M281.5 512.9l-.8-.3 .1-.8-.6-.7M233.1 478.8l.9 1.2 .5 .8 1 .1M337.8 423l.9-.2 .3 .5M272.6 450.1l-.7-.4-.9 .2M237.6 480.2l1.1-.8-.1-.7M250.1 497.7l-1.1 .2-.8 .1-0 .7M315.2 456.2l-.3-1.1-.4-1.1 .6-.4M270.9 441.6l-.1 1.2 1.3 .2M253.6 501.4l-.9-.2-1.2-.3M238.2 413l.1 .8 1.3 .5M251.7 460.8l.7 .7 1-.2 .2-.7M334.3 477.3l-.6 .9-.9 .8M250.1 428.4l.1-1.2 .5-1.1 .7 .1M267.5 491l-.8-.3-.8-.4 .5-1.1M335.4 469.2l0 .9 .1 1.4M268.7 491.6l-.7 .9-1.1 .4-1 .3M242.7 416.3l.4 .8 .5 .5 1.2 .7M263.4 470.8l-1 .1 .1 1.1M322.8 491.3l.7-1.2-.3-1.4M235.2 436.6l-.7-1-.9-1.1M287.1 486.5l-.4 1.4-.8 .8 .8 1.1M315.4 480.7l-1 .2-1.2 .6-1.3 0M278.7 463.1l1.2 .2 .8-.4 .2-.7M296.1 511.2l1.4-0 .6-1.2M256.2 457.4l.8-.9 1.2 .7 1.2 .4M332.8 448.5l-0 1.3-.8 .9M301 411.7l1.3-.3 1-.5M303.1 510l-.8 0-1.3-.3-.3-1.2M267.9 415.9l.8 .5 .7 1.2M253.1 465.3l1.1 .2 .4-1.2M268.6 451.4l-.8 .6-.7 .8 .1 .8M301.3 451.5l-1-.5-.8 .1-1-1M273.2 510.1l-.8 .7-1.3 .4-1.3 .3M259.9 453.3l-1 .6 .3 1.3 .5 1.2M276.1 466.7l1.4 .3 .6-.8-.3-1.4M272.8 480.9l1.1-.7 1.3-.1 1.3-.8M331.7 493.5l-.5-.5 .8-.9 1.3 .4M288.5 446.3l-.9 .5-.7 0-.4 1M261.9 445.6l-1.4-.4-1.2 .4M281.7 455.7l1.3 .4-.3 .9-1.1 .7M287 504.9l.5-1.2-.6-.4-.2-1.2M317.3 506.2l-1.1-.2-1-1 .2-1.2M282.4 502.3l-.6 1.2-.8 .8-.6 .5M331 467.2l-1.4 .2-1.1 0M245 488.4l-1.3 .5-.7-.9-1 .4M247.2 480.9l-.9 1.1-1.3 .7-1.3-.5M245.3 462.6l.7-.5-.6-.9 .6-.4M331.8 461.9l.7-.3-.1-1-.7-.3M292.8 480.5l.1 1.4-.9 1.1M338.4 473.8l-.4-.7 .8-.6M279.1 419.3l-1.3-.1-1 .1-.8 .2M297.4 498.8l-1 .9-1.3-.7 .1-.7M268.9 429.9l-.1-1.4 1.2-.8 1.2-.7M338.1 511.2l.8 .1 .1 .6 0-.1M267.1 509.8l.7 .5 .8 1 1.4 0M301.8 491.6l-.8 .5 .1 1.3-.1 1.1M318.6 435.8l1.2 .1 .2 .8-.3 .7M268.6 439.3l-1.3 .2-1.1-.7M298.3 485.1l.6-.4 .9 1.1M321.8 413.2l-0 .7-.5 .5M233.7 487.1l.2 1-.9 1-.4 1.3M269.5 440l-.6-.9-.9 .6 .1 .8M274.7 454.4l.8-0 .8-1.3 .6-.5M324 496.7l-.9 .1 .1 1.1M277.4 492.3l.6-.4 1.3 .4M230.5 481.9l1.5 0 1.1 .5M259 465.2l.7 .4 .7-.7-0-.7M232.3 425.4l.7 .4 .8 .4M236.5 515.7l0-1.4 .6-.8 .3-1.4M326.7 440.6l-.6 .9-1 .6-.2 1.2M306.9 467.2l-.4 .7-0 .9M233.3 418.5l.5-.7 .7-0M283.3 480.8l-.8 .3-1.3 .3-.9-.1M327.5 428l-.7-1-.9-0M269 458.2l-.4-.9 .6-.9M314.7 472.9l-1.3-.6-.6 1M287.3 422.4l.7-.2 .4-.9 1-1.1M332 471.3l-.1 1 .7 1.3M337.3 499l-.6-.5 .5-.9M243.5 465.9l.7-1.2 .4-.8 .2-.7M245.1 469.6l.3-1.1-0-.8 1-.7M288.1 410.8l.3-1-.9 0 .1 0M332.6 458.9l.3 .8-.6 1.4-1.2-.6M323.7 482.8l.8 .6 .9-.4M240.5 437.6l.9 .3 .9-.2 .2-.9M319.2 485.4l.9-.2-.2-.9M257 452.8l.1-1-.2-1.4M263.7 457.3l.5-1.2 .5-.8M332.6 510.9l.6 1.2 1.1-.4-.3-.8M336.4 492.5l.5-.6 .7-.1M282.2 417.5l1.5 .1 .1 1.2-1.1 .8M260.1 481.1l-1.2 .2-.9 0M304.1 461.4l-.1 1.3-.5 .6 .2 .9M252.7 415.1l1.2-.7 .2-1.3M251.3 459.6l-.8-.3-.4 .7M324 482.8l-.4-1-.2-.8-.9-.4M275.6 481.2l.2 1.1-.5 .7M230.9 419.5l.4-.7-.5-.9-.4-.8M241.3 438.2l-.4 1.2-.4 .8M230.1 487.4l-.1-1.4 1.2-.2M335.9 463.5l.2-.7 1.1-.4 1.3-.1M280.8 425.4l-.6 1.3 .6 1.2M313 459.8l-1 1-.9-1M261.1 505.7l-.6-.4-.1-.9M315.2 487.9l-1.1 0-.8 .9M296.5 418.6l.1 1.4-.6 .4-1.1 .7M261.7 413.2l.8-.2 .7 .6M289.4 452.4l1-.5-.4-1.1-1.1 .4M303.2 510.8l-1.2 .8-.6 1.1-.4 .8M252.7 513.5l-.2-.7-.3-1 .6-1.3M242.6 443.9l0 .8 .9 .4M272.2 509.2l-.2 1.3 .1 .8M335 492.4l.1 1.1 .1 .9M286.1 485.9l-1 .9 0 .9M260.4 426.4l-.7-.2-.1-1.3M331.2 446.3l.7-.2 .7-.4M322.2 415.5l.7 .5 1 .1M312.6 454.2l.7-.3 .3-1.1M236.4 465.5l-1.4 .1-.5-1.1-1.2-.7M328.7 436.2l-.8-.3-.9 .3M254.3 468.2l.9 .5 1.2 .6-.1 1.3M234.8 429.9l-1 .1-.7-.3M312.9 468.6l.6-.6 .1-1.3M295.6 506.3l1.4-.2 .7 .4 .7 .2M306 415.7l1.4 .5 1-.1M268.4 496.9l.3 1-.1 .9M229.9 453.7l-.1-1.2 1-.2M238.7 417.4l.6-.6 1.1-.2M275.7 467.8l-.5 1.2-1.2 .3-1.1 .3M233.7 506.5l.1 1.3 1.1 0 .5 1.3M284.4 443.9l-.9 .8-.9 0M307.9 501.8l-.1-1-1-.3M313.8 459l.2 .8 .6 .5 .6-.7M311.6 451.7l-0-.9-.8-1.1M254 488.6l1.1 0 1.4 0 .8-.1M302 513.3l.6 .6 .3 1.2M258.7 469.8l-.8 .7-1 0-.1-.7M274.7 434l-.5-1.2-.8-.6M237.6 445l1.1 .6 .6-.4 1.2-.6M261.3 466.4l-1 .3-.3 1.1 .1 1.2M244.7 507.2l.3 1.4 1.4 .2M260.5 459.6l-1.3-.5-1.2 .2-.6 .8M266.2 449l-.5 1-.9 0-.3 1.4M253.9 426.1l-.9-.8-.9 0-0-.9M305 504l.5-.7-.9-1M236.7 453.8l-.3 .9 .9 .8 .7 .5M270.5 479.2l-.7 .3-.8-.4-1.3 .3M277.9 419.2l-.9-0-.5-.8M330.2 419.3l-.7-.8 .1-1.2M304.8 503.7l.2 1.3-.2 .7M231.3 450.8l.2-1.4-.5-1M275.1 508l-1.3 .5-.4-.7-.3-.9M257.2 488.9l-.4 .7-1.1 .2-.2-.8M233.1 427.3l-.2-1-.3-1.2-.5-1.3M290.9 512.5l.3 1.3 1.1-.2 .8-.1M274.9 494.7l.6 .6 .8-.3M333.4 511.1l.9-.6 1.4-0M296 468.7l-1 .4-.8 .4M249.3 474.4l-.1-.7-0-1.5M239 474.3l.9-.2 .4 .9-.9 .7M263.8 468.3l-.2-1.4 .6-1.2M317.2 450.9l-.6-1.2-1-.7-1.1-.2M283.7 511.3l-.4-.7-.7-.6-.9-1M233.1 491l-.8-.5-.7-1.3 .7-.7M295.4 430.8l.3 1-.5 .8 .7 .8M315.5 462.6l-.6 .9-.5 1.2-.2 1.2M247.9 410.9l1.2 .3 .9-1 1.4 .4M248.3 454.4l-1.1-.1-.7-.5M262.6 492.5l.3 1-.4 .6 .6 .5M249.3 445.3l1.2 .4 .8 .5M238.1 499.4l.2 .9-.1 1.2M319.6 506.6l.4-1.1-.8-.7M231.6 452.9l-.8-.2-1.1-0-.2 .7M240.3 431.6l-0-.8-.9-.8-.4-1.2M315.4 449.6l.7-.4 .7-.4 1.1-.9M259.1 436.6l.9-.4-.3-1.1-.7-.8M266.4 464.2l.8 .8-0 .8M301.3 443.1l.8-1.2-.4-1.4M242.5 410.4l-1 1-.9 .3M239 436.7l-.2-.7-1.2 .3-.9-.3M274.3 457.4l-.8-.1-.6-1.2M272.9 468.9l-1 .5-1 1-.8-.5M277.4 438.1l1.2 0 .8 .5M321.4 511.6l.1 1.1 .8-0M333.1 427.7l-.8 1.1 .6 1.2-.5 1.4M337.2 512.3l-.7-.3 .3-1.2M325.3 453.2l1.1-.2 0-1.3M243.5 472.2l-.6 .6-1.2 .2-.6 .4M251.3 502.3l.6 .9-.8 .9-.6 1.2M337.5 465.7l1.2-.6 .2 .5-.1 1.1M314.5 505.6l-.2 1-1-.2-.5 .6M292.5 409.9l.2-.1 1.3 0 1 0M242.7 459.1l-.8-.5-.2-.7-.1-1.1M281.9 512.4l-1.2-.5-.4 .6-.6 1.3M328.5 494.8l-.6-.7 .7-.7M298.8 423.7l-.5-.7-.4-.9M262.6 460.4l.3-.9 1.1-.4 .9 .8M232.7 440.4l-.8 1-1.3 .2M318.1 482.3l1-1.1 1 .5M240.8 431.2l.3 1 .9 0 1.3-.5M278.9 499.1l1.5 .3 .8 .1 .6 .5M255.5 476.4l-1.4 0-.7-.5M285 472.4l.1 .7-.8 .2M248.2 465.9l-.5 .6 .8 1.2M308.8 433.7l-.1-1.5 .8-.6 .7-.1M326.8 489.5l1-.3 1.1-.6M309.6 424.6l-1-.5-.7 .6-.8-.5M262.7 453.1l-.6 1-.6 .7M266.3 479.9l-0-.8 .7-.3 .8 .7M230.5 486.1l-.6-.7-.4-.3M236.2 437.8l-.7 1-1-.3M271.8 449.1l-.4 1.3-1 .7M262.4 512.1l-1 .8-.9 .4 .3 1M312.2 468.4l.3 1.2-.8 .5-1.1-.3M241.4 492.1l-.7-.4-.7 .8-.2 1.2M238.4 425.4l-.9 .4-1.1 .1M291.2 451.9l.2 .8-.9 .7M279.7 457.1l1 0 .3-1.2M234.6 420.4l.2 1.1 1.2 .4M293 447.6l-.9-.7-.6-.3M319.7 486.5l-.5-1.2-.7-.3M243.6 419.7l1.2 0 .2 1M330.1 490.6l1.3 .3 1-.8M338.7 510.8l.1-1.3-1-.8-.7-.6M248 487.8l-.9-.8-1.2 .3-.5 .7M234.5 480.2l-.6 1.4-.8 .3M317.6 426.8l.6-.4-.1-1.2M334 470.6l.5 .9 .9 .6M244.8 492.4l-.6 1.1 .4 .6 1-.5M284.4 470.6l1.3-0 1.3 .6M327.8 514.5l-1.4-.4-1.1-.9 .6-1.4M313.5 436.5l-0 1.4-1.1-0M309.1 469.3l-1.3-.1-.6 .9-.8 .6M244 472.4l1.1-.6 .5 .7M300.9 491.3l-.7 .3 .3 .8M250.8 434.7l-.7-.7 .5-.7 1.3 0M235.9 497.9l-.9-1-.8-.1-.3 1M322 442.2l-1 .1-.7-.4-.7-.5M335 429.4l-.7 1.3 .6 .9M315.3 454.2l.1 .9 .9 .9M272.3 459.7l1.3 0-0 1.1M306.2 484.5l.9 .2 1.2-0 .2-1.2M272.9 476.7l.7-.5 1.3-0 .3-1.2M300.1 514l.2-.9-.6-.6-0-1.2M310.5 476.9l.7-.6 .9-1.1-.7-.5M334.2 463.3l-1.2 .5-1 .5M268.9 467l.9-.1 .3-.9 .3-1.3M323.4 423.2l-.2-1.2-.7-.9 .3-.8M232.8 467.9l1 .6 1.2-.7 .8 .1M303.8 477.1l.8-.1 .7 .4M317.9 435l.7-1.2 .3-1.3M266.7 513.8l-1.1 0-.6-1-.6-1M294.9 422l-.4-1 .6-.5M247.5 455.4l-.3 1.1-.1 1.4 1.2 .7M333.5 466.9l-1 .3-.2-.9M290.7 475.1l-.6-1.3-1 .5M247.9 509.1l-.8-0-1.2 .2-.4-1M305.2 433.5l-.3 .9 .1 1.2M330.1 478.2l.9 1 .8 .9 1-.3M322.7 506.6l.2-1.4 .6-1.2M336.7 442.2l-.3 .8-.7 .3M268 424.2l-.7-.9 .6-1.2M290.3 506.4l.2 1.4 .2 1.2M289 421.8l-.1 .9-.2 1.1M298.8 451.9l.7-.2 .5 .7 .8 .5M233.6 512l-.8-.7-.2-1.4 1.3-.5M322.5 513.9l-.4 1.2-0 .7M301 465.7l-1.1 .8-.8-.2M317.2 509.5l.3 1.1-.5 1.2 .6 1M282.6 453.8l.5 1.1 0 1.2-.3 .9M321.7 449.9l.8 1-.4 .7-0 .8M233.5 504.6l.4 1.1 .1 .7M238.2 484.3l.2-1.3-.4-.6M312.3 483.6l-.7-.2-.7 1.1M254.8 479.2l.5-.7-.6-.6 .9-1.1M242.4 504.8l-1.1 .4-1.2 .1 .1 1.2M304.6 508.9l-1.3 .3-1.1-.2-.2-.8M328.5 496.9l.9-.4 .4-.6M295.6 515.2l-.8-1.1-1.1-.3M318.5 495.8l.2-.8 .4-.8M338.5 445.3l.5 .8 0-.1M246.9 413.4l1.2-.7-0-.9-1.2-.1M293.6 455.6l-.7-.6-.1-1.1 .4-.7M238.4 469.2l-1.1-.3-.9-.4M326.1 456.8l-.6 .7-.9-0-.2 .7M264.3 475.1l-1.1-0-.6 .4M260.9 427.9l-.2 .8 .7 1 .1 1M337.2 496.8l-.4-.7 .3-1.4 .9-.8M258.4 470.1l-.9 .5-1.4-.2M299.8 442.6l-0 .9-.2 1.1-1.1 .4M289.4 437.4l1-0 .4 1.4 1.3 .2M326.6 438.8l.2 .8-.2 .8-1.2-.2M278.4 487.3l.7 .7 .8 .5M309.1 508.9l.4 1.1-.1 1.4 1.3 .6M261 446.7l-1 .2-.6-.5-.5-1.1M257.4 467.6l-1 .9 .2 .7M293.5 480.1l1.2-.9 .3-.8 1.2-.8M316.8 470.4l0-1.1-1.2-.9M307.4 487.9l.5 .9-.5 .8M297.5 415.4l-.6 .8-.8 .5M266.6 453.7l-.1-1.4-.6-.5-.8 .5M250.9 481.9l1-.1 .4 1.4M239 417.9l-.2 .8-.8 .4M305.8 454.1l.7-.7 .9-1 .2-.8M237.3 447.4l.7 1-.5 .9M315.4 422.6l1.1 .1 .5-1.2 .1-.7M267.4 413.9l.9 .9 .4 1.1M263.2 428.3l-.9 .4-1.1 .4M239.7 482.4l-.7 1 .8 .8M250.5 471.9l.6-1.4-.9-.8-.2-.8M307.1 498.2l.6-.9-.7-.7-.9-.2M231.2 434.9l-.2 .7-1.4 .1-.1-.2M310.9 450.2l.7 1 .7 .3 1 .5M289.9 436.4l1.3-.2 .9-.3 .5-.6M288.8 508.8l.2-1.5 .8-.8M241.4 437.6l-.8-.8 .5-1.2-.6-.8M283.1 478.4l.3 1.4-1.4 .4M237.2 415.7l.5-1 .4-.6M313.3 445.5l.6-.5 1.1 .4M282.5 425.5l-.8-.3-1.1-.4-.9-.5M338.2 449.1l.8 .8 0-.1 0 .8M248.6 440.1l1.1-.6-.2-1.4-.2-.7M229.7 413.6l1.2-.5 .1-.7-.4-.7M242.2 439.7l-1.4 .4-.9 .7-.1 1M291 490.9l-1.1 .2-.7 .5-.3 1" stroke="#3440b0" stroke-width="0.75" fill="none" stroke-linejoin="round"/>
<path d="M279 450.6l-0 1 .7 .9M304.2 446.7l1.1 .6 .7 .5M241.4 512.1l.8-1 .7-.1 .8 .4M310.7 471.9l.5 1.4 .7 .4M326.2 460.5l-.6-1.1 .3-.7 .1-1.2M235.1 411.8l-.6-1.1 1-.5 .3 .6M338.3 410.2l-0-.4 .3 0-.8 0M284.2 477.3l-.6 .4-1-0-.4 1.2M265.4 501.1l1-.2 .8 .9-.5 .9M291.8 455.7l-1.2 .5-.9 .3-.2 1.1M296 510l.7 .6 1.2 .4 .6-.4M232.2 477.8l-1.3-.6 .1-1.3M276.5 478.8l-.6 1.2 .6 1M315.5 446.6l1.1 .7 .9 .4M282.8 451.2l1.1 .4 1-1.1M278.1 443.4l-1.3 .5-.7-.8-.1-1.1M264 504.5l-.4 1.1 .1 1.1 .2 .8M285.9 420.1l-.5-.6-1-.1-1.3-.2M287.2 508.2l1.2 .4 .4-1M233.3 502.4l-.1-.9 1-1.1 1.2 .2M331.5 462.5l-.1 .8-1.5-.3-.7 .3M296 426.9l.7-.9 1.1-.6-.5-.9M332.9 420.6l-1.2-.8 .6-1.2 1.4 .1M328.7 443.9l.6-1.3 .7 .3M290.3 478.2l1.1 .1 .5-.8M322.2 412.7l-.6 .6 .2 1.3M334.5 503.5l1.1 .4 .6-.7M319.3 463.2l.8 .9 .3 1.4M246 453.3l.5 1-1.2 .7-.8-.2M316 497.3l.8-.7 .6-.5 .4-1.2M279.4 463.4l-.1-.7 .3-1M233.5 477.1l.9 .1 .8-.8M248.5 434.5l-1.2-.7-1.2 .7M262.8 410.9l-.7 1.1 .3 .7M230.8 419.4l.4-.9 1.2-.5 .7-.2M273.4 443.8l1.4 0 1.5 .2M235.9 431.7l-.9 .9 .4 .8 1.2-.2M296.9 510.1l.1-1.4-.8-.8-.1-1M234.6 485.7l.3-1.2-.6-.7M255.9 421.4l.4-.7-.8-.5M319.4 459.3l1.2 .2 1.4 .4 .2 1.2M270.5 470l.6 .6 .7 .5M247.4 411.2l-.5-.6-.7-.7M302.5 509.3l.6-.5 .9-.9 1.1-.4M303 488.6l.7 0 .5 1-.2 1M268.1 437.8l.3 .8 .8-.1 .5 .5M338.5 480.1l-.6 1 .5 .5 .6-.5M332.3 427.2l-1.2 .1-.6 .8M271.8 488.7l-.1-1.4 .6-1 .2-1.4M276.7 467.4l-.8-.8-1.2 .7M321.5 438.5l-1 .7-.8-.9-1.1 .7M308.1 489.1l-1.3-.3-.5 1.3M256.1 419.2l-.4 1 .8 1M280.7 419l1.4-.2 1.1-.8M277.3 445.2l0-1.2 .6-.4 1 .4M330.1 498l.3 1.5-.5 1-.7 .1M281.6 434l-.6-1.2 1.2-.8 .8-.3M235.2 476.4l1.1 .4 .1 1M230.5 480.2l-.3-1.1-.8 .1M282.7 428.7l-.8 .8-.9-.7M263.7 459.3l-.3 1-1.2 .5M240.8 423.2l.2 1.3-.2 .9-1.4 0M235.6 512.7l.1-1.5-.6-.8M283.5 504.5l-0 .8 1.4-0M304.1 435.3l-.7 .8-.8 .1-.7-.7M269.9 483.1l1 .1 .7-.7 1.2 .2M305.1 470.2l.4-1.2-1.4-.4-.8 1M327.7 410.2l-.9 .6-.3 1.1-1.2-.1M336 470.7l.9-1.1 1.3-.6 .7 .4M266.1 428.2l.9 0 1.1-.3 1-.6M309.7 426.7l-1.3-.1-.1-.9 .7-.2M300.3 427l0-1.3 1.1-.4 .8-.3M314 420l-1-.4-.7-.1M289.8 494.7l0-.8 1.3-0M238.5 470.4l-1.4 0-.2 .8M255.4 425.3l-.4 .6-.4 .8M236.6 425.1l-.9-.7 .3-1.2-.2-1M242.7 515.3l.2 .5 .6 0M297.8 482.9l-1.1-0-.3 1.3M300.1 455l-.7-.8-1.3-.1-.5-.6M238.4 513.4l1.2-.1 .1-.8M248.5 475.4l-.4-.8-.3-.9 .2-1.4M334.9 413.4l.1-.8 .9-.5 .3-.8M327.2 412.2l.8 .1 .9-1M281.5 469.7l-.6-.6 .7-.7M264.3 445.3l-.9 .4-.9 1M252.3 472.5l1.1-.9 .7 .3 .7 .6M270.7 464.6l1-.9-.5-1.4 .6-.8M314.4 508.1l.3 .7 .8 1 1.2-.6M295.6 480.6l-0-1.4-1-.6-.8-1M288.2 499.5l.3-1.4-1-.6 .1-.8M257.4 421.1l.8 .3-.3 .9 .5 .9M251.2 463.6l1.5-.1 .1 1.1-.1 .9M256.5 507l-.6-.4-.8-.2-.1-.8M317.4 473.4l-1.1-.1-.1-1M257.5 458.7l-1.1 .1-1-.2M249 496.8l.8-.4 .9-0M312.4 504.8l.5 .6 1.4-.2M253.5 460.3l1 1.1-.4 1.2M279 477.7l.8 .5 .7-.4M302.2 508.9l-.3-1.3-.4-1.3M237.3 436.1l-1.3 .1-.7 1.2M307.9 499.4l-1.1 .5-.5 .7-.4 .8M248.5 454.7l-1.2-.6-1-.6-.9-.5M281.7 449l-.2-1 1.2-.3M242.9 410.1l.8 .1 .6-.4 .8 .1M307 470.9l-.8 .7-.7 .7-1.2-0M327 492.2l-.9 .6-.5-.5M261.8 499.5l.5-.8 .8-.5 .5-.5M336.1 410.1l1.1-0 .7-.2M300.9 474.7l-.8-.8-1.2 .4-.3-.7M268.8 488.5l.1-.9 1.3-.5M299.7 433.8l-.4 .7 1.2 .9 .8 .2M251.6 513l-1.3 .2-1.3 .6-.3 .6M248.1 470.8l.8-.4 .7-.3 .8-.2M273.2 440.5l-.8-.1-.5 1.3 1.2 .7M266.9 473.1l-.4 1.2-.3 1.3M233.8 497.3l-1.2 .4-.7-.5M260.6 453.7l.5 .7 .1 1.2-1 .3M262.5 478.3l1.1-.1 .8 .3M230.1 483.8l-.6-1.2 0-.7M313.2 453.6l-1.1 .4-.7 1-1.4-.6M304.2 455l.8 .8 .8 1.2 .8-.1M290.5 501.9l.6-.4 .7-.7 1.2 .3M296 443.8l-1.3 .3-.7 .9M232 418.1l.4-1.4-.7-.6M274.5 477.2l-1.2-.1-.5-.8M309.8 501.1l-1.5 0-.3-1.4M258.5 424.8l1.4 .4 .9 .5M291.3 449.9l-.1-.9 .5-.7M304.1 503.2l1.2-.7-.1-.9M235.2 482.9l.9-0 .8-1M330.3 468.9l-1 1.1-1.1-.8M283.5 451.7l-1.1-.1-1.2-.6-.6 .4M269.8 498.3l-1.1 .2-.9 .8M333.3 445.7l.9-.1 .7-1.1-.4-.7M238.1 411.5l.9 1.2 .8-.2M299.3 507.7l-.2-1.2 .3-.7M318.9 471l-1 .8-.9-1.2M321.6 501l.7-.9 0-.7 .9-1M284.2 483.3l-.7-.7-1.2-.8M282.4 451.9l-.2-.9 1.2-.3 .5-.9M283.1 481.2l-1 .2-1.3-.2M311.1 415.9l.1 .7 .9 0 1.2 .3M285.4 506.6l-.7-.9-1 .2M234.4 447.7l-1.2-.1-.6 .4-1.2 .2M281.3 498.6l.7-.2 .3 .7M261.6 508.1l.9-.2 .9 .3M301.4 462.6l-.5 .5 .5 .6M269.9 441.9l-.6 .4-.9 0-.7-.5M335.1 427.1l1.2-.4 .1-.8M327.5 499.8l-1.1 .4-1-0-.4-1.3M303.8 412.4l1.4 0 .2-.7M320.3 425.8l-.9 .7 .5 1M233.2 430l.6-.8 .8-.3M260.4 469.1l1.2 .4 .5 1.1M293.4 438.2l0 1.4 1.1 .1 1-1.1M232.3 443.5l-1.4 .3-1.4 .3 0-.9M250.5 486l-1.1-.2-.3-.6M324.3 469.7l.4-1-.4-.6M295.1 412.9l1.1 .9 .7 .6M292.9 447.7l-.3 1.2-.1 1.3 1 .5M318.7 421.5l.1 .9 .4 .8M323.5 456.4l-.7 1.3 .4 .9 1.2-.2M280.4 457.2l.5-.6-0-1.4M312.5 506.7l.6-.4-.4-.8M306 453.7l1-.9 .9-.6 1.2 .3M261.3 507.7l.6-1-1-1.1-.6-.8M273.5 440.2l0 1.2 1 .8M318.9 449.6l.5 1.4 1.4-0M293.6 507.7l-.1-1.1-.7-.2M280.9 502.6l.4 .7 .8 1.1-.2 1M255.8 431.6l1.2-.9-.3-1 .5-1M309.9 421.1l-.1-.9-0-.9M306.5 455.4l.3 1.2-1.1 1 .7 .7M262.1 489.3l-.7-.3-.6-1M330 477.1l1.3-.6 1 .2-0 .8M301.3 461.6l.4-.8 .6-.7 1.1-.3M249.7 478.4l.2-1.3-.6-.7M303.7 503.6l-1.3-.6 .2-.8-.4-1.1M303.4 500l-.4-.8 1-.5M284.2 494.1l.7-.2 1.3 .6M336.1 440l.6 .5 .8-.2M271.7 476.4l.1-.8 .9-.2M248.2 438.3l.2 1.4-.8 .8M322.4 474.9l-1.3 .4-.8-0-.6 1.2M303.4 509.6l-.7 .1-1.4 .1M324.9 469.9l.7 .2 1.2-.8 1.3 .3M238 475.1l1-.5-.2-1.2-.2-1.4M292.5 511.9l-.9 .7-.8-.1-1.3 .6M274.2 461.3l1-.4 1 .5 .6 1.4M247.1 412.7l-1.2 .7-.7 .2 .1 .9M332.5 435.8l1.1 .4 0 .7-.1 1.2M314.4 454.1l-.8 1.1-.9-.6M260.4 461.6l1.2 .8 1.1 .4 .9 .4M307.3 457.5l-.9 .1-.5-.7 .2-1.4M334.3 501.3l-.3-1.2 .6-.6 1.1 .4M237.1 428.3l-.4 .8-.6 .8M237.9 448.6l1-.7 .9-.9-.2-.9M268.6 473l-1.1-.1-1 1-.3 1.4M289.4 471.2l.9 .2 .9-.5M304.4 440.6l.8 1.1-.6 .6-.4 .9M334.3 415.1l-.4 .9 .2 .7M288.5 460.7l-.7 .7 0 1.3M267.8 449.2l-.2-1.1-.9-.2M256.1 502l.5 .9 .3 .6-.4 1.3M263.3 466.1l-.7-.8 0-1.4M280 469.8l-0 1.3 .7 1.3-.2 1.1M270.3 461.5l0-1.1 1-.9M309.2 487.5l-.8 .9-.3 1.2 1.4 .5M259.5 425.2l.6-1.1 .9 .3M274.2 507.2l-.9-1.1-.8-1.2M284.6 466.2l1.1 .9 .3 1.3M283.9 444.1l-1 .1-.1 1.1M254 435.4l-.3 .9-1.1-.4-.2-1M312 463.4l-.9-.5-.9 .3-1.1 1M252.5 433.3l-.7-1.1-.7 .3M314.9 425.3l-1.2-.4 .1-1.1M229.9 410.7l.8-.9 .3 0M254.7 476.6l-.1-.7-.4-.6 .6-.4M318 436.1l.2 1.4-.9 .2M336 413l-1.1 .3-.8 .6-.8-.5M315.1 427.8l.8-.2 .4 .7M249.1 439.6l.1 .8-.9 .9-1.3 .3M284.4 453.8l.4-.6-.6-1.1-.3-.8M323.9 419.3l-.8 .4-.9 .8-.5 .6M236.1 484l-1.4-.3-.6-.9-.6-1.2M310.2 424.1l-.2-.7 .3-.9M251.9 441l.4 1.4 .5 .7-.6 1.1M238.7 501.6l.9 .6 1.3 .6 .7 .5M253.2 502l.3-.8-.4-.8-.5-.7" stroke="#f0dc50" stroke-width="0.75" fill="none" stroke-linejoin="round"/>
<path d="M244.9 412.3l1 .8-.4 1.3M333.6 416.3l.4 1.4 1 .8-.7 1M285.6 452.3l1-.5 .6-.8M297.5 478.4l.7 .6 1.3-.5 1.2-.4M274.7 511l.5-1.2 .1-.7M241.9 441.4l-1 .5-1.1-.2M294.8 472.8l-.1 1.1-.1 .8-0 .9M253.6 449.5l-.5 1.3-.5 1.4M270.3 420.3l1.2-.7 .5-1.1 1-.6M314.8 410.3l-1-.5-1 0M324.2 449.8l-1.4 .1-.4 1.1-1.2 .8M327.2 508.2l1.1 .9 .1 .8 .9 .8M262.7 422.4l-.8-.5-.7-1M335.6 452.2l-.7-.3-1-1.1M326.1 498.8l-.1-.8 .1-.9M331.1 413.7l-1.3 .4-.8 .2M287.3 436.9l.7 1 1-.1 1 .3M241.6 444.9l1.2-.2 1.3 0 .8-.4M229.7 478.9l.6 .8 .1 .7 .7 .5M328.4 506.4l-.9-.1-.3-1.3M233.5 470.2l0-1.3 .3-1.4-.9-.9M240.3 431.3l-.8 .5-1.1-.3-1 .7M274.8 459.7l-.2 1.1 .6 .6M279 449l-.1 .7-.3 .8M300.3 410.6l-.6 1.1-.5 .7-1-0M304.2 510.9l-.8-.5 .5-1.4-.9-.6M313.1 478.6l.9-.9-.1-1.4-.3-.8M261.1 417.5l1.1-.6 .1-1M248.6 500.6l-1.3 .4-.8-.1M261.2 469.5l-.1 1.1 1.2 .2M332 475.2l-1.2 .7-1 .1M306.3 480.2l-1.2-.4-.6-.5M249.7 427.3l1.1 .5 1.3-.4-.2-1.2M248 488.9l-1.3-.4-.1-1-.4-.8M256.8 426.6l.4 1-.2 1.2M251.4 455l-1.2 1-1.4-.1M320.1 482.2l-.1-1.1-.6-.6-.9-1M294.3 479.6l1.4-.4 .6 1.1-.4 .6M278.5 455.8l-.3 1.3-1.4-.1M291 459.4l.8-.7 .6-1.3M274.4 474.3l1.4-.4 1.3-.6 .5 1.1M257.2 484l-1.1 .4 .2 .7M320.1 427.3l.1 .9 .9 1.2-.7 .6M316.4 511.2l.8 .1 .2 .9 1.4 .4M287 450.7l.5 1.1 1 .5 .8-.8M304.2 439.2l.1-.9 1.1-.1 .9 .1M291.4 418.7l1 .6-.2 1M275.4 496.5l-1.1-.3-.6-.9-1 0M270 498.2l.5-1.1 .7-0-0 1.5M230.2 433l.9-.1 .2 .9 1.4-.1M235.5 491.8l1.2 .7 .9 .6M311 426.9l-.2-.8-1.3-.4-.1-1.1M319.5 491.9l.9-.5 .8-.6 1 .6M331.5 456.2l.6 1.4 0 .7-.3 1.3M263.4 513l.8 .1 .5 .7M276.6 480.3l-.2 .9 1 .4-.3 1.3M230.3 507.5l-.8 .7 0-1M280.7 510.5l-1.1-.3-0-.8 .2-1.3M289.4 446.7l-1.3-.7-.7 .4-0 1.2M307.4 463.2l.7-.8-.8-1.1M316.4 487.9l1-.5 .4-1.4M283.7 441.8l.2 1 .2 1.2M232.4 506.8l-.8-.6-1.4-.3-.4 .6M323.7 426.8l-.5 .5-1-.8M251.7 495.6l.9-.2 .2-.8 1.2-.2M255.6 499l-.6 .6-1.3-.1M321.5 464.8l-.2 .7-.6 .7 .7 1.1M272.6 474.5l-.1-.7 .4-.8M334.6 467.3l-.8-.4-1.1 .3M321.1 437.6l1 0 .7-1.2M304.3 514.4l.8 .6 .6 .7 .4 0M251.9 503.7l-.6 1-.9 1.2 .8 .8M249.1 423.5l.6 .8 1 .8M301.7 506.3l-.3-.7-.1-.8M334.2 412.4l-1 .3-1.2 .8M257.8 488.2l-1-.4 .1-1.1-.7-1.1M282.3 414.2l.5 1 .8 .5 1.3 .7M249.8 419.8l-.8-.5 .3-1.5M281.8 474.2l1.3 .1 .3-.7M311.3 412.8l1.1-.5 .3-1.2-.8-1.2M231.5 418.4l.2 1-.3 1.1 1 .4M264.2 512.7l.1-1.3 .6-.7M273.7 468.2l.4-1-.5-.8 .6-.6M290.1 434.6l.7-.4-.1-1.2 .9-.5M271.2 456.8l.7 1.2 .2 .7 1.2 .6M286.4 427.5l.8-1.2-.7-.8 0-1.2M327.7 415l.6 1.3-0 1.3M254.3 448.3l-1.2 .7-1.1 .8M274.5 441.7l-.9 0-.8 .9-1 .3M318.9 418.2l-0 .9-1.4 .2 .2 1.3M298.4 425.6l1.1 .2-0 .9M236 486.3l-1-.8-1.1 .9M279.3 462.8l-.9 .5-1.2-0-.7 .9M334.8 466.8l-.5-.7 .6-1 .1-1M286.8 500l.4 .8 1.4-.3M293.5 431.5l1.1-.5 .6-.9 1.1-.3M291.2 440.7l1.4 .2 .7 1.3M242.3 435.9l.9 .1 .3 .9 1.3 .2M289.8 457.2l.7 1.1 .3 .9-.5 .7M267.3 507.3l.3 .8-.7 .3-1.1 .5M247.4 477.1l-.3 1.3 1 .2 .1 .8M327.2 496.7l1.4-.1 .6-.6 .6 .6M332.6 424.7l-1.4-.2-.3-1.3-1.5-.3M306.8 490l.5-.8 1.1 .7 .1 1.1M242.7 435.3l1.4-.3 1.3-.1M327.3 417l-.1 .8 1 .2 1-.7M336.1 444.8l.3 1.3 .8 .2 .6-.7M283.6 490.8l-1-.2-1.1 .3-1 .8M307.9 450.2l-1.4 .5-.3 1-1.1 .8M267.8 451.5l-.2-1.3-.3-.9 0-1.4M337 496.1l-1.2-.1-.8 1-.8 .1M320.3 430.3l.9 .8 .5 1.2-.2 .8M317.9 506.4l.3-.9-.1-.8M317.6 465.4l.7 1 1.1 .1M262.3 494.6l.8-.8 1.4-.2 .8-.1M229.5 513l.6-.8-.6-.8M232.4 430.3l-.7-.1-.2 .8M296.5 488.8l1.3 .7-.6 1.1 .5 1M290.1 461l1.1 .9 .9 .9 .6 .5M336.1 435.8l-.2-1.2 .8-.7 1-.3M235.3 432.1l-.5-.7-1.4-.2M264.8 472.5l-.6 .8 .2 .9M265.5 509.5l1-.3 .7 .6M236 417.6l.9 0 .7-.1 1.1 .1M311.4 486.4l-0-1-.7-.3M252.3 493.4l-1 .7-.1 1.1-.3 .9M253.6 425.3l.1-1.2 .3-1.1-.3-.7M326 411.2l1.2-.1 .1-.7M311.5 467l-1 .2-1.2-.5-.6-.4M233.1 467.6l-1.1 .4-.6-1.1 .4-.6M301.5 460.3l-.3-1 .4-1.3M333.4 505.7l-.1-1.3-.8-.1M279.3 423.5l-1.1-.1-.7-.3-.1-1M324.8 471.6l-.5-.8-.5-1.2M263.7 499.2l.9 .6-.4 .6M324.3 486.5l.8-.6 .1-1.5M249.9 453.1l.3-1.1-.3-.7M260 486.7l1.2 .4 .6-1 1.2 .1M245.8 468.8l1 1-.3 .8 .4 .9M263 414.5l.3 1.3 .6 .5 .8 .5M305.9 431.5l1.2-.1 .6 .8M272.6 503.6l.2-.8 .5-.7 .6-.6M258.4 465.4l.5 1.4 1.3-.5M242.1 411.4l.6-1.2-.4-.4-.2 0M268.2 424.4l-.2 1.1-.8 .4M287.5 502.5l.7 .8 .4 .6 .8-.3M253.1 456l-1 1-.4 .6-1 .2M245 434.6l-.4-.8 .8-.5 .8-0M313.7 483.8l-.7 .1-1.2 .7 0 1.4M278.5 501.3l-.9 .4-.4-.9 .8-.6M249.6 490.5l.9 .3 .7 .1M325.5 485.6l-.6 1 .2 .9 .9 .2M291.7 460.6l1.3 .5 1.2 .6 0 1.1M281.8 417.4l1-.1 1.1-.5M309.7 431.7l.2-.9-.9-.7 .5-1.2M273.6 484.2l.7-.7 .3-1.1-.9-.4" stroke="#66caca" stroke-width="0.75" fill="none" stroke-linejoin="round"/>
<path d="M267.8 473.7l-.8-.9-.8 0-0-.9M324.3 443.5l-.6 .9 .6 .4M338.2 469.6l-1.2-.1-.7 .8-1.2 .7M321.7 419.3l.9-.3 .6-1.3M305 442.8l.1-1.5-1-.8-1.1-.4M321.2 502.2l1.3 .1 .8-.8 0-.9M241.1 435.7l.9-.9 .1-.9 1.2 .1M334.2 445.5l-.6 1.2-1.4 .5-1.3 .6M279.9 475.1l-1.3 .1-.8-.5-.9-1.2M332 463.1l-.1-.9 1-.6 .7-.7M308.7 419.2l-.9-.1-1-0M294.3 459.3l-.6 .7-.1 .9M320 447.9l-.2 1.3 .7 1M332.3 412.2l1.1 .3 .6-1.3 1-.1M239.7 450.1l-.8 .3-.2 1.1M290 479.5l.3-1.1-.6-.6M259 493l-.9-.5-.5-.5M315.2 433.3l.3 1 .8 1-.6 .9M240.6 502.2l-.8 1.2-.7 .1M244.1 503l.8-0 1.1-.6 1-.5M334.5 447.3l-.1-1.2 .4-.8-.7-.5M321.7 474.9l-1.2 .2-.2 .9M309.6 440.6l-.9 0-1.2-.3" stroke="#9a60c0" stroke-width="0.75" fill="none" stroke-linejoin="round"/>
<circle cx="340" cy="501.2" r="1.2" class="gH"/>
<circle cx="341.6" cy="489.5" r="1.2" class="gO"/>
<circle cx="340.7" cy="412.7" r="1.2" class="gO"/>
<circle cx="335" cy="500.7" r="1.2" class="gO"/>
<circle cx="339.2" cy="445" r="1.2" class="gH"/>
<circle cx="335.9" cy="445.6" r="1.2" class="gO"/>
<circle cx="337.3" cy="462.6" r="1.2" class="gO"/>
<circle cx="338.1" cy="432" r="1.2" class="gO"/>
<circle cx="335.6" cy="432.1" r="1.2" class="gH"/>
<circle cx="335.9" cy="421.4" r="1.2" class="gO"/>
<circle cx="337.8" cy="424.5" r="1.2" class="gO"/>
<circle cx="340.4" cy="467.7" r="1.2" class="gO"/>
<circle cx="338.1" cy="477.5" r="1.2" class="gH"/>
<circle cx="336.6" cy="413.4" r="1.2" class="gO"/>
<circle cx="335.5" cy="446.1" r="1.2" class="gO"/>
<circle cx="337.5" cy="437.3" r="1.2" class="gO"/>
<circle cx="337.1" cy="497.7" r="1.2" class="gH"/>
<circle cx="335.1" cy="457.7" r="1.2" class="gO"/>
<circle cx="337.6" cy="440.3" r="1.2" class="gO"/>
<circle cx="339.9" cy="434.3" r="1.2" class="gO"/>
<circle cx="335.3" cy="427.6" r="1.2" class="gH"/>
<circle cx="341.7" cy="447" r="1.2" class="gO"/>
<circle cx="335.8" cy="512" r="1.2" class="gO"/>
<circle cx="339.4" cy="510.5" r="1.2" class="gO"/>
<circle cx="337.3" cy="495.2" r="1.2" class="gH"/>
<circle cx="335.3" cy="435.7" r="1.2" class="gO"/>
<circle cx="340.4" cy="464.7" r="1.2" class="gO"/>
<circle cx="340.4" cy="451.1" r="1.2" class="gO"/>
<circle cx="341" cy="419.1" r="1.2" class="gH"/>
<circle cx="339.2" cy="430.6" r="1.2" class="gO"/>
<circle cx="336.4" cy="502.8" r="1.2" class="gO"/>
<circle cx="337.9" cy="495.5" r="1.2" class="gO"/>
<circle cx="336.9" cy="486.9" r="1.2" class="gH"/>
<circle cx="341.2" cy="476.2" r="1.2" class="gO"/>
<circle cx="336.6" cy="480.5" r="1.2" class="gO"/>
<circle cx="341.5" cy="494.3" r="1.2" class="gO"/>
<circle cx="338" cy="452.5" r="1.2" class="gH"/>
<circle cx="335.7" cy="490.9" r="1.2" class="gO"/>
<circle cx="336.1" cy="433.7" r="1.2" class="gO"/>
<circle cx="335.2" cy="428.1" r="1.2" class="gO"/>
<circle cx="337.6" cy="460.6" r="1.2" class="gH"/>
<circle cx="336.2" cy="455.1" r="1.2" class="gO"/>
<circle cx="340.2" cy="421.1" r="1.2" class="gO"/>
<circle cx="335.9" cy="465.3" r="1.2" class="gO"/>
<circle cx="341.1" cy="506.4" r="1.2" class="gH"/>
<circle cx="338.9" cy="420.5" r="1.2" class="gO"/>
<circle cx="340.9" cy="514.2" r="1.2" class="gO"/>
<circle cx="341.1" cy="466.2" r="1.2" class="gO"/>
<circle cx="337.6" cy="472" r="1.2" class="gH"/>
<circle cx="340.4" cy="514.4" r="1.2" class="gO"/>
<circle cx="338.4" cy="463.7" r="1.2" class="gO"/>
<circle cx="337.1" cy="467.2" r="1.2" class="gO"/>
<circle cx="338.7" cy="440.4" r="1.2" class="gH"/>
<circle cx="338.1" cy="506.2" r="1.2" class="gO"/>
<circle cx="336.6" cy="437.4" r="1.2" class="gO"/>
<circle cx="337.1" cy="500.3" r="1.2" class="gO"/>
<circle cx="337.1" cy="497" r="1.2" class="gH"/>
<circle cx="341.3" cy="502.1" r="1.2" class="gO"/>
<circle cx="340.5" cy="431.3" r="1.2" class="gO"/>
<circle cx="338.1" cy="496.6" r="1.2" class="gO"/>
<circle cx="336.7" cy="473.6" r="1.2" class="gH"/>
<circle cx="340.9" cy="508.1" r="1.2" class="gO"/>
<circle cx="337.4" cy="423.4" r="1.2" class="gO"/>
<circle cx="335.2" cy="443.9" r="1.2" class="gO"/>
<circle cx="338.7" cy="440.2" r="1.2" class="gH"/>
<circle cx="340.6" cy="478.6" r="1.2" class="gO"/>
<circle cx="339.2" cy="497" r="1.2" class="gO"/>
<circle cx="337.2" cy="478.6" r="1.2" class="gO"/>
<circle cx="337.4" cy="441.1" r="1.2" class="gH"/>
<circle cx="335.8" cy="493" r="1.2" class="gO"/>
<circle cx="341.1" cy="414.2" r="1.2" class="gO"/>
<circle cx="339.9" cy="417.5" r="1.2" class="gO"/>
<circle cx="337.8" cy="443.9" r="1.2" class="gH"/>
<circle cx="341.1" cy="456" r="1.2" class="gO"/>
<circle cx="338.5" cy="448" r="1.2" class="gO"/>
<rect x="348" y="410" width="19.5" height="104" fill="#474747"/>
<circle cx="354.4" cy="410.2" r="4.4" class="gS"/>
<circle cx="354.4" cy="417" r="4.4" class="gS"/>
<circle cx="354.4" cy="423.8" r="4.4" class="gS"/>
<circle cx="354.4" cy="430.6" r="4.4" class="gS"/>
<circle cx="354.4" cy="437.4" r="4.4" class="gS"/>
<circle cx="354.4" cy="444.2" r="4.4" class="gS"/>
<circle cx="354.4" cy="451" r="4.4" class="gS"/>
<circle cx="354.4" cy="457.8" r="4.4" class="gS"/>
<circle cx="354.4" cy="464.6" r="4.4" class="gS"/>
<circle cx="354.4" cy="471.4" r="4.4" class="gS"/>
<circle cx="354.4" cy="478.2" r="4.4" class="gS"/>
<circle cx="354.4" cy="485" r="4.4" class="gS"/>
<circle cx="354.4" cy="491.8" r="4.4" class="gS"/>
<circle cx="354.4" cy="498.6" r="4.4" class="gS"/>
<circle cx="354.4" cy="505.4" r="4.4" class="gS"/>
<circle cx="354.4" cy="512.2" r="4.4" class="gS"/>
<circle cx="368.6" cy="410.2" r="4.4" class="gS"/>
<circle cx="368.6" cy="417" r="4.4" class="gS"/>
<circle cx="368.6" cy="423.8" r="4.4" class="gS"/>
<circle cx="368.6" cy="430.6" r="4.4" class="gS"/>
<circle cx="368.6" cy="437.4" r="4.4" class="gS"/>
<circle cx="368.6" cy="444.2" r="4.4" class="gS"/>
<circle cx="368.6" cy="451" r="4.4" class="gS"/>
<circle cx="368.6" cy="457.8" r="4.4" class="gS"/>
<circle cx="368.6" cy="464.6" r="4.4" class="gS"/>
<circle cx="368.6" cy="471.4" r="4.4" class="gS"/>
<circle cx="368.6" cy="478.2" r="4.4" class="gS"/>
<circle cx="368.6" cy="485" r="4.4" class="gS"/>
<circle cx="368.6" cy="491.8" r="4.4" class="gS"/>
<circle cx="368.6" cy="498.6" r="4.4" class="gS"/>
<circle cx="368.6" cy="505.4" r="4.4" class="gS"/>
<circle cx="368.6" cy="512.2" r="4.4" class="gS"/>
<circle cx="347.1" cy="412.9" r="4.4" class="gS"/>
<circle cx="347.1" cy="419.7" r="4.4" class="gS"/>
<circle cx="347.1" cy="426.5" r="4.4" class="gS"/>
<circle cx="347.1" cy="433.3" r="4.4" class="gS"/>
<circle cx="347.1" cy="440.1" r="4.4" class="gS"/>
<circle cx="347.1" cy="446.9" r="4.4" class="gS"/>
<circle cx="347.1" cy="453.7" r="4.4" class="gS"/>
<circle cx="347.1" cy="460.5" r="4.4" class="gS"/>
<circle cx="347.1" cy="467.3" r="4.4" class="gS"/>
<circle cx="347.1" cy="474.1" r="4.4" class="gS"/>
<circle cx="347.1" cy="480.9" r="4.4" class="gS"/>
<circle cx="347.1" cy="487.7" r="4.4" class="gS"/>
<circle cx="347.1" cy="494.5" r="4.4" class="gS"/>
<circle cx="347.1" cy="501.3" r="4.4" class="gS"/>
<circle cx="347.1" cy="508.1" r="4.4" class="gS"/>
<circle cx="361.4" cy="412.9" r="4.4" class="gS"/>
<circle cx="361.4" cy="419.7" r="4.4" class="gS"/>
<circle cx="361.4" cy="426.5" r="4.4" class="gS"/>
<circle cx="361.4" cy="433.3" r="4.4" class="gS"/>
<circle cx="361.4" cy="440.1" r="4.4" class="gS"/>
<circle cx="361.4" cy="446.9" r="4.4" class="gS"/>
<circle cx="361.4" cy="453.7" r="4.4" class="gS"/>
<circle cx="361.4" cy="460.5" r="4.4" class="gS"/>
<circle cx="361.4" cy="467.3" r="4.4" class="gS"/>
<circle cx="361.4" cy="474.1" r="4.4" class="gS"/>
<circle cx="361.4" cy="480.9" r="4.4" class="gS"/>
<circle cx="361.4" cy="487.7" r="4.4" class="gS"/>
<circle cx="361.4" cy="494.5" r="4.4" class="gS"/>
<circle cx="361.4" cy="501.3" r="4.4" class="gS"/>
<circle cx="361.4" cy="508.1" r="4.4" class="gS"/>
<text x="-0.2" y="215.7" font-size="12.5" font-weight="bold" fill="#231f20">d</text>
<text x="207.4" y="215.6" font-size="12.5" font-weight="bold" fill="#231f20">e</text>
<text x="194.8" y="273.7" font-size="11.6" text-anchor="middle" fill="#231f20">Close</text>
<text x="196.5" y="288" font-size="11.6" text-anchor="middle" fill="#231f20">interface</text>
<text x="196.7" y="390.6" font-size="11.6" text-anchor="middle" fill="#231f20">Interface</text>
<text x="32.6" y="530.4" font-size="11.8" text-anchor="middle" fill="#231f20">Zn</text>
<text x="105.7" y="530.4" font-size="11.6" text-anchor="middle" fill="#231f20">5% TEP</text>
<text x="287.1" y="530.2" font-size="11.6" text-anchor="middle" fill="#231f20">0% Addi</text>
<text x="359.4" y="530.2" font-size="11.8" text-anchor="middle" fill="#231f20">Zn</text>
<path d="M39.3 552.3l4.2 3.9" stroke="#38b8b8" stroke-width="1.6" stroke-linecap="round" fill="none"/>
<path d="M43.5 556.2l4.2 3.9" stroke="#e8dc28" stroke-width="1.6" stroke-linecap="round" fill="none"/>
<path d="M39.3 552.3l-4.2-3.6M39.3 552.3l4-3.4M39.3 552.3l-2.6 3.7" stroke="#38b8b8" stroke-width="1.5" stroke-linecap="round" fill="none"/>
<path d="M35 548.7l-4.2-3.6M43.2 548.9l4-3.4M36.7 556l-2.6 3.6" stroke="#f09090" stroke-width="1.5" stroke-linecap="round" fill="none"/>
<path d="M47.8 560.1l2-4.6M47.8 560.1l-4.2 3.9M47.8 560.1l4.4 3.4" stroke="#e8dc28" stroke-width="1.5" stroke-linecap="round" fill="none"/>
<path d="M49.8 555.5l2.1-4.7M43.5 564l-4.2 4M52.1 563.5l4.4 3.5" stroke="#e02424" stroke-width="1.5" stroke-linecap="round" fill="none"/>
<circle cx="113.1" cy="552" r="3.0" class="gH"/>
<circle cx="107" cy="557.6" r="4.0" class="gO"/>
<circle cx="116.4" cy="560.6" r="3.0" class="gH"/>
<text x="61.2" y="559.2" font-size="11" fill="#231f20">OTf<tspan dy="-4.5" font-size="6">-</tspan></text>
<text x="126.8" y="557.6" font-size="11" fill="#231f20">H<tspan dy="3" font-size="7.5">2</tspan><tspan dy="-3">O</tspan></text>
<path d="M202.6 553.9l.6-4.9M202.6 553.9l-5.9 .4M202.6 553.9l3 1.1M202.6 553.9l1.1 2" stroke="#a0a040" stroke-width="1.04" stroke-linecap="round" fill="none"/>
<path d="M203.2 549l.6-4.9M196.7 554.3l-5.9 .4M205.6 555l3 1.1M190.9 554.8l-2.4 4M208.7 556.2l3.8 1" stroke="#e02424" stroke-width="1.04" stroke-linecap="round" fill="none"/>
<path d="M188.4 558.8l-2.4 4M186 562.8l-4.8-.7M181.2 562l-4.8-.7M203.7 555.9l1.1 2M204.9 557.8l.6 1.4M205.4 559.3l.6 1.4M206 560.7l.3 2.4M206.3 563.1l.3 2.4M212.5 557.2l3.8 1M216.3 558.2l2 1.2M218.3 559.3l2 1.2" stroke="#38b8b8" stroke-width="1.04" stroke-linecap="round" fill="none"/>
<path d="M176.3 561.3l-1.4-2.3M176.3 561.3l-2.3-1.1M186 562.8l2 1.8M220.3 560.5l.6-2.7M220.3 560.5l-1.2 1.8M206 560.7l.3 .3" stroke="#38b8b8" stroke-width="0.78" stroke-linecap="round" fill="none"/>
<path d="M174.9 559l-1.4-2.3M174 560.2l-2.3-1.1M188 564.6l2 1.8M220.9 557.8l.6-2.7M219.2 562.3l-1.2 1.8M206.3 561l.3 .3" stroke="#ccc" stroke-width="0.78" stroke-linecap="round" fill="none"/>
<circle cx="173.5" cy="556.7" r="1.35" class="gH"/>
<circle cx="171.7" cy="559" r="1.35" class="gH"/>
<circle cx="171.7" cy="567.6" r="1.35" class="gH"/>
<circle cx="190" cy="566.4" r="1.35" class="gH"/>
<circle cx="198.6" cy="554.4" r="1.35" class="gH"/>
<circle cx="210" cy="552.7" r="1.35" class="gH"/>
<circle cx="220.3" cy="552.7" r="1.35" class="gH"/>
<circle cx="221.5" cy="555" r="1.35" class="gH"/>
<circle cx="214.6" cy="564.7" r="1.35" class="gH"/>
<circle cx="218" cy="564.2" r="1.35" class="gH"/>
<circle cx="225.5" cy="565.8" r="1.35" class="gH"/>
<circle cx="206.6" cy="561.3" r="1.35" class="gH"/>
<circle cx="200.3" cy="569.3" r="1.35" class="gH"/>
<circle cx="212.9" cy="569.3" r="1.35" class="gH"/>
<circle cx="186" cy="562.8" r="2.17" class="gC"/>
<circle cx="176.3" cy="561.3" r="2.17" class="gC"/>
<circle cx="204.9" cy="557.8" r="2.17" class="gC"/>
<circle cx="206" cy="560.7" r="2.17" class="gC"/>
<circle cx="206.6" cy="565.5" r="2.17" class="gC"/>
<circle cx="216.3" cy="558.2" r="2.17" class="gC"/>
<circle cx="220.3" cy="560.5" r="2.17" class="gC"/>
<circle cx="203.7" cy="544.2" r="2.09" class="gO"/>
<circle cx="190.9" cy="554.8" r="2.09" class="gO"/>
<circle cx="208.7" cy="556.2" r="2.09" class="gO"/>
<circle cx="202.6" cy="553.9" r="2.0" class="gP"/>
<text x="239.5" y="558.7" font-size="11" fill="#231f20">TEP</text>
<line x1="283.1" y1="555.3" x2="307.1" y2="555.3" stroke="#3556c8" stroke-width="1.2" stroke-dasharray="3,2"/>
<text x="318.6" y="551.1" font-size="10.7" fill="#231f20">H<tspan dy="3" font-size="7.5">2</tspan><tspan dy="-3">O-H</tspan><tspan dy="3" font-size="7.5">2</tspan><tspan dy="-3">O</tspan></text>
<text x="318.6" y="564.7" font-size="10.7" fill="#231f20">H-bonds</text>
<text x="-0.2" y="9.0" font-size="12.5" text-anchor="start" font-weight="bold" fill="#231f20" >a</text>
<path d="M21.5,141.6 C23.8,141.6 31.9,141.5 35.0,141.4 C38.1,141.3 38.7,141.2 40.3,140.8 C41.9,140.3 43.7,139.6 44.7,138.7 C45.7,137.8 45.9,137.5 46.4,135.6 C46.9,133.7 47.3,131.2 47.7,127.1 C48.1,123.0 48.4,115.9 48.7,111.1 C49.0,106.3 49.2,104.9 49.4,98.1 C49.6,91.3 49.9,79.8 50.1,70.1 C50.3,60.4 50.6,47.4 50.8,40.1 C51.0,32.8 51.1,29.1 51.3,26.1 C51.5,23.2 51.6,22.6 51.8,22.4 C52.0,22.2 52.2,22.2 52.4,25.1 C52.6,28.1 52.9,34.8 53.2,40.1 C53.5,45.4 53.8,53.1 54.1,57.1 C54.4,61.1 54.6,62.5 55.0,63.9 C55.4,65.3 55.8,64.9 56.3,65.3 C56.8,65.7 57.1,65.3 57.8,66.5 C58.5,67.7 59.6,70.9 60.4,72.6 C61.2,74.3 62.0,76.5 62.7,76.6 C63.4,76.6 64.0,75.1 64.8,72.9 C65.6,70.7 66.6,65.9 67.4,63.4 C68.2,60.9 68.9,59.2 69.5,58.1 C70.1,57.0 70.5,56.8 71.2,56.6 C71.9,56.4 72.7,56.7 73.5,57.0 C74.3,57.3 74.8,57.6 76.0,58.4 C77.2,59.1 78.8,60.3 80.6,61.5 C82.4,62.7 84.7,65.2 86.7,65.7 C88.8,66.2 91.0,64.8 92.9,64.3 C94.8,63.8 96.2,63.1 98.0,62.6 C99.8,62.1 101.7,61.5 103.4,61.4 C105.1,61.3 106.5,61.7 108.0,61.9 C109.5,62.1 110.1,62.3 112.1,62.7 C114.1,63.1 117.1,64.1 120.0,64.4 C122.9,64.7 126.0,64.7 129.3,64.7 C132.6,64.7 136.7,64.5 140.0,64.3 C143.3,64.1 145.7,63.7 149.0,63.7 C152.3,63.7 155.7,64.3 160.0,64.4 C164.3,64.5 170.0,64.2 175.0,64.1 C180.0,64.0 185.4,63.8 190.0,63.8 C194.6,63.8 200.6,63.9 202.7,63.9" stroke="#d93434" stroke-width="1.2" fill="none" stroke-linejoin="round" stroke-linecap="round" />
<rect x="79.6" y="71.6" width="103.9" height="65.5" stroke="#a2a2a2" stroke-width="1.4" fill="#fff" />
<line x1="79.5" y1="137.1" x2="183.5" y2="137.1" stroke="#c2c2c2" stroke-width="1.7" />
<line x1="79.5" y1="71.0" x2="79.5" y2="139.6" stroke="#4a4a4a" stroke-width="1.1" />
<path d="M79.3,128.5 C81.9,128.4 89.9,128.0 94.7,127.7 C99.5,127.4 104.5,127.0 108.3,126.5 C112.1,126.0 115.2,125.4 117.7,124.7 C120.2,124.0 121.6,123.4 123.4,122.6 C125.2,121.8 127.0,120.8 128.7,119.7 C130.4,118.6 132.2,117.3 133.5,115.9 C134.8,114.5 135.6,113.0 136.7,111.2 C137.8,109.4 139.0,107.4 140.2,105.0 C141.4,102.6 142.6,99.2 143.7,96.7 C144.8,94.2 145.7,92.0 146.9,89.9 C148.1,87.8 149.4,85.7 150.7,84.1 C151.9,82.5 152.9,81.5 154.4,80.5 C155.9,79.5 157.6,78.5 159.7,77.8 C161.8,77.1 165.0,76.7 167.0,76.6 C169.0,76.5 170.3,76.9 171.7,77.3 C173.1,77.7 174.1,78.1 175.4,78.8 C176.7,79.5 178.4,80.5 179.7,81.5 C181.0,82.5 182.6,84.1 183.2,84.6" stroke="#3a9ad6" stroke-width="1.1" fill="none" stroke-linejoin="round" stroke-linecap="round" />
<path d="M79.6,129.0 C82.2,128.9 90.2,128.5 95.0,128.2 C99.8,127.9 104.8,127.5 108.6,127.0 C112.4,126.5 115.5,125.9 118.0,125.2 C120.5,124.5 121.9,123.9 123.7,123.1 C125.5,122.3 127.3,121.3 129.0,120.2 C130.7,119.1 132.5,117.8 133.8,116.4 C135.1,115.0 135.9,113.5 137.0,111.7 C138.1,109.9 139.3,107.9 140.5,105.5 C141.7,103.1 142.9,99.7 144.0,97.2 C145.1,94.7 146.0,92.5 147.2,90.4 C148.4,88.3 149.8,86.2 151.0,84.6 C152.2,83.0 153.2,82.0 154.7,81.0 C156.2,80.0 157.9,79.0 160.0,78.3 C162.1,77.6 165.3,77.2 167.3,77.1 C169.3,77.0 170.6,77.4 172.0,77.8 C173.4,78.2 174.4,78.6 175.7,79.3 C177.0,80.0 178.7,81.0 180.0,82.0 C181.3,83.0 182.9,84.6 183.5,85.1" stroke="#d93434" stroke-width="1.4" fill="none" stroke-linejoin="round" stroke-linecap="round" />
<line x1="79.5" y1="137.9" x2="79.5" y2="139.6" stroke="#555" stroke-width="0.9" />
<line x1="105.5" y1="137.9" x2="105.5" y2="139.6" stroke="#555" stroke-width="0.9" />
<line x1="131.5" y1="137.9" x2="131.5" y2="139.6" stroke="#555" stroke-width="0.9" />
<line x1="157.5" y1="137.9" x2="157.5" y2="139.6" stroke="#555" stroke-width="0.9" />
<line x1="183.5" y1="137.9" x2="183.5" y2="139.6" stroke="#555" stroke-width="0.9" />
<text x="79.8" y="149.2" font-size="10" text-anchor="middle" font-weight="normal" fill="#231f20" >9650</text>
<text x="131.8" y="149.2" font-size="10" text-anchor="middle" font-weight="normal" fill="#231f20" >9660</text>
<text x="183.8" y="149.2" font-size="10" text-anchor="middle" font-weight="normal" fill="#231f20" >9670</text>
<rect x="21.5" y="10.7" width="181.2" height="145.7" stroke="#3c3c3c" stroke-width="1.1" fill="none" />
<line x1="21.5" y1="156.4" x2="21.5" y2="159.4" stroke="#3c3c3c" stroke-width="1" />
<line x1="44.1" y1="156.4" x2="44.1" y2="158.4" stroke="#3c3c3c" stroke-width="1" />
<line x1="66.8" y1="156.4" x2="66.8" y2="159.4" stroke="#3c3c3c" stroke-width="1" />
<line x1="89.4" y1="156.4" x2="89.4" y2="158.4" stroke="#3c3c3c" stroke-width="1" />
<line x1="112.1" y1="156.4" x2="112.1" y2="159.4" stroke="#3c3c3c" stroke-width="1" />
<line x1="134.8" y1="156.4" x2="134.8" y2="158.4" stroke="#3c3c3c" stroke-width="1" />
<line x1="157.4" y1="156.4" x2="157.4" y2="159.4" stroke="#3c3c3c" stroke-width="1" />
<line x1="180.0" y1="156.4" x2="180.0" y2="158.4" stroke="#3c3c3c" stroke-width="1" />
<line x1="202.7" y1="156.4" x2="202.7" y2="159.4" stroke="#3c3c3c" stroke-width="1" />
<text x="21.5" y="170.1" font-size="10.6" text-anchor="middle" font-weight="normal" fill="#231f20" >9600</text>
<text x="66.8" y="170.1" font-size="10.6" text-anchor="middle" font-weight="normal" fill="#231f20" >9700</text>
<text x="112.1" y="170.1" font-size="10.6" text-anchor="middle" font-weight="normal" fill="#231f20" >9800</text>
<text x="157.4" y="170.1" font-size="10.6" text-anchor="middle" font-weight="normal" fill="#231f20" >9900</text>
<text x="202.7" y="170.1" font-size="10.6" text-anchor="middle" font-weight="normal" fill="#231f20" >10000</text>
<text x="112.1" y="186.7" font-size="11" text-anchor="middle" font-weight="normal" fill="#231f20" >Energy / eV</text>
<text transform="translate(14.3,83.6) rotate(-90)" font-size="12" text-anchor="middle" fill="#231f20">Normalized <tspan font-style="italic">χμ</tspan>(<tspan font-style="italic">E</tspan>)</text>
<line x1="129.8" y1="25.6" x2="145.5" y2="25.6" stroke="#3a9ad6" stroke-width="1.3" />
<line x1="129.8" y1="39.0" x2="145.5" y2="39.0" stroke="#de4c4c" stroke-width="1.5" />
<text x="152.9" y="29.6" font-size="11" text-anchor="start" font-weight="normal" fill="#231f20" >0% Addi</text>
<text x="152.9" y="43.0" font-size="11" text-anchor="start" font-weight="normal" fill="#231f20" >5% TEP</text>
<text x="233.3" y="8.8" font-size="12.5" text-anchor="start" font-weight="bold" fill="#231f20" >b</text>
<line x1="317.9" y1="10.6" x2="317.9" y2="156.4" stroke="#222" stroke-width="1.1" stroke-dasharray="1.4,1.4"/>
<path d="M261.3,132.1 C261.9,132.3 263.8,133.1 265.0,133.5 C266.2,133.9 267.2,134.6 268.4,134.5 C269.6,134.4 270.5,133.7 272.0,132.8 C273.5,131.9 275.8,129.6 277.6,129.2 C279.4,128.8 281.2,130.8 282.8,130.3 C284.4,129.8 285.5,128.3 287.0,126.0 C288.5,123.7 290.7,119.1 292.0,116.6 C293.3,114.1 293.8,112.1 295.0,111.0 C296.2,109.9 297.9,111.0 299.0,110.2 C300.1,109.5 300.7,109.0 301.5,106.5 C302.3,104.0 303.0,99.2 304.0,95.0 C305.0,90.8 306.2,88.5 307.4,81.0 C308.6,73.5 309.9,59.3 311.0,50.0 C312.1,40.7 312.9,31.0 314.0,25.0 C315.1,19.0 316.3,13.9 317.5,13.9 C318.7,13.9 319.9,19.0 321.0,25.0 C322.1,31.0 322.9,40.8 324.0,50.0 C325.1,59.2 326.4,71.0 327.5,80.0 C328.6,89.0 329.5,98.4 330.5,104.0 C331.5,109.6 332.3,113.1 333.3,113.7 C334.3,114.3 335.4,109.2 336.5,107.5 C337.6,105.8 338.6,103.6 339.6,103.6 C340.6,103.6 341.5,104.6 342.5,107.5 C343.5,110.4 344.7,116.8 345.8,121.0 C346.9,125.2 348.0,130.3 349.0,133.0 C350.0,135.7 351.0,137.3 351.9,137.3 C352.8,137.3 353.6,134.0 354.5,133.0 C355.4,132.0 356.3,131.1 357.2,131.3 C358.1,131.5 359.1,132.6 360.0,134.0 C360.9,135.4 361.7,138.5 362.5,140.0 C363.3,141.5 364.2,143.2 365.0,142.9 C365.8,142.6 366.6,140.2 367.5,138.0 C368.4,135.8 369.3,131.9 370.5,130.0 C371.7,128.1 373.3,126.4 374.7,126.6 C376.1,126.8 377.8,129.0 379.0,131.0 C380.2,133.0 381.0,136.5 382.0,138.5 C383.0,140.5 383.7,143.1 384.8,142.9 C385.9,142.7 387.0,138.8 388.5,137.5 C390.0,136.2 392.3,135.1 393.9,135.0 C395.5,134.9 396.7,136.3 398.0,137.0 C399.3,137.7 400.5,139.6 401.8,139.4 C403.1,139.2 404.6,136.8 406.0,136.0 C407.4,135.2 408.9,134.6 410.2,134.6 C411.5,134.6 412.7,135.2 414.0,136.0 C415.3,136.8 416.2,138.4 418.0,139.5 C419.8,140.6 422.3,141.8 424.6,142.7 C426.9,143.5 429.0,144.2 432.0,144.6 C435.0,145.0 440.8,145.2 442.5,145.3" stroke="#3a9ad6" stroke-width="1.3" fill="none" stroke-linejoin="round" stroke-linecap="round" />
<path d="M261.3,132.1 C261.9,132.3 263.8,133.1 265.0,133.5 C266.2,133.9 267.2,134.6 268.4,134.5 C269.6,134.4 270.5,133.8 272.0,133.0 C273.5,132.2 275.8,130.3 277.6,129.8 C279.4,129.3 281.2,130.5 282.8,129.9 C284.4,129.3 285.5,128.7 287.0,126.5 C288.5,124.3 290.7,119.3 292.0,116.6 C293.3,113.9 294.0,111.8 295.0,110.3 C296.0,108.8 296.9,108.4 297.8,107.7 C298.7,107.0 299.6,107.7 300.5,106.2 C301.4,104.8 302.0,103.2 303.0,99.0 C304.0,94.8 305.2,88.0 306.4,81.0 C307.6,74.0 308.7,64.7 310.0,57.0 C311.3,49.3 312.8,39.6 314.0,35.0 C315.2,30.4 316.3,29.1 317.5,29.1 C318.7,29.1 319.8,30.7 321.0,35.0 C322.2,39.3 323.6,48.0 324.8,55.0 C326.0,62.0 327.3,70.2 328.3,77.0 C329.3,83.8 330.1,91.0 331.0,96.0 C331.9,101.0 332.6,104.9 333.5,106.8 C334.4,108.7 335.5,107.0 336.5,107.3 C337.5,107.6 338.6,107.6 339.6,108.5 C340.6,109.4 341.5,110.3 342.5,112.5 C343.5,114.7 344.7,118.1 345.8,121.5 C346.9,124.9 348.0,130.4 349.0,133.0 C350.0,135.6 351.0,137.1 351.9,137.3 C352.8,137.5 353.6,134.7 354.5,134.0 C355.4,133.3 356.3,132.8 357.2,132.9 C358.1,133.0 359.1,133.8 360.0,134.5 C360.9,135.2 361.7,136.6 362.5,137.3 C363.3,138.0 364.2,139.1 365.0,138.9 C365.8,138.7 366.6,137.5 367.5,136.3 C368.4,135.2 369.3,133.0 370.5,132.0 C371.7,131.0 373.3,129.9 374.7,130.1 C376.1,130.3 377.8,131.5 379.0,133.0 C380.2,134.5 381.0,137.3 382.0,139.0 C383.0,140.7 383.7,143.1 384.8,142.9 C385.9,142.7 387.0,139.4 388.5,138.0 C390.0,136.6 392.3,134.4 393.9,134.2 C395.5,134.0 396.7,135.9 398.0,136.8 C399.3,137.7 400.5,139.3 401.8,139.4 C403.1,139.5 404.6,138.0 406.0,137.6 C407.4,137.2 408.9,136.8 410.2,136.8 C411.5,136.8 412.7,137.0 414.0,137.5 C415.3,138.0 416.2,139.1 418.0,140.0 C419.8,140.9 422.3,142.0 424.6,142.8 C426.9,143.6 429.0,144.3 432.0,144.7 C435.0,145.1 440.8,145.3 442.5,145.4" stroke="#d93434" stroke-width="1.4" fill="none" stroke-linejoin="round" stroke-linecap="round" />
<rect x="261.3" y="10.6" width="181.2" height="145.8" stroke="#3c3c3c" stroke-width="1.1" fill="none" />
<line x1="261.3" y1="145.7" x2="257.8" y2="145.7" stroke="#3c3c3c" stroke-width="1" />
<line x1="261.3" y1="124.9" x2="259.3" y2="124.9" stroke="#3c3c3c" stroke-width="1" />
<line x1="261.3" y1="104.2" x2="257.8" y2="104.2" stroke="#3c3c3c" stroke-width="1" />
<line x1="261.3" y1="83.4" x2="259.3" y2="83.4" stroke="#3c3c3c" stroke-width="1" />
<line x1="261.3" y1="62.7" x2="257.8" y2="62.7" stroke="#3c3c3c" stroke-width="1" />
<line x1="261.3" y1="41.9" x2="259.3" y2="41.9" stroke="#3c3c3c" stroke-width="1" />
<line x1="261.3" y1="21.2" x2="257.8" y2="21.2" stroke="#3c3c3c" stroke-width="1" />
<text x="256.4" y="149.6" font-size="11" text-anchor="end" font-weight="normal" fill="#231f20" >0.0</text>
<text x="256.4" y="108.1" font-size="11" text-anchor="end" font-weight="normal" fill="#231f20" >0.4</text>
<text x="256.4" y="66.6" font-size="11" text-anchor="end" font-weight="normal" fill="#231f20" >0.8</text>
<text x="256.4" y="25.1" font-size="11" text-anchor="end" font-weight="normal" fill="#231f20" >1.2</text>
<line x1="261.3" y1="156.4" x2="261.3" y2="159.4" stroke="#3c3c3c" stroke-width="1" />
<line x1="297.5" y1="156.4" x2="297.5" y2="158.4" stroke="#3c3c3c" stroke-width="1" />
<line x1="333.8" y1="156.4" x2="333.8" y2="159.4" stroke="#3c3c3c" stroke-width="1" />
<line x1="370.0" y1="156.4" x2="370.0" y2="158.4" stroke="#3c3c3c" stroke-width="1" />
<line x1="406.3" y1="156.4" x2="406.3" y2="159.4" stroke="#3c3c3c" stroke-width="1" />
<line x1="442.5" y1="156.4" x2="442.5" y2="158.4" stroke="#3c3c3c" stroke-width="1" />
<text x="261.3" y="170.6" font-size="11" text-anchor="middle" font-weight="normal" fill="#231f20" >0</text>
<text x="333.8" y="170.6" font-size="11" text-anchor="middle" font-weight="normal" fill="#231f20" >2</text>
<text x="406.3" y="170.6" font-size="11" text-anchor="middle" font-weight="normal" fill="#231f20" >4</text>
<text x="351.9" y="186.5" font-size="11" text-anchor="middle" font-weight="normal" fill="#231f20" >Radial distance / Å</text>
<text transform="translate(237.9,83.4) rotate(-90)" font-size="10.6" text-anchor="middle" fill="#231f20"><tspan fill="#888">|</tspan><tspan font-style="italic">χ</tspan>(<tspan font-style="italic">R</tspan>)<tspan fill="#888">|</tspan> / Å<tspan dy="-4" font-size="7.5">-3</tspan></text>
<line x1="370.0" y1="26.6" x2="385.7" y2="26.6" stroke="#3a9ad6" stroke-width="1.4" />
<line x1="370.0" y1="40.0" x2="385.7" y2="40.0" stroke="#de4c4c" stroke-width="1.6" />
<text x="393.4" y="30.6" font-size="11" text-anchor="start" font-weight="normal" fill="#231f20" >0% Addi</text>
<text x="393.4" y="44.0" font-size="11" text-anchor="start" font-weight="normal" fill="#231f20" >5% TEP</text>
<text x="467.6" y="8.8" font-size="12.5" text-anchor="start" font-weight="bold" fill="#231f20" >c</text>
<path d="M496.8,55.2 L497.3,55.2 L497.8,55.2 L498.3,55.2 L498.8,55.2 L499.3,55.2 L499.8,55.2 L500.3,55.2 L500.8,55.2 L501.3,55.2 L501.8,55.2 L502.3,55.2 L502.8,55.2 L503.3,55.2 L503.8,55.2 L504.3,55.2 L504.8,55.2 L505.3,55.2 L505.8,55.2 L506.3,55.2 L506.8,55.2 L507.3,55.2 L507.8,55.2 L508.3,55.2 L508.8,55.2 L509.3,55.2 L509.8,55.2 L510.3,55.2 L510.8,55.2 L511.3,55.2 L511.8,55.2 L512.3,55.2 L512.8,55.2 L513.3,55.2 L513.8,55.2 L514.3,55.2 L514.8,55.2 L515.3,55.2 L515.8,55.2 L516.3,55.2 L516.8,55.2 L517.3,55.2 L517.8,55.2 L518.3,55.2 L518.8,55.2 L519.3,55.2 L519.8,55.2 L520.3,55.2 L520.8,55.2 L521.3,55.2 L521.8,55.2 L522.3,55.2 L522.8,55.2 L523.3,55.2 L523.8,55.2 L524.3,55.2 L524.8,55.2 L525.3,55.2 L525.8,55.2 L526.3,55.2 L526.8,55.2 L527.3,55.2 L527.8,55.2 L528.3,55.2 L528.8,55.2 L529.3,55.2 L529.8,55.2 L530.3,55.2 L530.8,55.2 L531.3,55.2 L531.8,55.2 L532.3,55.2 L532.8,55.2 L533.3,55.2 L533.8,55.2 L534.3,55.2 L534.8,55.2 L535.3,55.2 L535.8,55.2 L536.3,55.2 L536.8,55.2 L537.3,55.2 L537.8,55.2 L538.3,55.2 L538.8,55.2 L539.3,55.2 L539.8,55.2 L540.3,55.2 L540.8,55.2 L541.3,55.2 L541.8,55.2 L542.3,55.2 L542.8,55.2 L543.3,55.2 L543.8,55.2 L544.3,55.2 L544.8,55.2 L545.3,55.2 L545.8,55.2 L546.3,55.2 L546.8,55.2 L547.3,55.2 L547.8,55.2 L548.3,55.2 L548.8,55.2 L549.3,55.2 L549.8,55.1 L550.3,54.9 L550.8,54.2 L551.3,52.5 L551.8,49.0 L552.3,42.9 L552.8,34.3 L553.3,25.0 L553.8,18.0 L554.3,16.2 L554.8,20.3 L555.3,28.6 L555.8,37.9 L556.3,45.7 L556.8,50.7 L557.3,53.4 L557.8,54.6 L558.3,55.0 L558.8,55.2 L559.3,55.2 L559.8,55.2 L560.3,55.2 L560.8,55.2 L561.3,55.2 L561.8,55.2 L562.3,55.2 L562.8,55.2 L563.3,55.2 L563.8,55.2 L564.3,55.2 L564.8,55.2 L565.3,55.2 L565.8,55.2 L566.3,55.2 L566.8,55.2 L567.3,55.2 L567.8,55.2 L568.3,55.2 L568.8,55.2 L569.3,55.2 L569.8,55.2 L570.3,55.2 L570.8,55.2 L571.3,55.2 L571.8,55.2 L572.3,55.2 L572.8,55.2 L573.3,55.2 L573.8,55.2 L574.3,55.2 L574.8,55.2 L575.3,55.2 L575.8,55.2 L576.3,55.2 L576.8,55.2 L577.3,55.2 L577.8,55.2 L578.3,55.2 L578.8,55.2 L579.3,55.2 L579.8,55.2 L580.3,55.2 L580.8,55.2 L581.3,55.2 L581.8,55.2 L582.3,55.2 L582.8,55.2 L583.3,55.2 L583.8,55.2 L584.3,55.2 L584.8,55.2 L585.3,55.2 L585.8,55.2 L586.3,55.2 L586.8,55.2 L587.3,55.2 L587.8,55.2 L588.3,55.2 L588.8,55.2 L589.3,55.2 L589.8,55.2 L590.3,55.2 L590.8,55.2 L591.3,55.2 L591.8,55.2 L592.3,55.2 L592.8,55.2 L593.3,55.2 L593.8,55.2 L594.3,55.2 L594.8,55.2 L595.3,55.2 L595.8,55.1 L596.3,55.1 L596.8,55.1 L597.3,55.1 L597.8,55.1 L598.3,55.0 L598.8,55.0 L599.3,55.0 L599.8,54.9 L600.3,54.9 L600.8,54.8 L601.3,54.8 L601.8,54.7 L602.3,54.6 L602.8,54.5 L603.3,54.4 L603.8,54.3 L604.3,54.1 L604.8,54.0 L605.3,53.8 L605.8,53.7 L606.3,53.5 L606.8,53.3 L607.3,53.1 L607.8,52.9 L608.3,52.7 L608.8,52.4 L609.3,52.2 L609.8,51.9 L610.3,51.7 L610.8,51.5 L611.3,51.2 L611.8,51.0 L612.3,50.8 L612.8,50.6 L613.3,50.4 L613.8,50.2 L614.3,50.1 L614.8,49.9 L615.3,49.8 L615.8,49.8 L616.3,49.7 L616.8,49.7 L617.3,49.7 L617.8,49.7 L618.3,49.8 L618.8,49.9 L619.3,50.0 L619.8,50.1 L620.3,50.3 L620.8,50.4 L621.3,50.6 L621.8,50.8 L622.3,51.1 L622.8,51.3 L623.3,51.5 L623.8,51.8 L624.3,52.0 L624.8,52.2 L625.3,52.5 L625.8,52.7 L626.3,52.9 L626.8,53.1 L627.3,53.3 L627.8,53.5 L628.3,53.7 L628.8,53.9 L629.3,54.0 L629.8,54.1 L630.3,54.3 L630.8,54.3 L631.3,54.4 L631.8,54.5 L632.3,54.6 L632.8,54.6 L633.3,54.7 L633.8,54.7 L634.3,54.7 L634.8,54.7 L635.3,54.8 L635.8,54.8 L636.3,54.8 L636.8,54.8 L637.3,54.8 L637.8,54.8 L638.3,54.8 L638.8,54.7 L639.3,54.7 L639.8,54.7 L640.3,54.7 L640.8,54.7 L641.3,54.7 L641.8,54.7 L642.3,54.7 L642.8,54.7 L643.3,54.8 L643.8,54.8 L644.3,54.8 L644.8,54.8 L645.3,54.8 L645.8,54.8 L646.3,54.8 L646.8,54.8 L647.3,54.8 L647.8,54.8 L648.3,54.8 L648.8,54.8 L649.3,54.8 L649.8,54.8 L650.3,54.8 L650.8,54.8 L651.3,54.8 L651.8,54.8 L652.3,54.8 L652.8,54.8 L653.3,54.8 L653.8,54.8 L654.3,54.8 L654.8,54.8 L655.3,54.8 L655.8,54.8 L656.3,54.8 L656.8,54.8 L657.3,54.8 L657.8,54.8 L658.3,54.8 L658.8,54.8 L659.3,54.8 L659.8,54.8 L660.3,54.8 L660.8,54.8 L661.3,54.8 L661.8,54.8 L662.3,54.8 L662.8,54.8 L663.3,54.8 L663.8,54.8 L664.3,54.8 L664.8,54.8 L665.3,54.8 L665.8,54.8 L666.3,54.8 L666.8,54.8 L667.3,54.8 L667.8,54.8 L668.3,54.8 L668.8,54.8 L669.3,54.8 L669.8,54.8 L670.3,54.8 L670.8,54.8 L671.3,54.8 L671.8,54.8 L672.3,54.8 L672.8,54.8 L673.3,54.8 L673.8,54.8 L674.3,54.8 L674.8,54.8 L675.3,54.8 L675.8,54.8 L676.3,54.8 L676.8,54.8 L677.3,54.8" stroke="#c0642c" stroke-width="1.25" fill="none" stroke-linejoin="round" stroke-linecap="round" />
<path d="M496.8,55.2 L497.3,55.2 L497.8,55.2 L498.3,55.2 L498.8,55.2 L499.3,55.2 L499.8,55.2 L500.3,55.2 L500.8,55.2 L501.3,55.2 L501.8,55.2 L502.3,55.2 L502.8,55.2 L503.3,55.2 L503.8,55.2 L504.3,55.2 L504.8,55.2 L505.3,55.2 L505.8,55.2 L506.3,55.2 L506.8,55.2 L507.3,55.2 L507.8,55.2 L508.3,55.2 L508.8,55.2 L509.3,55.2 L509.8,55.2 L510.3,55.2 L510.8,55.2 L511.3,55.2 L511.8,55.2 L512.3,55.2 L512.8,55.2 L513.3,55.2 L513.8,55.2 L514.3,55.2 L514.8,55.2 L515.3,55.2 L515.8,55.2 L516.3,55.2 L516.8,55.2 L517.3,55.2 L517.8,55.2 L518.3,55.2 L518.8,55.2 L519.3,55.2 L519.8,55.2 L520.3,55.2 L520.8,55.2 L521.3,55.2 L521.8,55.2 L522.3,55.2 L522.8,55.2 L523.3,55.2 L523.8,55.2 L524.3,55.2 L524.8,55.2 L525.3,55.2 L525.8,55.2 L526.3,55.2 L526.8,55.2 L527.3,55.2 L527.8,55.2 L528.3,55.2 L528.8,55.2 L529.3,55.2 L529.8,55.2 L530.3,55.2 L530.8,55.2 L531.3,55.2 L531.8,55.2 L532.3,55.2 L532.8,55.2 L533.3,55.2 L533.8,55.2 L534.3,55.2 L534.8,55.2 L535.3,55.2 L535.8,55.2 L536.3,55.2 L536.8,55.2 L537.3,55.2 L537.8,55.2 L538.3,55.2 L538.8,55.2 L539.3,55.2 L539.8,55.2 L540.3,55.2 L540.8,55.2 L541.3,55.2 L541.8,55.2 L542.3,55.2 L542.8,55.2 L543.3,55.2 L543.8,55.2 L544.3,55.2 L544.8,55.2 L545.3,55.2 L545.8,55.2 L546.3,55.2 L546.8,55.2 L547.3,55.2 L547.8,55.2 L548.3,55.2 L548.8,55.2 L549.3,55.2 L549.8,55.2 L550.3,55.2 L550.8,55.2 L551.3,55.2 L551.8,55.2 L552.3,55.2 L552.8,55.2 L553.3,55.2 L553.8,55.1 L554.3,54.9 L554.8,54.5 L555.3,53.7 L555.8,52.3 L556.3,50.0 L556.8,47.1 L557.3,43.7 L557.8,40.7 L558.3,38.8 L558.8,38.7 L559.3,40.2 L559.8,43.1 L560.3,46.4 L560.8,49.5 L561.3,51.9 L561.8,53.5 L562.3,54.4 L562.8,54.9 L563.3,55.1 L563.8,55.2 L564.3,55.2 L564.8,55.2 L565.3,55.2 L565.8,55.2 L566.3,55.2 L566.8,55.2 L567.3,55.2 L567.8,55.2 L568.3,55.2 L568.8,55.2 L569.3,55.2 L569.8,55.2 L570.3,55.2 L570.8,55.2 L571.3,55.2 L571.8,55.2 L572.3,55.2 L572.8,55.2 L573.3,55.2 L573.8,55.2 L574.3,55.2 L574.8,55.2 L575.3,55.2 L575.8,55.2 L576.3,55.2 L576.8,55.2 L577.3,55.2 L577.8,55.2 L578.3,55.2 L578.8,55.2 L579.3,55.2 L579.8,55.2 L580.3,55.2 L580.8,55.2 L581.3,55.2 L581.8,55.2 L582.3,55.2 L582.8,55.2 L583.3,55.2 L583.8,55.2 L584.3,55.2 L584.8,55.2 L585.3,55.2 L585.8,55.2 L586.3,55.2 L586.8,55.2 L587.3,55.2 L587.8,55.2 L588.3,55.2 L588.8,55.2 L589.3,55.2 L589.8,55.2 L590.3,55.2 L590.8,55.2 L591.3,55.2 L591.8,55.2 L592.3,55.2 L592.8,55.2 L593.3,55.2 L593.8,55.2 L594.3,55.2 L594.8,55.2 L595.3,55.1 L595.8,55.1 L596.3,55.1 L596.8,55.1 L597.3,55.1 L597.8,55.1 L598.3,55.1 L598.8,55.1 L599.3,55.0 L599.8,55.0 L600.3,55.0 L600.8,55.0 L601.3,55.0 L601.8,54.9 L602.3,54.9 L602.8,54.9 L603.3,54.9 L603.8,54.8 L604.3,54.8 L604.8,54.7 L605.3,54.7 L605.8,54.7 L606.3,54.6 L606.8,54.6 L607.3,54.5 L607.8,54.5 L608.3,54.4 L608.8,54.4 L609.3,54.3 L609.8,54.2 L610.3,54.2 L610.8,54.1 L611.3,54.1 L611.8,54.0 L612.3,53.9 L612.8,53.9 L613.3,53.8 L613.8,53.8 L614.3,53.7 L614.8,53.7 L615.3,53.6 L615.8,53.5 L616.3,53.5 L616.8,53.5 L617.3,53.4 L617.8,53.4 L618.3,53.3 L618.8,53.3 L619.3,53.3 L619.8,53.2 L620.3,53.2 L620.8,53.2 L621.3,53.2 L621.8,53.2 L622.3,53.2 L622.8,53.2 L623.3,53.2 L623.8,53.2 L624.3,53.2 L624.8,53.3 L625.3,53.3 L625.8,53.3 L626.3,53.4 L626.8,53.4 L627.3,53.5 L627.8,53.5 L628.3,53.6 L628.8,53.6 L629.3,53.7 L629.8,53.7 L630.3,53.7 L630.8,53.8 L631.3,53.8 L631.8,53.9 L632.3,53.9 L632.8,53.9 L633.3,54.0 L633.8,54.0 L634.3,54.0 L634.8,54.1 L635.3,54.1 L635.8,54.1 L636.3,54.2 L636.8,54.2 L637.3,54.2 L637.8,54.3 L638.3,54.3 L638.8,54.3 L639.3,54.3 L639.8,54.3 L640.3,54.4 L640.8,54.4 L641.3,54.4 L641.8,54.5 L642.3,54.5 L642.8,54.5 L643.3,54.5 L643.8,54.6 L644.3,54.6 L644.8,54.6 L645.3,54.6 L645.8,54.6 L646.3,54.7 L646.8,54.7 L647.3,54.7 L647.8,54.7 L648.3,54.7 L648.8,54.7 L649.3,54.7 L649.8,54.7 L650.3,54.7 L650.8,54.7 L651.3,54.7 L651.8,54.7 L652.3,54.7 L652.8,54.7 L653.3,54.7 L653.8,54.7 L654.3,54.7 L654.8,54.7 L655.3,54.7 L655.8,54.7 L656.3,54.7 L656.8,54.8 L657.3,54.8 L657.8,54.8 L658.3,54.8 L658.8,54.8 L659.3,54.8 L659.8,54.8 L660.3,54.8 L660.8,54.8 L661.3,54.8 L661.8,54.8 L662.3,54.8 L662.8,54.8 L663.3,54.8 L663.8,54.8 L664.3,54.8 L664.8,54.8 L665.3,54.8 L665.8,54.8 L666.3,54.8 L666.8,54.8 L667.3,54.8 L667.8,54.8 L668.3,54.8 L668.8,54.8 L669.3,54.8 L669.8,54.8 L670.3,54.8 L670.8,54.8 L671.3,54.8 L671.8,54.8 L672.3,54.8 L672.8,54.8 L673.3,54.8 L673.8,54.8 L674.3,54.8 L674.8,54.8 L675.3,54.8 L675.8,54.8 L676.3,54.8 L676.8,54.8 L677.3,54.8" stroke="#9a9a9a" stroke-width="1.2" fill="none" stroke-linejoin="round" stroke-linecap="round" />
<path d="M496.8,55.2 L497.3,55.2 L497.8,55.2 L498.3,55.2 L498.8,55.2 L499.3,55.2 L499.8,55.2 L500.3,55.2 L500.8,55.2 L501.3,55.2 L501.8,55.2 L502.3,55.2 L502.8,55.2 L503.3,55.2 L503.8,55.2 L504.3,55.2 L504.8,55.2 L505.3,55.2 L505.8,55.2 L506.3,55.2 L506.8,55.2 L507.3,55.2 L507.8,55.2 L508.3,55.2 L508.8,55.2 L509.3,55.2 L509.8,55.2 L510.3,55.2 L510.8,55.2 L511.3,55.2 L511.8,55.2 L512.3,55.2 L512.8,55.2 L513.3,55.2 L513.8,55.2 L514.3,55.2 L514.8,55.2 L515.3,55.2 L515.8,55.2 L516.3,55.2 L516.8,55.2 L517.3,55.2 L517.8,55.2 L518.3,55.2 L518.8,55.2 L519.3,55.2 L519.8,55.2 L520.3,55.2 L520.8,55.2 L521.3,55.2 L521.8,55.2 L522.3,55.2 L522.8,55.2 L523.3,55.2 L523.8,55.2 L524.3,55.2 L524.8,55.2 L525.3,55.2 L525.8,55.2 L526.3,55.2 L526.8,55.2 L527.3,55.2 L527.8,55.2 L528.3,55.2 L528.8,55.2 L529.3,55.2 L529.8,55.2 L530.3,55.2 L530.8,55.2 L531.3,55.2 L531.8,55.2 L532.3,55.2 L532.8,55.2 L533.3,55.2 L533.8,55.2 L534.3,55.2 L534.8,55.2 L535.3,55.2 L535.8,55.2 L536.3,55.2 L536.8,55.2 L537.3,55.2 L537.8,55.2 L538.3,55.2 L538.8,55.2 L539.3,55.2 L539.8,55.2 L540.3,55.2 L540.8,55.2 L541.3,55.2 L541.8,55.2 L542.3,55.2 L542.8,55.2 L543.3,55.2 L543.8,55.2 L544.3,55.2 L544.8,55.2 L545.3,55.2 L545.8,55.2 L546.3,55.2 L546.8,55.2 L547.3,55.2 L547.8,55.2 L548.3,55.2 L548.8,55.2 L549.3,55.2 L549.8,55.2 L550.3,55.2 L550.8,55.1 L551.3,55.0 L551.8,54.9 L552.3,54.6 L552.8,54.1 L553.3,53.4 L553.8,52.5 L554.3,51.6 L554.8,50.9 L555.3,50.5 L555.8,50.6 L556.3,51.0 L556.8,51.8 L557.3,52.7 L557.8,53.5 L558.3,54.2 L558.8,54.6 L559.3,54.9 L559.8,55.1 L560.3,55.1 L560.8,55.2 L561.3,55.2 L561.8,55.2 L562.3,55.2 L562.8,55.2 L563.3,55.2 L563.8,55.2 L564.3,55.2 L564.8,55.2 L565.3,55.2 L565.8,55.2 L566.3,55.2 L566.8,55.2 L567.3,55.2 L567.8,55.2 L568.3,55.2 L568.8,55.2 L569.3,55.2 L569.8,55.2 L570.3,55.2 L570.8,55.2 L571.3,55.2 L571.8,55.2 L572.3,55.2 L572.8,55.2 L573.3,55.2 L573.8,55.2 L574.3,55.2 L574.8,55.2 L575.3,55.2 L575.8,55.2 L576.3,55.2 L576.8,55.2 L577.3,55.2 L577.8,55.2 L578.3,55.2 L578.8,55.2 L579.3,55.2 L579.8,55.2 L580.3,55.2 L580.8,55.2 L581.3,55.2 L581.8,55.2 L582.3,55.2 L582.8,55.2 L583.3,55.2 L583.8,55.2 L584.3,55.2 L584.8,55.2 L585.3,55.2 L585.8,55.2 L586.3,55.2 L586.8,55.2 L587.3,55.2 L587.8,55.2 L588.3,55.2 L588.8,55.2 L589.3,55.2 L589.8,55.2 L590.3,55.2 L590.8,55.2 L591.3,55.2 L591.8,55.2 L592.3,55.2 L592.8,55.2 L593.3,55.2 L593.8,55.2 L594.3,55.1 L594.8,55.1 L595.3,55.1 L595.8,55.1 L596.3,55.1 L596.8,55.1 L597.3,55.1 L597.8,55.1 L598.3,55.1 L598.8,55.0 L599.3,55.0 L599.8,55.0 L600.3,55.0 L600.8,55.0 L601.3,54.9 L601.8,54.9 L602.3,54.9 L602.8,54.9 L603.3,54.8 L603.8,54.8 L604.3,54.8 L604.8,54.7 L605.3,54.7 L605.8,54.6 L606.3,54.6 L606.8,54.6 L607.3,54.5 L607.8,54.5 L608.3,54.4 L608.8,54.4 L609.3,54.3 L609.8,54.2 L610.3,54.2 L610.8,54.1 L611.3,54.1 L611.8,54.0 L612.3,54.0 L612.8,53.9 L613.3,53.9 L613.8,53.8 L614.3,53.8 L614.8,53.7 L615.3,53.7 L615.8,53.6 L616.3,53.6 L616.8,53.6 L617.3,53.5 L617.8,53.5 L618.3,53.5 L618.8,53.5 L619.3,53.4 L619.8,53.4 L620.3,53.4 L620.8,53.4 L621.3,53.4 L621.8,53.4 L622.3,53.4 L622.8,53.4 L623.3,53.5 L623.8,53.5 L624.3,53.5 L624.8,53.5 L625.3,53.6 L625.8,53.6 L626.3,53.7 L626.8,53.7 L627.3,53.7 L627.8,53.8 L628.3,53.8 L628.8,53.9 L629.3,53.9 L629.8,54.0 L630.3,54.0 L630.8,54.0 L631.3,54.1 L631.8,54.1 L632.3,54.1 L632.8,54.2 L633.3,54.2 L633.8,54.2 L634.3,54.2 L634.8,54.3 L635.3,54.3 L635.8,54.3 L636.3,54.3 L636.8,54.4 L637.3,54.4 L637.8,54.4 L638.3,54.4 L638.8,54.4 L639.3,54.4 L639.8,54.5 L640.3,54.5 L640.8,54.5 L641.3,54.5 L641.8,54.6 L642.3,54.6 L642.8,54.6 L643.3,54.6 L643.8,54.6 L644.3,54.6 L644.8,54.7 L645.3,54.7 L645.8,54.7 L646.3,54.7 L646.8,54.7 L647.3,54.7 L647.8,54.7 L648.3,54.7 L648.8,54.7 L649.3,54.7 L649.8,54.7 L650.3,54.7 L650.8,54.7 L651.3,54.7 L651.8,54.7 L652.3,54.7 L652.8,54.7 L653.3,54.7 L653.8,54.7 L654.3,54.7 L654.8,54.7 L655.3,54.8 L655.8,54.8 L656.3,54.8 L656.8,54.8 L657.3,54.8 L657.8,54.8 L658.3,54.8 L658.8,54.8 L659.3,54.8 L659.8,54.8 L660.3,54.8 L660.8,54.8 L661.3,54.8 L661.8,54.8 L662.3,54.8 L662.8,54.8 L663.3,54.8 L663.8,54.8 L664.3,54.8 L664.8,54.8 L665.3,54.8 L665.8,54.8 L666.3,54.8 L666.8,54.8 L667.3,54.8 L667.8,54.8 L668.3,54.8 L668.8,54.8 L669.3,54.8 L669.8,54.8 L670.3,54.8 L670.8,54.8 L671.3,54.8 L671.8,54.8 L672.3,54.8 L672.8,54.8 L673.3,54.8 L673.8,54.8 L674.3,54.8 L674.8,54.8 L675.3,54.8 L675.8,54.8 L676.3,54.8 L676.8,54.8 L677.3,54.8" stroke="#6a98d8" stroke-width="1.3" fill="none" stroke-linejoin="round" stroke-linecap="round" />
<line x1="626.3" y1="19.4" x2="634.9" y2="19.4" stroke="#c0642c" stroke-width="1.6" />
<line x1="626.3" y1="31.3" x2="634.9" y2="31.3" stroke="#9a9a9a" stroke-width="1.6" />
<line x1="626.3" y1="47.4" x2="634.9" y2="47.4" stroke="#6a98d8" stroke-width="1.6" />
<text x="641.0" y="23.3" font-size="11" text-anchor="start" font-weight="normal" fill="#231f20" >O-Ac<tspan dy="-4" font-size="7">-</tspan></text>
<text x="641.0" y="35.4" font-size="11" text-anchor="start" font-weight="normal" fill="#231f20" >O-H<tspan dy="3" font-size="7.5">2</tspan><tspan dy="-3">O</tspan></text>
<text x="641.0" y="51.4" font-size="11" text-anchor="start" font-weight="normal" fill="#231f20" >O-OTf<tspan dy="-4" font-size="7">-</tspan></text>
<text x="500.8" y="24.5" font-size="11" text-anchor="start" font-weight="normal" fill="#231f20" >0% Addi</text>
<rect x="496.8" y="10.8" width="180.9" height="48.5" stroke="#3c3c3c" stroke-width="1.1" fill="none" />
<line x1="496.8" y1="10.8" x2="677.7" y2="10.8" stroke="#ababab" stroke-width="1.5" />
<line x1="496.8" y1="55.2" x2="493.8" y2="55.2" stroke="#3c3c3c" stroke-width="1" />
<text x="492.6" y="59.1" font-size="11" text-anchor="end" font-weight="normal" fill="#231f20" >0</text>
<line x1="496.8" y1="37.4" x2="493.8" y2="37.4" stroke="#3c3c3c" stroke-width="1" />
<text x="492.6" y="41.3" font-size="11" text-anchor="end" font-weight="normal" fill="#231f20" >40</text>
<line x1="496.8" y1="19.6" x2="493.8" y2="19.6" stroke="#3c3c3c" stroke-width="1" />
<text x="492.6" y="23.5" font-size="11" text-anchor="end" font-weight="normal" fill="#231f20" >80</text>
<line x1="496.8" y1="46.3" x2="494.8" y2="46.3" stroke="#3c3c3c" stroke-width="1" />
<line x1="496.8" y1="28.5" x2="494.8" y2="28.5" stroke="#3c3c3c" stroke-width="1" />
<rect x="548.5" y="77.3" width="16.3" height="74.3" stroke="#333" stroke-width="0.9" fill="none" stroke-dasharray="3,1.2,1,1.2"/>
<path d="M496.8,146.2 L497.3,146.2 L497.8,146.2 L498.3,146.2 L498.8,146.2 L499.3,146.2 L499.8,146.2 L500.3,146.2 L500.8,146.2 L501.3,146.2 L501.8,146.2 L502.3,146.2 L502.8,146.2 L503.3,146.2 L503.8,146.2 L504.3,146.2 L504.8,146.2 L505.3,146.2 L505.8,146.2 L506.3,146.2 L506.8,146.2 L507.3,146.2 L507.8,146.2 L508.3,146.2 L508.8,146.2 L509.3,146.2 L509.8,146.2 L510.3,146.2 L510.8,146.2 L511.3,146.2 L511.8,146.2 L512.3,146.2 L512.8,146.2 L513.3,146.2 L513.8,146.2 L514.3,146.2 L514.8,146.2 L515.3,146.2 L515.8,146.2 L516.3,146.2 L516.8,146.2 L517.3,146.2 L517.8,146.2 L518.3,146.2 L518.8,146.2 L519.3,146.2 L519.8,146.2 L520.3,146.2 L520.8,146.2 L521.3,146.2 L521.8,146.2 L522.3,146.2 L522.8,146.2 L523.3,146.2 L523.8,146.2 L524.3,146.2 L524.8,146.2 L525.3,146.2 L525.8,146.2 L526.3,146.2 L526.8,146.2 L527.3,146.2 L527.8,146.2 L528.3,146.2 L528.8,146.2 L529.3,146.2 L529.8,146.2 L530.3,146.2 L530.8,146.2 L531.3,146.2 L531.8,146.2 L532.3,146.2 L532.8,146.2 L533.3,146.2 L533.8,146.2 L534.3,146.2 L534.8,146.2 L535.3,146.2 L535.8,146.2 L536.3,146.2 L536.8,146.2 L537.3,146.2 L537.8,146.2 L538.3,146.2 L538.8,146.2 L539.3,146.2 L539.8,146.2 L540.3,146.2 L540.8,146.2 L541.3,146.2 L541.8,146.2 L542.3,146.2 L542.8,146.2 L543.3,146.2 L543.8,146.2 L544.3,146.2 L544.8,146.2 L545.3,146.2 L545.8,146.2 L546.3,146.2 L546.8,146.2 L547.3,146.2 L547.8,146.2 L548.3,146.2 L548.8,146.2 L549.3,146.2 L549.8,146.2 L550.3,146.0 L550.8,145.5 L551.3,143.8 L551.8,139.8 L552.3,131.7 L552.8,118.6 L553.3,102.0 L553.8,86.9 L554.3,79.2 L554.8,82.6 L555.3,95.5 L555.8,112.2 L556.3,127.0 L556.8,137.1 L557.3,142.6 L557.8,145.0 L558.3,145.9 L558.8,146.1 L559.3,146.2 L559.8,146.2 L560.3,146.2 L560.8,146.2 L561.3,146.2 L561.8,146.2 L562.3,146.2 L562.8,146.2 L563.3,146.2 L563.8,146.2 L564.3,146.2 L564.8,146.2 L565.3,146.2 L565.8,146.2 L566.3,146.2 L566.8,146.2 L567.3,146.2 L567.8,146.2 L568.3,146.2 L568.8,146.2 L569.3,146.2 L569.8,146.2 L570.3,146.2 L570.8,146.2 L571.3,146.2 L571.8,146.2 L572.3,146.2 L572.8,146.2 L573.3,146.2 L573.8,146.2 L574.3,146.2 L574.8,146.2 L575.3,146.2 L575.8,146.2 L576.3,146.2 L576.8,146.2 L577.3,146.2 L577.8,146.2 L578.3,146.2 L578.8,146.2 L579.3,146.2 L579.8,146.2 L580.3,146.2 L580.8,146.2 L581.3,146.2 L581.8,146.2 L582.3,146.2 L582.8,146.2 L583.3,146.2 L583.8,146.2 L584.3,146.2 L584.8,146.2 L585.3,146.2 L585.8,146.2 L586.3,146.2 L586.8,146.2 L587.3,146.2 L587.8,146.2 L588.3,146.2 L588.8,146.2 L589.3,146.2 L589.8,146.2 L590.3,146.2 L590.8,146.2 L591.3,146.2 L591.8,146.2 L592.3,146.2 L592.8,146.2 L593.3,146.2 L593.8,146.2 L594.3,146.2 L594.8,146.1 L595.3,146.1 L595.8,146.1 L596.3,146.1 L596.8,146.1 L597.3,146.0 L597.8,146.0 L598.3,145.9 L598.8,145.9 L599.3,145.8 L599.8,145.8 L600.3,145.7 L600.8,145.6 L601.3,145.5 L601.8,145.3 L602.3,145.2 L602.8,145.0 L603.3,144.8 L603.8,144.6 L604.3,144.4 L604.8,144.1 L605.3,143.8 L605.8,143.5 L606.3,143.2 L606.8,142.8 L607.3,142.4 L607.8,142.0 L608.3,141.6 L608.8,141.2 L609.3,140.7 L609.8,140.3 L610.3,139.8 L610.8,139.3 L611.3,138.9 L611.8,138.4 L612.3,137.9 L612.8,137.5 L613.3,137.1 L613.8,136.7 L614.3,136.4 L614.8,136.1 L615.3,135.8 L615.8,135.6 L616.3,135.5 L616.8,135.4 L617.3,135.3 L617.8,135.3 L618.3,135.4 L618.8,135.5 L619.3,135.7 L619.8,135.9 L620.3,136.2 L620.8,136.5 L621.3,136.8 L621.8,137.2 L622.3,137.6 L622.8,138.0 L623.3,138.5 L623.8,138.9 L624.3,139.4 L624.8,139.9 L625.3,140.4 L625.8,140.8 L626.3,141.3 L626.8,141.7 L627.3,142.1 L627.8,142.5 L628.3,142.9 L628.8,143.2 L629.3,143.6 L629.8,143.8 L630.3,144.1 L630.8,144.3 L631.3,144.5 L631.8,144.6 L632.3,144.8 L632.8,144.9 L633.3,145.0 L633.8,145.1 L634.3,145.1 L634.8,145.2 L635.3,145.2 L635.8,145.2 L636.3,145.2 L636.8,145.2 L637.3,145.2 L637.8,145.2 L638.3,145.2 L638.8,145.2 L639.3,145.2 L639.8,145.2 L640.3,145.2 L640.8,145.2 L641.3,145.2 L641.8,145.2 L642.3,145.2 L642.8,145.2 L643.3,145.2 L643.8,145.2 L644.3,145.2 L644.8,145.2 L645.3,145.2 L645.8,145.2 L646.3,145.2 L646.8,145.2 L647.3,145.2 L647.8,145.2 L648.3,145.2 L648.8,145.2 L649.3,145.2 L649.8,145.2 L650.3,145.2 L650.8,145.2 L651.3,145.2 L651.8,145.2 L652.3,145.2 L652.8,145.2 L653.3,145.2 L653.8,145.2 L654.3,145.2 L654.8,145.2 L655.3,145.2 L655.8,145.2 L656.3,145.2 L656.8,145.2 L657.3,145.2 L657.8,145.2 L658.3,145.2 L658.8,145.2 L659.3,145.2 L659.8,145.2 L660.3,145.2 L660.8,145.2 L661.3,145.2 L661.8,145.2 L662.3,145.2 L662.8,145.2 L663.3,145.2 L663.8,145.2 L664.3,145.2 L664.8,145.2 L665.3,145.2 L665.8,145.2 L666.3,145.2 L666.8,145.2 L667.3,145.2 L667.8,145.2 L668.3,145.2 L668.8,145.2 L669.3,145.2 L669.8,145.2 L670.3,145.2 L670.8,145.2 L671.3,145.2 L671.8,145.2 L672.3,145.2 L672.8,145.2 L673.3,145.2 L673.8,145.2 L674.3,145.2 L674.8,145.2 L675.3,145.2 L675.8,145.2 L676.3,145.2 L676.8,145.2 L677.3,145.2" stroke="#c0642c" stroke-width="1.25" fill="none" stroke-linejoin="round" stroke-linecap="round" />
<path d="M496.8,146.2 L497.3,146.2 L497.8,146.2 L498.3,146.2 L498.8,146.2 L499.3,146.2 L499.8,146.2 L500.3,146.2 L500.8,146.2 L501.3,146.2 L501.8,146.2 L502.3,146.2 L502.8,146.2 L503.3,146.2 L503.8,146.2 L504.3,146.2 L504.8,146.2 L505.3,146.2 L505.8,146.2 L506.3,146.2 L506.8,146.2 L507.3,146.2 L507.8,146.2 L508.3,146.2 L508.8,146.2 L509.3,146.2 L509.8,146.2 L510.3,146.2 L510.8,146.2 L511.3,146.2 L511.8,146.2 L512.3,146.2 L512.8,146.2 L513.3,146.2 L513.8,146.2 L514.3,146.2 L514.8,146.2 L515.3,146.2 L515.8,146.2 L516.3,146.2 L516.8,146.2 L517.3,146.2 L517.8,146.2 L518.3,146.2 L518.8,146.2 L519.3,146.2 L519.8,146.2 L520.3,146.2 L520.8,146.2 L521.3,146.2 L521.8,146.2 L522.3,146.2 L522.8,146.2 L523.3,146.2 L523.8,146.2 L524.3,146.2 L524.8,146.2 L525.3,146.2 L525.8,146.2 L526.3,146.2 L526.8,146.2 L527.3,146.2 L527.8,146.2 L528.3,146.2 L528.8,146.2 L529.3,146.2 L529.8,146.2 L530.3,146.2 L530.8,146.2 L531.3,146.2 L531.8,146.2 L532.3,146.2 L532.8,146.2 L533.3,146.2 L533.8,146.2 L534.3,146.2 L534.8,146.2 L535.3,146.2 L535.8,146.2 L536.3,146.2 L536.8,146.2 L537.3,146.2 L537.8,146.2 L538.3,146.2 L538.8,146.2 L539.3,146.2 L539.8,146.2 L540.3,146.2 L540.8,146.2 L541.3,146.2 L541.8,146.2 L542.3,146.2 L542.8,146.2 L543.3,146.2 L543.8,146.2 L544.3,146.2 L544.8,146.2 L545.3,146.2 L545.8,146.2 L546.3,146.2 L546.8,146.2 L547.3,146.2 L547.8,146.2 L548.3,146.2 L548.8,146.2 L549.3,146.2 L549.8,146.2 L550.3,146.2 L550.8,146.2 L551.3,146.2 L551.8,146.2 L552.3,146.2 L552.8,146.2 L553.3,146.2 L553.8,146.0 L554.3,145.7 L554.8,145.0 L555.3,143.4 L555.8,140.5 L556.3,135.8 L556.8,129.2 L557.3,121.6 L557.8,114.7 L558.3,110.3 L558.8,109.8 L559.3,113.5 L559.8,120.1 L560.3,127.7 L560.8,134.6 L561.3,139.7 L561.8,143.0 L562.3,144.8 L562.8,145.6 L563.3,146.0 L563.8,146.1 L564.3,146.2 L564.8,146.2 L565.3,146.2 L565.8,146.2 L566.3,146.2 L566.8,146.2 L567.3,146.2 L567.8,146.2 L568.3,146.2 L568.8,146.2 L569.3,146.2 L569.8,146.2 L570.3,146.2 L570.8,146.2 L571.3,146.2 L571.8,146.2 L572.3,146.2 L572.8,146.2 L573.3,146.2 L573.8,146.2 L574.3,146.2 L574.8,146.2 L575.3,146.2 L575.8,146.2 L576.3,146.2 L576.8,146.2 L577.3,146.2 L577.8,146.2 L578.3,146.2 L578.8,146.2 L579.3,146.2 L579.8,146.2 L580.3,146.2 L580.8,146.2 L581.3,146.2 L581.8,146.2 L582.3,146.2 L582.8,146.2 L583.3,146.2 L583.8,146.2 L584.3,146.2 L584.8,146.2 L585.3,146.2 L585.8,146.2 L586.3,146.2 L586.8,146.2 L587.3,146.2 L587.8,146.2 L588.3,146.2 L588.8,146.2 L589.3,146.2 L589.8,146.2 L590.3,146.2 L590.8,146.2 L591.3,146.2 L591.8,146.2 L592.3,146.2 L592.8,146.2 L593.3,146.2 L593.8,146.2 L594.3,146.2 L594.8,146.1 L595.3,146.1 L595.8,146.1 L596.3,146.1 L596.8,146.1 L597.3,146.1 L597.8,146.1 L598.3,146.0 L598.8,146.0 L599.3,146.0 L599.8,146.0 L600.3,145.9 L600.8,145.9 L601.3,145.9 L601.8,145.8 L602.3,145.8 L602.8,145.7 L603.3,145.6 L603.8,145.6 L604.3,145.5 L604.8,145.4 L605.3,145.3 L605.8,145.2 L606.3,145.1 L606.8,145.0 L607.3,144.9 L607.8,144.8 L608.3,144.7 L608.8,144.5 L609.3,144.4 L609.8,144.3 L610.3,144.1 L610.8,144.0 L611.3,143.8 L611.8,143.6 L612.3,143.5 L612.8,143.3 L613.3,143.2 L613.8,143.0 L614.3,142.8 L614.8,142.7 L615.3,142.5 L615.8,142.4 L616.3,142.2 L616.8,142.1 L617.3,142.0 L617.8,141.8 L618.3,141.7 L618.8,141.6 L619.3,141.6 L619.8,141.5 L620.3,141.4 L620.8,141.4 L621.3,141.4 L621.8,141.3 L622.3,141.3 L622.8,141.4 L623.3,141.4 L623.8,141.4 L624.3,141.5 L624.8,141.6 L625.3,141.7 L625.8,141.8 L626.3,141.9 L626.8,142.0 L627.3,142.1 L627.8,142.3 L628.3,142.4 L628.8,142.5 L629.3,142.7 L629.8,142.8 L630.3,142.9 L630.8,143.1 L631.3,143.2 L631.8,143.3 L632.3,143.4 L632.8,143.5 L633.3,143.6 L633.8,143.7 L634.3,143.8 L634.8,143.9 L635.3,144.0 L635.8,144.1 L636.3,144.2 L636.8,144.2 L637.3,144.3 L637.8,144.3 L638.3,144.4 L638.8,144.4 L639.3,144.5 L639.8,144.5 L640.3,144.6 L640.8,144.7 L641.3,144.7 L641.8,144.8 L642.3,144.8 L642.8,144.9 L643.3,144.9 L643.8,145.0 L644.3,145.0 L644.8,145.0 L645.3,145.1 L645.8,145.1 L646.3,145.1 L646.8,145.1 L647.3,145.1 L647.8,145.1 L648.3,145.2 L648.8,145.2 L649.3,145.2 L649.8,145.2 L650.3,145.2 L650.8,145.2 L651.3,145.2 L651.8,145.2 L652.3,145.2 L652.8,145.2 L653.3,145.2 L653.8,145.2 L654.3,145.2 L654.8,145.2 L655.3,145.2 L655.8,145.2 L656.3,145.2 L656.8,145.2 L657.3,145.2 L657.8,145.2 L658.3,145.2 L658.8,145.2 L659.3,145.2 L659.8,145.2 L660.3,145.2 L660.8,145.2 L661.3,145.2 L661.8,145.2 L662.3,145.2 L662.8,145.2 L663.3,145.2 L663.8,145.2 L664.3,145.2 L664.8,145.2 L665.3,145.2 L665.8,145.2 L666.3,145.2 L666.8,145.2 L667.3,145.2 L667.8,145.2 L668.3,145.2 L668.8,145.2 L669.3,145.2 L669.8,145.2 L670.3,145.2 L670.8,145.2 L671.3,145.2 L671.8,145.2 L672.3,145.2 L672.8,145.2 L673.3,145.2 L673.8,145.2 L674.3,145.2 L674.8,145.2 L675.3,145.2 L675.8,145.2 L676.3,145.2 L676.8,145.2 L677.3,145.2" stroke="#9a9a9a" stroke-width="1.2" fill="none" stroke-linejoin="round" stroke-linecap="round" />
<path d="M496.8,146.2 L497.3,146.2 L497.8,146.2 L498.3,146.2 L498.8,146.2 L499.3,146.2 L499.8,146.2 L500.3,146.2 L500.8,146.2 L501.3,146.2 L501.8,146.2 L502.3,146.2 L502.8,146.2 L503.3,146.2 L503.8,146.2 L504.3,146.2 L504.8,146.2 L505.3,146.2 L505.8,146.2 L506.3,146.2 L506.8,146.2 L507.3,146.2 L507.8,146.2 L508.3,146.2 L508.8,146.2 L509.3,146.2 L509.8,146.2 L510.3,146.2 L510.8,146.2 L511.3,146.2 L511.8,146.2 L512.3,146.2 L512.8,146.2 L513.3,146.2 L513.8,146.2 L514.3,146.2 L514.8,146.2 L515.3,146.2 L515.8,146.2 L516.3,146.2 L516.8,146.2 L517.3,146.2 L517.8,146.2 L518.3,146.2 L518.8,146.2 L519.3,146.2 L519.8,146.2 L520.3,146.2 L520.8,146.2 L521.3,146.2 L521.8,146.2 L522.3,146.2 L522.8,146.2 L523.3,146.2 L523.8,146.2 L524.3,146.2 L524.8,146.2 L525.3,146.2 L525.8,146.2 L526.3,146.2 L526.8,146.2 L527.3,146.2 L527.8,146.2 L528.3,146.2 L528.8,146.2 L529.3,146.2 L529.8,146.2 L530.3,146.2 L530.8,146.2 L531.3,146.2 L531.8,146.2 L532.3,146.2 L532.8,146.2 L533.3,146.2 L533.8,146.2 L534.3,146.2 L534.8,146.2 L535.3,146.2 L535.8,146.2 L536.3,146.2 L536.8,146.2 L537.3,146.2 L537.8,146.2 L538.3,146.2 L538.8,146.2 L539.3,146.2 L539.8,146.2 L540.3,146.2 L540.8,146.2 L541.3,146.2 L541.8,146.2 L542.3,146.2 L542.8,146.2 L543.3,146.2 L543.8,146.2 L544.3,146.2 L544.8,146.2 L545.3,146.2 L545.8,146.2 L546.3,146.2 L546.8,146.2 L547.3,146.2 L547.8,146.2 L548.3,146.2 L548.8,146.2 L549.3,146.2 L549.8,146.2 L550.3,146.2 L550.8,146.2 L551.3,146.2 L551.8,146.1 L552.3,146.0 L552.8,145.7 L553.3,145.0 L553.8,143.6 L554.3,141.2 L554.8,137.9 L555.3,134.1 L555.8,131.0 L556.3,129.4 L556.8,130.1 L557.3,132.7 L557.8,136.4 L558.3,140.0 L558.8,142.7 L559.3,144.5 L559.8,145.5 L560.3,145.9 L560.8,146.1 L561.3,146.2 L561.8,146.2 L562.3,146.2 L562.8,146.2 L563.3,146.2 L563.8,146.2 L564.3,146.2 L564.8,146.2 L565.3,146.2 L565.8,146.2 L566.3,146.2 L566.8,146.2 L567.3,146.2 L567.8,146.2 L568.3,146.2 L568.8,146.2 L569.3,146.2 L569.8,146.2 L570.3,146.2 L570.8,146.2 L571.3,146.2 L571.8,146.2 L572.3,146.2 L572.8,146.2 L573.3,146.2 L573.8,146.2 L574.3,146.2 L574.8,146.2 L575.3,146.2 L575.8,146.2 L576.3,146.2 L576.8,146.2 L577.3,146.2 L577.8,146.2 L578.3,146.2 L578.8,146.2 L579.3,146.2 L579.8,146.2 L580.3,146.2 L580.8,146.2 L581.3,146.2 L581.8,146.2 L582.3,146.2 L582.8,146.2 L583.3,146.2 L583.8,146.2 L584.3,146.2 L584.8,146.2 L585.3,146.2 L585.8,146.2 L586.3,146.2 L586.8,146.2 L587.3,146.2 L587.8,146.2 L588.3,146.2 L588.8,146.2 L589.3,146.2 L589.8,146.2 L590.3,146.2 L590.8,146.2 L591.3,146.2 L591.8,146.2 L592.3,146.2 L592.8,146.2 L593.3,146.2 L593.8,146.2 L594.3,146.2 L594.8,146.2 L595.3,146.2 L595.8,146.1 L596.3,146.1 L596.8,146.1 L597.3,146.1 L597.8,146.1 L598.3,146.1 L598.8,146.1 L599.3,146.0 L599.8,146.0 L600.3,146.0 L600.8,146.0 L601.3,145.9 L601.8,145.9 L602.3,145.8 L602.8,145.8 L603.3,145.7 L603.8,145.7 L604.3,145.6 L604.8,145.5 L605.3,145.4 L605.8,145.4 L606.3,145.3 L606.8,145.2 L607.3,145.0 L607.8,144.9 L608.3,144.8 L608.8,144.7 L609.3,144.5 L609.8,144.4 L610.3,144.2 L610.8,144.0 L611.3,143.9 L611.8,143.7 L612.3,143.5 L612.8,143.3 L613.3,143.1 L613.8,142.9 L614.3,142.7 L614.8,142.5 L615.3,142.4 L615.8,142.2 L616.3,142.0 L616.8,141.8 L617.3,141.6 L617.8,141.4 L618.3,141.3 L618.8,141.1 L619.3,141.0 L619.8,140.8 L620.3,140.7 L620.8,140.6 L621.3,140.5 L621.8,140.5 L622.3,140.4 L622.8,140.4 L623.3,140.4 L623.8,140.4 L624.3,140.4 L624.8,140.4 L625.3,140.5 L625.8,140.6 L626.3,140.6 L626.8,140.8 L627.3,140.9 L627.8,141.0 L628.3,141.1 L628.8,141.3 L629.3,141.5 L629.8,141.6 L630.3,141.7 L630.8,141.9 L631.3,142.0 L631.8,142.2 L632.3,142.3 L632.8,142.5 L633.3,142.6 L633.8,142.8 L634.3,142.9 L634.8,143.0 L635.3,143.2 L635.8,143.3 L636.3,143.4 L636.8,143.5 L637.3,143.6 L637.8,143.7 L638.3,143.8 L638.8,143.9 L639.3,144.0 L639.8,144.1 L640.3,144.2 L640.8,144.3 L641.3,144.4 L641.8,144.5 L642.3,144.6 L642.8,144.6 L643.3,144.7 L643.8,144.8 L644.3,144.8 L644.8,144.9 L645.3,144.9 L645.8,145.0 L646.3,145.0 L646.8,145.0 L647.3,145.1 L647.8,145.1 L648.3,145.1 L648.8,145.1 L649.3,145.1 L649.8,145.1 L650.3,145.2 L650.8,145.2 L651.3,145.2 L651.8,145.2 L652.3,145.2 L652.8,145.2 L653.3,145.2 L653.8,145.2 L654.3,145.2 L654.8,145.2 L655.3,145.2 L655.8,145.2 L656.3,145.2 L656.8,145.2 L657.3,145.2 L657.8,145.2 L658.3,145.2 L658.8,145.2 L659.3,145.2 L659.8,145.2 L660.3,145.2 L660.8,145.2 L661.3,145.2 L661.8,145.2 L662.3,145.2 L662.8,145.2 L663.3,145.2 L663.8,145.2 L664.3,145.2 L664.8,145.2 L665.3,145.2 L665.8,145.2 L666.3,145.2 L666.8,145.2 L667.3,145.2 L667.8,145.2 L668.3,145.2 L668.8,145.2 L669.3,145.2 L669.8,145.2 L670.3,145.2 L670.8,145.2 L671.3,145.2 L671.8,145.2 L672.3,145.2 L672.8,145.2 L673.3,145.2 L673.8,145.2 L674.3,145.2 L674.8,145.2 L675.3,145.2 L675.8,145.2 L676.3,145.2 L676.8,145.2 L677.3,145.2" stroke="#6a98d8" stroke-width="1.3" fill="none" stroke-linejoin="round" stroke-linecap="round" />
<path d="M496.8,146.2 L497.3,146.2 L497.8,146.2 L498.3,146.2 L498.8,146.2 L499.3,146.2 L499.8,146.2 L500.3,146.2 L500.8,146.2 L501.3,146.2 L501.8,146.2 L502.3,146.2 L502.8,146.2 L503.3,146.2 L503.8,146.2 L504.3,146.2 L504.8,146.2 L505.3,146.2 L505.8,146.2 L506.3,146.2 L506.8,146.2 L507.3,146.2 L507.8,146.2 L508.3,146.2 L508.8,146.2 L509.3,146.2 L509.8,146.2 L510.3,146.2 L510.8,146.2 L511.3,146.2 L511.8,146.2 L512.3,146.2 L512.8,146.2 L513.3,146.2 L513.8,146.2 L514.3,146.2 L514.8,146.2 L515.3,146.2 L515.8,146.2 L516.3,146.2 L516.8,146.2 L517.3,146.2 L517.8,146.2 L518.3,146.2 L518.8,146.2 L519.3,146.2 L519.8,146.2 L520.3,146.2 L520.8,146.2 L521.3,146.2 L521.8,146.2 L522.3,146.2 L522.8,146.2 L523.3,146.2 L523.8,146.2 L524.3,146.2 L524.8,146.2 L525.3,146.2 L525.8,146.2 L526.3,146.2 L526.8,146.2 L527.3,146.2 L527.8,146.2 L528.3,146.2 L528.8,146.2 L529.3,146.2 L529.8,146.2 L530.3,146.2 L530.8,146.2 L531.3,146.2 L531.8,146.2 L532.3,146.2 L532.8,146.2 L533.3,146.2 L533.8,146.2 L534.3,146.2 L534.8,146.2 L535.3,146.2 L535.8,146.2 L536.3,146.2 L536.8,146.2 L537.3,146.2 L537.8,146.2 L538.3,146.2 L538.8,146.2 L539.3,146.2 L539.8,146.2 L540.3,146.2 L540.8,146.2 L541.3,146.2 L541.8,146.2 L542.3,146.2 L542.8,146.2 L543.3,146.2 L543.8,146.2 L544.3,146.2 L544.8,146.2 L545.3,146.2 L545.8,146.2 L546.3,146.2 L546.8,146.2 L547.3,146.2 L547.8,146.2 L548.3,146.2 L548.8,146.2 L549.3,146.2 L549.8,146.2 L550.3,146.2 L550.8,146.2 L551.3,146.2 L551.8,146.2 L552.3,146.2 L552.8,146.2 L553.3,146.2 L553.8,146.2 L554.3,146.2 L554.8,146.2 L555.3,146.2 L555.8,146.2 L556.3,146.2 L556.8,146.2 L557.3,146.2 L557.8,146.2 L558.3,146.2 L558.8,146.2 L559.3,146.2 L559.8,146.2 L560.3,146.2 L560.8,146.2 L561.3,146.2 L561.8,146.2 L562.3,146.2 L562.8,146.2 L563.3,146.2 L563.8,146.2 L564.3,146.2 L564.8,146.2 L565.3,146.2 L565.8,146.2 L566.3,146.2 L566.8,146.2 L567.3,146.2 L567.8,146.2 L568.3,146.2 L568.8,146.2 L569.3,146.2 L569.8,146.2 L570.3,146.2 L570.8,146.2 L571.3,146.2 L571.8,146.2 L572.3,146.2 L572.8,146.2 L573.3,146.2 L573.8,146.2 L574.3,146.2 L574.8,146.2 L575.3,146.2 L575.8,146.2 L576.3,146.2 L576.8,146.2 L577.3,146.2 L577.8,146.2 L578.3,146.2 L578.8,146.2 L579.3,146.2 L579.8,146.2 L580.3,146.2 L580.8,146.2 L581.3,146.2 L581.8,146.2 L582.3,146.2 L582.8,146.2 L583.3,146.2 L583.8,146.2 L584.3,146.2 L584.8,146.2 L585.3,146.2 L585.8,146.2 L586.3,146.2 L586.8,146.2 L587.3,146.2 L587.8,146.2 L588.3,146.2 L588.8,146.2 L589.3,146.2 L589.8,146.2 L590.3,146.2 L590.8,146.2 L591.3,146.2 L591.8,146.2 L592.3,146.2 L592.8,146.2 L593.3,146.2 L593.8,146.2 L594.3,146.2 L594.8,146.2 L595.3,146.2 L595.8,146.2 L596.3,146.2 L596.8,146.2 L597.3,146.2 L597.8,146.2 L598.3,146.2 L598.8,146.2 L599.3,146.2 L599.8,146.2 L600.3,146.2 L600.8,146.1 L601.3,146.1 L601.8,146.1 L602.3,146.1 L602.8,146.1 L603.3,146.1 L603.8,146.1 L604.3,146.0 L604.8,146.0 L605.3,146.0 L605.8,145.9 L606.3,145.9 L606.8,145.9 L607.3,145.8 L607.8,145.8 L608.3,145.7 L608.8,145.6 L609.3,145.6 L609.8,145.5 L610.3,145.4 L610.8,145.3 L611.3,145.2 L611.8,145.1 L612.3,145.0 L612.8,144.9 L613.3,144.8 L613.8,144.6 L614.3,144.5 L614.8,144.4 L615.3,144.3 L615.8,144.1 L616.3,144.0 L616.8,143.9 L617.3,143.7 L617.8,143.6 L618.3,143.5 L618.8,143.4 L619.3,143.3 L619.8,143.2 L620.3,143.1 L620.8,143.0 L621.3,142.9 L621.8,142.8 L622.3,142.8 L622.8,142.7 L623.3,142.7 L623.8,142.7 L624.3,142.7 L624.8,142.7 L625.3,142.7 L625.8,142.8 L626.3,142.8 L626.8,142.9 L627.3,143.0 L627.8,143.1 L628.3,143.2 L628.8,143.3 L629.3,143.4 L629.8,143.5 L630.3,143.6 L630.8,143.6 L631.3,143.7 L631.8,143.8 L632.3,143.9 L632.8,144.0 L633.3,144.0 L633.8,144.1 L634.3,144.2 L634.8,144.3 L635.3,144.3 L635.8,144.4 L636.3,144.5 L636.8,144.5 L637.3,144.6 L637.8,144.6 L638.3,144.6 L638.8,144.7 L639.3,144.7 L639.8,144.7 L640.3,144.8 L640.8,144.8 L641.3,144.9 L641.8,144.9 L642.3,145.0 L642.8,145.0 L643.3,145.0 L643.8,145.1 L644.3,145.1 L644.8,145.1 L645.3,145.1 L645.8,145.1 L646.3,145.2 L646.8,145.2 L647.3,145.2 L647.8,145.2 L648.3,145.2 L648.8,145.2 L649.3,145.2 L649.8,145.2 L650.3,145.2 L650.8,145.2 L651.3,145.2 L651.8,145.2 L652.3,145.2 L652.8,145.2 L653.3,145.2 L653.8,145.2 L654.3,145.2 L654.8,145.2 L655.3,145.2 L655.8,145.2 L656.3,145.2 L656.8,145.2 L657.3,145.2 L657.8,145.2 L658.3,145.2 L658.8,145.2 L659.3,145.2 L659.8,145.2 L660.3,145.2 L660.8,145.2 L661.3,145.2 L661.8,145.2 L662.3,145.2 L662.8,145.2 L663.3,145.2 L663.8,145.2 L664.3,145.2 L664.8,145.2 L665.3,145.2 L665.8,145.2 L666.3,145.2 L666.8,145.2 L667.3,145.2 L667.8,145.2 L668.3,145.2 L668.8,145.2 L669.3,145.2 L669.8,145.2 L670.3,145.2 L670.8,145.2 L671.3,145.2 L671.8,145.2 L672.3,145.2 L672.8,145.2 L673.3,145.2 L673.8,145.2 L674.3,145.2 L674.8,145.2 L675.3,145.2 L675.8,145.2 L676.3,145.2 L676.8,145.2 L677.3,145.2" stroke="#d82b26" stroke-width="1.5" fill="none" stroke-linejoin="round" stroke-linecap="round" />
<path d="M558.8,146.4 C563,149 569,148 572.3,139.5" stroke="#111" stroke-width="1.1" fill="none" stroke-linejoin="round" stroke-linecap="round" />
<path d="M574.2,136.5 L569.8,139.0 L573.6,141.3 Z" fill="#111"/>
<text x="570.6" y="132.4" font-size="10" text-anchor="start" font-weight="normal" fill="#231f20" >TEP free</text>
<line x1="625.4" y1="80.4" x2="634.8" y2="80.4" stroke="#c0642c" stroke-width="1.6" />
<line x1="625.4" y1="92.5" x2="634.8" y2="92.5" stroke="#9a9a9a" stroke-width="1.6" />
<line x1="625.4" y1="108.3" x2="634.8" y2="108.3" stroke="#6a98d8" stroke-width="1.6" />
<line x1="625.4" y1="120.5" x2="634.8" y2="120.5" stroke="#d82b26" stroke-width="1.6" />
<text x="640.5" y="84.4" font-size="11" text-anchor="start" font-weight="normal" fill="#231f20" >O-Ac<tspan dy="-4" font-size="7">-</tspan></text>
<text x="640.5" y="96.5" font-size="11" text-anchor="start" font-weight="normal" fill="#231f20" >O-H<tspan dy="3" font-size="7.5">2</tspan><tspan dy="-3">O</tspan></text>
<text x="640.5" y="112.3" font-size="11" text-anchor="start" font-weight="normal" fill="#231f20" >O-OTf<tspan dy="-4" font-size="7">-</tspan></text>
<text x="640.5" y="124.5" font-size="11" text-anchor="start" font-weight="normal" fill="#231f20" >O-TEP</text>
<text x="501.0" y="84.0" font-size="11" text-anchor="start" font-weight="normal" fill="#231f20" >5% TEP</text>
<rect x="496.8" y="68.4" width="180.9" height="87.2" stroke="#3c3c3c" stroke-width="1.1" fill="none" />
<line x1="496.8" y1="146.2" x2="493.8" y2="146.2" stroke="#3c3c3c" stroke-width="1" />
<text x="492.6" y="150.1" font-size="11" text-anchor="end" font-weight="normal" fill="#231f20" >0</text>
<line x1="496.8" y1="107.3" x2="493.8" y2="107.3" stroke="#3c3c3c" stroke-width="1" />
<text x="492.6" y="111.2" font-size="11" text-anchor="end" font-weight="normal" fill="#231f20" >40</text>
<line x1="496.8" y1="68.5" x2="493.8" y2="68.5" stroke="#3c3c3c" stroke-width="1" />
<text x="492.6" y="72.4" font-size="11" text-anchor="end" font-weight="normal" fill="#231f20" >80</text>
<line x1="496.8" y1="126.8" x2="494.8" y2="126.8" stroke="#3c3c3c" stroke-width="1" />
<line x1="496.8" y1="87.9" x2="494.8" y2="87.9" stroke="#3c3c3c" stroke-width="1" />
<line x1="496.8" y1="155.6" x2="496.8" y2="158.6" stroke="#3c3c3c" stroke-width="1" />
<line x1="527.0" y1="155.6" x2="527.0" y2="157.6" stroke="#3c3c3c" stroke-width="1" />
<line x1="557.1" y1="155.6" x2="557.1" y2="158.6" stroke="#3c3c3c" stroke-width="1" />
<line x1="587.2" y1="155.6" x2="587.2" y2="157.6" stroke="#3c3c3c" stroke-width="1" />
<line x1="617.4" y1="155.6" x2="617.4" y2="158.6" stroke="#3c3c3c" stroke-width="1" />
<line x1="647.6" y1="155.6" x2="647.6" y2="157.6" stroke="#3c3c3c" stroke-width="1" />
<line x1="677.7" y1="155.6" x2="677.7" y2="158.6" stroke="#3c3c3c" stroke-width="1" />
<text x="496.8" y="169.5" font-size="11" text-anchor="middle" font-weight="normal" fill="#231f20" >0.0</text>
<text x="557.1" y="169.5" font-size="11" text-anchor="middle" font-weight="normal" fill="#231f20" >0.2</text>
<text x="617.4" y="169.5" font-size="11" text-anchor="middle" font-weight="normal" fill="#231f20" >0.4</text>
<text x="677.7" y="169.5" font-size="11" text-anchor="middle" font-weight="normal" fill="#231f20" >0.6</text>
<text x="587.2" y="185.8" font-size="11" text-anchor="middle" fill="#231f20"><tspan font-style="italic">r</tspan> / nm</text>
<text transform="translate(476.0,77.3) rotate(-90)" font-size="11" text-anchor="middle" fill="#231f20">g (<tspan font-style="italic">r</tspan>)</text>
<text x="403.6" y="215.3" font-size="12.5" text-anchor="start" font-weight="bold" fill="#231f20" >f</text>
<line x1="462.7" y1="204.8" x2="462.7" y2="347.5" stroke="#111" stroke-width="1.1" stroke-dasharray="4,1.5,1,1.5"/>
<path d="M462.7,352 L460.4,346.2 L465,346.2 Z" fill="#111"/>
<line x1="466.5" y1="339.2" x2="673.5" y2="339.2" stroke="#111" stroke-width="1.1" stroke-dasharray="4,1.5,1,1.5"/>
<path d="M462.4,339.2 L468.2,336.9 L468.2,341.5 Z" fill="#111"/>
<path d="M677.3,339.2 L671.5,336.9 L671.5,341.5 Z" fill="#111"/>
<path d="M462.4,211.7 V238.7 M460.4,211.7 H464.4 M460.4,238.7 H464.4" stroke="#5aaee0" stroke-width="1.1" fill="none" opacity="0.85"/>
<path d="M474.4,265.9 V293.9 M472.4,265.9 H476.4 M472.4,293.9 H476.4" stroke="#5aaee0" stroke-width="1.1" fill="none" opacity="0.85"/>
<path d="M486.3,285.4 V304.6 M484.3,285.4 H488.3 M484.3,304.6 H488.3" stroke="#5aaee0" stroke-width="1.1" fill="none" opacity="0.85"/>
<path d="M498.2,248.4 V273.4 M496.2,248.4 H500.2 M496.2,273.4 H500.2" stroke="#5aaee0" stroke-width="1.1" fill="none" opacity="0.85"/>
<path d="M510.2,252.3 V275.3 M508.2,252.3 H512.2 M508.2,275.3 H512.2" stroke="#5aaee0" stroke-width="1.1" fill="none" opacity="0.85"/>
<path d="M522.1,250.8 V271.8 M520.1,250.8 H524.1 M520.1,271.8 H524.1" stroke="#5aaee0" stroke-width="1.1" fill="none" opacity="0.85"/>
<path d="M534.1,248.6 V269.6 M532.1,248.6 H536.1 M532.1,269.6 H536.1" stroke="#5aaee0" stroke-width="1.1" fill="none" opacity="0.85"/>
<path d="M546.0,251.3 V273.3 M544.0,251.3 H548.0 M544.0,273.3 H548.0" stroke="#5aaee0" stroke-width="1.1" fill="none" opacity="0.85"/>
<path d="M558.0,253.5 V277.1 M556.0,253.5 H560.0 M556.0,277.1 H560.0" stroke="#5aaee0" stroke-width="1.1" fill="none" opacity="0.85"/>
<path d="M570.0,250.9 V278.1 M568.0,250.9 H572.0 M568.0,278.1 H572.0" stroke="#5aaee0" stroke-width="1.1" fill="none" opacity="0.85"/>
<path d="M581.9,249.6 V275.0 M579.9,249.6 H583.9 M579.9,275.0 H583.9" stroke="#5aaee0" stroke-width="1.1" fill="none" opacity="0.85"/>
<path d="M593.9,246.4 V273.4 M591.9,246.4 H595.9 M591.9,273.4 H595.9" stroke="#5aaee0" stroke-width="1.1" fill="none" opacity="0.85"/>
<path d="M605.8,245.6 V269.4 M603.8,245.6 H607.8 M603.8,269.4 H607.8" stroke="#5aaee0" stroke-width="1.1" fill="none" opacity="0.85"/>
<path d="M617.8,244.7 V270.9 M615.8,244.7 H619.8 M615.8,270.9 H619.8" stroke="#5aaee0" stroke-width="1.1" fill="none" opacity="0.85"/>
<path d="M629.7,247.7 V272.9 M627.7,247.7 H631.7 M627.7,272.9 H631.7" stroke="#5aaee0" stroke-width="1.1" fill="none" opacity="0.85"/>
<path d="M641.6,249.8 V273.6 M639.6,249.8 H643.6 M639.6,273.6 H643.6" stroke="#5aaee0" stroke-width="1.1" fill="none" opacity="0.85"/>
<path d="M653.6,251.5 V273.5 M651.6,251.5 H655.6 M651.6,273.5 H655.6" stroke="#5aaee0" stroke-width="1.1" fill="none" opacity="0.85"/>
<path d="M665.5,252.4 V274.4 M663.5,252.4 H667.5 M663.5,274.4 H667.5" stroke="#5aaee0" stroke-width="1.1" fill="none" opacity="0.85"/>
<path d="M677.5,252.4 V273.8 M675.5,252.4 H679.5 M675.5,273.8 H679.5" stroke="#5aaee0" stroke-width="1.1" fill="none" opacity="0.85"/>
<path d="M462.4,248.0 V280.0 M460.4,248.0 H464.4 M460.4,280.0 H464.4" stroke="#e0504a" stroke-width="1.1" fill="none" opacity="0.85"/>
<path d="M474.4,266.1 V294.7 M472.4,266.1 H476.4 M472.4,294.7 H476.4" stroke="#e0504a" stroke-width="1.1" fill="none" opacity="0.85"/>
<path d="M486.3,297.6 V314.4 M484.3,297.6 H488.3 M484.3,314.4 H488.3" stroke="#e0504a" stroke-width="1.1" fill="none" opacity="0.85"/>
<path d="M498.2,259.8 V286.8 M496.2,259.8 H500.2 M496.2,286.8 H500.2" stroke="#e0504a" stroke-width="1.1" fill="none" opacity="0.85"/>
<path d="M510.2,259.3 V282.9 M508.2,259.3 H512.2 M508.2,282.9 H512.2" stroke="#e0504a" stroke-width="1.1" fill="none" opacity="0.85"/>
<path d="M522.1,256.4 V278.4 M520.1,256.4 H524.1 M520.1,278.4 H524.1" stroke="#e0504a" stroke-width="1.1" fill="none" opacity="0.85"/>
<path d="M534.1,247.0 V271.8 M532.1,247.0 H536.1 M532.1,271.8 H536.1" stroke="#e0504a" stroke-width="1.1" fill="none" opacity="0.85"/>
<path d="M546.0,248.1 V273.1 M544.0,248.1 H548.0 M544.0,273.1 H548.0" stroke="#e0504a" stroke-width="1.1" fill="none" opacity="0.85"/>
<path d="M558.0,255.9 V279.9 M556.0,255.9 H560.0 M556.0,279.9 H560.0" stroke="#e0504a" stroke-width="1.1" fill="none" opacity="0.85"/>
<path d="M570.0,254.8 V281.0 M568.0,254.8 H572.0 M568.0,281.0 H572.0" stroke="#e0504a" stroke-width="1.1" fill="none" opacity="0.85"/>
<path d="M581.9,256.2 V276.6 M579.9,256.2 H583.9 M579.9,276.6 H583.9" stroke="#e0504a" stroke-width="1.1" fill="none" opacity="0.85"/>
<path d="M593.9,259.1 V281.1 M591.9,259.1 H595.9 M591.9,281.1 H595.9" stroke="#e0504a" stroke-width="1.1" fill="none" opacity="0.85"/>
<path d="M605.8,255.8 V279.2 M603.8,255.8 H607.8 M603.8,279.2 H607.8" stroke="#e0504a" stroke-width="1.1" fill="none" opacity="0.85"/>
<path d="M617.8,257.7 V279.7 M615.8,257.7 H619.8 M615.8,279.7 H619.8" stroke="#e0504a" stroke-width="1.1" fill="none" opacity="0.85"/>
<path d="M629.7,257.3 V281.9 M627.7,257.3 H631.7 M627.7,281.9 H631.7" stroke="#e0504a" stroke-width="1.1" fill="none" opacity="0.85"/>
<path d="M641.6,258.8 V282.8 M639.6,258.8 H643.6 M639.6,282.8 H643.6" stroke="#e0504a" stroke-width="1.1" fill="none" opacity="0.85"/>
<path d="M653.6,260.4 V280.4 M651.6,260.4 H655.6 M651.6,280.4 H655.6" stroke="#e0504a" stroke-width="1.1" fill="none" opacity="0.85"/>
<path d="M665.5,263.4 V284.4 M663.5,263.4 H667.5 M663.5,284.4 H667.5" stroke="#e0504a" stroke-width="1.1" fill="none" opacity="0.85"/>
<path d="M677.5,258.9 V288.9 M675.5,258.9 H679.5 M675.5,288.9 H679.5" stroke="#e0504a" stroke-width="1.1" fill="none" opacity="0.85"/>
<path d="M438.5,348.2 L450.4,348.2 L462.4,225.2 L474.4,279.9 L486.3,295.0 L498.2,260.9 L510.2,263.8 L522.1,261.3 L534.1,259.1 L546.0,262.3 L558.0,265.3 L570.0,264.5 L581.9,262.3 L593.9,259.9 L605.8,257.5 L617.8,257.8 L629.7,260.3 L641.6,261.7 L653.6,262.5 L665.5,263.4 L677.5,263.1" stroke="#3a9ad6" stroke-width="1.5" fill="none" stroke-linejoin="round" stroke-linecap="round" />
<rect x="436.2" y="345.9" width="4.6" height="4.6" fill="#3a9ad6"/>
<rect x="448.1" y="345.9" width="4.6" height="4.6" fill="#3a9ad6"/>
<rect x="460.1" y="222.9" width="4.6" height="4.6" fill="#3a9ad6"/>
<rect x="472.1" y="277.6" width="4.6" height="4.6" fill="#3a9ad6"/>
<rect x="484.0" y="292.7" width="4.6" height="4.6" fill="#3a9ad6"/>
<rect x="495.9" y="258.6" width="4.6" height="4.6" fill="#3a9ad6"/>
<rect x="507.9" y="261.5" width="4.6" height="4.6" fill="#3a9ad6"/>
<rect x="519.9" y="259.0" width="4.6" height="4.6" fill="#3a9ad6"/>
<rect x="531.8" y="256.8" width="4.6" height="4.6" fill="#3a9ad6"/>
<rect x="543.8" y="260.0" width="4.6" height="4.6" fill="#3a9ad6"/>
<rect x="555.7" y="263.0" width="4.6" height="4.6" fill="#3a9ad6"/>
<rect x="567.7" y="262.2" width="4.6" height="4.6" fill="#3a9ad6"/>
<rect x="579.6" y="260.0" width="4.6" height="4.6" fill="#3a9ad6"/>
<rect x="591.6" y="257.6" width="4.6" height="4.6" fill="#3a9ad6"/>
<rect x="603.5" y="255.2" width="4.6" height="4.6" fill="#3a9ad6"/>
<rect x="615.5" y="255.5" width="4.6" height="4.6" fill="#3a9ad6"/>
<rect x="627.4" y="258.0" width="4.6" height="4.6" fill="#3a9ad6"/>
<rect x="639.4" y="259.4" width="4.6" height="4.6" fill="#3a9ad6"/>
<rect x="651.3" y="260.2" width="4.6" height="4.6" fill="#3a9ad6"/>
<rect x="663.2" y="261.1" width="4.6" height="4.6" fill="#3a9ad6"/>
<rect x="675.2" y="260.8" width="4.6" height="4.6" fill="#3a9ad6"/>
<path d="M438.5,348.2 L450.4,348.2 L462.4,264.0 L474.4,280.4 L486.3,306.0 L498.2,273.3 L510.2,271.1 L522.1,267.4 L534.1,259.4 L546.0,260.6 L558.0,267.9 L570.0,267.9 L581.9,266.4 L593.9,270.1 L605.8,267.5 L617.8,268.7 L629.7,269.6 L641.6,270.8 L653.6,270.4 L665.5,273.9 L677.5,273.9" stroke="#d82b26" stroke-width="1.5" fill="none" stroke-linejoin="round" stroke-linecap="round" />
<circle cx="438.5" cy="348.2" r="2.8" fill="#d82b26"/>
<circle cx="450.4" cy="348.2" r="2.8" fill="#d82b26"/>
<circle cx="462.4" cy="264.0" r="2.8" fill="#d82b26"/>
<circle cx="474.4" cy="280.4" r="2.8" fill="#d82b26"/>
<circle cx="486.3" cy="306.0" r="2.8" fill="#d82b26"/>
<circle cx="498.2" cy="273.3" r="2.8" fill="#d82b26"/>
<circle cx="510.2" cy="271.1" r="2.8" fill="#d82b26"/>
<circle cx="522.1" cy="267.4" r="2.8" fill="#d82b26"/>
<circle cx="534.1" cy="259.4" r="2.8" fill="#d82b26"/>
<circle cx="546.0" cy="260.6" r="2.8" fill="#d82b26"/>
<circle cx="558.0" cy="267.9" r="2.8" fill="#d82b26"/>
<circle cx="570.0" cy="267.9" r="2.8" fill="#d82b26"/>
<circle cx="581.9" cy="266.4" r="2.8" fill="#d82b26"/>
<circle cx="593.9" cy="270.1" r="2.8" fill="#d82b26"/>
<circle cx="605.8" cy="267.5" r="2.8" fill="#d82b26"/>
<circle cx="617.8" cy="268.7" r="2.8" fill="#d82b26"/>
<circle cx="629.7" cy="269.6" r="2.8" fill="#d82b26"/>
<circle cx="641.6" cy="270.8" r="2.8" fill="#d82b26"/>
<circle cx="653.6" cy="270.4" r="2.8" fill="#d82b26"/>
<circle cx="665.5" cy="273.9" r="2.8" fill="#d82b26"/>
<circle cx="677.5" cy="273.9" r="2.8" fill="#d82b26"/>
<ellipse cx="462.7" cy="225.2" rx="6.6" ry="5.8" fill="none" stroke="#111" stroke-width="1.05" stroke-dasharray="1.3,1.1"/>
<ellipse cx="462.7" cy="264.0" rx="6.6" ry="5.8" fill="none" stroke="#111" stroke-width="1.05" stroke-dasharray="1.3,1.1"/>
<rect x="438.3" y="207.3" width="239.2" height="144.5" stroke="#3c3c3c" stroke-width="1.1" fill="none" />
<line x1="438.3" y1="348.2" x2="434.8" y2="348.2" stroke="#3c3c3c" stroke-width="1" />
<text x="433.6" y="352.1" font-size="11" text-anchor="end" font-weight="normal" fill="#231f20" >0</text>
<line x1="438.3" y1="330.6" x2="436.3" y2="330.6" stroke="#3c3c3c" stroke-width="1" />
<line x1="438.3" y1="313.0" x2="434.8" y2="313.0" stroke="#3c3c3c" stroke-width="1" />
<text x="433.6" y="316.9" font-size="11" text-anchor="end" font-weight="normal" fill="#231f20" >50</text>
<line x1="438.3" y1="295.4" x2="436.3" y2="295.4" stroke="#3c3c3c" stroke-width="1" />
<line x1="438.3" y1="277.8" x2="434.8" y2="277.8" stroke="#3c3c3c" stroke-width="1" />
<text x="433.6" y="281.7" font-size="11" text-anchor="end" font-weight="normal" fill="#231f20" >100</text>
<line x1="438.3" y1="260.2" x2="436.3" y2="260.2" stroke="#3c3c3c" stroke-width="1" />
<line x1="438.3" y1="242.6" x2="434.8" y2="242.6" stroke="#3c3c3c" stroke-width="1" />
<text x="433.6" y="246.5" font-size="11" text-anchor="end" font-weight="normal" fill="#231f20" >150</text>
<line x1="438.3" y1="225.0" x2="436.3" y2="225.0" stroke="#3c3c3c" stroke-width="1" />
<line x1="438.3" y1="207.4" x2="434.8" y2="207.4" stroke="#3c3c3c" stroke-width="1" />
<text x="433.6" y="211.3" font-size="11" text-anchor="end" font-weight="normal" fill="#231f20" >200</text>
<line x1="438.5" y1="351.8" x2="438.5" y2="354.8" stroke="#3c3c3c" stroke-width="1" />
<line x1="468.4" y1="351.8" x2="468.4" y2="353.8" stroke="#3c3c3c" stroke-width="1" />
<line x1="498.2" y1="351.8" x2="498.2" y2="354.8" stroke="#3c3c3c" stroke-width="1" />
<line x1="528.1" y1="351.8" x2="528.1" y2="353.8" stroke="#3c3c3c" stroke-width="1" />
<line x1="558.0" y1="351.8" x2="558.0" y2="354.8" stroke="#3c3c3c" stroke-width="1" />
<line x1="587.9" y1="351.8" x2="587.9" y2="353.8" stroke="#3c3c3c" stroke-width="1" />
<line x1="617.8" y1="351.8" x2="617.8" y2="354.8" stroke="#3c3c3c" stroke-width="1" />
<line x1="647.6" y1="351.8" x2="647.6" y2="353.8" stroke="#3c3c3c" stroke-width="1" />
<line x1="677.5" y1="351.8" x2="677.5" y2="354.8" stroke="#3c3c3c" stroke-width="1" />
<text x="438.5" y="365.8" font-size="11" text-anchor="middle" font-weight="normal" fill="#231f20" >0.0</text>
<text x="498.2" y="365.8" font-size="11" text-anchor="middle" font-weight="normal" fill="#231f20" >0.5</text>
<text x="558.0" y="365.8" font-size="11" text-anchor="middle" font-weight="normal" fill="#231f20" >1.0</text>
<text x="617.8" y="365.8" font-size="11" text-anchor="middle" font-weight="normal" fill="#231f20" >1.5</text>
<text x="677.5" y="365.8" font-size="11" text-anchor="middle" font-weight="normal" fill="#231f20" >2.0</text>
<text x="558.3" y="380.7" font-size="11" text-anchor="middle" font-weight="normal" fill="#231f20" >Distance to Zn surface / nm</text>
<text x="462.1" y="204.1" font-size="10.8" text-anchor="middle" font-weight="normal" fill="#231f20" >Interface</text>
<text x="575.3" y="335.0" font-size="10.9" text-anchor="middle" font-weight="normal" fill="#231f20" >Close interface</text>
<text transform="translate(411.6,280.0) rotate(-90)" font-size="11" text-anchor="middle" fill="#231f20">H-bond numbers</text>
<line x1="601.3" y1="218.7" x2="616.7" y2="218.7" stroke="#3a9ad6" stroke-width="1.5" />
<rect x="606.7" y="216.4" width="4.6" height="4.6" fill="#3a9ad6"/>
<line x1="601.3" y1="232.1" x2="616.7" y2="232.1" stroke="#d82b26" stroke-width="1.5" />
<circle cx="609" cy="232.1" r="2.8" fill="#d82b26"/>
<text x="624.2" y="222.7" font-size="11" text-anchor="start" font-weight="normal" fill="#231f20" >0% Addi</text>
<text x="624.2" y="236.1" font-size="11" text-anchor="start" font-weight="normal" fill="#231f20" >5% TEP</text>
<text x="402.6" y="397.4" font-size="12.5" text-anchor="start" font-weight="bold" fill="#231f20" >g</text>
<line x1="460.7" y1="432.8" x2="491.1" y2="432.8" stroke="#3a9ad6" stroke-width="1.8" />
<line x1="460.7" y1="544.4" x2="491.1" y2="544.4" stroke="#d82b26" stroke-width="1.8" />
<line x1="475.9" y1="432.8" x2="475.9" y2="540.4" stroke="#8c8c8c" stroke-width="1.4" />
<path d="M475.9,544.7 L473.5,539.2 L478.3,539.2 Z" fill="#8c8c8c"/>
<circle cx="475.9" cy="432.8" r="2.2" fill="#8c8c8c"/>
<line x1="475.9" y1="423.4" x2="475.9" y2="420.9" stroke="#3c3c3c" stroke-width="1" />
<line x1="547.4" y1="432.8" x2="577.8" y2="432.8" stroke="#3a9ad6" stroke-width="1.8" />
<line x1="547.4" y1="470.0" x2="577.8" y2="470.0" stroke="#d82b26" stroke-width="1.8" />
<line x1="562.6" y1="432.8" x2="562.6" y2="466.0" stroke="#8c8c8c" stroke-width="1.4" />
<path d="M562.6,470.3 L560.2,464.8 L565.0,464.8 Z" fill="#8c8c8c"/>
<circle cx="562.6" cy="432.8" r="2.2" fill="#8c8c8c"/>
<line x1="562.6" y1="423.4" x2="562.6" y2="420.9" stroke="#3c3c3c" stroke-width="1" />
<line x1="633.9" y1="432.8" x2="664.3" y2="432.8" stroke="#3a9ad6" stroke-width="1.8" />
<line x1="633.9" y1="455.1" x2="664.3" y2="455.1" stroke="#d82b26" stroke-width="1.8" />
<line x1="649.1" y1="432.8" x2="649.1" y2="451.1" stroke="#8c8c8c" stroke-width="1.4" />
<path d="M649.1,455.4 L646.7,449.9 L651.5,449.9 Z" fill="#8c8c8c"/>
<circle cx="649.1" cy="432.8" r="2.2" fill="#8c8c8c"/>
<line x1="649.1" y1="423.4" x2="649.1" y2="420.9" stroke="#3c3c3c" stroke-width="1" />
<text x="479.2" y="491.4" font-size="11" text-anchor="start" font-weight="normal" fill="#231f20" >30%</text>
<text x="537.0" y="456.5" font-size="11" text-anchor="start" font-weight="normal" fill="#231f20" >10%</text>
<text x="627.7" y="448.6" font-size="11" text-anchor="start" font-weight="normal" fill="#231f20" >6%</text>
<text x="477.8" y="419.7" font-size="11" text-anchor="middle" font-weight="normal" fill="#231f20" >Interface</text>
<text x="564.8" y="420.2" font-size="11.2" text-anchor="middle" font-weight="normal" fill="#231f20" >Close interface</text>
<text x="649.8" y="420.2" font-size="11" text-anchor="middle" font-weight="normal" fill="#231f20" >Overall</text>
<rect x="447.2" y="423.4" width="230.4" height="129.8" stroke="#3c3c3c" stroke-width="1.1" fill="none" />
<line x1="447.2" y1="432.8" x2="443.7" y2="432.8" stroke="#3c3c3c" stroke-width="1" />
<line x1="447.2" y1="451.4" x2="445.2" y2="451.4" stroke="#3c3c3c" stroke-width="1" />
<line x1="447.2" y1="470.0" x2="443.7" y2="470.0" stroke="#3c3c3c" stroke-width="1" />
<line x1="447.2" y1="488.6" x2="445.2" y2="488.6" stroke="#3c3c3c" stroke-width="1" />
<line x1="447.2" y1="507.2" x2="443.7" y2="507.2" stroke="#3c3c3c" stroke-width="1" />
<line x1="447.2" y1="525.8" x2="445.2" y2="525.8" stroke="#3c3c3c" stroke-width="1" />
<line x1="447.2" y1="544.4" x2="443.7" y2="544.4" stroke="#3c3c3c" stroke-width="1" />
<text x="442.2" y="436.5" font-size="11" text-anchor="end" font-weight="normal" fill="#231f20" >0%</text>
<text x="442.2" y="473.7" font-size="11" text-anchor="end" font-weight="normal" fill="#231f20" >10%</text>
<text x="442.2" y="510.9" font-size="11" text-anchor="end" font-weight="normal" fill="#231f20" >20%</text>
<text x="442.2" y="548.1" font-size="11" text-anchor="end" font-weight="normal" fill="#231f20" >30%</text>
<text transform="translate(415.6,488.0) rotate(-90)" font-size="11" text-anchor="middle" fill="#231f20">Decreased H<tspan dy="3" font-size="7.5">2</tspan><tspan dy="-3">O-H</tspan><tspan dy="3" font-size="7.5">2</tspan><tspan dy="-3">O H-bonds</tspan></text>
<line x1="586.4" y1="513.1" x2="613.2" y2="513.1" stroke="#3a9ad6" stroke-width="1.8" />
<line x1="586.4" y1="531.2" x2="613.2" y2="531.2" stroke="#d82b26" stroke-width="1.8" />
<text x="622.5" y="517.2" font-size="11" text-anchor="start" font-weight="normal" fill="#231f20" >0% Addi</text>
<text x="622.5" y="534.7" font-size="11" text-anchor="start" font-weight="normal" fill="#231f20" >5% TEP</text>
</svg></body></html>
